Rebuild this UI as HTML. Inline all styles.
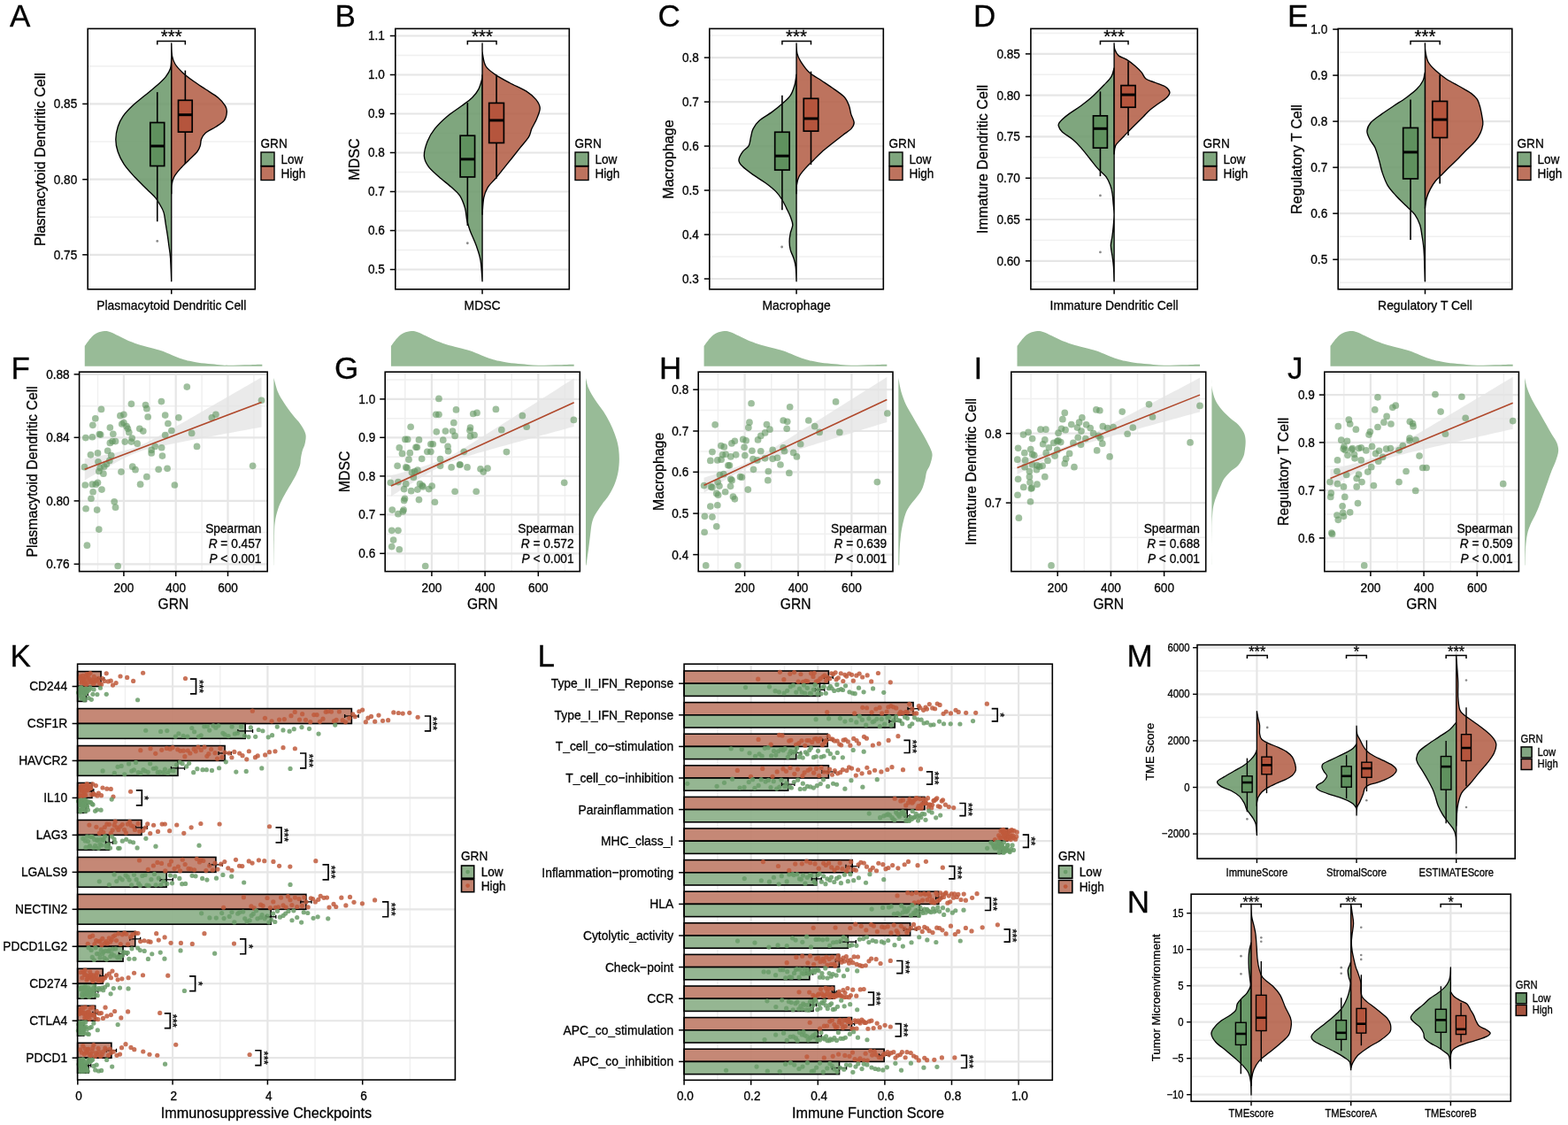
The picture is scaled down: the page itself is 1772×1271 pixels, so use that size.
<!DOCTYPE html><html><head><meta charset="utf-8"><style>html,body{margin:0;padding:0;background:#fff;}svg{display:block;}</style></head><body>
<svg width="1772" height="1271" viewBox="0 0 1772 1271" font-family="'Liberation Sans', Arial, Helvetica, sans-serif" fill="#000">
<style>text{stroke:#000;stroke-width:0.28px;paint-order:stroke;}</style>
<rect width="1772" height="1271" fill="#fff"/>
<line x1="99.2" y1="74.8" x2="288.3" y2="74.8" stroke="#f0f0f0" stroke-width="1.4"/>
<line x1="99.2" y1="160" x2="288.3" y2="160" stroke="#f0f0f0" stroke-width="1.4"/>
<line x1="99.2" y1="245.2" x2="288.3" y2="245.2" stroke="#f0f0f0" stroke-width="1.4"/>
<line x1="99.2" y1="287.8" x2="288.3" y2="287.8" stroke="#e6e6e6" stroke-width="2.2"/>
<line x1="99.2" y1="202.7" x2="288.3" y2="202.7" stroke="#e6e6e6" stroke-width="2.2"/>
<line x1="99.2" y1="117.4" x2="288.3" y2="117.4" stroke="#e6e6e6" stroke-width="2.2"/>
<path d="M193.75,60 C193.74,60.9 193.89,62.53 193.7,65.4 C193.51,68.27 193.65,73.67 192.6,77.2 C191.55,80.73 189.83,83.47 187.4,86.6 C184.97,89.73 181.93,92.47 178,96 C174.07,99.53 168.52,103.87 163.8,107.8 C159.08,111.73 153.83,115.67 149.7,119.6 C145.57,123.53 141.75,127.47 139,131.4 C136.25,135.33 134.57,138.87 133.2,143.2 C131.83,147.53 130.8,152.68 130.8,157.4 C130.8,162.12 131.63,166.78 133.2,171.5 C134.77,176.22 137.07,180.98 140.2,185.7 C143.33,190.42 147.67,195.08 152,199.8 C156.33,204.52 162.27,210.07 166.2,214 C170.13,217.93 173.25,220.65 175.6,223.4 C177.95,226.15 178.73,227.75 180.3,230.5 C181.87,233.25 183.82,235.97 185,239.9 C186.18,243.83 186.68,249.78 187.4,254.1 C188.12,258.42 188.72,261.88 189.3,265.8 C189.88,269.72 190.35,273.27 190.9,277.6 C191.45,281.93 192.12,285.12 192.6,291.8 C193.07,298.48 193.56,313.38 193.75,317.7 L193.75,317.7 L193.75,60 Z" fill="#689667" fill-opacity="0.85" stroke="#000" stroke-width="1.35" stroke-linejoin="round"/>
<path d="M193.75,48.9 C193.88,51.25 193.79,59.07 194.5,63 C195.21,66.93 196.03,69.35 198,72.5 C199.97,75.65 202.95,78.77 206.3,81.9 C209.65,85.03 213.78,88.15 218.1,91.3 C222.42,94.45 227.48,97.65 232.2,100.8 C236.92,103.95 242.67,107.07 246.4,110.2 C250.13,113.33 252.95,116.85 254.6,119.6 C256.25,122.35 256.5,123.95 256.3,126.7 C256.1,129.45 255.45,133.35 253.4,136.1 C251.35,138.85 247.53,140.83 244,143.2 C240.47,145.57 234.95,147.93 232.2,150.3 C229.45,152.67 228.48,155.05 227.5,157.4 C226.52,159.75 227.08,162.05 226.3,164.4 C225.52,166.75 224.97,168.75 222.8,171.5 C220.63,174.25 216.45,177.75 213.3,180.9 C210.15,184.05 206.65,187.25 203.9,190.4 C201.15,193.55 198.45,196.67 196.8,199.8 C195.15,202.93 194.51,206.05 194,209.2 C193.49,212.35 193.79,217.12 193.75,218.7 L193.75,218.7 L193.75,48.9 Z" fill="#b15a42" fill-opacity="0.85" stroke="#000" stroke-width="1.35" stroke-linejoin="round"/>
<line x1="177.75" y1="104.1" x2="177.75" y2="138.5" stroke="#000" stroke-width="1.6"/>
<line x1="177.75" y1="187.5" x2="177.75" y2="250.3" stroke="#000" stroke-width="1.6"/>
<rect x="169.8" y="138.5" width="15.9" height="49" fill="#5f915e" stroke="#000" stroke-width="1.7"/>
<line x1="169.8" y1="165" x2="185.7" y2="165" stroke="#000" stroke-width="3"/>
<line x1="209.35" y1="79.6" x2="209.35" y2="113.3" stroke="#000" stroke-width="1.6"/>
<line x1="209.35" y1="149.1" x2="209.35" y2="184.9" stroke="#000" stroke-width="1.6"/>
<rect x="201.5" y="113.3" width="15.7" height="35.8" fill="#b5553d" stroke="#000" stroke-width="1.7"/>
<line x1="201.5" y1="129.7" x2="217.2" y2="129.7" stroke="#000" stroke-width="3"/>
<circle cx="177.75" cy="272.4" r="1.4" fill="#8a8a8a"/>
<path d="M177.75,50.6 L177.75,46.6 L209.35,46.6 L209.35,50.6" fill="none" stroke="#000" stroke-width="1.5"/>
<text x="193.75" y="47.8" font-size="20.5" text-anchor="middle">***</text>
<rect x="99.2" y="32.4" width="189.1" height="294.4" fill="none" stroke="#000" stroke-width="1.6"/>
<line x1="93.2" y1="287.8" x2="99.2" y2="287.8" stroke="#000" stroke-width="1.5"/>
<text font-size="13.6" text-anchor="end" transform="translate(87.2 292.7) scale(1 1.1)">0.75</text>
<line x1="93.2" y1="202.7" x2="99.2" y2="202.7" stroke="#000" stroke-width="1.5"/>
<text font-size="13.6" text-anchor="end" transform="translate(87.2 207.6) scale(1 1.1)">0.80</text>
<line x1="93.2" y1="117.4" x2="99.2" y2="117.4" stroke="#000" stroke-width="1.5"/>
<text font-size="13.6" text-anchor="end" transform="translate(87.2 122.3) scale(1 1.1)">0.85</text>
<line x1="193.75" y1="326.8" x2="193.75" y2="332.3" stroke="#000" stroke-width="1.5"/>
<text x="193.75" y="349.8" font-size="13.9" text-anchor="middle">Plasmacytoid Dendritic Cell</text>
<text x="50.7" y="180" font-size="16.1" text-anchor="middle" transform="rotate(-90 50.7 180)">Plasmacytoid Dendritic Cell</text>
<text font-size="13.6" text-anchor="start" transform="translate(294.5 166.5) scale(1 1.1)">GRN</text>
<rect x="295" y="172" width="15" height="15.5" fill="#7fa67e" stroke="#000" stroke-width="1.4"/>
<rect x="295" y="188" width="15" height="15.5" fill="#bd735e" stroke="#000" stroke-width="1.4"/>
<text font-size="13.6" text-anchor="start" transform="translate(317.4 185) scale(1 1.1)">Low</text>
<text font-size="13.6" text-anchor="start" transform="translate(317.4 201) scale(1 1.1)">High</text>
<line x1="446.8" y1="282.5" x2="643.3" y2="282.5" stroke="#f0f0f0" stroke-width="1.4"/>
<line x1="446.8" y1="238.5" x2="643.3" y2="238.5" stroke="#f0f0f0" stroke-width="1.4"/>
<line x1="446.8" y1="194.5" x2="643.3" y2="194.5" stroke="#f0f0f0" stroke-width="1.4"/>
<line x1="446.8" y1="150.5" x2="643.3" y2="150.5" stroke="#f0f0f0" stroke-width="1.4"/>
<line x1="446.8" y1="106.5" x2="643.3" y2="106.5" stroke="#f0f0f0" stroke-width="1.4"/>
<line x1="446.8" y1="62.5" x2="643.3" y2="62.5" stroke="#f0f0f0" stroke-width="1.4"/>
<line x1="446.8" y1="304.5" x2="643.3" y2="304.5" stroke="#e6e6e6" stroke-width="2.2"/>
<line x1="446.8" y1="260.5" x2="643.3" y2="260.5" stroke="#e6e6e6" stroke-width="2.2"/>
<line x1="446.8" y1="216.5" x2="643.3" y2="216.5" stroke="#e6e6e6" stroke-width="2.2"/>
<line x1="446.8" y1="172.5" x2="643.3" y2="172.5" stroke="#e6e6e6" stroke-width="2.2"/>
<line x1="446.8" y1="128.5" x2="643.3" y2="128.5" stroke="#e6e6e6" stroke-width="2.2"/>
<line x1="446.8" y1="84.5" x2="643.3" y2="84.5" stroke="#e6e6e6" stroke-width="2.2"/>
<line x1="446.8" y1="40.5" x2="643.3" y2="40.5" stroke="#e6e6e6" stroke-width="2.2"/>
<path d="M545.05,84.97 C545.01,85.63 545.48,86.29 544.77,88.94 C544.06,91.58 542.65,97.29 540.8,100.83 C538.96,104.37 536.89,107.06 533.72,110.18 C530.56,113.3 526.55,115.99 521.83,119.53 C517.11,123.07 510.5,127.08 505.4,131.42 C500.3,135.77 494.97,140.86 491.24,145.58 C487.51,150.3 485.01,154.65 483.02,159.75 C481.04,164.84 479.15,171.45 479.34,176.17 C479.53,180.89 481.37,184.15 484.16,188.07 C486.94,191.99 491.71,195.76 496.05,199.68 C500.4,203.6 506.3,208.04 510.21,211.58 C514.13,215.12 517.01,217.01 519.56,220.93 C522.11,224.84 524.14,230.37 525.51,235.09 C526.88,239.81 526.78,244.91 527.78,249.25 C528.77,253.59 529.71,256.42 531.46,261.15 C533.2,265.87 536.32,272.05 538.25,277.57 C540.19,283.1 541.94,287.58 543.07,294.28 C544.2,300.99 544.72,313.87 545.05,317.79 L545.05,317.79 L545.05,84.97 Z" fill="#689667" fill-opacity="0.85" stroke="#000" stroke-width="1.35" stroke-linejoin="round"/>
<path d="M545.05,49 C545.1,50.94 544.68,56.32 545.34,60.61 C546,64.91 546.66,70.86 549.02,74.77 C551.38,78.69 554.97,80.96 559.5,84.12 C564.03,87.28 570.31,90.59 576.21,93.75 C582.11,96.91 589.99,99.98 594.9,103.1 C599.81,106.21 603.12,109.28 605.67,112.45 C608.21,115.61 610.01,118.54 610.2,122.08 C610.39,125.62 608.36,129.77 606.8,133.69 C605.24,137.61 602.41,142.04 600.85,145.58 C599.29,149.12 599.62,151.39 597.45,154.93 C595.28,158.47 590.98,162.86 587.82,166.83 C584.66,170.79 581.59,174.81 578.47,178.72 C575.36,182.64 572.29,186.42 569.13,190.34 C565.97,194.25 562.47,198.69 559.5,202.23 C556.52,205.77 553.41,208.04 551.28,211.58 C549.16,215.12 547.79,218.38 546.75,223.47 C545.71,228.57 545.34,239.05 545.05,242.17 L545.05,242.17 L545.05,49 Z" fill="#b15a42" fill-opacity="0.85" stroke="#000" stroke-width="1.35" stroke-linejoin="round"/>
<line x1="528.34" y1="116.13" x2="528.34" y2="153.23" stroke="#000" stroke-width="1.6"/>
<line x1="528.34" y1="199.97" x2="528.34" y2="254.91" stroke="#000" stroke-width="1.6"/>
<rect x="520.13" y="153.23" width="16.43" height="46.73" fill="#5f915e" stroke="#000" stroke-width="1.7"/>
<line x1="520.13" y1="179.86" x2="536.56" y2="179.86" stroke="#000" stroke-width="3"/>
<line x1="561.06" y1="84.4" x2="561.06" y2="116.41" stroke="#000" stroke-width="1.6"/>
<line x1="561.06" y1="161.45" x2="561.06" y2="201.67" stroke="#000" stroke-width="1.6"/>
<rect x="552.7" y="116.41" width="16.71" height="45.03" fill="#b5553d" stroke="#000" stroke-width="1.7"/>
<line x1="552.7" y1="135.95" x2="569.41" y2="135.95" stroke="#000" stroke-width="3"/>
<circle cx="528.34" cy="274.74" r="1.4" fill="#8a8a8a"/>
<path d="M528.34,50.6 L528.34,46.6 L561.06,46.6 L561.06,50.6" fill="none" stroke="#000" stroke-width="1.5"/>
<text x="545.05" y="47.8" font-size="20.5" text-anchor="middle">***</text>
<rect x="446.8" y="32.4" width="196.5" height="294.4" fill="none" stroke="#000" stroke-width="1.6"/>
<line x1="440.8" y1="304.5" x2="446.8" y2="304.5" stroke="#000" stroke-width="1.5"/>
<text font-size="13.6" text-anchor="end" transform="translate(434.8 309.4) scale(1 1.1)">0.5</text>
<line x1="440.8" y1="260.5" x2="446.8" y2="260.5" stroke="#000" stroke-width="1.5"/>
<text font-size="13.6" text-anchor="end" transform="translate(434.8 265.4) scale(1 1.1)">0.6</text>
<line x1="440.8" y1="216.5" x2="446.8" y2="216.5" stroke="#000" stroke-width="1.5"/>
<text font-size="13.6" text-anchor="end" transform="translate(434.8 221.4) scale(1 1.1)">0.7</text>
<line x1="440.8" y1="172.5" x2="446.8" y2="172.5" stroke="#000" stroke-width="1.5"/>
<text font-size="13.6" text-anchor="end" transform="translate(434.8 177.4) scale(1 1.1)">0.8</text>
<line x1="440.8" y1="128.5" x2="446.8" y2="128.5" stroke="#000" stroke-width="1.5"/>
<text font-size="13.6" text-anchor="end" transform="translate(434.8 133.4) scale(1 1.1)">0.9</text>
<line x1="440.8" y1="84.5" x2="446.8" y2="84.5" stroke="#000" stroke-width="1.5"/>
<text font-size="13.6" text-anchor="end" transform="translate(434.8 89.4) scale(1 1.1)">1.0</text>
<line x1="440.8" y1="40.5" x2="446.8" y2="40.5" stroke="#000" stroke-width="1.5"/>
<text font-size="13.6" text-anchor="end" transform="translate(434.8 45.4) scale(1 1.1)">1.1</text>
<line x1="545.05" y1="326.8" x2="545.05" y2="332.3" stroke="#000" stroke-width="1.5"/>
<text x="545.05" y="349.8" font-size="13.9" text-anchor="middle">MDSC</text>
<text x="405.7" y="180" font-size="16.1" text-anchor="middle" transform="rotate(-90 405.7 180)">MDSC</text>
<text font-size="13.6" text-anchor="start" transform="translate(649.5 166.5) scale(1 1.1)">GRN</text>
<rect x="650" y="172" width="15" height="15.5" fill="#7fa67e" stroke="#000" stroke-width="1.4"/>
<rect x="650" y="188" width="15" height="15.5" fill="#bd735e" stroke="#000" stroke-width="1.4"/>
<text font-size="13.6" text-anchor="start" transform="translate(672.4 185) scale(1 1.1)">Low</text>
<text font-size="13.6" text-anchor="start" transform="translate(672.4 201) scale(1 1.1)">High</text>
<line x1="801.8" y1="290.01" x2="998.3" y2="290.01" stroke="#f0f0f0" stroke-width="1.4"/>
<line x1="801.8" y1="240.03" x2="998.3" y2="240.03" stroke="#f0f0f0" stroke-width="1.4"/>
<line x1="801.8" y1="190.05" x2="998.3" y2="190.05" stroke="#f0f0f0" stroke-width="1.4"/>
<line x1="801.8" y1="140.07" x2="998.3" y2="140.07" stroke="#f0f0f0" stroke-width="1.4"/>
<line x1="801.8" y1="90.09" x2="998.3" y2="90.09" stroke="#f0f0f0" stroke-width="1.4"/>
<line x1="801.8" y1="40.11" x2="998.3" y2="40.11" stroke="#f0f0f0" stroke-width="1.4"/>
<line x1="801.8" y1="315" x2="998.3" y2="315" stroke="#e6e6e6" stroke-width="2.2"/>
<line x1="801.8" y1="265.02" x2="998.3" y2="265.02" stroke="#e6e6e6" stroke-width="2.2"/>
<line x1="801.8" y1="215.04" x2="998.3" y2="215.04" stroke="#e6e6e6" stroke-width="2.2"/>
<line x1="801.8" y1="165.06" x2="998.3" y2="165.06" stroke="#e6e6e6" stroke-width="2.2"/>
<line x1="801.8" y1="115.08" x2="998.3" y2="115.08" stroke="#e6e6e6" stroke-width="2.2"/>
<line x1="801.8" y1="65.1" x2="998.3" y2="65.1" stroke="#e6e6e6" stroke-width="2.2"/>
<path d="M900.05,84.12 C899.72,86.1 899.2,92.05 898.07,96.02 C896.94,99.98 895.62,104.37 893.25,107.91 C890.89,111.45 887.4,114.14 883.91,117.26 C880.41,120.38 876.59,123.44 872.3,126.61 C868,129.77 861.67,133.07 858.13,136.24 C854.59,139.4 852.66,142.47 851.05,145.58 C849.45,148.7 849.31,151.77 848.5,154.93 C847.7,158.09 847.8,161.78 846.24,164.56 C844.68,167.35 841.04,168.9 839.16,171.64 C837.27,174.38 834.91,178.25 834.91,180.99 C834.91,183.73 836.47,185.33 839.16,188.07 C841.85,190.81 846.71,194.3 851.05,197.42 C855.4,200.53 860.92,203.6 865.21,206.76 C869.51,209.93 873.71,213.23 876.83,216.39 C879.94,219.56 881.93,222.63 883.91,225.74 C885.89,228.86 887.17,231.92 888.72,235.09 C890.28,238.25 892.07,241.55 893.25,244.72 C894.44,247.88 895.8,250.95 895.8,254.06 C895.8,257.18 893.87,260.25 893.25,263.41 C892.64,266.57 892.12,269.88 892.12,273.04 C892.12,276.2 892.45,279.27 893.25,282.39 C894.06,285.5 895.95,288.57 896.94,291.74 C897.93,294.9 898.68,297.02 899.2,301.37 C899.72,305.71 899.91,315.06 900.05,317.79 L900.05,317.79 L900.05,84.12 Z" fill="#689667" fill-opacity="0.85" stroke="#000" stroke-width="1.35" stroke-linejoin="round"/>
<path d="M900.05,49 C900.19,50.94 900.05,57.12 900.9,60.61 C901.75,64.11 902.89,66.42 905.15,69.96 C907.42,73.5 910.58,78.32 914.5,81.86 C918.42,85.4 923.94,88.04 928.66,91.2 C933.38,94.37 938.48,97.67 942.82,100.83 C947.16,104 951.93,107.06 954.72,110.18 C957.5,113.3 958.35,116.36 959.53,119.53 C960.71,122.69 960.85,125.99 961.8,129.16 C962.74,132.32 965.2,135.77 965.2,138.5 C965.2,141.24 963.92,143.22 961.8,145.58 C959.67,147.94 955.99,149.93 952.45,152.67 C948.91,155.4 944.52,158.85 940.56,162.01 C936.59,165.17 932.2,168.48 928.66,171.64 C925.12,174.81 922.43,177.87 919.31,180.99 C916.2,184.1 912.7,187.22 909.97,190.34 C907.23,193.45 904.49,196.52 902.89,199.68 C901.28,202.85 900.81,206.15 900.34,209.31 C899.86,212.48 900.1,217.1 900.05,218.66 L900.05,218.66 L900.05,49 Z" fill="#b15a42" fill-opacity="0.85" stroke="#000" stroke-width="1.35" stroke-linejoin="round"/>
<line x1="883.91" y1="107.63" x2="883.91" y2="149.27" stroke="#000" stroke-width="1.6"/>
<line x1="883.91" y1="192.04" x2="883.91" y2="237.35" stroke="#000" stroke-width="1.6"/>
<rect x="875.69" y="149.27" width="16.43" height="42.77" fill="#5f915e" stroke="#000" stroke-width="1.7"/>
<line x1="875.69" y1="176.17" x2="892.12" y2="176.17" stroke="#000" stroke-width="3"/>
<line x1="916.48" y1="80.72" x2="916.48" y2="111.31" stroke="#000" stroke-width="1.6"/>
<line x1="916.48" y1="148.13" x2="916.48" y2="186.09" stroke="#000" stroke-width="1.6"/>
<rect x="908.27" y="111.31" width="16.43" height="36.82" fill="#b5553d" stroke="#000" stroke-width="1.7"/>
<line x1="908.27" y1="133.97" x2="924.69" y2="133.97" stroke="#000" stroke-width="3"/>
<circle cx="883.62" cy="278.99" r="1.4" fill="#8a8a8a"/>
<path d="M883.91,50.6 L883.91,46.6 L916.48,46.6 L916.48,50.6" fill="none" stroke="#000" stroke-width="1.5"/>
<text x="900.05" y="47.8" font-size="20.5" text-anchor="middle">***</text>
<rect x="801.8" y="32.4" width="196.5" height="294.4" fill="none" stroke="#000" stroke-width="1.6"/>
<line x1="795.8" y1="315" x2="801.8" y2="315" stroke="#000" stroke-width="1.5"/>
<text font-size="13.6" text-anchor="end" transform="translate(789.8 319.9) scale(1 1.1)">0.3</text>
<line x1="795.8" y1="265.02" x2="801.8" y2="265.02" stroke="#000" stroke-width="1.5"/>
<text font-size="13.6" text-anchor="end" transform="translate(789.8 269.92) scale(1 1.1)">0.4</text>
<line x1="795.8" y1="215.04" x2="801.8" y2="215.04" stroke="#000" stroke-width="1.5"/>
<text font-size="13.6" text-anchor="end" transform="translate(789.8 219.94) scale(1 1.1)">0.5</text>
<line x1="795.8" y1="165.06" x2="801.8" y2="165.06" stroke="#000" stroke-width="1.5"/>
<text font-size="13.6" text-anchor="end" transform="translate(789.8 169.96) scale(1 1.1)">0.6</text>
<line x1="795.8" y1="115.08" x2="801.8" y2="115.08" stroke="#000" stroke-width="1.5"/>
<text font-size="13.6" text-anchor="end" transform="translate(789.8 119.98) scale(1 1.1)">0.7</text>
<line x1="795.8" y1="65.1" x2="801.8" y2="65.1" stroke="#000" stroke-width="1.5"/>
<text font-size="13.6" text-anchor="end" transform="translate(789.8 70) scale(1 1.1)">0.8</text>
<line x1="900.05" y1="326.8" x2="900.05" y2="332.3" stroke="#000" stroke-width="1.5"/>
<text x="900.05" y="349.8" font-size="13.9" text-anchor="middle">Macrophage</text>
<text x="760.7" y="180" font-size="16.1" text-anchor="middle" transform="rotate(-90 760.7 180)">Macrophage</text>
<text font-size="13.6" text-anchor="start" transform="translate(1004.5 166.5) scale(1 1.1)">GRN</text>
<rect x="1005" y="172" width="15" height="15.5" fill="#7fa67e" stroke="#000" stroke-width="1.4"/>
<rect x="1005" y="188" width="15" height="15.5" fill="#bd735e" stroke="#000" stroke-width="1.4"/>
<text font-size="13.6" text-anchor="start" transform="translate(1027.4 185) scale(1 1.1)">Low</text>
<text font-size="13.6" text-anchor="start" transform="translate(1027.4 201) scale(1 1.1)">High</text>
<line x1="1164.9" y1="318.19" x2="1353.3" y2="318.19" stroke="#f0f0f0" stroke-width="1.4"/>
<line x1="1164.9" y1="271.41" x2="1353.3" y2="271.41" stroke="#f0f0f0" stroke-width="1.4"/>
<line x1="1164.9" y1="224.63" x2="1353.3" y2="224.63" stroke="#f0f0f0" stroke-width="1.4"/>
<line x1="1164.9" y1="177.85" x2="1353.3" y2="177.85" stroke="#f0f0f0" stroke-width="1.4"/>
<line x1="1164.9" y1="131.07" x2="1353.3" y2="131.07" stroke="#f0f0f0" stroke-width="1.4"/>
<line x1="1164.9" y1="84.29" x2="1353.3" y2="84.29" stroke="#f0f0f0" stroke-width="1.4"/>
<line x1="1164.9" y1="37.51" x2="1353.3" y2="37.51" stroke="#f0f0f0" stroke-width="1.4"/>
<line x1="1164.9" y1="294.8" x2="1353.3" y2="294.8" stroke="#e6e6e6" stroke-width="2.2"/>
<line x1="1164.9" y1="248.02" x2="1353.3" y2="248.02" stroke="#e6e6e6" stroke-width="2.2"/>
<line x1="1164.9" y1="201.24" x2="1353.3" y2="201.24" stroke="#e6e6e6" stroke-width="2.2"/>
<line x1="1164.9" y1="154.46" x2="1353.3" y2="154.46" stroke="#e6e6e6" stroke-width="2.2"/>
<line x1="1164.9" y1="107.68" x2="1353.3" y2="107.68" stroke="#e6e6e6" stroke-width="2.2"/>
<line x1="1164.9" y1="60.9" x2="1353.3" y2="60.9" stroke="#e6e6e6" stroke-width="2.2"/>
<path d="M1259.02,77.04 C1258.5,78.65 1257.79,83.51 1255.9,86.67 C1254.01,89.83 1251.04,92.48 1247.69,96.02 C1244.34,99.56 1240.14,104 1235.79,107.91 C1231.45,111.83 1226.35,115.99 1221.63,119.53 C1216.91,123.07 1211.39,126.18 1207.47,129.16 C1203.55,132.13 1200.01,135.25 1198.12,137.37 C1196.23,139.49 1195.76,139.97 1196.14,141.9 C1196.52,143.84 1197.7,146.39 1200.39,148.98 C1203.08,151.58 1208.74,154.51 1212.28,157.48 C1215.82,160.45 1218.47,163.29 1221.63,166.83 C1224.79,170.37 1228.1,174.81 1231.26,178.72 C1234.42,182.64 1237.49,186.84 1240.61,190.34 C1243.72,193.83 1247.59,196.52 1249.95,199.68 C1252.31,202.85 1253.59,206.15 1254.77,209.31 C1255.95,212.48 1256.47,215.12 1257.04,218.66 C1257.6,222.2 1257.84,226.64 1258.17,230.56 C1258.5,234.47 1259.02,237.87 1259.02,242.17 C1259.02,246.46 1258.55,251.99 1258.17,256.33 C1257.79,260.67 1257.22,264.69 1256.75,268.23 C1256.28,271.77 1255.29,274.03 1255.34,277.57 C1255.38,281.11 1256.52,285.5 1257.04,289.47 C1257.55,293.43 1258.12,296.64 1258.45,301.37 C1258.78,306.09 1258.92,315.06 1259.02,317.79 L1259.1,317.79 L1259.1,77.04 Z" fill="#689667" fill-opacity="0.85" stroke="#000" stroke-width="1.35" stroke-linejoin="round"/>
<path d="M1259.02,49 C1259.16,50.18 1259.02,53.77 1259.87,56.08 C1260.72,58.39 1261.8,60.94 1264.12,62.88 C1266.43,64.81 1270.58,65.71 1273.75,67.69 C1276.91,69.68 1280.36,72.41 1283.09,74.77 C1285.83,77.14 1288.19,79.5 1290.17,81.86 C1292.16,84.22 1292.25,86.95 1294.99,88.94 C1297.73,90.92 1302.87,92.19 1306.6,93.75 C1310.33,95.31 1314.82,96.54 1317.37,98.28 C1319.91,100.03 1321.71,102.25 1321.9,104.23 C1322.09,106.21 1320.67,108.01 1318.5,110.18 C1316.33,112.35 1312.03,114.9 1308.87,117.26 C1305.71,119.62 1302.26,121.98 1299.52,124.34 C1296.78,126.7 1294.8,129.06 1292.44,131.42 C1290.08,133.78 1288.1,135.77 1285.36,138.5 C1282.62,141.24 1279.13,144.69 1276.01,147.85 C1272.9,151.01 1269.21,154.7 1266.67,157.48 C1264.12,160.27 1261.99,161.82 1260.72,164.56 C1259.44,167.3 1259.3,172.35 1259.02,173.91 L1259.1,173.91 L1259.1,49 Z" fill="#b15a42" fill-opacity="0.85" stroke="#000" stroke-width="1.35" stroke-linejoin="round"/>
<line x1="1243.44" y1="103.38" x2="1243.44" y2="130.86" stroke="#000" stroke-width="1.6"/>
<line x1="1243.44" y1="167.11" x2="1243.44" y2="199.12" stroke="#000" stroke-width="1.6"/>
<rect x="1235.51" y="130.86" width="15.86" height="36.25" fill="#5f915e" stroke="#000" stroke-width="1.7"/>
<line x1="1235.51" y1="145.3" x2="1251.37" y2="145.3" stroke="#000" stroke-width="3"/>
<line x1="1275.02" y1="69.39" x2="1275.02" y2="96.58" stroke="#000" stroke-width="1.6"/>
<line x1="1275.02" y1="121.23" x2="1275.02" y2="152.95" stroke="#000" stroke-width="1.6"/>
<rect x="1266.95" y="96.58" width="16.14" height="24.64" fill="#b5553d" stroke="#000" stroke-width="1.7"/>
<line x1="1266.95" y1="107.06" x2="1283.09" y2="107.06" stroke="#000" stroke-width="3"/>
<circle cx="1243.44" cy="220.93" r="1.4" fill="#8a8a8a"/>
<circle cx="1243.44" cy="284.94" r="1.4" fill="#8a8a8a"/>
<path d="M1243.44,50.6 L1243.44,46.6 L1275.02,46.6 L1275.02,50.6" fill="none" stroke="#000" stroke-width="1.5"/>
<text x="1259.1" y="47.8" font-size="20.5" text-anchor="middle">***</text>
<rect x="1164.9" y="32.4" width="188.4" height="294.4" fill="none" stroke="#000" stroke-width="1.6"/>
<line x1="1158.9" y1="294.8" x2="1164.9" y2="294.8" stroke="#000" stroke-width="1.5"/>
<text font-size="13.6" text-anchor="end" transform="translate(1152.9 299.7) scale(1 1.1)">0.60</text>
<line x1="1158.9" y1="248.02" x2="1164.9" y2="248.02" stroke="#000" stroke-width="1.5"/>
<text font-size="13.6" text-anchor="end" transform="translate(1152.9 252.92) scale(1 1.1)">0.65</text>
<line x1="1158.9" y1="201.24" x2="1164.9" y2="201.24" stroke="#000" stroke-width="1.5"/>
<text font-size="13.6" text-anchor="end" transform="translate(1152.9 206.14) scale(1 1.1)">0.70</text>
<line x1="1158.9" y1="154.46" x2="1164.9" y2="154.46" stroke="#000" stroke-width="1.5"/>
<text font-size="13.6" text-anchor="end" transform="translate(1152.9 159.36) scale(1 1.1)">0.75</text>
<line x1="1158.9" y1="107.68" x2="1164.9" y2="107.68" stroke="#000" stroke-width="1.5"/>
<text font-size="13.6" text-anchor="end" transform="translate(1152.9 112.58) scale(1 1.1)">0.80</text>
<line x1="1158.9" y1="60.9" x2="1164.9" y2="60.9" stroke="#000" stroke-width="1.5"/>
<text font-size="13.6" text-anchor="end" transform="translate(1152.9 65.8) scale(1 1.1)">0.85</text>
<line x1="1259.1" y1="326.8" x2="1259.1" y2="332.3" stroke="#000" stroke-width="1.5"/>
<text x="1259.1" y="349.8" font-size="13.9" text-anchor="middle">Immature Dendritic Cell</text>
<text x="1115.7" y="180" font-size="16.1" text-anchor="middle" transform="rotate(-90 1115.7 180)">Immature Dendritic Cell</text>
<text font-size="13.6" text-anchor="start" transform="translate(1359.5 166.5) scale(1 1.1)">GRN</text>
<rect x="1360" y="172" width="15" height="15.5" fill="#7fa67e" stroke="#000" stroke-width="1.4"/>
<rect x="1360" y="188" width="15" height="15.5" fill="#bd735e" stroke="#000" stroke-width="1.4"/>
<text font-size="13.6" text-anchor="start" transform="translate(1382.4 185) scale(1 1.1)">Low</text>
<text font-size="13.6" text-anchor="start" transform="translate(1382.4 201) scale(1 1.1)">High</text>
<line x1="1512.2" y1="319.21" x2="1708.8" y2="319.21" stroke="#f0f0f0" stroke-width="1.4"/>
<line x1="1512.2" y1="267.19" x2="1708.8" y2="267.19" stroke="#f0f0f0" stroke-width="1.4"/>
<line x1="1512.2" y1="215.17" x2="1708.8" y2="215.17" stroke="#f0f0f0" stroke-width="1.4"/>
<line x1="1512.2" y1="163.15" x2="1708.8" y2="163.15" stroke="#f0f0f0" stroke-width="1.4"/>
<line x1="1512.2" y1="111.13" x2="1708.8" y2="111.13" stroke="#f0f0f0" stroke-width="1.4"/>
<line x1="1512.2" y1="59.11" x2="1708.8" y2="59.11" stroke="#f0f0f0" stroke-width="1.4"/>
<line x1="1512.2" y1="293.2" x2="1708.8" y2="293.2" stroke="#e6e6e6" stroke-width="2.2"/>
<line x1="1512.2" y1="241.18" x2="1708.8" y2="241.18" stroke="#e6e6e6" stroke-width="2.2"/>
<line x1="1512.2" y1="189.16" x2="1708.8" y2="189.16" stroke="#e6e6e6" stroke-width="2.2"/>
<line x1="1512.2" y1="137.14" x2="1708.8" y2="137.14" stroke="#e6e6e6" stroke-width="2.2"/>
<line x1="1512.2" y1="85.12" x2="1708.8" y2="85.12" stroke="#e6e6e6" stroke-width="2.2"/>
<line x1="1512.2" y1="33.1" x2="1708.8" y2="33.1" stroke="#e6e6e6" stroke-width="2.2"/>
<path d="M1610.34,81.86 C1609.96,83.41 1609.63,88.04 1608.07,91.2 C1606.51,94.37 1604.1,97.67 1600.99,100.83 C1597.87,104 1593.67,107.06 1589.38,110.18 C1585.08,113.3 1579.94,116.36 1575.21,119.53 C1570.49,122.69 1565.4,125.99 1561.05,129.16 C1556.71,132.32 1551.85,135.39 1549.16,138.5 C1546.47,141.62 1545.1,144.69 1544.91,147.85 C1544.72,151.01 1546.51,154.32 1548.02,157.48 C1549.53,160.64 1552.22,162.91 1553.97,166.83 C1555.72,170.75 1557.13,176.27 1558.5,180.99 C1559.87,185.71 1560.58,190.43 1562.19,195.15 C1563.79,199.87 1565.58,205.02 1568.13,209.31 C1570.68,213.61 1573.94,217.01 1577.48,220.93 C1581.02,224.84 1585.84,229.28 1589.38,232.82 C1592.92,236.36 1596.17,238.63 1598.72,242.17 C1601.27,245.71 1603.3,250.1 1604.67,254.06 C1606.04,258.03 1606.28,262.04 1606.94,265.96 C1607.6,269.88 1608.21,273.66 1608.64,277.57 C1609.06,281.49 1609.2,282.77 1609.49,289.47 C1609.77,296.17 1610.19,313.07 1610.34,317.79 L1610.5,317.79 L1610.5,81.86 Z" fill="#689667" fill-opacity="0.85" stroke="#000" stroke-width="1.35" stroke-linejoin="round"/>
<path d="M1610.34,49 C1610.43,50.56 1610.29,54.85 1610.9,58.35 C1611.52,61.84 1612.13,66.42 1614.02,69.96 C1615.91,73.5 1618.88,76.43 1622.23,79.59 C1625.58,82.75 1629.41,85.82 1634.13,88.94 C1638.85,92.05 1645.84,95.55 1650.56,98.28 C1655.28,101.02 1659.29,103 1662.45,105.36 C1665.61,107.72 1667.79,109.66 1669.53,112.45 C1671.28,115.23 1671.99,118.54 1672.93,122.08 C1673.88,125.62 1674.73,130.57 1675.2,133.69 C1675.67,136.8 1676.14,137.98 1675.76,140.77 C1675.39,143.55 1674.39,147.24 1672.93,150.4 C1671.47,153.56 1669.53,156.63 1666.98,159.75 C1664.43,162.86 1660.75,165.93 1657.64,169.09 C1654.52,172.26 1651.45,175.56 1648.29,178.72 C1645.13,181.89 1641.82,184.95 1638.66,188.07 C1635.5,191.19 1632.05,194.68 1629.31,197.42 C1626.57,200.15 1624.4,201.76 1622.23,204.5 C1620.06,207.24 1617.94,210.68 1616.28,213.84 C1614.63,217.01 1613.31,219.93 1612.32,223.47 C1611.33,227.02 1610.67,233.15 1610.34,235.09 L1610.5,235.09 L1610.5,49 Z" fill="#b15a42" fill-opacity="0.85" stroke="#000" stroke-width="1.35" stroke-linejoin="round"/>
<line x1="1594.05" y1="112.45" x2="1594.05" y2="144.45" stroke="#000" stroke-width="1.6"/>
<line x1="1594.05" y1="201.95" x2="1594.05" y2="271.06" stroke="#000" stroke-width="1.6"/>
<rect x="1585.69" y="144.45" width="16.71" height="57.5" fill="#5f915e" stroke="#000" stroke-width="1.7"/>
<line x1="1585.69" y1="171.93" x2="1602.41" y2="171.93" stroke="#000" stroke-width="3"/>
<line x1="1627.19" y1="84.4" x2="1627.19" y2="114.43" stroke="#000" stroke-width="1.6"/>
<line x1="1627.19" y1="155.5" x2="1627.19" y2="207.61" stroke="#000" stroke-width="1.6"/>
<rect x="1618.83" y="114.43" width="16.71" height="41.07" fill="#b5553d" stroke="#000" stroke-width="1.7"/>
<line x1="1618.83" y1="135.1" x2="1635.54" y2="135.1" stroke="#000" stroke-width="3"/>
<path d="M1594.05,50.6 L1594.05,46.6 L1627.19,46.6 L1627.19,50.6" fill="none" stroke="#000" stroke-width="1.5"/>
<text x="1610.5" y="47.8" font-size="20.5" text-anchor="middle">***</text>
<rect x="1512.2" y="32.4" width="196.6" height="294.4" fill="none" stroke="#000" stroke-width="1.6"/>
<line x1="1506.2" y1="293.2" x2="1512.2" y2="293.2" stroke="#000" stroke-width="1.5"/>
<text font-size="13.6" text-anchor="end" transform="translate(1500.2 298.1) scale(1 1.1)">0.5</text>
<line x1="1506.2" y1="241.18" x2="1512.2" y2="241.18" stroke="#000" stroke-width="1.5"/>
<text font-size="13.6" text-anchor="end" transform="translate(1500.2 246.08) scale(1 1.1)">0.6</text>
<line x1="1506.2" y1="189.16" x2="1512.2" y2="189.16" stroke="#000" stroke-width="1.5"/>
<text font-size="13.6" text-anchor="end" transform="translate(1500.2 194.06) scale(1 1.1)">0.7</text>
<line x1="1506.2" y1="137.14" x2="1512.2" y2="137.14" stroke="#000" stroke-width="1.5"/>
<text font-size="13.6" text-anchor="end" transform="translate(1500.2 142.04) scale(1 1.1)">0.8</text>
<line x1="1506.2" y1="85.12" x2="1512.2" y2="85.12" stroke="#000" stroke-width="1.5"/>
<text font-size="13.6" text-anchor="end" transform="translate(1500.2 90.02) scale(1 1.1)">0.9</text>
<line x1="1506.2" y1="33.1" x2="1512.2" y2="33.1" stroke="#000" stroke-width="1.5"/>
<text font-size="13.6" text-anchor="end" transform="translate(1500.2 38) scale(1 1.1)">1.0</text>
<line x1="1610.5" y1="326.8" x2="1610.5" y2="332.3" stroke="#000" stroke-width="1.5"/>
<text x="1610.5" y="349.8" font-size="13.9" text-anchor="middle">Regulatory T Cell</text>
<text x="1470.7" y="180" font-size="16.1" text-anchor="middle" transform="rotate(-90 1470.7 180)">Regulatory T Cell</text>
<text font-size="13.6" text-anchor="start" transform="translate(1714.5 166.5) scale(1 1.1)">GRN</text>
<rect x="1715" y="172" width="15" height="15.5" fill="#7fa67e" stroke="#000" stroke-width="1.4"/>
<rect x="1715" y="188" width="15" height="15.5" fill="#bd735e" stroke="#000" stroke-width="1.4"/>
<text font-size="13.6" text-anchor="start" transform="translate(1737.4 185) scale(1 1.1)">Low</text>
<text font-size="13.6" text-anchor="start" transform="translate(1737.4 201) scale(1 1.1)">High</text>
<text x="11" y="29.5" font-size="35" text-anchor="start">A</text>
<text x="378.5" y="29.5" font-size="35" text-anchor="start">B</text>
<text x="743.5" y="29.5" font-size="35" text-anchor="start">C</text>
<text x="1100" y="29.5" font-size="35" text-anchor="start">D</text>
<text x="1455" y="29.5" font-size="35" text-anchor="start">E</text>
<g>
<line x1="89.6" y1="601.57" x2="302.2" y2="601.57" stroke="#f0f0f0" stroke-width="1.5"/>
<line x1="89.6" y1="530.1" x2="302.2" y2="530.1" stroke="#f0f0f0" stroke-width="1.5"/>
<line x1="89.6" y1="458.63" x2="302.2" y2="458.63" stroke="#f0f0f0" stroke-width="1.5"/>
<line x1="110.5" y1="420.2" x2="110.5" y2="645.6" stroke="#f0f0f0" stroke-width="1.5"/>
<line x1="169.3" y1="420.2" x2="169.3" y2="645.6" stroke="#f0f0f0" stroke-width="1.5"/>
<line x1="228.1" y1="420.2" x2="228.1" y2="645.6" stroke="#f0f0f0" stroke-width="1.5"/>
<line x1="286.9" y1="420.2" x2="286.9" y2="645.6" stroke="#f0f0f0" stroke-width="1.5"/>
<line x1="89.6" y1="637.3" x2="302.2" y2="637.3" stroke="#e6e6e6" stroke-width="2.2"/>
<line x1="89.6" y1="565.9" x2="302.2" y2="565.9" stroke="#e6e6e6" stroke-width="2.2"/>
<line x1="89.6" y1="494.3" x2="302.2" y2="494.3" stroke="#e6e6e6" stroke-width="2.2"/>
<line x1="89.6" y1="422.9" x2="302.2" y2="422.9" stroke="#e6e6e6" stroke-width="2.2"/>
<line x1="139.9" y1="420.2" x2="139.9" y2="645.6" stroke="#e6e6e6" stroke-width="2.2"/>
<line x1="198.7" y1="420.2" x2="198.7" y2="645.6" stroke="#e6e6e6" stroke-width="2.2"/>
<line x1="257.5" y1="420.2" x2="257.5" y2="645.6" stroke="#e6e6e6" stroke-width="2.2"/>
<path d="M95.75,518.33 L100.74,517.38 L105.74,516.42 L110.73,515.46 L115.73,514.48 L120.72,513.48 L125.72,512.45 L130.71,511.39 L135.7,510.28 L140.7,509.07 L145.69,507.73 L150.69,506.19 L155.68,504.36 L160.68,502.24 L165.67,499.88 L170.67,497.34 L175.66,494.7 L180.66,491.99 L185.65,489.23 L190.65,486.44 L195.64,483.63 L200.64,480.81 L205.63,477.97 L210.62,475.13 L215.62,472.28 L220.61,469.42 L225.61,466.56 L230.6,463.7 L235.6,460.83 L240.59,457.96 L245.59,455.09 L250.58,452.22 L255.58,449.35 L260.57,446.47 L265.57,443.6 L270.56,440.72 L275.55,437.84 L280.55,434.97 L285.54,432.09 L290.54,429.21 L295.53,426.33 L295.53,482.49 L290.54,483.41 L285.54,484.33 L280.55,485.25 L275.55,486.17 L270.56,487.09 L265.57,488.01 L260.57,488.93 L255.58,489.86 L250.58,490.78 L245.59,491.71 L240.59,492.63 L235.6,493.56 L230.6,494.5 L225.61,495.43 L220.61,496.37 L215.62,497.31 L210.62,498.26 L205.63,499.21 L200.64,500.17 L195.64,501.15 L190.65,502.14 L185.65,503.14 L180.66,504.18 L175.66,505.27 L170.67,506.42 L165.67,507.69 L160.68,509.12 L155.68,510.8 L150.69,512.77 L145.69,515.02 L140.7,517.48 L135.7,520.07 L130.71,522.75 L125.72,525.49 L120.72,528.27 L115.73,531.07 L110.73,533.88 L105.74,536.71 L100.74,539.55 L95.75,542.4Z" fill="#e3e3e3" fill-opacity="0.75"/>
<circle cx="211.29" cy="437.03" r="3.85" fill="#5f955e" fill-opacity="0.6"/>
<circle cx="295.53" cy="452.27" r="3.85" fill="#5f955e" fill-opacity="0.6"/>
<circle cx="182.4" cy="453.61" r="3.85" fill="#5f955e" fill-opacity="0.6"/>
<circle cx="148.44" cy="456.28" r="3.85" fill="#5f955e" fill-opacity="0.6"/>
<circle cx="164.48" cy="457.62" r="3.85" fill="#5f955e" fill-opacity="0.6"/>
<circle cx="165.82" cy="461.63" r="3.85" fill="#5f955e" fill-opacity="0.6"/>
<circle cx="114.47" cy="462.43" r="3.85" fill="#5f955e" fill-opacity="0.6"/>
<circle cx="186.68" cy="469.12" r="3.85" fill="#5f955e" fill-opacity="0.6"/>
<circle cx="167.16" cy="470.99" r="3.85" fill="#5f955e" fill-opacity="0.6"/>
<circle cx="201.93" cy="471.79" r="3.85" fill="#5f955e" fill-opacity="0.6"/>
<circle cx="135.87" cy="469.65" r="3.85" fill="#5f955e" fill-opacity="0.6"/>
<circle cx="139.88" cy="468.32" r="3.85" fill="#5f955e" fill-opacity="0.6"/>
<circle cx="107.78" cy="472.86" r="3.85" fill="#5f955e" fill-opacity="0.6"/>
<circle cx="243.92" cy="468.32" r="3.85" fill="#5f955e" fill-opacity="0.6"/>
<circle cx="239.37" cy="471.79" r="3.85" fill="#5f955e" fill-opacity="0.6"/>
<circle cx="104.84" cy="480.35" r="3.85" fill="#5f955e" fill-opacity="0.6"/>
<circle cx="139.88" cy="477.68" r="3.85" fill="#5f955e" fill-opacity="0.6"/>
<circle cx="189.89" cy="478.48" r="3.85" fill="#5f955e" fill-opacity="0.6"/>
<circle cx="137.74" cy="479.02" r="3.85" fill="#5f955e" fill-opacity="0.6"/>
<circle cx="143.09" cy="481.69" r="3.85" fill="#5f955e" fill-opacity="0.6"/>
<circle cx="124.36" cy="483.03" r="3.85" fill="#5f955e" fill-opacity="0.6"/>
<circle cx="144.42" cy="484.36" r="3.85" fill="#5f955e" fill-opacity="0.6"/>
<circle cx="157.8" cy="484.36" r="3.85" fill="#5f955e" fill-opacity="0.6"/>
<circle cx="161.81" cy="487.04" r="3.85" fill="#5f955e" fill-opacity="0.6"/>
<circle cx="145.76" cy="488.38" r="3.85" fill="#5f955e" fill-opacity="0.6"/>
<circle cx="193.9" cy="486.5" r="3.85" fill="#5f955e" fill-opacity="0.6"/>
<circle cx="112.33" cy="490.52" r="3.85" fill="#5f955e" fill-opacity="0.6"/>
<circle cx="113.67" cy="491.05" r="3.85" fill="#5f955e" fill-opacity="0.6"/>
<circle cx="127.84" cy="490.25" r="3.85" fill="#5f955e" fill-opacity="0.6"/>
<circle cx="186.68" cy="491.59" r="3.85" fill="#5f955e" fill-opacity="0.6"/>
<circle cx="216.64" cy="489.45" r="3.85" fill="#5f955e" fill-opacity="0.6"/>
<circle cx="96.82" cy="494.53" r="3.85" fill="#5f955e" fill-opacity="0.6"/>
<circle cx="104.31" cy="493.73" r="3.85" fill="#5f955e" fill-opacity="0.6"/>
<circle cx="149.24" cy="495.06" r="3.85" fill="#5f955e" fill-opacity="0.6"/>
<circle cx="127.04" cy="498.54" r="3.85" fill="#5f955e" fill-opacity="0.6"/>
<circle cx="130.52" cy="498.54" r="3.85" fill="#5f955e" fill-opacity="0.6"/>
<circle cx="124.36" cy="500.41" r="3.85" fill="#5f955e" fill-opacity="0.6"/>
<circle cx="141.21" cy="499.07" r="3.85" fill="#5f955e" fill-opacity="0.6"/>
<circle cx="148.44" cy="499.07" r="3.85" fill="#5f955e" fill-opacity="0.6"/>
<circle cx="155.12" cy="501.21" r="3.85" fill="#5f955e" fill-opacity="0.6"/>
<circle cx="175.18" cy="504.42" r="3.85" fill="#5f955e" fill-opacity="0.6"/>
<circle cx="182.67" cy="505.76" r="3.85" fill="#5f955e" fill-opacity="0.6"/>
<circle cx="222.52" cy="504.42" r="3.85" fill="#5f955e" fill-opacity="0.6"/>
<circle cx="121.69" cy="509.24" r="3.85" fill="#5f955e" fill-opacity="0.6"/>
<circle cx="171.17" cy="508.44" r="3.85" fill="#5f955e" fill-opacity="0.6"/>
<circle cx="110.46" cy="511.91" r="3.85" fill="#5f955e" fill-opacity="0.6"/>
<circle cx="102.43" cy="513.78" r="3.85" fill="#5f955e" fill-opacity="0.6"/>
<circle cx="171.17" cy="511.91" r="3.85" fill="#5f955e" fill-opacity="0.6"/>
<circle cx="125.7" cy="514.59" r="3.85" fill="#5f955e" fill-opacity="0.6"/>
<circle cx="183.47" cy="515.12" r="3.85" fill="#5f955e" fill-opacity="0.6"/>
<circle cx="123.83" cy="520.47" r="3.85" fill="#5f955e" fill-opacity="0.6"/>
<circle cx="110.99" cy="521.81" r="3.85" fill="#5f955e" fill-opacity="0.6"/>
<circle cx="120.35" cy="524.48" r="3.85" fill="#5f955e" fill-opacity="0.6"/>
<circle cx="117.68" cy="527.16" r="3.85" fill="#5f955e" fill-opacity="0.6"/>
<circle cx="113.13" cy="528.49" r="3.85" fill="#5f955e" fill-opacity="0.6"/>
<circle cx="149.77" cy="527.16" r="3.85" fill="#5f955e" fill-opacity="0.6"/>
<circle cx="152.98" cy="530.63" r="3.85" fill="#5f955e" fill-opacity="0.6"/>
<circle cx="179.19" cy="530.37" r="3.85" fill="#5f955e" fill-opacity="0.6"/>
<circle cx="189.09" cy="529.3" r="3.85" fill="#5f955e" fill-opacity="0.6"/>
<circle cx="285.64" cy="526.35" r="3.85" fill="#5f955e" fill-opacity="0.6"/>
<circle cx="95.48" cy="527.69" r="3.85" fill="#5f955e" fill-opacity="0.6"/>
<circle cx="116.88" cy="535.18" r="3.85" fill="#5f955e" fill-opacity="0.6"/>
<circle cx="111.79" cy="532.51" r="3.85" fill="#5f955e" fill-opacity="0.6"/>
<circle cx="136.94" cy="533.04" r="3.85" fill="#5f955e" fill-opacity="0.6"/>
<circle cx="165.82" cy="538.66" r="3.85" fill="#5f955e" fill-opacity="0.6"/>
<circle cx="96.28" cy="548.02" r="3.85" fill="#5f955e" fill-opacity="0.6"/>
<circle cx="104.31" cy="547.22" r="3.85" fill="#5f955e" fill-opacity="0.6"/>
<circle cx="108.32" cy="547.22" r="3.85" fill="#5f955e" fill-opacity="0.6"/>
<circle cx="110.46" cy="545.34" r="3.85" fill="#5f955e" fill-opacity="0.6"/>
<circle cx="158.6" cy="547.22" r="3.85" fill="#5f955e" fill-opacity="0.6"/>
<circle cx="197.38" cy="548.02" r="3.85" fill="#5f955e" fill-opacity="0.6"/>
<circle cx="115" cy="553.1" r="3.85" fill="#5f955e" fill-opacity="0.6"/>
<circle cx="105.11" cy="555.77" r="3.85" fill="#5f955e" fill-opacity="0.6"/>
<circle cx="102.97" cy="563.26" r="3.85" fill="#5f955e" fill-opacity="0.6"/>
<circle cx="129.18" cy="566.74" r="3.85" fill="#5f955e" fill-opacity="0.6"/>
<circle cx="130.52" cy="573.16" r="3.85" fill="#5f955e" fill-opacity="0.6"/>
<circle cx="97.08" cy="574.76" r="3.85" fill="#5f955e" fill-opacity="0.6"/>
<circle cx="109.65" cy="576.1" r="3.85" fill="#5f955e" fill-opacity="0.6"/>
<circle cx="111.79" cy="598.03" r="3.85" fill="#5f955e" fill-opacity="0.6"/>
<circle cx="98.42" cy="616.22" r="3.85" fill="#5f955e" fill-opacity="0.6"/>
<circle cx="133.19" cy="639.49" r="3.85" fill="#5f955e" fill-opacity="0.6"/>
<line x1="95.75" y1="530.37" x2="295.53" y2="454.41" stroke="#b0482b" stroke-width="1.6"/>
<rect x="89.6" y="420.2" width="212.6" height="225.4" fill="none" stroke="#000" stroke-width="1.6"/>
<line x1="83.6" y1="637.3" x2="89.6" y2="637.3" stroke="#000" stroke-width="1.5"/>
<text font-size="13.6" text-anchor="end" transform="translate(78.6 642.2) scale(1 1.1)">0.76</text>
<line x1="83.6" y1="565.9" x2="89.6" y2="565.9" stroke="#000" stroke-width="1.5"/>
<text font-size="13.6" text-anchor="end" transform="translate(78.6 570.8) scale(1 1.1)">0.80</text>
<line x1="83.6" y1="494.3" x2="89.6" y2="494.3" stroke="#000" stroke-width="1.5"/>
<text font-size="13.6" text-anchor="end" transform="translate(78.6 499.2) scale(1 1.1)">0.84</text>
<line x1="83.6" y1="422.9" x2="89.6" y2="422.9" stroke="#000" stroke-width="1.5"/>
<text font-size="13.6" text-anchor="end" transform="translate(78.6 427.8) scale(1 1.1)">0.88</text>
<line x1="139.9" y1="645.6" x2="139.9" y2="651.1" stroke="#000" stroke-width="1.5"/>
<text font-size="13.6" text-anchor="middle" transform="translate(139.9 668.9) scale(1 1.1)">200</text>
<line x1="198.7" y1="645.6" x2="198.7" y2="651.1" stroke="#000" stroke-width="1.5"/>
<text font-size="13.6" text-anchor="middle" transform="translate(198.7 668.9) scale(1 1.1)">400</text>
<line x1="257.5" y1="645.6" x2="257.5" y2="651.1" stroke="#000" stroke-width="1.5"/>
<text font-size="13.6" text-anchor="middle" transform="translate(257.5 668.9) scale(1 1.1)">600</text>
<text x="195.9" y="687.8" font-size="15.6" text-anchor="middle">GRN</text>
<text x="41.7" y="532.9" font-size="15.9" text-anchor="middle" transform="rotate(-90 41.7 532.9)">Plasmacytoid Dendritic Cell</text>
<text font-size="13.7" text-anchor="end" transform="translate(295.4 602) scale(1 1.1)">Spearman</text>
<text font-size="13.7" text-anchor="end" transform="translate(295.4 619.4) scale(1 1.1)"><tspan font-style="italic">R</tspan> = 0.457</text>
<text font-size="13.7" text-anchor="end" transform="translate(295.4 636) scale(1 1.1)"><tspan font-style="italic">P</tspan> &lt; 0.001</text>
<path d="M95.75,413.7 L95.75,390.86 C96.47,389.86 98.54,386.82 100.09,384.9 C101.64,382.97 103.4,380.8 105.05,379.31 C106.71,377.82 107.84,376.85 110.01,375.96 C112.18,375.07 115.6,374.1 118.08,373.97 C120.56,373.85 122.31,374.32 124.9,375.21 C127.48,376.1 130.48,377.8 133.58,379.31 C136.68,380.82 140.41,382.89 143.51,384.28 C146.61,385.66 149.09,386.53 152.19,387.63 C155.29,388.73 157.98,389.66 162.11,390.86 C166.25,392.06 172.87,393.65 177,394.83 C181.14,396.01 183.82,396.8 186.92,397.93 C190.03,399.07 192.51,400.42 195.61,401.66 C198.71,402.9 202.43,404.35 205.53,405.38 C208.63,406.42 211.11,407.14 214.22,407.87 C217.32,408.59 220,409.17 224.14,409.73 C228.27,410.29 234.48,410.76 239.02,411.22 C243.57,411.67 247.29,412.19 251.43,412.46 C255.56,412.73 259.7,412.85 263.83,412.83 C267.97,412.81 272.1,412.48 276.24,412.33 C280.37,412.19 285.3,412.04 288.64,411.96 C291.99,411.88 295.05,411.86 296.34,411.84 L296.34,413.7 Z" fill="#98bb97"/>
<path d="M309.39,427.01 L309.39,427.01 C310.16,429.62 312.01,437.93 314.01,442.71 C316.01,447.48 318.63,451.33 321.4,455.64 C324.17,459.95 327.56,464.56 330.64,468.56 C333.71,472.57 337.41,475.95 339.87,479.65 C342.33,483.34 344.64,487.04 345.41,490.73 C346.18,494.42 345.1,498.73 344.49,501.81 C343.87,504.89 342.49,506.43 341.72,509.2 C340.95,511.97 340.33,515.66 339.87,518.44 C339.41,521.21 339.87,522.75 338.95,525.82 C338.02,528.9 336.33,532.9 334.33,536.91 C332.33,540.91 329.4,545.53 326.94,549.84 C324.48,554.15 321.71,558.46 319.55,562.77 C317.4,567.07 315.49,571.08 314.01,575.69 C312.53,580.31 311.36,584.93 310.69,590.47 C310.01,596.01 310.13,600.94 309.95,608.94 C309.76,616.95 309.64,633.57 309.58,638.49 L309.39,638.49 Z" fill="#98bb97"/>
</g>
<text x="12.5" y="428.3" font-size="35" text-anchor="start">F</text>
<g>
<line x1="435.2" y1="603.5" x2="655.3" y2="603.5" stroke="#f0f0f0" stroke-width="1.5"/>
<line x1="435.2" y1="559.9" x2="655.3" y2="559.9" stroke="#f0f0f0" stroke-width="1.5"/>
<line x1="435.2" y1="516.3" x2="655.3" y2="516.3" stroke="#f0f0f0" stroke-width="1.5"/>
<line x1="435.2" y1="472.7" x2="655.3" y2="472.7" stroke="#f0f0f0" stroke-width="1.5"/>
<line x1="435.2" y1="429.1" x2="655.3" y2="429.1" stroke="#f0f0f0" stroke-width="1.5"/>
<line x1="457.8" y1="420.2" x2="457.8" y2="645.6" stroke="#f0f0f0" stroke-width="1.5"/>
<line x1="518" y1="420.2" x2="518" y2="645.6" stroke="#f0f0f0" stroke-width="1.5"/>
<line x1="578.2" y1="420.2" x2="578.2" y2="645.6" stroke="#f0f0f0" stroke-width="1.5"/>
<line x1="638.4" y1="420.2" x2="638.4" y2="645.6" stroke="#f0f0f0" stroke-width="1.5"/>
<line x1="435.2" y1="625.3" x2="655.3" y2="625.3" stroke="#e6e6e6" stroke-width="2.2"/>
<line x1="435.2" y1="581.4" x2="655.3" y2="581.4" stroke="#e6e6e6" stroke-width="2.2"/>
<line x1="435.2" y1="537.9" x2="655.3" y2="537.9" stroke="#e6e6e6" stroke-width="2.2"/>
<line x1="435.2" y1="494.3" x2="655.3" y2="494.3" stroke="#e6e6e6" stroke-width="2.2"/>
<line x1="435.2" y1="450.9" x2="655.3" y2="450.9" stroke="#e6e6e6" stroke-width="2.2"/>
<line x1="487.9" y1="420.2" x2="487.9" y2="645.6" stroke="#e6e6e6" stroke-width="2.2"/>
<line x1="548.1" y1="420.2" x2="548.1" y2="645.6" stroke="#e6e6e6" stroke-width="2.2"/>
<line x1="608.3" y1="420.2" x2="608.3" y2="645.6" stroke="#e6e6e6" stroke-width="2.2"/>
<path d="M441.92,537.32 L447.09,535.88 L452.26,534.43 L457.43,532.98 L462.6,531.51 L467.76,530.02 L472.93,528.51 L478.1,526.96 L483.27,525.35 L488.44,523.67 L493.61,521.84 L498.78,519.83 L503.94,517.55 L509.11,514.99 L514.28,512.2 L519.45,509.23 L524.62,506.16 L529.79,503.02 L534.95,499.83 L540.12,496.61 L545.29,493.37 L550.46,490.11 L555.63,486.85 L560.8,483.57 L565.97,480.28 L571.13,477 L576.3,473.7 L581.47,470.41 L586.64,467.11 L591.81,463.8 L596.98,460.5 L602.14,457.2 L607.31,453.89 L612.48,450.58 L617.65,447.27 L622.82,443.96 L627.99,440.65 L633.16,437.34 L638.32,434.02 L643.49,430.71 L648.66,427.4 L648.66,481.96 L643.49,483.36 L638.32,484.77 L633.16,486.18 L627.99,487.59 L622.82,489 L617.65,490.41 L612.48,491.82 L607.31,493.23 L602.14,494.64 L596.98,496.06 L591.81,497.48 L586.64,498.9 L581.47,500.32 L576.3,501.74 L571.13,503.17 L565.97,504.6 L560.8,506.04 L555.63,507.48 L550.46,508.93 L545.29,510.4 L540.12,511.87 L534.95,513.38 L529.79,514.91 L524.62,516.49 L519.45,518.13 L514.28,519.89 L509.11,521.82 L503.94,523.98 L498.78,526.42 L493.61,529.13 L488.44,532.03 L483.27,535.06 L478.1,538.17 L472.93,541.35 L467.76,544.55 L462.6,547.79 L457.43,551.04 L452.26,554.3 L447.09,557.57 L441.92,560.86Z" fill="#e3e3e3" fill-opacity="0.75"/>
<circle cx="495.95" cy="450.4" r="3.85" fill="#5f955e" fill-opacity="0.6"/>
<circle cx="515.47" cy="462.97" r="3.85" fill="#5f955e" fill-opacity="0.6"/>
<circle cx="560.4" cy="462.43" r="3.85" fill="#5f955e" fill-opacity="0.6"/>
<circle cx="539.01" cy="466.45" r="3.85" fill="#5f955e" fill-opacity="0.6"/>
<circle cx="534.73" cy="467.52" r="3.85" fill="#5f955e" fill-opacity="0.6"/>
<circle cx="492.74" cy="468.32" r="3.85" fill="#5f955e" fill-opacity="0.6"/>
<circle cx="495.95" cy="468.32" r="3.85" fill="#5f955e" fill-opacity="0.6"/>
<circle cx="590.36" cy="469.65" r="3.85" fill="#5f955e" fill-opacity="0.6"/>
<circle cx="648.39" cy="474.47" r="3.85" fill="#5f955e" fill-opacity="0.6"/>
<circle cx="512.8" cy="477.68" r="3.85" fill="#5f955e" fill-opacity="0.6"/>
<circle cx="464.12" cy="482.23" r="3.85" fill="#5f955e" fill-opacity="0.6"/>
<circle cx="531.52" cy="483.03" r="3.85" fill="#5f955e" fill-opacity="0.6"/>
<circle cx="530.98" cy="486.24" r="3.85" fill="#5f955e" fill-opacity="0.6"/>
<circle cx="493.27" cy="487.84" r="3.85" fill="#5f955e" fill-opacity="0.6"/>
<circle cx="503.44" cy="487.04" r="3.85" fill="#5f955e" fill-opacity="0.6"/>
<circle cx="511.46" cy="487.04" r="3.85" fill="#5f955e" fill-opacity="0.6"/>
<circle cx="566.82" cy="485.7" r="3.85" fill="#5f955e" fill-opacity="0.6"/>
<circle cx="595.17" cy="482.23" r="3.85" fill="#5f955e" fill-opacity="0.6"/>
<circle cx="514.13" cy="492.39" r="3.85" fill="#5f955e" fill-opacity="0.6"/>
<circle cx="536.06" cy="491.59" r="3.85" fill="#5f955e" fill-opacity="0.6"/>
<circle cx="531.52" cy="492.92" r="3.85" fill="#5f955e" fill-opacity="0.6"/>
<circle cx="457.97" cy="496.4" r="3.85" fill="#5f955e" fill-opacity="0.6"/>
<circle cx="460.64" cy="496.4" r="3.85" fill="#5f955e" fill-opacity="0.6"/>
<circle cx="473.48" cy="496.94" r="3.85" fill="#5f955e" fill-opacity="0.6"/>
<circle cx="500.76" cy="497.2" r="3.85" fill="#5f955e" fill-opacity="0.6"/>
<circle cx="486.85" cy="501.75" r="3.85" fill="#5f955e" fill-opacity="0.6"/>
<circle cx="489.26" cy="501.75" r="3.85" fill="#5f955e" fill-opacity="0.6"/>
<circle cx="506.11" cy="504.42" r="3.85" fill="#5f955e" fill-opacity="0.6"/>
<circle cx="470" cy="505.23" r="3.85" fill="#5f955e" fill-opacity="0.6"/>
<circle cx="471.34" cy="505.23" r="3.85" fill="#5f955e" fill-opacity="0.6"/>
<circle cx="451.28" cy="505.76" r="3.85" fill="#5f955e" fill-opacity="0.6"/>
<circle cx="482.84" cy="510.31" r="3.85" fill="#5f955e" fill-opacity="0.6"/>
<circle cx="486.85" cy="510.31" r="3.85" fill="#5f955e" fill-opacity="0.6"/>
<circle cx="506.64" cy="509.77" r="3.85" fill="#5f955e" fill-opacity="0.6"/>
<circle cx="524.3" cy="510.31" r="3.85" fill="#5f955e" fill-opacity="0.6"/>
<circle cx="572.44" cy="510.58" r="3.85" fill="#5f955e" fill-opacity="0.6"/>
<circle cx="463.32" cy="511.64" r="3.85" fill="#5f955e" fill-opacity="0.6"/>
<circle cx="454.49" cy="512.45" r="3.85" fill="#5f955e" fill-opacity="0.6"/>
<circle cx="461.98" cy="519.13" r="3.85" fill="#5f955e" fill-opacity="0.6"/>
<circle cx="497.55" cy="518.6" r="3.85" fill="#5f955e" fill-opacity="0.6"/>
<circle cx="476.69" cy="518.33" r="3.85" fill="#5f955e" fill-opacity="0.6"/>
<circle cx="449.14" cy="526.35" r="3.85" fill="#5f955e" fill-opacity="0.6"/>
<circle cx="458.77" cy="527.96" r="3.85" fill="#5f955e" fill-opacity="0.6"/>
<circle cx="460.11" cy="528.49" r="3.85" fill="#5f955e" fill-opacity="0.6"/>
<circle cx="497.55" cy="526.35" r="3.85" fill="#5f955e" fill-opacity="0.6"/>
<circle cx="510.12" cy="527.96" r="3.85" fill="#5f955e" fill-opacity="0.6"/>
<circle cx="519.48" cy="525.02" r="3.85" fill="#5f955e" fill-opacity="0.6"/>
<circle cx="520.02" cy="525.02" r="3.85" fill="#5f955e" fill-opacity="0.6"/>
<circle cx="528.04" cy="527.96" r="3.85" fill="#5f955e" fill-opacity="0.6"/>
<circle cx="543.02" cy="529.83" r="3.85" fill="#5f955e" fill-opacity="0.6"/>
<circle cx="551.04" cy="529.03" r="3.85" fill="#5f955e" fill-opacity="0.6"/>
<circle cx="546.23" cy="533.04" r="3.85" fill="#5f955e" fill-opacity="0.6"/>
<circle cx="471.88" cy="531.17" r="3.85" fill="#5f955e" fill-opacity="0.6"/>
<circle cx="468.67" cy="532.51" r="3.85" fill="#5f955e" fill-opacity="0.6"/>
<circle cx="465.46" cy="533.84" r="3.85" fill="#5f955e" fill-opacity="0.6"/>
<circle cx="467.33" cy="539.19" r="3.85" fill="#5f955e" fill-opacity="0.6"/>
<circle cx="441.39" cy="545.34" r="3.85" fill="#5f955e" fill-opacity="0.6"/>
<circle cx="449.95" cy="544.54" r="3.85" fill="#5f955e" fill-opacity="0.6"/>
<circle cx="458.77" cy="546.68" r="3.85" fill="#5f955e" fill-opacity="0.6"/>
<circle cx="474.55" cy="546.68" r="3.85" fill="#5f955e" fill-opacity="0.6"/>
<circle cx="478.03" cy="549.89" r="3.85" fill="#5f955e" fill-opacity="0.6"/>
<circle cx="488.19" cy="549.09" r="3.85" fill="#5f955e" fill-opacity="0.6"/>
<circle cx="477.23" cy="548.55" r="3.85" fill="#5f955e" fill-opacity="0.6"/>
<circle cx="484.71" cy="552.56" r="3.85" fill="#5f955e" fill-opacity="0.6"/>
<circle cx="456.63" cy="552.56" r="3.85" fill="#5f955e" fill-opacity="0.6"/>
<circle cx="464.65" cy="554.7" r="3.85" fill="#5f955e" fill-opacity="0.6"/>
<circle cx="471.88" cy="553.1" r="3.85" fill="#5f955e" fill-opacity="0.6"/>
<circle cx="514.13" cy="555.24" r="3.85" fill="#5f955e" fill-opacity="0.6"/>
<circle cx="538.2" cy="555.24" r="3.85" fill="#5f955e" fill-opacity="0.6"/>
<circle cx="637.7" cy="545.34" r="3.85" fill="#5f955e" fill-opacity="0.6"/>
<circle cx="457.43" cy="563.26" r="3.85" fill="#5f955e" fill-opacity="0.6"/>
<circle cx="456.63" cy="565.4" r="3.85" fill="#5f955e" fill-opacity="0.6"/>
<circle cx="473.48" cy="564.6" r="3.85" fill="#5f955e" fill-opacity="0.6"/>
<circle cx="491.4" cy="567.27" r="3.85" fill="#5f955e" fill-opacity="0.6"/>
<circle cx="443.26" cy="576.1" r="3.85" fill="#5f955e" fill-opacity="0.6"/>
<circle cx="456.1" cy="576.1" r="3.85" fill="#5f955e" fill-opacity="0.6"/>
<circle cx="449.95" cy="580.65" r="3.85" fill="#5f955e" fill-opacity="0.6"/>
<circle cx="455.29" cy="577.97" r="3.85" fill="#5f955e" fill-opacity="0.6"/>
<circle cx="442.72" cy="599.37" r="3.85" fill="#5f955e" fill-opacity="0.6"/>
<circle cx="449.95" cy="599.37" r="3.85" fill="#5f955e" fill-opacity="0.6"/>
<circle cx="444.6" cy="610.07" r="3.85" fill="#5f955e" fill-opacity="0.6"/>
<circle cx="442.72" cy="617.56" r="3.85" fill="#5f955e" fill-opacity="0.6"/>
<circle cx="451.28" cy="620.76" r="3.85" fill="#5f955e" fill-opacity="0.6"/>
<circle cx="480.7" cy="639.49" r="3.85" fill="#5f955e" fill-opacity="0.6"/>
<line x1="441.92" y1="549.09" x2="648.66" y2="454.68" stroke="#b0482b" stroke-width="1.6"/>
<rect x="435.2" y="420.2" width="220.1" height="225.4" fill="none" stroke="#000" stroke-width="1.6"/>
<line x1="429.2" y1="625.3" x2="435.2" y2="625.3" stroke="#000" stroke-width="1.5"/>
<text font-size="13.6" text-anchor="end" transform="translate(424.2 630.2) scale(1 1.1)">0.6</text>
<line x1="429.2" y1="581.4" x2="435.2" y2="581.4" stroke="#000" stroke-width="1.5"/>
<text font-size="13.6" text-anchor="end" transform="translate(424.2 586.3) scale(1 1.1)">0.7</text>
<line x1="429.2" y1="537.9" x2="435.2" y2="537.9" stroke="#000" stroke-width="1.5"/>
<text font-size="13.6" text-anchor="end" transform="translate(424.2 542.8) scale(1 1.1)">0.8</text>
<line x1="429.2" y1="494.3" x2="435.2" y2="494.3" stroke="#000" stroke-width="1.5"/>
<text font-size="13.6" text-anchor="end" transform="translate(424.2 499.2) scale(1 1.1)">0.9</text>
<line x1="429.2" y1="450.9" x2="435.2" y2="450.9" stroke="#000" stroke-width="1.5"/>
<text font-size="13.6" text-anchor="end" transform="translate(424.2 455.8) scale(1 1.1)">1.0</text>
<line x1="487.9" y1="645.6" x2="487.9" y2="651.1" stroke="#000" stroke-width="1.5"/>
<text font-size="13.6" text-anchor="middle" transform="translate(487.9 668.9) scale(1 1.1)">200</text>
<line x1="548.1" y1="645.6" x2="548.1" y2="651.1" stroke="#000" stroke-width="1.5"/>
<text font-size="13.6" text-anchor="middle" transform="translate(548.1 668.9) scale(1 1.1)">400</text>
<line x1="608.3" y1="645.6" x2="608.3" y2="651.1" stroke="#000" stroke-width="1.5"/>
<text font-size="13.6" text-anchor="middle" transform="translate(608.3 668.9) scale(1 1.1)">600</text>
<text x="545.25" y="687.8" font-size="15.6" text-anchor="middle">GRN</text>
<text x="394.8" y="532.9" font-size="15.9" text-anchor="middle" transform="rotate(-90 394.8 532.9)">MDSC</text>
<text font-size="13.7" text-anchor="end" transform="translate(648.5 602) scale(1 1.1)">Spearman</text>
<text font-size="13.7" text-anchor="end" transform="translate(648.5 619.4) scale(1 1.1)"><tspan font-style="italic">R</tspan> = 0.572</text>
<text font-size="13.7" text-anchor="end" transform="translate(648.5 636) scale(1 1.1)"><tspan font-style="italic">P</tspan> &lt; 0.001</text>
<path d="M441.92,413.7 L441.92,390.86 C442.67,389.86 444.8,386.82 446.4,384.9 C447.99,382.97 449.81,380.8 451.51,379.31 C453.22,377.82 454.39,376.85 456.62,375.96 C458.86,375.07 462.38,374.1 464.94,373.97 C467.49,373.85 469.3,374.32 471.97,375.21 C474.63,376.1 477.72,377.8 480.92,379.31 C484.11,380.82 487.95,382.89 491.15,384.28 C494.34,385.66 496.9,386.53 500.1,387.63 C503.29,388.73 506.06,389.66 510.32,390.86 C514.59,392.06 521.4,393.65 525.67,394.83 C529.93,396.01 532.7,396.8 535.89,397.93 C539.09,399.07 541.65,400.42 544.84,401.66 C548.04,402.9 551.88,404.35 555.07,405.38 C558.27,406.42 560.83,407.14 564.02,407.87 C567.22,408.59 569.99,409.17 574.25,409.73 C578.51,410.29 584.9,410.76 589.59,411.22 C594.28,411.67 598.12,412.19 602.38,412.46 C606.64,412.73 610.9,412.85 615.16,412.83 C619.43,412.81 623.69,412.48 627.95,412.33 C632.21,412.19 637.28,412.04 640.73,411.96 C644.19,411.88 647.34,411.86 648.66,411.84 L648.66,413.7 Z" fill="#98bb97"/>
<path d="M661.99,427.01 L661.99,427.01 C662.55,429.01 663.53,434.86 665.32,439.01 C667.1,443.17 669.94,447.63 672.71,451.94 C675.48,456.25 679.17,460.56 681.94,464.87 C684.71,469.18 687.17,473.49 689.33,477.8 C691.48,482.11 693.33,486.42 694.87,490.73 C696.41,495.04 697.73,499.04 698.56,503.66 C699.4,508.28 699.86,513.51 699.86,518.44 C699.86,523.36 699.4,528.59 698.56,533.21 C697.73,537.83 696.56,541.83 694.87,546.14 C693.18,550.45 690.87,555.07 688.41,559.07 C685.94,563.07 682.71,566.46 680.09,570.15 C677.48,573.85 674.55,577.85 672.71,581.24 C670.86,584.62 669.94,586.78 669.01,590.47 C668.09,594.17 667.78,598.78 667.16,603.4 C666.55,608.02 666.09,612.33 665.32,618.18 C664.55,624.03 663.01,635.11 662.55,638.49 L661.99,638.49 Z" fill="#98bb97"/>
</g>
<text x="378" y="428.3" font-size="35" text-anchor="start">G</text>
<g>
<line x1="789.2" y1="603.3" x2="1009" y2="603.3" stroke="#f0f0f0" stroke-width="1.5"/>
<line x1="789.2" y1="556.7" x2="1009" y2="556.7" stroke="#f0f0f0" stroke-width="1.5"/>
<line x1="789.2" y1="510.1" x2="1009" y2="510.1" stroke="#f0f0f0" stroke-width="1.5"/>
<line x1="789.2" y1="463.5" x2="1009" y2="463.5" stroke="#f0f0f0" stroke-width="1.5"/>
<line x1="811.4" y1="420.2" x2="811.4" y2="645.6" stroke="#f0f0f0" stroke-width="1.5"/>
<line x1="871.8" y1="420.2" x2="871.8" y2="645.6" stroke="#f0f0f0" stroke-width="1.5"/>
<line x1="932.2" y1="420.2" x2="932.2" y2="645.6" stroke="#f0f0f0" stroke-width="1.5"/>
<line x1="992.6" y1="420.2" x2="992.6" y2="645.6" stroke="#f0f0f0" stroke-width="1.5"/>
<line x1="789.2" y1="626.6" x2="1009" y2="626.6" stroke="#e6e6e6" stroke-width="2.2"/>
<line x1="789.2" y1="580.1" x2="1009" y2="580.1" stroke="#e6e6e6" stroke-width="2.2"/>
<line x1="789.2" y1="533.3" x2="1009" y2="533.3" stroke="#e6e6e6" stroke-width="2.2"/>
<line x1="789.2" y1="487" x2="1009" y2="487" stroke="#e6e6e6" stroke-width="2.2"/>
<line x1="789.2" y1="440.2" x2="1009" y2="440.2" stroke="#e6e6e6" stroke-width="2.2"/>
<line x1="841.6" y1="420.2" x2="841.6" y2="645.6" stroke="#e6e6e6" stroke-width="2.2"/>
<line x1="902" y1="420.2" x2="902" y2="645.6" stroke="#e6e6e6" stroke-width="2.2"/>
<line x1="962.4" y1="420.2" x2="962.4" y2="645.6" stroke="#e6e6e6" stroke-width="2.2"/>
<path d="M795.58,539.73 L800.75,538.08 L805.92,536.43 L811.09,534.75 L816.26,533.05 L821.43,531.32 L826.6,529.53 L831.76,527.66 L836.93,525.67 L842.1,523.51 L847.27,521.13 L852.44,518.52 L857.61,515.71 L862.77,512.77 L867.94,509.74 L873.11,506.65 L878.28,503.52 L883.45,500.36 L888.62,497.18 L893.79,493.99 L898.95,490.79 L904.12,487.58 L909.29,484.36 L914.46,481.14 L919.63,477.91 L924.8,474.68 L929.97,471.45 L935.13,468.21 L940.3,464.98 L945.47,461.74 L950.64,458.5 L955.81,455.26 L960.98,452.02 L966.14,448.78 L971.31,445.53 L976.48,442.29 L981.65,439.04 L986.82,435.8 L991.99,432.55 L997.16,429.31 L1002.32,426.06 L1002.32,476.88 L997.16,478.47 L991.99,480.07 L986.82,481.66 L981.65,483.26 L976.48,484.85 L971.31,486.45 L966.14,488.05 L960.98,489.65 L955.81,491.24 L950.64,492.85 L945.47,494.45 L940.3,496.05 L935.13,497.65 L929.97,499.26 L924.8,500.87 L919.63,502.48 L914.46,504.09 L909.29,505.71 L904.12,507.34 L898.95,508.97 L893.79,510.6 L888.62,512.25 L883.45,513.91 L878.28,515.6 L873.11,517.31 L867.94,519.06 L862.77,520.87 L857.61,522.77 L852.44,524.81 L847.27,527.04 L842.1,529.49 L836.93,532.17 L831.76,535.02 L826.6,538 L821.43,541.05 L816.26,544.16 L811.09,547.3 L805.92,550.46 L800.75,553.65 L795.58,556.84Z" fill="#e3e3e3" fill-opacity="0.75"/>
<circle cx="849.07" cy="455.75" r="3.85" fill="#5f955e" fill-opacity="0.6"/>
<circle cx="944.55" cy="453.88" r="3.85" fill="#5f955e" fill-opacity="0.6"/>
<circle cx="892.67" cy="459.76" r="3.85" fill="#5f955e" fill-opacity="0.6"/>
<circle cx="1002.86" cy="466.98" r="3.85" fill="#5f955e" fill-opacity="0.6"/>
<circle cx="808.15" cy="479.82" r="3.85" fill="#5f955e" fill-opacity="0.6"/>
<circle cx="846.94" cy="477.14" r="3.85" fill="#5f955e" fill-opacity="0.6"/>
<circle cx="866.46" cy="479.55" r="3.85" fill="#5f955e" fill-opacity="0.6"/>
<circle cx="885.18" cy="475" r="3.85" fill="#5f955e" fill-opacity="0.6"/>
<circle cx="889.73" cy="476.34" r="3.85" fill="#5f955e" fill-opacity="0.6"/>
<circle cx="913.8" cy="475" r="3.85" fill="#5f955e" fill-opacity="0.6"/>
<circle cx="845.87" cy="483.03" r="3.85" fill="#5f955e" fill-opacity="0.6"/>
<circle cx="869.94" cy="485.17" r="3.85" fill="#5f955e" fill-opacity="0.6"/>
<circle cx="864.59" cy="488.91" r="3.85" fill="#5f955e" fill-opacity="0.6"/>
<circle cx="889.19" cy="484.36" r="3.85" fill="#5f955e" fill-opacity="0.6"/>
<circle cx="920.75" cy="481.69" r="3.85" fill="#5f955e" fill-opacity="0.6"/>
<circle cx="926.1" cy="488.38" r="3.85" fill="#5f955e" fill-opacity="0.6"/>
<circle cx="948.83" cy="488.38" r="3.85" fill="#5f955e" fill-opacity="0.6"/>
<circle cx="859.77" cy="492.39" r="3.85" fill="#5f955e" fill-opacity="0.6"/>
<circle cx="856.56" cy="496.94" r="3.85" fill="#5f955e" fill-opacity="0.6"/>
<circle cx="839.71" cy="496.4" r="3.85" fill="#5f955e" fill-opacity="0.6"/>
<circle cx="843.19" cy="497.74" r="3.85" fill="#5f955e" fill-opacity="0.6"/>
<circle cx="826.88" cy="500.95" r="3.85" fill="#5f955e" fill-opacity="0.6"/>
<circle cx="830.35" cy="498.27" r="3.85" fill="#5f955e" fill-opacity="0.6"/>
<circle cx="814.84" cy="503.62" r="3.85" fill="#5f955e" fill-opacity="0.6"/>
<circle cx="818.32" cy="504.96" r="3.85" fill="#5f955e" fill-opacity="0.6"/>
<circle cx="904.7" cy="501.75" r="3.85" fill="#5f955e" fill-opacity="0.6"/>
<circle cx="841.05" cy="505.23" r="3.85" fill="#5f955e" fill-opacity="0.6"/>
<circle cx="804.95" cy="510.58" r="3.85" fill="#5f955e" fill-opacity="0.6"/>
<circle cx="849.88" cy="509.24" r="3.85" fill="#5f955e" fill-opacity="0.6"/>
<circle cx="859.77" cy="509.77" r="3.85" fill="#5f955e" fill-opacity="0.6"/>
<circle cx="873.15" cy="508.44" r="3.85" fill="#5f955e" fill-opacity="0.6"/>
<circle cx="885.18" cy="505.76" r="3.85" fill="#5f955e" fill-opacity="0.6"/>
<circle cx="886.52" cy="509.77" r="3.85" fill="#5f955e" fill-opacity="0.6"/>
<circle cx="816.45" cy="513.78" r="3.85" fill="#5f955e" fill-opacity="0.6"/>
<circle cx="820.19" cy="513.25" r="3.85" fill="#5f955e" fill-opacity="0.6"/>
<circle cx="831.69" cy="513.78" r="3.85" fill="#5f955e" fill-opacity="0.6"/>
<circle cx="825.81" cy="515.92" r="3.85" fill="#5f955e" fill-opacity="0.6"/>
<circle cx="841.85" cy="514.59" r="3.85" fill="#5f955e" fill-opacity="0.6"/>
<circle cx="896.68" cy="511.38" r="3.85" fill="#5f955e" fill-opacity="0.6"/>
<circle cx="900.43" cy="515.92" r="3.85" fill="#5f955e" fill-opacity="0.6"/>
<circle cx="802.81" cy="520.47" r="3.85" fill="#5f955e" fill-opacity="0.6"/>
<circle cx="810.83" cy="519.94" r="3.85" fill="#5f955e" fill-opacity="0.6"/>
<circle cx="815.11" cy="519.13" r="3.85" fill="#5f955e" fill-opacity="0.6"/>
<circle cx="850.95" cy="518.6" r="3.85" fill="#5f955e" fill-opacity="0.6"/>
<circle cx="855.76" cy="519.94" r="3.85" fill="#5f955e" fill-opacity="0.6"/>
<circle cx="864.59" cy="517.8" r="3.85" fill="#5f955e" fill-opacity="0.6"/>
<circle cx="873.15" cy="518.33" r="3.85" fill="#5f955e" fill-opacity="0.6"/>
<circle cx="878.49" cy="517.26" r="3.85" fill="#5f955e" fill-opacity="0.6"/>
<circle cx="822.86" cy="525.82" r="3.85" fill="#5f955e" fill-opacity="0.6"/>
<circle cx="824.47" cy="525.82" r="3.85" fill="#5f955e" fill-opacity="0.6"/>
<circle cx="881.97" cy="525.02" r="3.85" fill="#5f955e" fill-opacity="0.6"/>
<circle cx="851.48" cy="530.37" r="3.85" fill="#5f955e" fill-opacity="0.6"/>
<circle cx="868.33" cy="532.51" r="3.85" fill="#5f955e" fill-opacity="0.6"/>
<circle cx="891.87" cy="534.38" r="3.85" fill="#5f955e" fill-opacity="0.6"/>
<circle cx="813.5" cy="536.52" r="3.85" fill="#5f955e" fill-opacity="0.6"/>
<circle cx="817.78" cy="535.72" r="3.85" fill="#5f955e" fill-opacity="0.6"/>
<circle cx="836.5" cy="538.66" r="3.85" fill="#5f955e" fill-opacity="0.6"/>
<circle cx="838.38" cy="539.19" r="3.85" fill="#5f955e" fill-opacity="0.6"/>
<circle cx="825.81" cy="541.33" r="3.85" fill="#5f955e" fill-opacity="0.6"/>
<circle cx="827.14" cy="542.67" r="3.85" fill="#5f955e" fill-opacity="0.6"/>
<circle cx="867.8" cy="542.67" r="3.85" fill="#5f955e" fill-opacity="0.6"/>
<circle cx="991.36" cy="544.54" r="3.85" fill="#5f955e" fill-opacity="0.6"/>
<circle cx="795.58" cy="548.55" r="3.85" fill="#5f955e" fill-opacity="0.6"/>
<circle cx="804.95" cy="550.69" r="3.85" fill="#5f955e" fill-opacity="0.6"/>
<circle cx="803.61" cy="549.89" r="3.85" fill="#5f955e" fill-opacity="0.6"/>
<circle cx="811.1" cy="544.54" r="3.85" fill="#5f955e" fill-opacity="0.6"/>
<circle cx="812.97" cy="549.09" r="3.85" fill="#5f955e" fill-opacity="0.6"/>
<circle cx="825.54" cy="549.36" r="3.85" fill="#5f955e" fill-opacity="0.6"/>
<circle cx="819.65" cy="555.77" r="3.85" fill="#5f955e" fill-opacity="0.6"/>
<circle cx="845.33" cy="553.1" r="3.85" fill="#5f955e" fill-opacity="0.6"/>
<circle cx="809.76" cy="557.38" r="3.85" fill="#5f955e" fill-opacity="0.6"/>
<circle cx="811.63" cy="559.25" r="3.85" fill="#5f955e" fill-opacity="0.6"/>
<circle cx="828.48" cy="561.12" r="3.85" fill="#5f955e" fill-opacity="0.6"/>
<circle cx="830.35" cy="563.8" r="3.85" fill="#5f955e" fill-opacity="0.6"/>
<circle cx="802.81" cy="572.09" r="3.85" fill="#5f955e" fill-opacity="0.6"/>
<circle cx="810.83" cy="570.75" r="3.85" fill="#5f955e" fill-opacity="0.6"/>
<circle cx="796.39" cy="583.32" r="3.85" fill="#5f955e" fill-opacity="0.6"/>
<circle cx="804.95" cy="584.12" r="3.85" fill="#5f955e" fill-opacity="0.6"/>
<circle cx="809.76" cy="594.82" r="3.85" fill="#5f955e" fill-opacity="0.6"/>
<circle cx="796.12" cy="601.24" r="3.85" fill="#5f955e" fill-opacity="0.6"/>
<circle cx="797.72" cy="638.95" r="3.85" fill="#5f955e" fill-opacity="0.6"/>
<circle cx="833.83" cy="638.95" r="3.85" fill="#5f955e" fill-opacity="0.6"/>
<line x1="795.58" y1="548.29" x2="1002.32" y2="451.47" stroke="#b0482b" stroke-width="1.6"/>
<rect x="789.2" y="420.2" width="219.8" height="225.4" fill="none" stroke="#000" stroke-width="1.6"/>
<line x1="783.2" y1="626.6" x2="789.2" y2="626.6" stroke="#000" stroke-width="1.5"/>
<text font-size="13.6" text-anchor="end" transform="translate(778.2 631.5) scale(1 1.1)">0.4</text>
<line x1="783.2" y1="580.1" x2="789.2" y2="580.1" stroke="#000" stroke-width="1.5"/>
<text font-size="13.6" text-anchor="end" transform="translate(778.2 585) scale(1 1.1)">0.5</text>
<line x1="783.2" y1="533.3" x2="789.2" y2="533.3" stroke="#000" stroke-width="1.5"/>
<text font-size="13.6" text-anchor="end" transform="translate(778.2 538.2) scale(1 1.1)">0.6</text>
<line x1="783.2" y1="487" x2="789.2" y2="487" stroke="#000" stroke-width="1.5"/>
<text font-size="13.6" text-anchor="end" transform="translate(778.2 491.9) scale(1 1.1)">0.7</text>
<line x1="783.2" y1="440.2" x2="789.2" y2="440.2" stroke="#000" stroke-width="1.5"/>
<text font-size="13.6" text-anchor="end" transform="translate(778.2 445.1) scale(1 1.1)">0.8</text>
<line x1="841.6" y1="645.6" x2="841.6" y2="651.1" stroke="#000" stroke-width="1.5"/>
<text font-size="13.6" text-anchor="middle" transform="translate(841.6 668.9) scale(1 1.1)">200</text>
<line x1="902" y1="645.6" x2="902" y2="651.1" stroke="#000" stroke-width="1.5"/>
<text font-size="13.6" text-anchor="middle" transform="translate(902 668.9) scale(1 1.1)">400</text>
<line x1="962.4" y1="645.6" x2="962.4" y2="651.1" stroke="#000" stroke-width="1.5"/>
<text font-size="13.6" text-anchor="middle" transform="translate(962.4 668.9) scale(1 1.1)">600</text>
<text x="899.1" y="687.8" font-size="15.6" text-anchor="middle">GRN</text>
<text x="749.8" y="532.9" font-size="15.9" text-anchor="middle" transform="rotate(-90 749.8 532.9)">Macrophage</text>
<text font-size="13.7" text-anchor="end" transform="translate(1002.2 602) scale(1 1.1)">Spearman</text>
<text font-size="13.7" text-anchor="end" transform="translate(1002.2 619.4) scale(1 1.1)"><tspan font-style="italic">R</tspan> = 0.639</text>
<text font-size="13.7" text-anchor="end" transform="translate(1002.2 636) scale(1 1.1)"><tspan font-style="italic">P</tspan> &lt; 0.001</text>
<path d="M795.58,413.7 L795.58,390.86 C796.33,389.86 798.46,386.82 800.06,384.9 C801.66,382.97 803.47,380.8 805.17,379.31 C806.88,377.82 808.05,376.85 810.29,375.96 C812.53,375.07 816.04,374.1 818.6,373.97 C821.16,373.85 822.97,374.32 825.63,375.21 C828.29,376.1 831.38,377.8 834.58,379.31 C837.78,380.82 841.61,382.89 844.81,384.28 C848,385.66 850.56,386.53 853.76,387.63 C856.95,388.73 859.72,389.66 863.99,390.86 C868.25,392.06 875.07,393.65 879.33,394.83 C883.59,396.01 886.36,396.8 889.56,397.93 C892.75,399.07 895.31,400.42 898.51,401.66 C901.7,402.9 905.54,404.35 908.74,405.38 C911.93,406.42 914.49,407.14 917.68,407.87 C920.88,408.59 923.65,409.17 927.91,409.73 C932.17,410.29 938.57,410.76 943.26,411.22 C947.94,411.67 951.78,412.19 956.04,412.46 C960.3,412.73 964.56,412.85 968.83,412.83 C973.09,412.81 977.35,412.48 981.61,412.33 C985.87,412.19 990.95,412.04 994.4,411.96 C997.85,411.88 1001,411.86 1002.32,411.84 L1002.32,413.7 Z" fill="#98bb97"/>
<path d="M1015.33,427.01 L1015.33,427.01 C1015.85,429.62 1017.02,437.63 1018.47,442.71 C1019.92,447.79 1021.86,452.86 1024.01,457.48 C1026.17,462.1 1028.94,466.1 1031.4,470.41 C1033.86,474.72 1036.33,479.03 1038.79,483.34 C1041.25,487.65 1044.02,492.27 1046.18,496.27 C1048.33,500.27 1050.49,504.27 1051.72,507.35 C1052.95,510.43 1053.72,511.66 1053.56,514.74 C1053.41,517.82 1051.87,522.75 1050.79,525.82 C1049.72,528.9 1048.02,530.44 1047.1,533.21 C1046.18,535.98 1046.18,539.06 1045.25,542.45 C1044.33,545.83 1043.25,550.14 1041.56,553.53 C1039.87,556.92 1037.4,559.69 1035.09,562.77 C1032.79,565.84 1029.71,568.92 1027.71,572 C1025.7,575.08 1024.47,577.23 1023.09,581.24 C1021.7,585.24 1020.32,591.39 1019.39,596.01 C1018.47,600.63 1018.01,604.63 1017.55,608.94 C1017.09,613.25 1016.84,616.95 1016.62,621.87 C1016.41,626.8 1016.32,635.72 1016.25,638.49 L1015.33,638.49 Z" fill="#98bb97"/>
</g>
<text x="745" y="428.3" font-size="35" text-anchor="start">H</text>
<g>
<line x1="1142.8" y1="607.3" x2="1362.7" y2="607.3" stroke="#f0f0f0" stroke-width="1.5"/>
<line x1="1142.8" y1="528.9" x2="1362.7" y2="528.9" stroke="#f0f0f0" stroke-width="1.5"/>
<line x1="1142.8" y1="450.5" x2="1362.7" y2="450.5" stroke="#f0f0f0" stroke-width="1.5"/>
<line x1="1165.1" y1="420.2" x2="1165.1" y2="645.6" stroke="#f0f0f0" stroke-width="1.5"/>
<line x1="1225.3" y1="420.2" x2="1225.3" y2="645.6" stroke="#f0f0f0" stroke-width="1.5"/>
<line x1="1285.5" y1="420.2" x2="1285.5" y2="645.6" stroke="#f0f0f0" stroke-width="1.5"/>
<line x1="1345.7" y1="420.2" x2="1345.7" y2="645.6" stroke="#f0f0f0" stroke-width="1.5"/>
<line x1="1142.8" y1="568.1" x2="1362.7" y2="568.1" stroke="#e6e6e6" stroke-width="2.2"/>
<line x1="1142.8" y1="489.7" x2="1362.7" y2="489.7" stroke="#e6e6e6" stroke-width="2.2"/>
<line x1="1195.2" y1="420.2" x2="1195.2" y2="645.6" stroke="#e6e6e6" stroke-width="2.2"/>
<line x1="1255.4" y1="420.2" x2="1255.4" y2="645.6" stroke="#e6e6e6" stroke-width="2.2"/>
<line x1="1315.6" y1="420.2" x2="1315.6" y2="645.6" stroke="#e6e6e6" stroke-width="2.2"/>
<path d="M1149.51,521.01 L1154.68,519.56 L1159.84,518.11 L1165,516.65 L1170.16,515.18 L1175.32,513.69 L1180.49,512.16 L1185.65,510.6 L1190.81,508.98 L1195.97,507.27 L1201.13,505.43 L1206.29,503.43 L1211.46,501.26 L1216.62,498.93 L1221.78,496.48 L1226.94,493.96 L1232.1,491.39 L1237.27,488.78 L1242.43,486.15 L1247.59,483.5 L1252.75,480.84 L1257.91,478.16 L1263.07,475.49 L1268.24,472.8 L1273.4,470.11 L1278.56,467.42 L1283.72,464.73 L1288.88,462.03 L1294.05,459.33 L1299.21,456.63 L1304.37,453.93 L1309.53,451.22 L1314.69,448.52 L1319.85,445.82 L1325.02,443.11 L1330.18,440.4 L1335.34,437.7 L1340.5,434.99 L1345.66,432.28 L1350.83,429.57 L1355.99,426.86 L1355.99,465.38 L1350.83,466.79 L1345.66,468.2 L1340.5,469.61 L1335.34,471.02 L1330.18,472.43 L1325.02,473.84 L1319.85,475.25 L1314.69,476.67 L1309.53,478.08 L1304.37,479.5 L1299.21,480.91 L1294.05,482.33 L1288.88,483.75 L1283.72,485.17 L1278.56,486.6 L1273.4,488.03 L1268.24,489.46 L1263.07,490.89 L1257.91,492.33 L1252.75,493.78 L1247.59,495.23 L1242.43,496.7 L1237.27,498.19 L1232.1,499.7 L1226.94,501.25 L1221.78,502.84 L1216.62,504.52 L1211.46,506.31 L1206.29,508.25 L1201.13,510.37 L1195.97,512.65 L1190.81,515.06 L1185.65,517.55 L1180.49,520.11 L1175.32,522.71 L1170.16,525.34 L1165,527.98 L1159.84,530.64 L1154.68,533.31 L1149.51,535.98Z" fill="#e3e3e3" fill-opacity="0.75"/>
<circle cx="1298.48" cy="456.82" r="3.85" fill="#5f955e" fill-opacity="0.6"/>
<circle cx="1355.99" cy="458.42" r="3.85" fill="#5f955e" fill-opacity="0.6"/>
<circle cx="1238.84" cy="462.97" r="3.85" fill="#5f955e" fill-opacity="0.6"/>
<circle cx="1242.86" cy="463.77" r="3.85" fill="#5f955e" fill-opacity="0.6"/>
<circle cx="1268.26" cy="465.11" r="3.85" fill="#5f955e" fill-opacity="0.6"/>
<circle cx="1203.27" cy="466.45" r="3.85" fill="#5f955e" fill-opacity="0.6"/>
<circle cx="1222.8" cy="471.79" r="3.85" fill="#5f955e" fill-opacity="0.6"/>
<circle cx="1302.5" cy="470.99" r="3.85" fill="#5f955e" fill-opacity="0.6"/>
<circle cx="1200.87" cy="473.67" r="3.85" fill="#5f955e" fill-opacity="0.6"/>
<circle cx="1210.76" cy="479.55" r="3.85" fill="#5f955e" fill-opacity="0.6"/>
<circle cx="1219.59" cy="477.14" r="3.85" fill="#5f955e" fill-opacity="0.6"/>
<circle cx="1227.61" cy="479.82" r="3.85" fill="#5f955e" fill-opacity="0.6"/>
<circle cx="1217.45" cy="483.03" r="3.85" fill="#5f955e" fill-opacity="0.6"/>
<circle cx="1232.16" cy="483.56" r="3.85" fill="#5f955e" fill-opacity="0.6"/>
<circle cx="1246.33" cy="481.69" r="3.85" fill="#5f955e" fill-opacity="0.6"/>
<circle cx="1251.68" cy="483.56" r="3.85" fill="#5f955e" fill-opacity="0.6"/>
<circle cx="1258.1" cy="482.49" r="3.85" fill="#5f955e" fill-opacity="0.6"/>
<circle cx="1175.99" cy="485.17" r="3.85" fill="#5f955e" fill-opacity="0.6"/>
<circle cx="1181.88" cy="485.17" r="3.85" fill="#5f955e" fill-opacity="0.6"/>
<circle cx="1199.53" cy="484.36" r="3.85" fill="#5f955e" fill-opacity="0.6"/>
<circle cx="1204.07" cy="485.7" r="3.85" fill="#5f955e" fill-opacity="0.6"/>
<circle cx="1221.99" cy="487.04" r="3.85" fill="#5f955e" fill-opacity="0.6"/>
<circle cx="1280.3" cy="483.03" r="3.85" fill="#5f955e" fill-opacity="0.6"/>
<circle cx="1162.08" cy="488.38" r="3.85" fill="#5f955e" fill-opacity="0.6"/>
<circle cx="1156.47" cy="491.05" r="3.85" fill="#5f955e" fill-opacity="0.6"/>
<circle cx="1196.05" cy="489.18" r="3.85" fill="#5f955e" fill-opacity="0.6"/>
<circle cx="1235.63" cy="489.71" r="3.85" fill="#5f955e" fill-opacity="0.6"/>
<circle cx="1274.15" cy="490.25" r="3.85" fill="#5f955e" fill-opacity="0.6"/>
<circle cx="1166.63" cy="495.6" r="3.85" fill="#5f955e" fill-opacity="0.6"/>
<circle cx="1180.81" cy="496.94" r="3.85" fill="#5f955e" fill-opacity="0.6"/>
<circle cx="1218.25" cy="494.26" r="3.85" fill="#5f955e" fill-opacity="0.6"/>
<circle cx="1226.81" cy="495.6" r="3.85" fill="#5f955e" fill-opacity="0.6"/>
<circle cx="1241.52" cy="492.39" r="3.85" fill="#5f955e" fill-opacity="0.6"/>
<circle cx="1243.66" cy="495.06" r="3.85" fill="#5f955e" fill-opacity="0.6"/>
<circle cx="1190.7" cy="500.41" r="3.85" fill="#5f955e" fill-opacity="0.6"/>
<circle cx="1196.05" cy="497.74" r="3.85" fill="#5f955e" fill-opacity="0.6"/>
<circle cx="1194.71" cy="498.54" r="3.85" fill="#5f955e" fill-opacity="0.6"/>
<circle cx="1198.73" cy="499.61" r="3.85" fill="#5f955e" fill-opacity="0.6"/>
<circle cx="1212.9" cy="500.41" r="3.85" fill="#5f955e" fill-opacity="0.6"/>
<circle cx="1221.46" cy="502.28" r="3.85" fill="#5f955e" fill-opacity="0.6"/>
<circle cx="1245.8" cy="501.21" r="3.85" fill="#5f955e" fill-opacity="0.6"/>
<circle cx="1150.58" cy="506.3" r="3.85" fill="#5f955e" fill-opacity="0.6"/>
<circle cx="1164.76" cy="507.63" r="3.85" fill="#5f955e" fill-opacity="0.6"/>
<circle cx="1178.67" cy="501.75" r="3.85" fill="#5f955e" fill-opacity="0.6"/>
<circle cx="1185.35" cy="505.76" r="3.85" fill="#5f955e" fill-opacity="0.6"/>
<circle cx="1194.71" cy="508.44" r="3.85" fill="#5f955e" fill-opacity="0.6"/>
<circle cx="1239.65" cy="508.97" r="3.85" fill="#5f955e" fill-opacity="0.6"/>
<circle cx="1157.81" cy="511.64" r="3.85" fill="#5f955e" fill-opacity="0.6"/>
<circle cx="1166.63" cy="513.25" r="3.85" fill="#5f955e" fill-opacity="0.6"/>
<circle cx="1168.77" cy="514.32" r="3.85" fill="#5f955e" fill-opacity="0.6"/>
<circle cx="1182.14" cy="511.64" r="3.85" fill="#5f955e" fill-opacity="0.6"/>
<circle cx="1208.62" cy="512.45" r="3.85" fill="#5f955e" fill-opacity="0.6"/>
<circle cx="1149.78" cy="519.13" r="3.85" fill="#5f955e" fill-opacity="0.6"/>
<circle cx="1158.61" cy="519.94" r="3.85" fill="#5f955e" fill-opacity="0.6"/>
<circle cx="1192.04" cy="515.12" r="3.85" fill="#5f955e" fill-opacity="0.6"/>
<circle cx="1204.61" cy="518.33" r="3.85" fill="#5f955e" fill-opacity="0.6"/>
<circle cx="1184.02" cy="520.47" r="3.85" fill="#5f955e" fill-opacity="0.6"/>
<circle cx="1254.09" cy="515.92" r="3.85" fill="#5f955e" fill-opacity="0.6"/>
<circle cx="1158.07" cy="527.69" r="3.85" fill="#5f955e" fill-opacity="0.6"/>
<circle cx="1166.63" cy="525.02" r="3.85" fill="#5f955e" fill-opacity="0.6"/>
<circle cx="1171.98" cy="525.82" r="3.85" fill="#5f955e" fill-opacity="0.6"/>
<circle cx="1174.65" cy="527.16" r="3.85" fill="#5f955e" fill-opacity="0.6"/>
<circle cx="1178.13" cy="526.35" r="3.85" fill="#5f955e" fill-opacity="0.6"/>
<circle cx="1203.27" cy="523.68" r="3.85" fill="#5f955e" fill-opacity="0.6"/>
<circle cx="1213.97" cy="527.69" r="3.85" fill="#5f955e" fill-opacity="0.6"/>
<circle cx="1163.42" cy="532.51" r="3.85" fill="#5f955e" fill-opacity="0.6"/>
<circle cx="1171.45" cy="530.63" r="3.85" fill="#5f955e" fill-opacity="0.6"/>
<circle cx="1180.81" cy="538.66" r="3.85" fill="#5f955e" fill-opacity="0.6"/>
<circle cx="1150.58" cy="541.33" r="3.85" fill="#5f955e" fill-opacity="0.6"/>
<circle cx="1163.42" cy="538.66" r="3.85" fill="#5f955e" fill-opacity="0.6"/>
<circle cx="1163.96" cy="545.08" r="3.85" fill="#5f955e" fill-opacity="0.6"/>
<circle cx="1171.98" cy="547.22" r="3.85" fill="#5f955e" fill-opacity="0.6"/>
<circle cx="1156.74" cy="550.43" r="3.85" fill="#5f955e" fill-opacity="0.6"/>
<circle cx="1165.29" cy="552.03" r="3.85" fill="#5f955e" fill-opacity="0.6"/>
<circle cx="1166.1" cy="551.23" r="3.85" fill="#5f955e" fill-opacity="0.6"/>
<circle cx="1150.05" cy="559.25" r="3.85" fill="#5f955e" fill-opacity="0.6"/>
<circle cx="1164.49" cy="566.74" r="3.85" fill="#5f955e" fill-opacity="0.6"/>
<circle cx="1151.39" cy="585.19" r="3.85" fill="#5f955e" fill-opacity="0.6"/>
<circle cx="1188.03" cy="638.95" r="3.85" fill="#5f955e" fill-opacity="0.6"/>
<circle cx="1345.02" cy="499.88" r="3.85" fill="#5f955e" fill-opacity="0.6"/>
<line x1="1149.51" y1="528.49" x2="1355.99" y2="446.12" stroke="#b0482b" stroke-width="1.6"/>
<rect x="1142.8" y="420.2" width="219.9" height="225.4" fill="none" stroke="#000" stroke-width="1.6"/>
<line x1="1136.8" y1="568.1" x2="1142.8" y2="568.1" stroke="#000" stroke-width="1.5"/>
<text font-size="13.6" text-anchor="end" transform="translate(1131.8 573) scale(1 1.1)">0.7</text>
<line x1="1136.8" y1="489.7" x2="1142.8" y2="489.7" stroke="#000" stroke-width="1.5"/>
<text font-size="13.6" text-anchor="end" transform="translate(1131.8 494.6) scale(1 1.1)">0.8</text>
<line x1="1195.2" y1="645.6" x2="1195.2" y2="651.1" stroke="#000" stroke-width="1.5"/>
<text font-size="13.6" text-anchor="middle" transform="translate(1195.2 668.9) scale(1 1.1)">200</text>
<line x1="1255.4" y1="645.6" x2="1255.4" y2="651.1" stroke="#000" stroke-width="1.5"/>
<text font-size="13.6" text-anchor="middle" transform="translate(1255.4 668.9) scale(1 1.1)">400</text>
<line x1="1315.6" y1="645.6" x2="1315.6" y2="651.1" stroke="#000" stroke-width="1.5"/>
<text font-size="13.6" text-anchor="middle" transform="translate(1315.6 668.9) scale(1 1.1)">600</text>
<text x="1252.75" y="687.8" font-size="15.6" text-anchor="middle">GRN</text>
<text x="1102.7" y="532.9" font-size="15.9" text-anchor="middle" transform="rotate(-90 1102.7 532.9)">Immature Dendritic Cell</text>
<text font-size="13.7" text-anchor="end" transform="translate(1355.9 602) scale(1 1.1)">Spearman</text>
<text font-size="13.7" text-anchor="end" transform="translate(1355.9 619.4) scale(1 1.1)"><tspan font-style="italic">R</tspan> = 0.688</text>
<text font-size="13.7" text-anchor="end" transform="translate(1355.9 636) scale(1 1.1)"><tspan font-style="italic">P</tspan> &lt; 0.001</text>
<path d="M1149.51,413.7 L1149.51,390.86 C1150.26,389.86 1152.39,386.82 1153.98,384.9 C1155.58,382.97 1157.39,380.8 1159.09,379.31 C1160.79,377.82 1161.96,376.85 1164.2,375.96 C1166.43,375.07 1169.94,374.1 1172.5,373.97 C1175.05,373.85 1176.86,374.32 1179.52,375.21 C1182.18,376.1 1185.27,377.8 1188.46,379.31 C1191.65,380.82 1195.48,382.89 1198.67,384.28 C1201.87,385.66 1204.42,386.53 1207.61,387.63 C1210.81,388.73 1213.57,389.66 1217.83,390.86 C1222.08,392.06 1228.89,393.65 1233.15,394.83 C1237.41,396.01 1240.17,396.8 1243.37,397.93 C1246.56,399.07 1249.11,400.42 1252.3,401.66 C1255.5,402.9 1259.33,404.35 1262.52,405.38 C1265.71,406.42 1268.26,407.14 1271.46,407.87 C1274.65,408.59 1277.42,409.17 1281.67,409.73 C1285.93,410.29 1292.31,410.76 1296.99,411.22 C1301.68,411.67 1305.51,412.19 1309.76,412.46 C1314.02,412.73 1318.28,412.85 1322.53,412.83 C1326.79,412.81 1331.05,412.48 1335.3,412.33 C1339.56,412.19 1344.62,412.04 1348.07,411.96 C1351.52,411.88 1354.67,411.86 1355.99,411.84 L1355.99,413.7 Z" fill="#98bb97"/>
<path d="M1369.41,427.01 L1369.41,427.01 C1369.47,429.01 1369.1,434.86 1369.78,439.01 C1370.45,443.17 1371.62,447.94 1373.47,451.94 C1375.32,455.94 1378.09,459.64 1380.86,463.02 C1383.63,466.41 1387.02,469.49 1390.09,472.26 C1393.17,475.03 1396.71,476.88 1399.33,479.65 C1401.95,482.42 1404.41,485.8 1405.79,488.88 C1407.18,491.96 1407.49,494.73 1407.64,498.12 C1407.8,501.5 1407.18,506.12 1406.72,509.2 C1406.26,512.28 1406.1,513.82 1404.87,516.59 C1403.64,519.36 1401.79,523.05 1399.33,525.82 C1396.87,528.59 1392.71,530.75 1390.09,533.21 C1387.48,535.67 1385.32,538.14 1383.63,540.6 C1381.94,543.06 1381.32,544.91 1379.94,547.99 C1378.55,551.07 1376.7,555.38 1375.32,559.07 C1373.93,562.77 1372.49,566.46 1371.62,570.15 C1370.76,573.85 1370.48,576.31 1370.15,581.24 C1369.81,586.16 1369.71,590.16 1369.59,599.71 C1369.47,609.25 1369.44,632.03 1369.41,638.49 L1369.41,638.49 Z" fill="#98bb97"/>
</g>
<text x="1100.5" y="428.3" font-size="35" text-anchor="start">I</text>
<g>
<line x1="1496.8" y1="634.87" x2="1716.4" y2="634.87" stroke="#f0f0f0" stroke-width="1.5"/>
<line x1="1496.8" y1="580.93" x2="1716.4" y2="580.93" stroke="#f0f0f0" stroke-width="1.5"/>
<line x1="1496.8" y1="527" x2="1716.4" y2="527" stroke="#f0f0f0" stroke-width="1.5"/>
<line x1="1496.8" y1="473.07" x2="1716.4" y2="473.07" stroke="#f0f0f0" stroke-width="1.5"/>
<line x1="1518.8" y1="420.2" x2="1518.8" y2="645.6" stroke="#f0f0f0" stroke-width="1.5"/>
<line x1="1579" y1="420.2" x2="1579" y2="645.6" stroke="#f0f0f0" stroke-width="1.5"/>
<line x1="1639.2" y1="420.2" x2="1639.2" y2="645.6" stroke="#f0f0f0" stroke-width="1.5"/>
<line x1="1699.4" y1="420.2" x2="1699.4" y2="645.6" stroke="#f0f0f0" stroke-width="1.5"/>
<line x1="1496.8" y1="607.9" x2="1716.4" y2="607.9" stroke="#e6e6e6" stroke-width="2.2"/>
<line x1="1496.8" y1="553.9" x2="1716.4" y2="553.9" stroke="#e6e6e6" stroke-width="2.2"/>
<line x1="1496.8" y1="499.9" x2="1716.4" y2="499.9" stroke="#e6e6e6" stroke-width="2.2"/>
<line x1="1496.8" y1="446.1" x2="1716.4" y2="446.1" stroke="#e6e6e6" stroke-width="2.2"/>
<line x1="1548.9" y1="420.2" x2="1548.9" y2="645.6" stroke="#e6e6e6" stroke-width="2.2"/>
<line x1="1609.1" y1="420.2" x2="1609.1" y2="645.6" stroke="#e6e6e6" stroke-width="2.2"/>
<line x1="1669.3" y1="420.2" x2="1669.3" y2="645.6" stroke="#e6e6e6" stroke-width="2.2"/>
<path d="M1503.47,530.37 L1508.62,529.15 L1513.78,527.92 L1518.93,526.68 L1524.09,525.41 L1529.24,524.11 L1534.4,522.75 L1539.55,521.31 L1544.71,519.75 L1549.86,518 L1555.02,515.99 L1560.17,513.69 L1565.33,511.14 L1570.48,508.41 L1575.64,505.57 L1580.8,502.65 L1585.95,499.68 L1591.11,496.67 L1596.26,493.65 L1601.42,490.61 L1606.57,487.56 L1611.73,484.5 L1616.88,481.43 L1622.04,478.36 L1627.19,475.28 L1632.35,472.2 L1637.5,469.11 L1642.66,466.03 L1647.81,462.94 L1652.97,459.85 L1658.12,456.76 L1663.28,453.66 L1668.43,450.57 L1673.59,447.48 L1678.74,444.38 L1683.9,441.28 L1689.05,438.19 L1694.21,435.09 L1699.36,431.99 L1704.52,428.89 L1709.67,425.79 L1709.67,484.63 L1704.52,485.8 L1699.36,486.97 L1694.21,488.13 L1689.05,489.3 L1683.9,490.47 L1678.74,491.64 L1673.59,492.81 L1668.43,493.98 L1663.28,495.15 L1658.12,496.33 L1652.97,497.5 L1647.81,498.68 L1642.66,499.85 L1637.5,501.03 L1632.35,502.22 L1627.19,503.4 L1622.04,504.59 L1616.88,505.78 L1611.73,506.98 L1606.57,508.18 L1601.42,509.4 L1596.26,510.62 L1591.11,511.87 L1585.95,513.13 L1580.8,514.43 L1575.64,515.77 L1570.48,517.19 L1565.33,518.73 L1560.17,520.44 L1555.02,522.41 L1549.86,524.66 L1544.71,527.18 L1539.55,529.88 L1534.4,532.71 L1529.24,535.62 L1524.09,538.59 L1518.93,541.58 L1513.78,544.6 L1508.62,547.64 L1503.47,550.69Z" fill="#e3e3e3" fill-opacity="0.75"/>
<circle cx="1621.95" cy="445.58" r="3.85" fill="#5f955e" fill-opacity="0.6"/>
<circle cx="1651.9" cy="448.26" r="3.85" fill="#5f955e" fill-opacity="0.6"/>
<circle cx="1556.96" cy="448.79" r="3.85" fill="#5f955e" fill-opacity="0.6"/>
<circle cx="1573.81" cy="460.29" r="3.85" fill="#5f955e" fill-opacity="0.6"/>
<circle cx="1577.28" cy="458.15" r="3.85" fill="#5f955e" fill-opacity="0.6"/>
<circle cx="1553.75" cy="462.97" r="3.85" fill="#5f955e" fill-opacity="0.6"/>
<circle cx="1628.1" cy="465.11" r="3.85" fill="#5f955e" fill-opacity="0.6"/>
<circle cx="1567.12" cy="470.46" r="3.85" fill="#5f955e" fill-opacity="0.6"/>
<circle cx="1656.18" cy="472.33" r="3.85" fill="#5f955e" fill-opacity="0.6"/>
<circle cx="1709.67" cy="475.54" r="3.85" fill="#5f955e" fill-opacity="0.6"/>
<circle cx="1524.33" cy="474.2" r="3.85" fill="#5f955e" fill-opacity="0.6"/>
<circle cx="1525.67" cy="479.02" r="3.85" fill="#5f955e" fill-opacity="0.6"/>
<circle cx="1512.29" cy="481.69" r="3.85" fill="#5f955e" fill-opacity="0.6"/>
<circle cx="1563.91" cy="477.14" r="3.85" fill="#5f955e" fill-opacity="0.6"/>
<circle cx="1571.94" cy="479.02" r="3.85" fill="#5f955e" fill-opacity="0.6"/>
<circle cx="1593.33" cy="476.34" r="3.85" fill="#5f955e" fill-opacity="0.6"/>
<circle cx="1596.54" cy="478.48" r="3.85" fill="#5f955e" fill-opacity="0.6"/>
<circle cx="1597.08" cy="481.69" r="3.85" fill="#5f955e" fill-opacity="0.6"/>
<circle cx="1532.35" cy="485.17" r="3.85" fill="#5f955e" fill-opacity="0.6"/>
<circle cx="1556.96" cy="482.49" r="3.85" fill="#5f955e" fill-opacity="0.6"/>
<circle cx="1548.4" cy="487.84" r="3.85" fill="#5f955e" fill-opacity="0.6"/>
<circle cx="1547.06" cy="491.05" r="3.85" fill="#5f955e" fill-opacity="0.6"/>
<circle cx="1633.45" cy="490.25" r="3.85" fill="#5f955e" fill-opacity="0.6"/>
<circle cx="1515.77" cy="497.2" r="3.85" fill="#5f955e" fill-opacity="0.6"/>
<circle cx="1522.46" cy="498.27" r="3.85" fill="#5f955e" fill-opacity="0.6"/>
<circle cx="1593.06" cy="495.06" r="3.85" fill="#5f955e" fill-opacity="0.6"/>
<circle cx="1593.06" cy="497.74" r="3.85" fill="#5f955e" fill-opacity="0.6"/>
<circle cx="1600.02" cy="497.2" r="3.85" fill="#5f955e" fill-opacity="0.6"/>
<circle cx="1518.98" cy="504.42" r="3.85" fill="#5f955e" fill-opacity="0.6"/>
<circle cx="1518.18" cy="507.1" r="3.85" fill="#5f955e" fill-opacity="0.6"/>
<circle cx="1520.32" cy="508.44" r="3.85" fill="#5f955e" fill-opacity="0.6"/>
<circle cx="1527.54" cy="507.9" r="3.85" fill="#5f955e" fill-opacity="0.6"/>
<circle cx="1528.34" cy="506.56" r="3.85" fill="#5f955e" fill-opacity="0.6"/>
<circle cx="1535.56" cy="506.56" r="3.85" fill="#5f955e" fill-opacity="0.6"/>
<circle cx="1538.24" cy="505.76" r="3.85" fill="#5f955e" fill-opacity="0.6"/>
<circle cx="1543.85" cy="508.97" r="3.85" fill="#5f955e" fill-opacity="0.6"/>
<circle cx="1550.54" cy="504.42" r="3.85" fill="#5f955e" fill-opacity="0.6"/>
<circle cx="1558.56" cy="509.24" r="3.85" fill="#5f955e" fill-opacity="0.6"/>
<circle cx="1566.59" cy="507.1" r="3.85" fill="#5f955e" fill-opacity="0.6"/>
<circle cx="1571.4" cy="506.56" r="3.85" fill="#5f955e" fill-opacity="0.6"/>
<circle cx="1581.03" cy="508.7" r="3.85" fill="#5f955e" fill-opacity="0.6"/>
<circle cx="1585.31" cy="503.62" r="3.85" fill="#5f955e" fill-opacity="0.6"/>
<circle cx="1522.99" cy="514.32" r="3.85" fill="#5f955e" fill-opacity="0.6"/>
<circle cx="1530.48" cy="513.25" r="3.85" fill="#5f955e" fill-opacity="0.6"/>
<circle cx="1554.55" cy="512.45" r="3.85" fill="#5f955e" fill-opacity="0.6"/>
<circle cx="1562.58" cy="516.46" r="3.85" fill="#5f955e" fill-opacity="0.6"/>
<circle cx="1511.49" cy="519.94" r="3.85" fill="#5f955e" fill-opacity="0.6"/>
<circle cx="1531.02" cy="517.8" r="3.85" fill="#5f955e" fill-opacity="0.6"/>
<circle cx="1538.24" cy="519.94" r="3.85" fill="#5f955e" fill-opacity="0.6"/>
<circle cx="1557.76" cy="521.27" r="3.85" fill="#5f955e" fill-opacity="0.6"/>
<circle cx="1604.03" cy="515.12" r="3.85" fill="#5f955e" fill-opacity="0.6"/>
<circle cx="1607.77" cy="528.49" r="3.85" fill="#5f955e" fill-opacity="0.6"/>
<circle cx="1612.05" cy="528.49" r="3.85" fill="#5f955e" fill-opacity="0.6"/>
<circle cx="1549.74" cy="527.69" r="3.85" fill="#5f955e" fill-opacity="0.6"/>
<circle cx="1545.73" cy="533.04" r="3.85" fill="#5f955e" fill-opacity="0.6"/>
<circle cx="1589.05" cy="532.51" r="3.85" fill="#5f955e" fill-opacity="0.6"/>
<circle cx="1510.96" cy="532.51" r="3.85" fill="#5f955e" fill-opacity="0.6"/>
<circle cx="1521.65" cy="536.52" r="3.85" fill="#5f955e" fill-opacity="0.6"/>
<circle cx="1535.56" cy="535.98" r="3.85" fill="#5f955e" fill-opacity="0.6"/>
<circle cx="1533.16" cy="540.53" r="3.85" fill="#5f955e" fill-opacity="0.6"/>
<circle cx="1539.04" cy="544.54" r="3.85" fill="#5f955e" fill-opacity="0.6"/>
<circle cx="1502.93" cy="544.54" r="3.85" fill="#5f955e" fill-opacity="0.6"/>
<circle cx="1511.49" cy="546.68" r="3.85" fill="#5f955e" fill-opacity="0.6"/>
<circle cx="1518.45" cy="549.89" r="3.85" fill="#5f955e" fill-opacity="0.6"/>
<circle cx="1533.16" cy="549.89" r="3.85" fill="#5f955e" fill-opacity="0.6"/>
<circle cx="1552.41" cy="548.55" r="3.85" fill="#5f955e" fill-opacity="0.6"/>
<circle cx="1581.03" cy="544.54" r="3.85" fill="#5f955e" fill-opacity="0.6"/>
<circle cx="1599.75" cy="554.44" r="3.85" fill="#5f955e" fill-opacity="0.6"/>
<circle cx="1698.71" cy="546.68" r="3.85" fill="#5f955e" fill-opacity="0.6"/>
<circle cx="1504.27" cy="557.11" r="3.85" fill="#5f955e" fill-opacity="0.6"/>
<circle cx="1503.74" cy="561.39" r="3.85" fill="#5f955e" fill-opacity="0.6"/>
<circle cx="1519.78" cy="561.39" r="3.85" fill="#5f955e" fill-opacity="0.6"/>
<circle cx="1534.49" cy="568.61" r="3.85" fill="#5f955e" fill-opacity="0.6"/>
<circle cx="1517.11" cy="571.82" r="3.85" fill="#5f955e" fill-opacity="0.6"/>
<circle cx="1517.64" cy="579.31" r="3.85" fill="#5f955e" fill-opacity="0.6"/>
<circle cx="1525.67" cy="578.78" r="3.85" fill="#5f955e" fill-opacity="0.6"/>
<circle cx="1510.96" cy="581.98" r="3.85" fill="#5f955e" fill-opacity="0.6"/>
<circle cx="1512.29" cy="587.33" r="3.85" fill="#5f955e" fill-opacity="0.6"/>
<circle cx="1518.45" cy="583.32" r="3.85" fill="#5f955e" fill-opacity="0.6"/>
<circle cx="1504.81" cy="602.04" r="3.85" fill="#5f955e" fill-opacity="0.6"/>
<circle cx="1505.61" cy="603.38" r="3.85" fill="#5f955e" fill-opacity="0.6"/>
<circle cx="1541.71" cy="638.95" r="3.85" fill="#5f955e" fill-opacity="0.6"/>
<line x1="1503.47" y1="540.53" x2="1709.67" y2="455.21" stroke="#b0482b" stroke-width="1.6"/>
<rect x="1496.8" y="420.2" width="219.6" height="225.4" fill="none" stroke="#000" stroke-width="1.6"/>
<line x1="1490.8" y1="607.9" x2="1496.8" y2="607.9" stroke="#000" stroke-width="1.5"/>
<text font-size="13.6" text-anchor="end" transform="translate(1485.8 612.8) scale(1 1.1)">0.6</text>
<line x1="1490.8" y1="553.9" x2="1496.8" y2="553.9" stroke="#000" stroke-width="1.5"/>
<text font-size="13.6" text-anchor="end" transform="translate(1485.8 558.8) scale(1 1.1)">0.7</text>
<line x1="1490.8" y1="499.9" x2="1496.8" y2="499.9" stroke="#000" stroke-width="1.5"/>
<text font-size="13.6" text-anchor="end" transform="translate(1485.8 504.8) scale(1 1.1)">0.8</text>
<line x1="1490.8" y1="446.1" x2="1496.8" y2="446.1" stroke="#000" stroke-width="1.5"/>
<text font-size="13.6" text-anchor="end" transform="translate(1485.8 451) scale(1 1.1)">0.9</text>
<line x1="1548.9" y1="645.6" x2="1548.9" y2="651.1" stroke="#000" stroke-width="1.5"/>
<text font-size="13.6" text-anchor="middle" transform="translate(1548.9 668.9) scale(1 1.1)">200</text>
<line x1="1609.1" y1="645.6" x2="1609.1" y2="651.1" stroke="#000" stroke-width="1.5"/>
<text font-size="13.6" text-anchor="middle" transform="translate(1609.1 668.9) scale(1 1.1)">400</text>
<line x1="1669.3" y1="645.6" x2="1669.3" y2="651.1" stroke="#000" stroke-width="1.5"/>
<text font-size="13.6" text-anchor="middle" transform="translate(1669.3 668.9) scale(1 1.1)">600</text>
<text x="1606.6" y="687.8" font-size="15.6" text-anchor="middle">GRN</text>
<text x="1456.4" y="532.9" font-size="15.9" text-anchor="middle" transform="rotate(-90 1456.4 532.9)">Regulatory T Cell</text>
<text font-size="13.7" text-anchor="end" transform="translate(1709.6 602) scale(1 1.1)">Spearman</text>
<text font-size="13.7" text-anchor="end" transform="translate(1709.6 619.4) scale(1 1.1)"><tspan font-style="italic">R</tspan> = 0.509</text>
<text font-size="13.7" text-anchor="end" transform="translate(1709.6 636) scale(1 1.1)"><tspan font-style="italic">P</tspan> &lt; 0.001</text>
<path d="M1503.47,413.7 L1503.47,390.86 C1504.21,389.86 1506.34,386.82 1507.93,384.9 C1509.53,382.97 1511.33,380.8 1513.03,379.31 C1514.73,377.82 1515.9,376.85 1518.13,375.96 C1520.37,375.07 1523.87,374.1 1526.42,373.97 C1528.97,373.85 1530.78,374.32 1533.44,375.21 C1536.09,376.1 1539.17,377.8 1542.36,379.31 C1545.55,380.82 1549.38,382.89 1552.56,384.28 C1555.75,385.66 1558.3,386.53 1561.49,387.63 C1564.68,388.73 1567.44,389.66 1571.69,390.86 C1575.94,392.06 1582.75,393.65 1587,394.83 C1591.25,396.01 1594.01,396.8 1597.2,397.93 C1600.39,399.07 1602.94,400.42 1606.12,401.66 C1609.31,402.9 1613.14,404.35 1616.33,405.38 C1619.51,406.42 1622.06,407.14 1625.25,407.87 C1628.44,408.59 1631.2,409.17 1635.45,409.73 C1639.71,410.29 1646.08,410.76 1650.76,411.22 C1655.43,411.67 1659.26,412.19 1663.51,412.46 C1667.76,412.73 1672.01,412.85 1676.26,412.83 C1680.51,412.81 1684.76,412.48 1689.01,412.33 C1693.27,412.19 1698.32,412.04 1701.77,411.96 C1705.21,411.88 1708.36,411.86 1709.67,411.84 L1709.67,413.7 Z" fill="#98bb97"/>
<path d="M1723.24,427.01 L1723.24,427.01 C1723.7,429.01 1724.63,434.86 1726.01,439.01 C1727.4,443.17 1729.4,447.63 1731.55,451.94 C1733.71,456.25 1736.48,460.56 1738.94,464.87 C1741.4,469.18 1743.87,473.49 1746.33,477.8 C1748.79,482.11 1751.56,487.04 1753.72,490.73 C1755.87,494.42 1758.03,496.89 1759.26,499.96 C1760.49,503.04 1761.26,505.81 1761.11,509.2 C1760.95,512.59 1759.57,516.59 1758.34,520.28 C1757.1,523.98 1755.26,527.36 1753.72,531.36 C1752.18,535.37 1750.64,539.98 1749.1,544.29 C1747.56,548.6 1746.02,552.91 1744.48,557.22 C1742.94,561.53 1741.4,566.15 1739.86,570.15 C1738.33,574.16 1736.94,577.54 1735.25,581.24 C1733.55,584.93 1731.25,588.62 1729.71,592.32 C1728.17,596.01 1726.94,599.09 1726.01,603.4 C1725.09,607.71 1724.56,612.33 1724.16,618.18 C1723.76,624.03 1723.7,635.11 1723.61,638.49 L1723.24,638.49 Z" fill="#98bb97"/>
</g>
<text x="1455" y="428.3" font-size="35" text-anchor="start">J</text>
<line x1="141.45" y1="750.2" x2="141.45" y2="1220" stroke="#f0f0f0" stroke-width="1.5"/>
<line x1="195.1" y1="750.2" x2="195.1" y2="1220" stroke="#e6e6e6" stroke-width="2.2"/>
<line x1="248.75" y1="750.2" x2="248.75" y2="1220" stroke="#f0f0f0" stroke-width="1.5"/>
<line x1="302.4" y1="750.2" x2="302.4" y2="1220" stroke="#e6e6e6" stroke-width="2.2"/>
<line x1="356.05" y1="750.2" x2="356.05" y2="1220" stroke="#f0f0f0" stroke-width="1.5"/>
<line x1="409.7" y1="750.2" x2="409.7" y2="1220" stroke="#e6e6e6" stroke-width="2.2"/>
<line x1="463.35" y1="750.2" x2="463.35" y2="1220" stroke="#f0f0f0" stroke-width="1.5"/>
<line x1="87.6" y1="775.5" x2="514.4" y2="775.5" stroke="#e6e6e6" stroke-width="2.2"/>
<line x1="87.6" y1="817.47" x2="514.4" y2="817.47" stroke="#e6e6e6" stroke-width="2.2"/>
<line x1="87.6" y1="859.44" x2="514.4" y2="859.44" stroke="#e6e6e6" stroke-width="2.2"/>
<line x1="87.6" y1="901.41" x2="514.4" y2="901.41" stroke="#e6e6e6" stroke-width="2.2"/>
<line x1="87.6" y1="943.38" x2="514.4" y2="943.38" stroke="#e6e6e6" stroke-width="2.2"/>
<line x1="87.6" y1="985.35" x2="514.4" y2="985.35" stroke="#e6e6e6" stroke-width="2.2"/>
<line x1="87.6" y1="1027.32" x2="514.4" y2="1027.32" stroke="#e6e6e6" stroke-width="2.2"/>
<line x1="87.6" y1="1069.29" x2="514.4" y2="1069.29" stroke="#e6e6e6" stroke-width="2.2"/>
<line x1="87.6" y1="1111.26" x2="514.4" y2="1111.26" stroke="#e6e6e6" stroke-width="2.2"/>
<line x1="87.6" y1="1153.23" x2="514.4" y2="1153.23" stroke="#e6e6e6" stroke-width="2.2"/>
<line x1="87.6" y1="1195.2" x2="514.4" y2="1195.2" stroke="#e6e6e6" stroke-width="2.2"/>
<rect x="87.6" y="758.6" width="26.49" height="16.9" fill="#c2826f" stroke="#000" stroke-width="1.6" fill-opacity="0.95"/>
<rect x="87.6" y="775.5" width="9.86" height="16.9" fill="#8fb28c" stroke="#000" stroke-width="1.6" fill-opacity="0.95"/>
<rect x="87.6" y="800.57" width="309.76" height="16.9" fill="#c2826f" stroke="#000" stroke-width="1.6" fill-opacity="0.95"/>
<rect x="87.6" y="817.47" width="189.58" height="16.9" fill="#8fb28c" stroke="#000" stroke-width="1.6" fill-opacity="0.95"/>
<rect x="87.6" y="842.54" width="166.52" height="16.9" fill="#c2826f" stroke="#000" stroke-width="1.6" fill-opacity="0.95"/>
<rect x="87.6" y="859.44" width="113.4" height="16.9" fill="#8fb28c" stroke="#000" stroke-width="1.6" fill-opacity="0.95"/>
<rect x="87.6" y="884.51" width="16.3" height="16.9" fill="#c2826f" stroke="#000" stroke-width="1.6" fill-opacity="0.95"/>
<rect x="87.6" y="901.41" width="9.86" height="16.9" fill="#8fb28c" stroke="#000" stroke-width="1.6" fill-opacity="0.95"/>
<rect x="87.6" y="926.48" width="72.36" height="16.9" fill="#c2826f" stroke="#000" stroke-width="1.6" fill-opacity="0.95"/>
<rect x="87.6" y="943.38" width="35.88" height="16.9" fill="#8fb28c" stroke="#000" stroke-width="1.6" fill-opacity="0.95"/>
<rect x="87.6" y="968.45" width="156.32" height="16.9" fill="#c2826f" stroke="#000" stroke-width="1.6" fill-opacity="0.95"/>
<rect x="87.6" y="985.35" width="100.53" height="16.9" fill="#8fb28c" stroke="#000" stroke-width="1.6" fill-opacity="0.95"/>
<rect x="87.6" y="1010.42" width="258.26" height="16.9" fill="#c2826f" stroke="#000" stroke-width="1.6" fill-opacity="0.95"/>
<rect x="87.6" y="1027.32" width="218.56" height="16.9" fill="#8fb28c" stroke="#000" stroke-width="1.6" fill-opacity="0.95"/>
<rect x="87.6" y="1052.39" width="65.12" height="16.9" fill="#c2826f" stroke="#000" stroke-width="1.6" fill-opacity="0.95"/>
<rect x="87.6" y="1069.29" width="51.44" height="16.9" fill="#8fb28c" stroke="#000" stroke-width="1.6" fill-opacity="0.95"/>
<rect x="87.6" y="1094.36" width="28.63" height="16.9" fill="#c2826f" stroke="#000" stroke-width="1.6" fill-opacity="0.95"/>
<rect x="87.6" y="1111.26" width="20.05" height="16.9" fill="#8fb28c" stroke="#000" stroke-width="1.6" fill-opacity="0.95"/>
<rect x="87.6" y="1136.33" width="20.05" height="16.9" fill="#c2826f" stroke="#000" stroke-width="1.6" fill-opacity="0.95"/>
<rect x="87.6" y="1153.23" width="7.17" height="16.9" fill="#8fb28c" stroke="#000" stroke-width="1.6" fill-opacity="0.95"/>
<rect x="87.6" y="1178.3" width="38.29" height="16.9" fill="#c2826f" stroke="#000" stroke-width="1.6" fill-opacity="0.95"/>
<rect x="87.6" y="1195.2" width="12.54" height="16.9" fill="#8fb28c" stroke="#000" stroke-width="1.6" fill-opacity="0.95"/>
<line x1="110.47" y1="767.05" x2="117.71" y2="767.05" stroke="#000" stroke-width="1.3"/>
<line x1="110.47" y1="765.05" x2="110.47" y2="769.05" stroke="#000" stroke-width="1.3"/>
<line x1="117.71" y1="765.05" x2="117.71" y2="769.05" stroke="#000" stroke-width="1.3"/>
<circle cx="89.94" cy="766.39" r="2.6" fill="#bf5a3c" fill-opacity="0.85"/>
<circle cx="91.1" cy="764.21" r="2.6" fill="#bf5a3c" fill-opacity="0.85"/>
<circle cx="92.25" cy="771.23" r="2.6" fill="#bf5a3c" fill-opacity="0.85"/>
<circle cx="92.75" cy="769.87" r="2.6" fill="#bf5a3c" fill-opacity="0.85"/>
<circle cx="93.65" cy="763.42" r="2.6" fill="#bf5a3c" fill-opacity="0.85"/>
<circle cx="94.25" cy="768.11" r="2.6" fill="#bf5a3c" fill-opacity="0.85"/>
<circle cx="94.79" cy="767.41" r="2.6" fill="#bf5a3c" fill-opacity="0.85"/>
<circle cx="95.62" cy="772.38" r="2.6" fill="#bf5a3c" fill-opacity="0.85"/>
<circle cx="96.08" cy="770.31" r="2.6" fill="#bf5a3c" fill-opacity="0.85"/>
<circle cx="96.89" cy="764.04" r="2.6" fill="#bf5a3c" fill-opacity="0.85"/>
<circle cx="97.41" cy="773.87" r="2.6" fill="#bf5a3c" fill-opacity="0.85"/>
<circle cx="98.09" cy="761.63" r="2.6" fill="#bf5a3c" fill-opacity="0.85"/>
<circle cx="98.92" cy="765.89" r="2.6" fill="#bf5a3c" fill-opacity="0.85"/>
<circle cx="99.81" cy="770.7" r="2.6" fill="#bf5a3c" fill-opacity="0.85"/>
<circle cx="100.24" cy="762.11" r="2.6" fill="#bf5a3c" fill-opacity="0.85"/>
<circle cx="101.04" cy="766.89" r="2.6" fill="#bf5a3c" fill-opacity="0.85"/>
<circle cx="102.02" cy="760.51" r="2.6" fill="#bf5a3c" fill-opacity="0.85"/>
<circle cx="103.01" cy="769.44" r="2.6" fill="#bf5a3c" fill-opacity="0.85"/>
<circle cx="103.69" cy="770.81" r="2.6" fill="#bf5a3c" fill-opacity="0.85"/>
<circle cx="104.5" cy="768.09" r="2.6" fill="#bf5a3c" fill-opacity="0.85"/>
<circle cx="105.8" cy="772.38" r="2.6" fill="#bf5a3c" fill-opacity="0.85"/>
<circle cx="106.25" cy="764.41" r="2.6" fill="#bf5a3c" fill-opacity="0.85"/>
<circle cx="107.84" cy="769.82" r="2.6" fill="#bf5a3c" fill-opacity="0.85"/>
<circle cx="108.6" cy="768.39" r="2.6" fill="#bf5a3c" fill-opacity="0.85"/>
<circle cx="109.71" cy="768.18" r="2.6" fill="#bf5a3c" fill-opacity="0.85"/>
<circle cx="110.99" cy="766.43" r="2.6" fill="#bf5a3c" fill-opacity="0.85"/>
<circle cx="112.57" cy="771.88" r="2.6" fill="#bf5a3c" fill-opacity="0.85"/>
<circle cx="114.61" cy="773.36" r="2.6" fill="#bf5a3c" fill-opacity="0.85"/>
<circle cx="115.68" cy="766.68" r="2.6" fill="#bf5a3c" fill-opacity="0.85"/>
<circle cx="118.02" cy="769.38" r="2.6" fill="#bf5a3c" fill-opacity="0.85"/>
<circle cx="120.23" cy="760.81" r="2.6" fill="#bf5a3c" fill-opacity="0.85"/>
<circle cx="122.24" cy="769.91" r="2.6" fill="#bf5a3c" fill-opacity="0.85"/>
<circle cx="125.28" cy="769.14" r="2.6" fill="#bf5a3c" fill-opacity="0.85"/>
<circle cx="127.51" cy="774.05" r="2.6" fill="#bf5a3c" fill-opacity="0.85"/>
<circle cx="131.14" cy="771.62" r="2.6" fill="#bf5a3c" fill-opacity="0.85"/>
<circle cx="136.01" cy="763.99" r="2.6" fill="#bf5a3c" fill-opacity="0.85"/>
<circle cx="143.67" cy="765.43" r="2.6" fill="#bf5a3c" fill-opacity="0.85"/>
<circle cx="150.64" cy="769.44" r="2.6" fill="#bf5a3c" fill-opacity="0.85"/>
<circle cx="161.62" cy="760.27" r="2.6" fill="#bf5a3c" fill-opacity="0.85"/>
<circle cx="209.51" cy="766.51" r="2.6" fill="#bf5a3c" fill-opacity="0.85"/>
<line x1="95.63" y1="783.95" x2="99.29" y2="783.95" stroke="#000" stroke-width="1.3"/>
<line x1="95.63" y1="781.95" x2="95.63" y2="785.95" stroke="#000" stroke-width="1.3"/>
<line x1="99.29" y1="781.95" x2="99.29" y2="785.95" stroke="#000" stroke-width="1.3"/>
<circle cx="88.52" cy="782.42" r="2.6" fill="#6a9c69" fill-opacity="0.85"/>
<circle cx="89.01" cy="782.52" r="2.6" fill="#6a9c69" fill-opacity="0.85"/>
<circle cx="89.34" cy="778.32" r="2.6" fill="#6a9c69" fill-opacity="0.85"/>
<circle cx="89.74" cy="785.86" r="2.6" fill="#6a9c69" fill-opacity="0.85"/>
<circle cx="89.9" cy="777.74" r="2.6" fill="#6a9c69" fill-opacity="0.85"/>
<circle cx="90.17" cy="777.81" r="2.6" fill="#6a9c69" fill-opacity="0.85"/>
<circle cx="90.43" cy="779.82" r="2.6" fill="#6a9c69" fill-opacity="0.85"/>
<circle cx="90.74" cy="779.16" r="2.6" fill="#6a9c69" fill-opacity="0.85"/>
<circle cx="90.87" cy="781.68" r="2.6" fill="#6a9c69" fill-opacity="0.85"/>
<circle cx="91.17" cy="777.6" r="2.6" fill="#6a9c69" fill-opacity="0.85"/>
<circle cx="91.43" cy="776.86" r="2.6" fill="#6a9c69" fill-opacity="0.85"/>
<circle cx="91.73" cy="779" r="2.6" fill="#6a9c69" fill-opacity="0.85"/>
<circle cx="91.98" cy="778.29" r="2.6" fill="#6a9c69" fill-opacity="0.85"/>
<circle cx="92.26" cy="782.01" r="2.6" fill="#6a9c69" fill-opacity="0.85"/>
<circle cx="92.44" cy="777.21" r="2.6" fill="#6a9c69" fill-opacity="0.85"/>
<circle cx="92.75" cy="789.26" r="2.6" fill="#6a9c69" fill-opacity="0.85"/>
<circle cx="93.03" cy="785.57" r="2.6" fill="#6a9c69" fill-opacity="0.85"/>
<circle cx="93.44" cy="778.96" r="2.6" fill="#6a9c69" fill-opacity="0.85"/>
<circle cx="93.78" cy="780.43" r="2.6" fill="#6a9c69" fill-opacity="0.85"/>
<circle cx="93.96" cy="781.78" r="2.6" fill="#6a9c69" fill-opacity="0.85"/>
<circle cx="94.32" cy="782.02" r="2.6" fill="#6a9c69" fill-opacity="0.85"/>
<circle cx="94.71" cy="778.6" r="2.6" fill="#6a9c69" fill-opacity="0.85"/>
<circle cx="95.11" cy="788.9" r="2.6" fill="#6a9c69" fill-opacity="0.85"/>
<circle cx="95.61" cy="790.95" r="2.6" fill="#6a9c69" fill-opacity="0.85"/>
<circle cx="96.1" cy="783.47" r="2.6" fill="#6a9c69" fill-opacity="0.85"/>
<circle cx="96.51" cy="783.72" r="2.6" fill="#6a9c69" fill-opacity="0.85"/>
<circle cx="96.96" cy="778.07" r="2.6" fill="#6a9c69" fill-opacity="0.85"/>
<circle cx="97.69" cy="778.3" r="2.6" fill="#6a9c69" fill-opacity="0.85"/>
<circle cx="98.33" cy="781.72" r="2.6" fill="#6a9c69" fill-opacity="0.85"/>
<circle cx="99.14" cy="780.61" r="2.6" fill="#6a9c69" fill-opacity="0.85"/>
<circle cx="100.17" cy="788.62" r="2.6" fill="#6a9c69" fill-opacity="0.85"/>
<circle cx="100.98" cy="779.14" r="2.6" fill="#6a9c69" fill-opacity="0.85"/>
<circle cx="101.95" cy="777.18" r="2.6" fill="#6a9c69" fill-opacity="0.85"/>
<circle cx="103.31" cy="790.35" r="2.6" fill="#6a9c69" fill-opacity="0.85"/>
<circle cx="104.92" cy="784.35" r="2.6" fill="#6a9c69" fill-opacity="0.85"/>
<circle cx="106.09" cy="778.93" r="2.6" fill="#6a9c69" fill-opacity="0.85"/>
<circle cx="109.88" cy="784.56" r="2.6" fill="#6a9c69" fill-opacity="0.85"/>
<circle cx="113.43" cy="777.24" r="2.6" fill="#6a9c69" fill-opacity="0.85"/>
<circle cx="120.27" cy="784.35" r="2.6" fill="#6a9c69" fill-opacity="0.85"/>
<circle cx="155.59" cy="790.74" r="2.6" fill="#6a9c69" fill-opacity="0.85"/>
<line x1="389.61" y1="809.02" x2="405.11" y2="809.02" stroke="#000" stroke-width="1.3"/>
<line x1="389.61" y1="807.02" x2="389.61" y2="811.02" stroke="#000" stroke-width="1.3"/>
<line x1="405.11" y1="807.02" x2="405.11" y2="811.02" stroke="#000" stroke-width="1.3"/>
<circle cx="285.32" cy="803.13" r="2.6" fill="#bf5a3c" fill-opacity="0.85"/>
<circle cx="299.45" cy="811.3" r="2.6" fill="#bf5a3c" fill-opacity="0.85"/>
<circle cx="307.09" cy="814.84" r="2.6" fill="#bf5a3c" fill-opacity="0.85"/>
<circle cx="315.57" cy="813.03" r="2.6" fill="#bf5a3c" fill-opacity="0.85"/>
<circle cx="321.34" cy="812.57" r="2.6" fill="#bf5a3c" fill-opacity="0.85"/>
<circle cx="328.98" cy="808.71" r="2.6" fill="#bf5a3c" fill-opacity="0.85"/>
<circle cx="333.24" cy="804.46" r="2.6" fill="#bf5a3c" fill-opacity="0.85"/>
<circle cx="338.49" cy="813.12" r="2.6" fill="#bf5a3c" fill-opacity="0.85"/>
<circle cx="341.63" cy="806.64" r="2.6" fill="#bf5a3c" fill-opacity="0.85"/>
<circle cx="345.46" cy="813.29" r="2.6" fill="#bf5a3c" fill-opacity="0.85"/>
<circle cx="350.71" cy="815.72" r="2.6" fill="#bf5a3c" fill-opacity="0.85"/>
<circle cx="354.8" cy="807.54" r="2.6" fill="#bf5a3c" fill-opacity="0.85"/>
<circle cx="358.11" cy="807.62" r="2.6" fill="#bf5a3c" fill-opacity="0.85"/>
<circle cx="361.52" cy="815.36" r="2.6" fill="#bf5a3c" fill-opacity="0.85"/>
<circle cx="364.99" cy="812.21" r="2.6" fill="#bf5a3c" fill-opacity="0.85"/>
<circle cx="368.21" cy="804.34" r="2.6" fill="#bf5a3c" fill-opacity="0.85"/>
<circle cx="370.54" cy="803.73" r="2.6" fill="#bf5a3c" fill-opacity="0.85"/>
<circle cx="374.44" cy="804.07" r="2.6" fill="#bf5a3c" fill-opacity="0.85"/>
<circle cx="377.43" cy="814.77" r="2.6" fill="#bf5a3c" fill-opacity="0.85"/>
<circle cx="380.09" cy="813.37" r="2.6" fill="#bf5a3c" fill-opacity="0.85"/>
<circle cx="383.39" cy="804" r="2.6" fill="#bf5a3c" fill-opacity="0.85"/>
<circle cx="387.22" cy="813.66" r="2.6" fill="#bf5a3c" fill-opacity="0.85"/>
<circle cx="390.52" cy="815.84" r="2.6" fill="#bf5a3c" fill-opacity="0.85"/>
<circle cx="394.79" cy="811.25" r="2.6" fill="#bf5a3c" fill-opacity="0.85"/>
<circle cx="398.78" cy="806.9" r="2.6" fill="#bf5a3c" fill-opacity="0.85"/>
<circle cx="401.22" cy="809.71" r="2.6" fill="#bf5a3c" fill-opacity="0.85"/>
<circle cx="405.85" cy="803.78" r="2.6" fill="#bf5a3c" fill-opacity="0.85"/>
<circle cx="409.64" cy="802.12" r="2.6" fill="#bf5a3c" fill-opacity="0.85"/>
<circle cx="413.35" cy="815.7" r="2.6" fill="#bf5a3c" fill-opacity="0.85"/>
<circle cx="415.87" cy="811.14" r="2.6" fill="#bf5a3c" fill-opacity="0.85"/>
<circle cx="419.52" cy="809.4" r="2.6" fill="#bf5a3c" fill-opacity="0.85"/>
<circle cx="423.69" cy="815.18" r="2.6" fill="#bf5a3c" fill-opacity="0.85"/>
<circle cx="427.95" cy="808.08" r="2.6" fill="#bf5a3c" fill-opacity="0.85"/>
<circle cx="432.54" cy="814.3" r="2.6" fill="#bf5a3c" fill-opacity="0.85"/>
<circle cx="438.65" cy="813.65" r="2.6" fill="#bf5a3c" fill-opacity="0.85"/>
<circle cx="444.81" cy="804.92" r="2.6" fill="#bf5a3c" fill-opacity="0.85"/>
<circle cx="450.35" cy="805.5" r="2.6" fill="#bf5a3c" fill-opacity="0.85"/>
<circle cx="455.21" cy="806.08" r="2.6" fill="#bf5a3c" fill-opacity="0.85"/>
<circle cx="462.77" cy="805.34" r="2.6" fill="#bf5a3c" fill-opacity="0.85"/>
<circle cx="472.15" cy="810.25" r="2.6" fill="#bf5a3c" fill-opacity="0.85"/>
<line x1="268.84" y1="825.92" x2="285.53" y2="825.92" stroke="#000" stroke-width="1.3"/>
<line x1="268.84" y1="823.92" x2="268.84" y2="827.92" stroke="#000" stroke-width="1.3"/>
<line x1="285.53" y1="823.92" x2="285.53" y2="827.92" stroke="#000" stroke-width="1.3"/>
<circle cx="164.7" cy="825.24" r="2.6" fill="#6a9c69" fill-opacity="0.85"/>
<circle cx="181.6" cy="826.39" r="2.6" fill="#6a9c69" fill-opacity="0.85"/>
<circle cx="188.8" cy="825.61" r="2.6" fill="#6a9c69" fill-opacity="0.85"/>
<circle cx="198.32" cy="832.19" r="2.6" fill="#6a9c69" fill-opacity="0.85"/>
<circle cx="201.92" cy="828.75" r="2.6" fill="#6a9c69" fill-opacity="0.85"/>
<circle cx="207.12" cy="831.27" r="2.6" fill="#6a9c69" fill-opacity="0.85"/>
<circle cx="211.91" cy="832.2" r="2.6" fill="#6a9c69" fill-opacity="0.85"/>
<circle cx="216.82" cy="822.51" r="2.6" fill="#6a9c69" fill-opacity="0.85"/>
<circle cx="219.61" cy="826.76" r="2.6" fill="#6a9c69" fill-opacity="0.85"/>
<circle cx="224.49" cy="832.21" r="2.6" fill="#6a9c69" fill-opacity="0.85"/>
<circle cx="227.22" cy="830.75" r="2.6" fill="#6a9c69" fill-opacity="0.85"/>
<circle cx="230.84" cy="820.77" r="2.6" fill="#6a9c69" fill-opacity="0.85"/>
<circle cx="234.32" cy="820.55" r="2.6" fill="#6a9c69" fill-opacity="0.85"/>
<circle cx="236.72" cy="825.1" r="2.6" fill="#6a9c69" fill-opacity="0.85"/>
<circle cx="240.99" cy="819.85" r="2.6" fill="#6a9c69" fill-opacity="0.85"/>
<circle cx="243.86" cy="822.24" r="2.6" fill="#6a9c69" fill-opacity="0.85"/>
<circle cx="246.88" cy="819.86" r="2.6" fill="#6a9c69" fill-opacity="0.85"/>
<circle cx="251.9" cy="828.33" r="2.6" fill="#6a9c69" fill-opacity="0.85"/>
<circle cx="254.03" cy="829.95" r="2.6" fill="#6a9c69" fill-opacity="0.85"/>
<circle cx="258.1" cy="831.56" r="2.6" fill="#6a9c69" fill-opacity="0.85"/>
<circle cx="262.13" cy="821.01" r="2.6" fill="#6a9c69" fill-opacity="0.85"/>
<circle cx="265.33" cy="828.99" r="2.6" fill="#6a9c69" fill-opacity="0.85"/>
<circle cx="268.45" cy="828.2" r="2.6" fill="#6a9c69" fill-opacity="0.85"/>
<circle cx="272.58" cy="820.85" r="2.6" fill="#6a9c69" fill-opacity="0.85"/>
<circle cx="276.48" cy="831.35" r="2.6" fill="#6a9c69" fill-opacity="0.85"/>
<circle cx="280.95" cy="832.56" r="2.6" fill="#6a9c69" fill-opacity="0.85"/>
<circle cx="283.36" cy="821.94" r="2.6" fill="#6a9c69" fill-opacity="0.85"/>
<circle cx="288.7" cy="832.34" r="2.6" fill="#6a9c69" fill-opacity="0.85"/>
<circle cx="292.26" cy="824.48" r="2.6" fill="#6a9c69" fill-opacity="0.85"/>
<circle cx="296.92" cy="825.74" r="2.6" fill="#6a9c69" fill-opacity="0.85"/>
<circle cx="303.23" cy="832.87" r="2.6" fill="#6a9c69" fill-opacity="0.85"/>
<circle cx="307.59" cy="830.64" r="2.6" fill="#6a9c69" fill-opacity="0.85"/>
<circle cx="313.28" cy="821.11" r="2.6" fill="#6a9c69" fill-opacity="0.85"/>
<circle cx="319.96" cy="824.95" r="2.6" fill="#6a9c69" fill-opacity="0.85"/>
<circle cx="327.13" cy="826.14" r="2.6" fill="#6a9c69" fill-opacity="0.85"/>
<circle cx="332.27" cy="823.64" r="2.6" fill="#6a9c69" fill-opacity="0.85"/>
<circle cx="341.01" cy="821.6" r="2.6" fill="#6a9c69" fill-opacity="0.85"/>
<circle cx="349.48" cy="823.34" r="2.6" fill="#6a9c69" fill-opacity="0.85"/>
<circle cx="360.03" cy="829.07" r="2.6" fill="#6a9c69" fill-opacity="0.85"/>
<circle cx="378.73" cy="819.1" r="2.6" fill="#6a9c69" fill-opacity="0.85"/>
<line x1="247.01" y1="850.99" x2="261.22" y2="850.99" stroke="#000" stroke-width="1.3"/>
<line x1="247.01" y1="848.99" x2="247.01" y2="852.99" stroke="#000" stroke-width="1.3"/>
<line x1="261.22" y1="848.99" x2="261.22" y2="852.99" stroke="#000" stroke-width="1.3"/>
<circle cx="158.82" cy="847.69" r="2.6" fill="#bf5a3c" fill-opacity="0.85"/>
<circle cx="170.03" cy="845.73" r="2.6" fill="#bf5a3c" fill-opacity="0.85"/>
<circle cx="175.75" cy="851.37" r="2.6" fill="#bf5a3c" fill-opacity="0.85"/>
<circle cx="182.73" cy="847.28" r="2.6" fill="#bf5a3c" fill-opacity="0.85"/>
<circle cx="188.35" cy="845.45" r="2.6" fill="#bf5a3c" fill-opacity="0.85"/>
<circle cx="192.28" cy="846.18" r="2.6" fill="#bf5a3c" fill-opacity="0.85"/>
<circle cx="195.14" cy="844.61" r="2.6" fill="#bf5a3c" fill-opacity="0.85"/>
<circle cx="200.74" cy="846.76" r="2.6" fill="#bf5a3c" fill-opacity="0.85"/>
<circle cx="203.73" cy="848.32" r="2.6" fill="#bf5a3c" fill-opacity="0.85"/>
<circle cx="207.33" cy="848.22" r="2.6" fill="#bf5a3c" fill-opacity="0.85"/>
<circle cx="208.85" cy="854.67" r="2.6" fill="#bf5a3c" fill-opacity="0.85"/>
<circle cx="212.24" cy="848.01" r="2.6" fill="#bf5a3c" fill-opacity="0.85"/>
<circle cx="214.85" cy="850.99" r="2.6" fill="#bf5a3c" fill-opacity="0.85"/>
<circle cx="219.15" cy="846.42" r="2.6" fill="#bf5a3c" fill-opacity="0.85"/>
<circle cx="221.19" cy="848.82" r="2.6" fill="#bf5a3c" fill-opacity="0.85"/>
<circle cx="223.87" cy="844.15" r="2.6" fill="#bf5a3c" fill-opacity="0.85"/>
<circle cx="227.3" cy="847.45" r="2.6" fill="#bf5a3c" fill-opacity="0.85"/>
<circle cx="231.08" cy="844.11" r="2.6" fill="#bf5a3c" fill-opacity="0.85"/>
<circle cx="233.86" cy="854.3" r="2.6" fill="#bf5a3c" fill-opacity="0.85"/>
<circle cx="235.82" cy="851.71" r="2.6" fill="#bf5a3c" fill-opacity="0.85"/>
<circle cx="238.61" cy="846.58" r="2.6" fill="#bf5a3c" fill-opacity="0.85"/>
<circle cx="243.06" cy="850.63" r="2.6" fill="#bf5a3c" fill-opacity="0.85"/>
<circle cx="245.51" cy="857.16" r="2.6" fill="#bf5a3c" fill-opacity="0.85"/>
<circle cx="248.92" cy="845.4" r="2.6" fill="#bf5a3c" fill-opacity="0.85"/>
<circle cx="250.97" cy="855.52" r="2.6" fill="#bf5a3c" fill-opacity="0.85"/>
<circle cx="254.21" cy="850.03" r="2.6" fill="#bf5a3c" fill-opacity="0.85"/>
<circle cx="258.93" cy="850.92" r="2.6" fill="#bf5a3c" fill-opacity="0.85"/>
<circle cx="261.93" cy="855.74" r="2.6" fill="#bf5a3c" fill-opacity="0.85"/>
<circle cx="264.82" cy="849.47" r="2.6" fill="#bf5a3c" fill-opacity="0.85"/>
<circle cx="270.69" cy="851.08" r="2.6" fill="#bf5a3c" fill-opacity="0.85"/>
<circle cx="274.04" cy="853.66" r="2.6" fill="#bf5a3c" fill-opacity="0.85"/>
<circle cx="278.78" cy="857.84" r="2.6" fill="#bf5a3c" fill-opacity="0.85"/>
<circle cx="281.36" cy="848.76" r="2.6" fill="#bf5a3c" fill-opacity="0.85"/>
<circle cx="288.47" cy="855.71" r="2.6" fill="#bf5a3c" fill-opacity="0.85"/>
<circle cx="291.23" cy="853.92" r="2.6" fill="#bf5a3c" fill-opacity="0.85"/>
<circle cx="299.66" cy="852.92" r="2.6" fill="#bf5a3c" fill-opacity="0.85"/>
<circle cx="304.46" cy="849.64" r="2.6" fill="#bf5a3c" fill-opacity="0.85"/>
<circle cx="310.97" cy="848.83" r="2.6" fill="#bf5a3c" fill-opacity="0.85"/>
<circle cx="320.01" cy="844.66" r="2.6" fill="#bf5a3c" fill-opacity="0.85"/>
<circle cx="333.36" cy="845.73" r="2.6" fill="#bf5a3c" fill-opacity="0.85"/>
<line x1="193.42" y1="867.89" x2="208.58" y2="867.89" stroke="#000" stroke-width="1.3"/>
<line x1="193.42" y1="865.89" x2="193.42" y2="869.89" stroke="#000" stroke-width="1.3"/>
<line x1="208.58" y1="865.89" x2="208.58" y2="869.89" stroke="#000" stroke-width="1.3"/>
<circle cx="116.1" cy="870.96" r="2.6" fill="#6a9c69" fill-opacity="0.85"/>
<circle cx="129.31" cy="873.27" r="2.6" fill="#6a9c69" fill-opacity="0.85"/>
<circle cx="133.04" cy="866.32" r="2.6" fill="#6a9c69" fill-opacity="0.85"/>
<circle cx="137.16" cy="865.42" r="2.6" fill="#6a9c69" fill-opacity="0.85"/>
<circle cx="140.76" cy="874.77" r="2.6" fill="#6a9c69" fill-opacity="0.85"/>
<circle cx="145.62" cy="862.91" r="2.6" fill="#6a9c69" fill-opacity="0.85"/>
<circle cx="148.75" cy="871.07" r="2.6" fill="#6a9c69" fill-opacity="0.85"/>
<circle cx="151.33" cy="869.92" r="2.6" fill="#6a9c69" fill-opacity="0.85"/>
<circle cx="153.52" cy="861.41" r="2.6" fill="#6a9c69" fill-opacity="0.85"/>
<circle cx="156.23" cy="872.65" r="2.6" fill="#6a9c69" fill-opacity="0.85"/>
<circle cx="159.03" cy="873.45" r="2.6" fill="#6a9c69" fill-opacity="0.85"/>
<circle cx="161.98" cy="869.7" r="2.6" fill="#6a9c69" fill-opacity="0.85"/>
<circle cx="164.15" cy="871.21" r="2.6" fill="#6a9c69" fill-opacity="0.85"/>
<circle cx="167.27" cy="872.32" r="2.6" fill="#6a9c69" fill-opacity="0.85"/>
<circle cx="169.64" cy="862.77" r="2.6" fill="#6a9c69" fill-opacity="0.85"/>
<circle cx="173.45" cy="868.23" r="2.6" fill="#6a9c69" fill-opacity="0.85"/>
<circle cx="176.19" cy="867.95" r="2.6" fill="#6a9c69" fill-opacity="0.85"/>
<circle cx="178.25" cy="872.64" r="2.6" fill="#6a9c69" fill-opacity="0.85"/>
<circle cx="180.54" cy="872.22" r="2.6" fill="#6a9c69" fill-opacity="0.85"/>
<circle cx="184.65" cy="872.52" r="2.6" fill="#6a9c69" fill-opacity="0.85"/>
<circle cx="186.44" cy="869.08" r="2.6" fill="#6a9c69" fill-opacity="0.85"/>
<circle cx="189.54" cy="873.47" r="2.6" fill="#6a9c69" fill-opacity="0.85"/>
<circle cx="191.99" cy="870.49" r="2.6" fill="#6a9c69" fill-opacity="0.85"/>
<circle cx="195.94" cy="870.63" r="2.6" fill="#6a9c69" fill-opacity="0.85"/>
<circle cx="199.5" cy="864.06" r="2.6" fill="#6a9c69" fill-opacity="0.85"/>
<circle cx="203.09" cy="861.23" r="2.6" fill="#6a9c69" fill-opacity="0.85"/>
<circle cx="206.12" cy="862.68" r="2.6" fill="#6a9c69" fill-opacity="0.85"/>
<circle cx="210.73" cy="865.91" r="2.6" fill="#6a9c69" fill-opacity="0.85"/>
<circle cx="213.62" cy="862.28" r="2.6" fill="#6a9c69" fill-opacity="0.85"/>
<circle cx="218.68" cy="872.66" r="2.6" fill="#6a9c69" fill-opacity="0.85"/>
<circle cx="222.9" cy="868.72" r="2.6" fill="#6a9c69" fill-opacity="0.85"/>
<circle cx="228.99" cy="869.7" r="2.6" fill="#6a9c69" fill-opacity="0.85"/>
<circle cx="233.39" cy="869.68" r="2.6" fill="#6a9c69" fill-opacity="0.85"/>
<circle cx="239.46" cy="870.45" r="2.6" fill="#6a9c69" fill-opacity="0.85"/>
<circle cx="247.58" cy="867.74" r="2.6" fill="#6a9c69" fill-opacity="0.85"/>
<circle cx="255.25" cy="860.84" r="2.6" fill="#6a9c69" fill-opacity="0.85"/>
<circle cx="266.82" cy="872.12" r="2.6" fill="#6a9c69" fill-opacity="0.85"/>
<circle cx="278.25" cy="871.41" r="2.6" fill="#6a9c69" fill-opacity="0.85"/>
<circle cx="295.79" cy="867.93" r="2.6" fill="#6a9c69" fill-opacity="0.85"/>
<circle cx="328.02" cy="868.39" r="2.6" fill="#6a9c69" fill-opacity="0.85"/>
<line x1="101.96" y1="892.96" x2="105.83" y2="892.96" stroke="#000" stroke-width="1.3"/>
<line x1="101.96" y1="890.96" x2="101.96" y2="894.96" stroke="#000" stroke-width="1.3"/>
<line x1="105.83" y1="890.96" x2="105.83" y2="894.96" stroke="#000" stroke-width="1.3"/>
<circle cx="89.3" cy="897.5" r="2.6" fill="#bf5a3c" fill-opacity="0.85"/>
<circle cx="89.78" cy="899.61" r="2.6" fill="#bf5a3c" fill-opacity="0.85"/>
<circle cx="90.53" cy="892.24" r="2.6" fill="#bf5a3c" fill-opacity="0.85"/>
<circle cx="90.86" cy="889.68" r="2.6" fill="#bf5a3c" fill-opacity="0.85"/>
<circle cx="91.24" cy="888.84" r="2.6" fill="#bf5a3c" fill-opacity="0.85"/>
<circle cx="91.7" cy="899.29" r="2.6" fill="#bf5a3c" fill-opacity="0.85"/>
<circle cx="92.21" cy="888.85" r="2.6" fill="#bf5a3c" fill-opacity="0.85"/>
<circle cx="92.48" cy="894.12" r="2.6" fill="#bf5a3c" fill-opacity="0.85"/>
<circle cx="93" cy="887.87" r="2.6" fill="#bf5a3c" fill-opacity="0.85"/>
<circle cx="93.45" cy="893.3" r="2.6" fill="#bf5a3c" fill-opacity="0.85"/>
<circle cx="93.73" cy="899.39" r="2.6" fill="#bf5a3c" fill-opacity="0.85"/>
<circle cx="94.12" cy="887.74" r="2.6" fill="#bf5a3c" fill-opacity="0.85"/>
<circle cx="94.56" cy="897.51" r="2.6" fill="#bf5a3c" fill-opacity="0.85"/>
<circle cx="95.04" cy="893.08" r="2.6" fill="#bf5a3c" fill-opacity="0.85"/>
<circle cx="95.51" cy="898.45" r="2.6" fill="#bf5a3c" fill-opacity="0.85"/>
<circle cx="95.92" cy="895.85" r="2.6" fill="#bf5a3c" fill-opacity="0.85"/>
<circle cx="96.41" cy="889.15" r="2.6" fill="#bf5a3c" fill-opacity="0.85"/>
<circle cx="96.73" cy="898.61" r="2.6" fill="#bf5a3c" fill-opacity="0.85"/>
<circle cx="97.27" cy="892.76" r="2.6" fill="#bf5a3c" fill-opacity="0.85"/>
<circle cx="97.84" cy="886.21" r="2.6" fill="#bf5a3c" fill-opacity="0.85"/>
<circle cx="98.58" cy="885.91" r="2.6" fill="#bf5a3c" fill-opacity="0.85"/>
<circle cx="99.02" cy="892.84" r="2.6" fill="#bf5a3c" fill-opacity="0.85"/>
<circle cx="99.76" cy="892.26" r="2.6" fill="#bf5a3c" fill-opacity="0.85"/>
<circle cx="100.21" cy="890.15" r="2.6" fill="#bf5a3c" fill-opacity="0.85"/>
<circle cx="100.95" cy="887.86" r="2.6" fill="#bf5a3c" fill-opacity="0.85"/>
<circle cx="101.81" cy="890.74" r="2.6" fill="#bf5a3c" fill-opacity="0.85"/>
<circle cx="102.86" cy="890.35" r="2.6" fill="#bf5a3c" fill-opacity="0.85"/>
<circle cx="103.8" cy="897.79" r="2.6" fill="#bf5a3c" fill-opacity="0.85"/>
<circle cx="104.8" cy="885.89" r="2.6" fill="#bf5a3c" fill-opacity="0.85"/>
<circle cx="105.65" cy="896.52" r="2.6" fill="#bf5a3c" fill-opacity="0.85"/>
<circle cx="107.04" cy="897.77" r="2.6" fill="#bf5a3c" fill-opacity="0.85"/>
<circle cx="108.37" cy="887.57" r="2.6" fill="#bf5a3c" fill-opacity="0.85"/>
<circle cx="109.94" cy="899.01" r="2.6" fill="#bf5a3c" fill-opacity="0.85"/>
<circle cx="111.35" cy="895.98" r="2.6" fill="#bf5a3c" fill-opacity="0.85"/>
<circle cx="114.49" cy="898.66" r="2.6" fill="#bf5a3c" fill-opacity="0.85"/>
<circle cx="116" cy="889.98" r="2.6" fill="#bf5a3c" fill-opacity="0.85"/>
<circle cx="120.82" cy="891.15" r="2.6" fill="#bf5a3c" fill-opacity="0.85"/>
<circle cx="125.31" cy="891.44" r="2.6" fill="#bf5a3c" fill-opacity="0.85"/>
<circle cx="127.96" cy="900.04" r="2.6" fill="#bf5a3c" fill-opacity="0.85"/>
<circle cx="147.59" cy="894.23" r="2.6" fill="#bf5a3c" fill-opacity="0.85"/>
<line x1="96.24" y1="909.86" x2="98.67" y2="909.86" stroke="#000" stroke-width="1.3"/>
<line x1="96.24" y1="907.86" x2="96.24" y2="911.86" stroke="#000" stroke-width="1.3"/>
<line x1="98.67" y1="907.86" x2="98.67" y2="911.86" stroke="#000" stroke-width="1.3"/>
<circle cx="88.6" cy="905.14" r="2.6" fill="#6a9c69" fill-opacity="0.85"/>
<circle cx="89.07" cy="905.06" r="2.6" fill="#6a9c69" fill-opacity="0.85"/>
<circle cx="89.36" cy="905.71" r="2.6" fill="#6a9c69" fill-opacity="0.85"/>
<circle cx="89.61" cy="915.62" r="2.6" fill="#6a9c69" fill-opacity="0.85"/>
<circle cx="89.87" cy="909.82" r="2.6" fill="#6a9c69" fill-opacity="0.85"/>
<circle cx="90.23" cy="905.89" r="2.6" fill="#6a9c69" fill-opacity="0.85"/>
<circle cx="90.39" cy="915.63" r="2.6" fill="#6a9c69" fill-opacity="0.85"/>
<circle cx="90.72" cy="916.91" r="2.6" fill="#6a9c69" fill-opacity="0.85"/>
<circle cx="90.86" cy="909.15" r="2.6" fill="#6a9c69" fill-opacity="0.85"/>
<circle cx="91.1" cy="904.74" r="2.6" fill="#6a9c69" fill-opacity="0.85"/>
<circle cx="91.38" cy="905.49" r="2.6" fill="#6a9c69" fill-opacity="0.85"/>
<circle cx="91.57" cy="904.05" r="2.6" fill="#6a9c69" fill-opacity="0.85"/>
<circle cx="91.85" cy="907.62" r="2.6" fill="#6a9c69" fill-opacity="0.85"/>
<circle cx="92.2" cy="904.06" r="2.6" fill="#6a9c69" fill-opacity="0.85"/>
<circle cx="92.46" cy="906.16" r="2.6" fill="#6a9c69" fill-opacity="0.85"/>
<circle cx="92.73" cy="906.43" r="2.6" fill="#6a9c69" fill-opacity="0.85"/>
<circle cx="92.99" cy="910.85" r="2.6" fill="#6a9c69" fill-opacity="0.85"/>
<circle cx="93.34" cy="915.36" r="2.6" fill="#6a9c69" fill-opacity="0.85"/>
<circle cx="93.66" cy="913.4" r="2.6" fill="#6a9c69" fill-opacity="0.85"/>
<circle cx="93.91" cy="908.62" r="2.6" fill="#6a9c69" fill-opacity="0.85"/>
<circle cx="94.3" cy="908.64" r="2.6" fill="#6a9c69" fill-opacity="0.85"/>
<circle cx="94.51" cy="910.2" r="2.6" fill="#6a9c69" fill-opacity="0.85"/>
<circle cx="95.06" cy="908.11" r="2.6" fill="#6a9c69" fill-opacity="0.85"/>
<circle cx="95.4" cy="907.56" r="2.6" fill="#6a9c69" fill-opacity="0.85"/>
<circle cx="95.93" cy="903.64" r="2.6" fill="#6a9c69" fill-opacity="0.85"/>
<circle cx="96.38" cy="906.7" r="2.6" fill="#6a9c69" fill-opacity="0.85"/>
<circle cx="96.78" cy="916.5" r="2.6" fill="#6a9c69" fill-opacity="0.85"/>
<circle cx="97.25" cy="904.55" r="2.6" fill="#6a9c69" fill-opacity="0.85"/>
<circle cx="98.18" cy="909.91" r="2.6" fill="#6a9c69" fill-opacity="0.85"/>
<circle cx="98.54" cy="911.7" r="2.6" fill="#6a9c69" fill-opacity="0.85"/>
<circle cx="99.43" cy="915.01" r="2.6" fill="#6a9c69" fill-opacity="0.85"/>
<circle cx="100.21" cy="905.83" r="2.6" fill="#6a9c69" fill-opacity="0.85"/>
<circle cx="101.14" cy="906.61" r="2.6" fill="#6a9c69" fill-opacity="0.85"/>
<circle cx="102.56" cy="906.29" r="2.6" fill="#6a9c69" fill-opacity="0.85"/>
<circle cx="104.13" cy="908.44" r="2.6" fill="#6a9c69" fill-opacity="0.85"/>
<circle cx="105.06" cy="909.09" r="2.6" fill="#6a9c69" fill-opacity="0.85"/>
<circle cx="107.56" cy="916.3" r="2.6" fill="#6a9c69" fill-opacity="0.85"/>
<circle cx="109.66" cy="914.81" r="2.6" fill="#6a9c69" fill-opacity="0.85"/>
<circle cx="114.09" cy="915.15" r="2.6" fill="#6a9c69" fill-opacity="0.85"/>
<circle cx="126.23" cy="903.07" r="2.6" fill="#6a9c69" fill-opacity="0.85"/>
<line x1="153.44" y1="934.93" x2="166.48" y2="934.93" stroke="#000" stroke-width="1.3"/>
<line x1="153.44" y1="932.93" x2="153.44" y2="936.93" stroke="#000" stroke-width="1.3"/>
<line x1="166.48" y1="932.93" x2="166.48" y2="936.93" stroke="#000" stroke-width="1.3"/>
<circle cx="100.86" cy="932.11" r="2.6" fill="#bf5a3c" fill-opacity="0.85"/>
<circle cx="108.88" cy="934.37" r="2.6" fill="#bf5a3c" fill-opacity="0.85"/>
<circle cx="112.36" cy="941.45" r="2.6" fill="#bf5a3c" fill-opacity="0.85"/>
<circle cx="114.33" cy="936.98" r="2.6" fill="#bf5a3c" fill-opacity="0.85"/>
<circle cx="116.86" cy="940.38" r="2.6" fill="#bf5a3c" fill-opacity="0.85"/>
<circle cx="118.28" cy="934.58" r="2.6" fill="#bf5a3c" fill-opacity="0.85"/>
<circle cx="120.85" cy="931.16" r="2.6" fill="#bf5a3c" fill-opacity="0.85"/>
<circle cx="123.45" cy="931.34" r="2.6" fill="#bf5a3c" fill-opacity="0.85"/>
<circle cx="125.25" cy="941.47" r="2.6" fill="#bf5a3c" fill-opacity="0.85"/>
<circle cx="127.17" cy="937.84" r="2.6" fill="#bf5a3c" fill-opacity="0.85"/>
<circle cx="129.17" cy="932.2" r="2.6" fill="#bf5a3c" fill-opacity="0.85"/>
<circle cx="130.22" cy="928.14" r="2.6" fill="#bf5a3c" fill-opacity="0.85"/>
<circle cx="131.93" cy="934.91" r="2.6" fill="#bf5a3c" fill-opacity="0.85"/>
<circle cx="133.86" cy="937.41" r="2.6" fill="#bf5a3c" fill-opacity="0.85"/>
<circle cx="136.17" cy="933.79" r="2.6" fill="#bf5a3c" fill-opacity="0.85"/>
<circle cx="138.29" cy="931.48" r="2.6" fill="#bf5a3c" fill-opacity="0.85"/>
<circle cx="140.57" cy="937.31" r="2.6" fill="#bf5a3c" fill-opacity="0.85"/>
<circle cx="142.33" cy="940.97" r="2.6" fill="#bf5a3c" fill-opacity="0.85"/>
<circle cx="144.31" cy="931.05" r="2.6" fill="#bf5a3c" fill-opacity="0.85"/>
<circle cx="146.6" cy="928.32" r="2.6" fill="#bf5a3c" fill-opacity="0.85"/>
<circle cx="148.4" cy="932.63" r="2.6" fill="#bf5a3c" fill-opacity="0.85"/>
<circle cx="150.82" cy="933.8" r="2.6" fill="#bf5a3c" fill-opacity="0.85"/>
<circle cx="152.46" cy="937.52" r="2.6" fill="#bf5a3c" fill-opacity="0.85"/>
<circle cx="156.06" cy="930.64" r="2.6" fill="#bf5a3c" fill-opacity="0.85"/>
<circle cx="157.82" cy="939.15" r="2.6" fill="#bf5a3c" fill-opacity="0.85"/>
<circle cx="161.75" cy="938.32" r="2.6" fill="#bf5a3c" fill-opacity="0.85"/>
<circle cx="164.24" cy="935" r="2.6" fill="#bf5a3c" fill-opacity="0.85"/>
<circle cx="166.74" cy="930.75" r="2.6" fill="#bf5a3c" fill-opacity="0.85"/>
<circle cx="169.73" cy="941.6" r="2.6" fill="#bf5a3c" fill-opacity="0.85"/>
<circle cx="173.6" cy="932.26" r="2.6" fill="#bf5a3c" fill-opacity="0.85"/>
<circle cx="178.52" cy="939.47" r="2.6" fill="#bf5a3c" fill-opacity="0.85"/>
<circle cx="183.16" cy="931.11" r="2.6" fill="#bf5a3c" fill-opacity="0.85"/>
<circle cx="186.34" cy="930.98" r="2.6" fill="#bf5a3c" fill-opacity="0.85"/>
<circle cx="191.63" cy="938.63" r="2.6" fill="#bf5a3c" fill-opacity="0.85"/>
<circle cx="199.75" cy="932.02" r="2.6" fill="#bf5a3c" fill-opacity="0.85"/>
<circle cx="207.79" cy="941.35" r="2.6" fill="#bf5a3c" fill-opacity="0.85"/>
<circle cx="216.15" cy="934.87" r="2.6" fill="#bf5a3c" fill-opacity="0.85"/>
<circle cx="226.89" cy="930.49" r="2.6" fill="#bf5a3c" fill-opacity="0.85"/>
<circle cx="248.09" cy="931" r="2.6" fill="#bf5a3c" fill-opacity="0.85"/>
<circle cx="304.53" cy="933.75" r="2.6" fill="#bf5a3c" fill-opacity="0.85"/>
<line x1="119.47" y1="951.83" x2="127.48" y2="951.83" stroke="#000" stroke-width="1.3"/>
<line x1="119.47" y1="949.83" x2="119.47" y2="953.83" stroke="#000" stroke-width="1.3"/>
<line x1="127.48" y1="949.83" x2="127.48" y2="953.83" stroke="#000" stroke-width="1.3"/>
<circle cx="93.89" cy="947.47" r="2.6" fill="#6a9c69" fill-opacity="0.85"/>
<circle cx="96.24" cy="949.9" r="2.6" fill="#6a9c69" fill-opacity="0.85"/>
<circle cx="97.01" cy="957.47" r="2.6" fill="#6a9c69" fill-opacity="0.85"/>
<circle cx="98.48" cy="945.16" r="2.6" fill="#6a9c69" fill-opacity="0.85"/>
<circle cx="99.5" cy="950.56" r="2.6" fill="#6a9c69" fill-opacity="0.85"/>
<circle cx="101.03" cy="956.26" r="2.6" fill="#6a9c69" fill-opacity="0.85"/>
<circle cx="101.53" cy="955.62" r="2.6" fill="#6a9c69" fill-opacity="0.85"/>
<circle cx="102.46" cy="945.31" r="2.6" fill="#6a9c69" fill-opacity="0.85"/>
<circle cx="103.43" cy="945.23" r="2.6" fill="#6a9c69" fill-opacity="0.85"/>
<circle cx="104.57" cy="945.62" r="2.6" fill="#6a9c69" fill-opacity="0.85"/>
<circle cx="105.81" cy="957.79" r="2.6" fill="#6a9c69" fill-opacity="0.85"/>
<circle cx="106.75" cy="948.38" r="2.6" fill="#6a9c69" fill-opacity="0.85"/>
<circle cx="107.63" cy="955.34" r="2.6" fill="#6a9c69" fill-opacity="0.85"/>
<circle cx="108.76" cy="957.49" r="2.6" fill="#6a9c69" fill-opacity="0.85"/>
<circle cx="109.72" cy="949.55" r="2.6" fill="#6a9c69" fill-opacity="0.85"/>
<circle cx="110.37" cy="948.6" r="2.6" fill="#6a9c69" fill-opacity="0.85"/>
<circle cx="111.32" cy="958.33" r="2.6" fill="#6a9c69" fill-opacity="0.85"/>
<circle cx="112.88" cy="953.49" r="2.6" fill="#6a9c69" fill-opacity="0.85"/>
<circle cx="113.87" cy="948.45" r="2.6" fill="#6a9c69" fill-opacity="0.85"/>
<circle cx="114.53" cy="954.91" r="2.6" fill="#6a9c69" fill-opacity="0.85"/>
<circle cx="116.18" cy="949.22" r="2.6" fill="#6a9c69" fill-opacity="0.85"/>
<circle cx="117.22" cy="948.64" r="2.6" fill="#6a9c69" fill-opacity="0.85"/>
<circle cx="118.52" cy="944.79" r="2.6" fill="#6a9c69" fill-opacity="0.85"/>
<circle cx="119.87" cy="955.46" r="2.6" fill="#6a9c69" fill-opacity="0.85"/>
<circle cx="121.19" cy="957.74" r="2.6" fill="#6a9c69" fill-opacity="0.85"/>
<circle cx="122.57" cy="953.73" r="2.6" fill="#6a9c69" fill-opacity="0.85"/>
<circle cx="124.49" cy="958.12" r="2.6" fill="#6a9c69" fill-opacity="0.85"/>
<circle cx="126.36" cy="945.08" r="2.6" fill="#6a9c69" fill-opacity="0.85"/>
<circle cx="129.04" cy="948.05" r="2.6" fill="#6a9c69" fill-opacity="0.85"/>
<circle cx="130.11" cy="951.48" r="2.6" fill="#6a9c69" fill-opacity="0.85"/>
<circle cx="133.67" cy="958.31" r="2.6" fill="#6a9c69" fill-opacity="0.85"/>
<circle cx="135.11" cy="958.27" r="2.6" fill="#6a9c69" fill-opacity="0.85"/>
<circle cx="138.29" cy="950.22" r="2.6" fill="#6a9c69" fill-opacity="0.85"/>
<circle cx="142.69" cy="948.3" r="2.6" fill="#6a9c69" fill-opacity="0.85"/>
<circle cx="146.83" cy="950.84" r="2.6" fill="#6a9c69" fill-opacity="0.85"/>
<circle cx="150.6" cy="951.74" r="2.6" fill="#6a9c69" fill-opacity="0.85"/>
<circle cx="155.09" cy="957.91" r="2.6" fill="#6a9c69" fill-opacity="0.85"/>
<circle cx="164.88" cy="947.33" r="2.6" fill="#6a9c69" fill-opacity="0.85"/>
<circle cx="175.98" cy="956.13" r="2.6" fill="#6a9c69" fill-opacity="0.85"/>
<circle cx="224.99" cy="955.22" r="2.6" fill="#6a9c69" fill-opacity="0.85"/>
<line x1="236.53" y1="976.9" x2="251.31" y2="976.9" stroke="#000" stroke-width="1.3"/>
<line x1="236.53" y1="974.9" x2="236.53" y2="978.9" stroke="#000" stroke-width="1.3"/>
<line x1="251.31" y1="974.9" x2="251.31" y2="978.9" stroke="#000" stroke-width="1.3"/>
<circle cx="157.51" cy="971.98" r="2.6" fill="#bf5a3c" fill-opacity="0.85"/>
<circle cx="167.34" cy="982.35" r="2.6" fill="#bf5a3c" fill-opacity="0.85"/>
<circle cx="173.39" cy="978.01" r="2.6" fill="#bf5a3c" fill-opacity="0.85"/>
<circle cx="177.91" cy="974.43" r="2.6" fill="#bf5a3c" fill-opacity="0.85"/>
<circle cx="182.55" cy="975.42" r="2.6" fill="#bf5a3c" fill-opacity="0.85"/>
<circle cx="186.79" cy="983.89" r="2.6" fill="#bf5a3c" fill-opacity="0.85"/>
<circle cx="191.48" cy="977" r="2.6" fill="#bf5a3c" fill-opacity="0.85"/>
<circle cx="193.51" cy="973.09" r="2.6" fill="#bf5a3c" fill-opacity="0.85"/>
<circle cx="197.11" cy="981.28" r="2.6" fill="#bf5a3c" fill-opacity="0.85"/>
<circle cx="201.38" cy="979.08" r="2.6" fill="#bf5a3c" fill-opacity="0.85"/>
<circle cx="203.54" cy="983.87" r="2.6" fill="#bf5a3c" fill-opacity="0.85"/>
<circle cx="206.25" cy="971.25" r="2.6" fill="#bf5a3c" fill-opacity="0.85"/>
<circle cx="209.17" cy="976.54" r="2.6" fill="#bf5a3c" fill-opacity="0.85"/>
<circle cx="213.03" cy="981.43" r="2.6" fill="#bf5a3c" fill-opacity="0.85"/>
<circle cx="215.55" cy="981.73" r="2.6" fill="#bf5a3c" fill-opacity="0.85"/>
<circle cx="219.6" cy="982.78" r="2.6" fill="#bf5a3c" fill-opacity="0.85"/>
<circle cx="222.34" cy="970.37" r="2.6" fill="#bf5a3c" fill-opacity="0.85"/>
<circle cx="225.46" cy="973.97" r="2.6" fill="#bf5a3c" fill-opacity="0.85"/>
<circle cx="227.13" cy="971.49" r="2.6" fill="#bf5a3c" fill-opacity="0.85"/>
<circle cx="229.79" cy="972.49" r="2.6" fill="#bf5a3c" fill-opacity="0.85"/>
<circle cx="232.84" cy="983.61" r="2.6" fill="#bf5a3c" fill-opacity="0.85"/>
<circle cx="236.68" cy="978.08" r="2.6" fill="#bf5a3c" fill-opacity="0.85"/>
<circle cx="240.26" cy="983.01" r="2.6" fill="#bf5a3c" fill-opacity="0.85"/>
<circle cx="243.01" cy="975.09" r="2.6" fill="#bf5a3c" fill-opacity="0.85"/>
<circle cx="245.94" cy="982.1" r="2.6" fill="#bf5a3c" fill-opacity="0.85"/>
<circle cx="249.79" cy="976.18" r="2.6" fill="#bf5a3c" fill-opacity="0.85"/>
<circle cx="253.87" cy="973.49" r="2.6" fill="#bf5a3c" fill-opacity="0.85"/>
<circle cx="257.8" cy="980.84" r="2.6" fill="#bf5a3c" fill-opacity="0.85"/>
<circle cx="261.99" cy="983.23" r="2.6" fill="#bf5a3c" fill-opacity="0.85"/>
<circle cx="266.5" cy="971.3" r="2.6" fill="#bf5a3c" fill-opacity="0.85"/>
<circle cx="270.54" cy="978.26" r="2.6" fill="#bf5a3c" fill-opacity="0.85"/>
<circle cx="273.77" cy="978.6" r="2.6" fill="#bf5a3c" fill-opacity="0.85"/>
<circle cx="281.24" cy="972.89" r="2.6" fill="#bf5a3c" fill-opacity="0.85"/>
<circle cx="285.09" cy="975.04" r="2.6" fill="#bf5a3c" fill-opacity="0.85"/>
<circle cx="292.44" cy="971.81" r="2.6" fill="#bf5a3c" fill-opacity="0.85"/>
<circle cx="298.76" cy="972.7" r="2.6" fill="#bf5a3c" fill-opacity="0.85"/>
<circle cx="308.93" cy="973.42" r="2.6" fill="#bf5a3c" fill-opacity="0.85"/>
<circle cx="315.59" cy="978.31" r="2.6" fill="#bf5a3c" fill-opacity="0.85"/>
<circle cx="327.83" cy="979.05" r="2.6" fill="#bf5a3c" fill-opacity="0.85"/>
<circle cx="356.84" cy="972.69" r="2.6" fill="#bf5a3c" fill-opacity="0.85"/>
<line x1="180.91" y1="993.8" x2="195.34" y2="993.8" stroke="#000" stroke-width="1.3"/>
<line x1="180.91" y1="991.8" x2="180.91" y2="995.8" stroke="#000" stroke-width="1.3"/>
<line x1="195.34" y1="991.8" x2="195.34" y2="995.8" stroke="#000" stroke-width="1.3"/>
<circle cx="112.27" cy="995.8" r="2.6" fill="#6a9c69" fill-opacity="0.85"/>
<circle cx="123.38" cy="999.62" r="2.6" fill="#6a9c69" fill-opacity="0.85"/>
<circle cx="129.12" cy="987.97" r="2.6" fill="#6a9c69" fill-opacity="0.85"/>
<circle cx="131.79" cy="995.53" r="2.6" fill="#6a9c69" fill-opacity="0.85"/>
<circle cx="135.39" cy="991.97" r="2.6" fill="#6a9c69" fill-opacity="0.85"/>
<circle cx="138.22" cy="993.86" r="2.6" fill="#6a9c69" fill-opacity="0.85"/>
<circle cx="142" cy="988.77" r="2.6" fill="#6a9c69" fill-opacity="0.85"/>
<circle cx="144.25" cy="990.72" r="2.6" fill="#6a9c69" fill-opacity="0.85"/>
<circle cx="146.06" cy="994.1" r="2.6" fill="#6a9c69" fill-opacity="0.85"/>
<circle cx="148.62" cy="999.84" r="2.6" fill="#6a9c69" fill-opacity="0.85"/>
<circle cx="151.5" cy="988.25" r="2.6" fill="#6a9c69" fill-opacity="0.85"/>
<circle cx="154.13" cy="993.67" r="2.6" fill="#6a9c69" fill-opacity="0.85"/>
<circle cx="156.65" cy="998.13" r="2.6" fill="#6a9c69" fill-opacity="0.85"/>
<circle cx="158.26" cy="1000.43" r="2.6" fill="#6a9c69" fill-opacity="0.85"/>
<circle cx="160.77" cy="989.5" r="2.6" fill="#6a9c69" fill-opacity="0.85"/>
<circle cx="163.96" cy="988.5" r="2.6" fill="#6a9c69" fill-opacity="0.85"/>
<circle cx="166" cy="1000.09" r="2.6" fill="#6a9c69" fill-opacity="0.85"/>
<circle cx="168.3" cy="1000.55" r="2.6" fill="#6a9c69" fill-opacity="0.85"/>
<circle cx="170.87" cy="993.55" r="2.6" fill="#6a9c69" fill-opacity="0.85"/>
<circle cx="174.49" cy="987.46" r="2.6" fill="#6a9c69" fill-opacity="0.85"/>
<circle cx="176.14" cy="999.85" r="2.6" fill="#6a9c69" fill-opacity="0.85"/>
<circle cx="179.32" cy="992.21" r="2.6" fill="#6a9c69" fill-opacity="0.85"/>
<circle cx="181.82" cy="999.54" r="2.6" fill="#6a9c69" fill-opacity="0.85"/>
<circle cx="184.88" cy="995.51" r="2.6" fill="#6a9c69" fill-opacity="0.85"/>
<circle cx="188.83" cy="998.41" r="2.6" fill="#6a9c69" fill-opacity="0.85"/>
<circle cx="192.39" cy="988.98" r="2.6" fill="#6a9c69" fill-opacity="0.85"/>
<circle cx="194.52" cy="997.86" r="2.6" fill="#6a9c69" fill-opacity="0.85"/>
<circle cx="197.76" cy="989.85" r="2.6" fill="#6a9c69" fill-opacity="0.85"/>
<circle cx="202.86" cy="992.44" r="2.6" fill="#6a9c69" fill-opacity="0.85"/>
<circle cx="205.7" cy="998.72" r="2.6" fill="#6a9c69" fill-opacity="0.85"/>
<circle cx="209.59" cy="998.47" r="2.6" fill="#6a9c69" fill-opacity="0.85"/>
<circle cx="217.13" cy="989.3" r="2.6" fill="#6a9c69" fill-opacity="0.85"/>
<circle cx="221.04" cy="989.8" r="2.6" fill="#6a9c69" fill-opacity="0.85"/>
<circle cx="228.65" cy="992.38" r="2.6" fill="#6a9c69" fill-opacity="0.85"/>
<circle cx="233.91" cy="994.05" r="2.6" fill="#6a9c69" fill-opacity="0.85"/>
<circle cx="244.49" cy="992.15" r="2.6" fill="#6a9c69" fill-opacity="0.85"/>
<circle cx="251.92" cy="988.45" r="2.6" fill="#6a9c69" fill-opacity="0.85"/>
<circle cx="261.72" cy="990.21" r="2.6" fill="#6a9c69" fill-opacity="0.85"/>
<circle cx="275.68" cy="996.99" r="2.6" fill="#6a9c69" fill-opacity="0.85"/>
<circle cx="328.02" cy="999.44" r="2.6" fill="#6a9c69" fill-opacity="0.85"/>
<line x1="339.74" y1="1018.87" x2="351.98" y2="1018.87" stroke="#000" stroke-width="1.3"/>
<line x1="339.74" y1="1016.87" x2="339.74" y2="1020.87" stroke="#000" stroke-width="1.3"/>
<line x1="351.98" y1="1016.87" x2="351.98" y2="1020.87" stroke="#000" stroke-width="1.3"/>
<circle cx="252.61" cy="1025.27" r="2.6" fill="#bf5a3c" fill-opacity="0.85"/>
<circle cx="275.37" cy="1013.71" r="2.6" fill="#bf5a3c" fill-opacity="0.85"/>
<circle cx="283.94" cy="1023.94" r="2.6" fill="#bf5a3c" fill-opacity="0.85"/>
<circle cx="287.34" cy="1025.91" r="2.6" fill="#bf5a3c" fill-opacity="0.85"/>
<circle cx="294.64" cy="1022.16" r="2.6" fill="#bf5a3c" fill-opacity="0.85"/>
<circle cx="297.05" cy="1023.34" r="2.6" fill="#bf5a3c" fill-opacity="0.85"/>
<circle cx="302" cy="1014.52" r="2.6" fill="#bf5a3c" fill-opacity="0.85"/>
<circle cx="305.38" cy="1025.71" r="2.6" fill="#bf5a3c" fill-opacity="0.85"/>
<circle cx="308.79" cy="1018.75" r="2.6" fill="#bf5a3c" fill-opacity="0.85"/>
<circle cx="311.28" cy="1025.35" r="2.6" fill="#bf5a3c" fill-opacity="0.85"/>
<circle cx="314.44" cy="1024.78" r="2.6" fill="#bf5a3c" fill-opacity="0.85"/>
<circle cx="317.56" cy="1014.12" r="2.6" fill="#bf5a3c" fill-opacity="0.85"/>
<circle cx="320.05" cy="1022.96" r="2.6" fill="#bf5a3c" fill-opacity="0.85"/>
<circle cx="323.11" cy="1024.98" r="2.6" fill="#bf5a3c" fill-opacity="0.85"/>
<circle cx="325.4" cy="1012.7" r="2.6" fill="#bf5a3c" fill-opacity="0.85"/>
<circle cx="327.98" cy="1016.75" r="2.6" fill="#bf5a3c" fill-opacity="0.85"/>
<circle cx="329.91" cy="1022.51" r="2.6" fill="#bf5a3c" fill-opacity="0.85"/>
<circle cx="333.37" cy="1014.03" r="2.6" fill="#bf5a3c" fill-opacity="0.85"/>
<circle cx="335.72" cy="1024.5" r="2.6" fill="#bf5a3c" fill-opacity="0.85"/>
<circle cx="337.87" cy="1015.68" r="2.6" fill="#bf5a3c" fill-opacity="0.85"/>
<circle cx="341.24" cy="1023.35" r="2.6" fill="#bf5a3c" fill-opacity="0.85"/>
<circle cx="343.85" cy="1013.81" r="2.6" fill="#bf5a3c" fill-opacity="0.85"/>
<circle cx="345.96" cy="1018.9" r="2.6" fill="#bf5a3c" fill-opacity="0.85"/>
<circle cx="348.16" cy="1024.83" r="2.6" fill="#bf5a3c" fill-opacity="0.85"/>
<circle cx="351.34" cy="1014.73" r="2.6" fill="#bf5a3c" fill-opacity="0.85"/>
<circle cx="353.49" cy="1015.5" r="2.6" fill="#bf5a3c" fill-opacity="0.85"/>
<circle cx="356.35" cy="1018.96" r="2.6" fill="#bf5a3c" fill-opacity="0.85"/>
<circle cx="359.8" cy="1016.3" r="2.6" fill="#bf5a3c" fill-opacity="0.85"/>
<circle cx="362.21" cy="1012.29" r="2.6" fill="#bf5a3c" fill-opacity="0.85"/>
<circle cx="366.03" cy="1014.36" r="2.6" fill="#bf5a3c" fill-opacity="0.85"/>
<circle cx="369.49" cy="1014.06" r="2.6" fill="#bf5a3c" fill-opacity="0.85"/>
<circle cx="372" cy="1025.07" r="2.6" fill="#bf5a3c" fill-opacity="0.85"/>
<circle cx="377.06" cy="1021.42" r="2.6" fill="#bf5a3c" fill-opacity="0.85"/>
<circle cx="379.74" cy="1024.48" r="2.6" fill="#bf5a3c" fill-opacity="0.85"/>
<circle cx="385.82" cy="1014.17" r="2.6" fill="#bf5a3c" fill-opacity="0.85"/>
<circle cx="390.88" cy="1022.91" r="2.6" fill="#bf5a3c" fill-opacity="0.85"/>
<circle cx="395.52" cy="1013.41" r="2.6" fill="#bf5a3c" fill-opacity="0.85"/>
<circle cx="400.01" cy="1019.31" r="2.6" fill="#bf5a3c" fill-opacity="0.85"/>
<circle cx="409.41" cy="1020.81" r="2.6" fill="#bf5a3c" fill-opacity="0.85"/>
<circle cx="423.57" cy="1016.88" r="2.6" fill="#bf5a3c" fill-opacity="0.85"/>
<line x1="300.52" y1="1035.77" x2="311.79" y2="1035.77" stroke="#000" stroke-width="1.3"/>
<line x1="300.52" y1="1033.77" x2="300.52" y2="1037.77" stroke="#000" stroke-width="1.3"/>
<line x1="311.79" y1="1033.77" x2="311.79" y2="1037.77" stroke="#000" stroke-width="1.3"/>
<circle cx="227.66" cy="1031.86" r="2.6" fill="#6a9c69" fill-opacity="0.85"/>
<circle cx="236.9" cy="1036.96" r="2.6" fill="#6a9c69" fill-opacity="0.85"/>
<circle cx="244.3" cy="1037.03" r="2.6" fill="#6a9c69" fill-opacity="0.85"/>
<circle cx="250.67" cy="1031.57" r="2.6" fill="#6a9c69" fill-opacity="0.85"/>
<circle cx="253.11" cy="1037.53" r="2.6" fill="#6a9c69" fill-opacity="0.85"/>
<circle cx="259.24" cy="1035.41" r="2.6" fill="#6a9c69" fill-opacity="0.85"/>
<circle cx="262.01" cy="1030.58" r="2.6" fill="#6a9c69" fill-opacity="0.85"/>
<circle cx="264.85" cy="1041.97" r="2.6" fill="#6a9c69" fill-opacity="0.85"/>
<circle cx="268.69" cy="1032.13" r="2.6" fill="#6a9c69" fill-opacity="0.85"/>
<circle cx="270.68" cy="1030.79" r="2.6" fill="#6a9c69" fill-opacity="0.85"/>
<circle cx="274.69" cy="1030.03" r="2.6" fill="#6a9c69" fill-opacity="0.85"/>
<circle cx="276.71" cy="1037.73" r="2.6" fill="#6a9c69" fill-opacity="0.85"/>
<circle cx="278.99" cy="1041.04" r="2.6" fill="#6a9c69" fill-opacity="0.85"/>
<circle cx="282.16" cy="1039.78" r="2.6" fill="#6a9c69" fill-opacity="0.85"/>
<circle cx="284.19" cy="1034.38" r="2.6" fill="#6a9c69" fill-opacity="0.85"/>
<circle cx="286.27" cy="1032.42" r="2.6" fill="#6a9c69" fill-opacity="0.85"/>
<circle cx="289.55" cy="1028.84" r="2.6" fill="#6a9c69" fill-opacity="0.85"/>
<circle cx="290.97" cy="1037.83" r="2.6" fill="#6a9c69" fill-opacity="0.85"/>
<circle cx="294.51" cy="1036.65" r="2.6" fill="#6a9c69" fill-opacity="0.85"/>
<circle cx="296.12" cy="1033.65" r="2.6" fill="#6a9c69" fill-opacity="0.85"/>
<circle cx="299.12" cy="1037.84" r="2.6" fill="#6a9c69" fill-opacity="0.85"/>
<circle cx="302.09" cy="1034.97" r="2.6" fill="#6a9c69" fill-opacity="0.85"/>
<circle cx="303.98" cy="1041.98" r="2.6" fill="#6a9c69" fill-opacity="0.85"/>
<circle cx="306.62" cy="1039.09" r="2.6" fill="#6a9c69" fill-opacity="0.85"/>
<circle cx="308.65" cy="1032.2" r="2.6" fill="#6a9c69" fill-opacity="0.85"/>
<circle cx="310.77" cy="1041.5" r="2.6" fill="#6a9c69" fill-opacity="0.85"/>
<circle cx="313.49" cy="1029.3" r="2.6" fill="#6a9c69" fill-opacity="0.85"/>
<circle cx="316.42" cy="1036.22" r="2.6" fill="#6a9c69" fill-opacity="0.85"/>
<circle cx="320.07" cy="1034.44" r="2.6" fill="#6a9c69" fill-opacity="0.85"/>
<circle cx="322.72" cy="1032.05" r="2.6" fill="#6a9c69" fill-opacity="0.85"/>
<circle cx="325.96" cy="1029.5" r="2.6" fill="#6a9c69" fill-opacity="0.85"/>
<circle cx="329.99" cy="1039.73" r="2.6" fill="#6a9c69" fill-opacity="0.85"/>
<circle cx="331.86" cy="1028.85" r="2.6" fill="#6a9c69" fill-opacity="0.85"/>
<circle cx="335.69" cy="1036.49" r="2.6" fill="#6a9c69" fill-opacity="0.85"/>
<circle cx="340.63" cy="1042.03" r="2.6" fill="#6a9c69" fill-opacity="0.85"/>
<circle cx="343.27" cy="1030.69" r="2.6" fill="#6a9c69" fill-opacity="0.85"/>
<circle cx="347.8" cy="1031.5" r="2.6" fill="#6a9c69" fill-opacity="0.85"/>
<circle cx="354.08" cy="1037.3" r="2.6" fill="#6a9c69" fill-opacity="0.85"/>
<circle cx="359.13" cy="1035.87" r="2.6" fill="#6a9c69" fill-opacity="0.85"/>
<circle cx="370.72" cy="1037.78" r="2.6" fill="#6a9c69" fill-opacity="0.85"/>
<line x1="146.78" y1="1060.84" x2="158.65" y2="1060.84" stroke="#000" stroke-width="1.3"/>
<line x1="146.78" y1="1058.84" x2="146.78" y2="1062.84" stroke="#000" stroke-width="1.3"/>
<line x1="158.65" y1="1058.84" x2="158.65" y2="1062.84" stroke="#000" stroke-width="1.3"/>
<circle cx="99.24" cy="1066.24" r="2.6" fill="#bf5a3c" fill-opacity="0.85"/>
<circle cx="101.62" cy="1058.41" r="2.6" fill="#bf5a3c" fill-opacity="0.85"/>
<circle cx="104.65" cy="1057.14" r="2.6" fill="#bf5a3c" fill-opacity="0.85"/>
<circle cx="106.93" cy="1066.63" r="2.6" fill="#bf5a3c" fill-opacity="0.85"/>
<circle cx="108.67" cy="1062.7" r="2.6" fill="#bf5a3c" fill-opacity="0.85"/>
<circle cx="111.51" cy="1063.58" r="2.6" fill="#bf5a3c" fill-opacity="0.85"/>
<circle cx="113.17" cy="1063.19" r="2.6" fill="#bf5a3c" fill-opacity="0.85"/>
<circle cx="114.83" cy="1067.64" r="2.6" fill="#bf5a3c" fill-opacity="0.85"/>
<circle cx="115.82" cy="1060.41" r="2.6" fill="#bf5a3c" fill-opacity="0.85"/>
<circle cx="118.35" cy="1065.66" r="2.6" fill="#bf5a3c" fill-opacity="0.85"/>
<circle cx="119.93" cy="1063.65" r="2.6" fill="#bf5a3c" fill-opacity="0.85"/>
<circle cx="121.33" cy="1065.92" r="2.6" fill="#bf5a3c" fill-opacity="0.85"/>
<circle cx="123.32" cy="1059.95" r="2.6" fill="#bf5a3c" fill-opacity="0.85"/>
<circle cx="124.74" cy="1064.03" r="2.6" fill="#bf5a3c" fill-opacity="0.85"/>
<circle cx="126.24" cy="1061.84" r="2.6" fill="#bf5a3c" fill-opacity="0.85"/>
<circle cx="127.89" cy="1058.11" r="2.6" fill="#bf5a3c" fill-opacity="0.85"/>
<circle cx="129.85" cy="1056.75" r="2.6" fill="#bf5a3c" fill-opacity="0.85"/>
<circle cx="131.5" cy="1062.58" r="2.6" fill="#bf5a3c" fill-opacity="0.85"/>
<circle cx="133.76" cy="1054.85" r="2.6" fill="#bf5a3c" fill-opacity="0.85"/>
<circle cx="136.27" cy="1066.67" r="2.6" fill="#bf5a3c" fill-opacity="0.85"/>
<circle cx="138.29" cy="1055.79" r="2.6" fill="#bf5a3c" fill-opacity="0.85"/>
<circle cx="140.67" cy="1054.12" r="2.6" fill="#bf5a3c" fill-opacity="0.85"/>
<circle cx="142.77" cy="1055.26" r="2.6" fill="#bf5a3c" fill-opacity="0.85"/>
<circle cx="144.52" cy="1066.93" r="2.6" fill="#bf5a3c" fill-opacity="0.85"/>
<circle cx="147.46" cy="1058.64" r="2.6" fill="#bf5a3c" fill-opacity="0.85"/>
<circle cx="149.93" cy="1055.76" r="2.6" fill="#bf5a3c" fill-opacity="0.85"/>
<circle cx="153.37" cy="1054.15" r="2.6" fill="#bf5a3c" fill-opacity="0.85"/>
<circle cx="155.94" cy="1054.33" r="2.6" fill="#bf5a3c" fill-opacity="0.85"/>
<circle cx="158.68" cy="1063.57" r="2.6" fill="#bf5a3c" fill-opacity="0.85"/>
<circle cx="163.01" cy="1062.74" r="2.6" fill="#bf5a3c" fill-opacity="0.85"/>
<circle cx="167.7" cy="1063.64" r="2.6" fill="#bf5a3c" fill-opacity="0.85"/>
<circle cx="170.06" cy="1064.2" r="2.6" fill="#bf5a3c" fill-opacity="0.85"/>
<circle cx="176.72" cy="1054.68" r="2.6" fill="#bf5a3c" fill-opacity="0.85"/>
<circle cx="179.29" cy="1062.12" r="2.6" fill="#bf5a3c" fill-opacity="0.85"/>
<circle cx="186.13" cy="1058.9" r="2.6" fill="#bf5a3c" fill-opacity="0.85"/>
<circle cx="193.05" cy="1065.35" r="2.6" fill="#bf5a3c" fill-opacity="0.85"/>
<circle cx="204.41" cy="1065.38" r="2.6" fill="#bf5a3c" fill-opacity="0.85"/>
<circle cx="217.3" cy="1066.39" r="2.6" fill="#bf5a3c" fill-opacity="0.85"/>
<circle cx="230.95" cy="1054.68" r="2.6" fill="#bf5a3c" fill-opacity="0.85"/>
<circle cx="264.49" cy="1066.06" r="2.6" fill="#bf5a3c" fill-opacity="0.85"/>
<line x1="134.37" y1="1077.74" x2="143.7" y2="1077.74" stroke="#000" stroke-width="1.3"/>
<line x1="134.37" y1="1075.74" x2="134.37" y2="1079.74" stroke="#000" stroke-width="1.3"/>
<line x1="143.7" y1="1075.74" x2="143.7" y2="1079.74" stroke="#000" stroke-width="1.3"/>
<circle cx="100.03" cy="1070.66" r="2.6" fill="#6a9c69" fill-opacity="0.85"/>
<circle cx="103.12" cy="1073.51" r="2.6" fill="#6a9c69" fill-opacity="0.85"/>
<circle cx="104.27" cy="1081.46" r="2.6" fill="#6a9c69" fill-opacity="0.85"/>
<circle cx="106.35" cy="1084.52" r="2.6" fill="#6a9c69" fill-opacity="0.85"/>
<circle cx="107.97" cy="1070.7" r="2.6" fill="#6a9c69" fill-opacity="0.85"/>
<circle cx="109.48" cy="1077.61" r="2.6" fill="#6a9c69" fill-opacity="0.85"/>
<circle cx="111.66" cy="1077.62" r="2.6" fill="#6a9c69" fill-opacity="0.85"/>
<circle cx="113.02" cy="1081.95" r="2.6" fill="#6a9c69" fill-opacity="0.85"/>
<circle cx="114.24" cy="1073.26" r="2.6" fill="#6a9c69" fill-opacity="0.85"/>
<circle cx="115.73" cy="1077.66" r="2.6" fill="#6a9c69" fill-opacity="0.85"/>
<circle cx="116.91" cy="1075.57" r="2.6" fill="#6a9c69" fill-opacity="0.85"/>
<circle cx="117.96" cy="1082.45" r="2.6" fill="#6a9c69" fill-opacity="0.85"/>
<circle cx="119.13" cy="1074.34" r="2.6" fill="#6a9c69" fill-opacity="0.85"/>
<circle cx="120.46" cy="1084.04" r="2.6" fill="#6a9c69" fill-opacity="0.85"/>
<circle cx="122.35" cy="1074.67" r="2.6" fill="#6a9c69" fill-opacity="0.85"/>
<circle cx="123.26" cy="1073.69" r="2.6" fill="#6a9c69" fill-opacity="0.85"/>
<circle cx="124.75" cy="1080.57" r="2.6" fill="#6a9c69" fill-opacity="0.85"/>
<circle cx="126.27" cy="1077.72" r="2.6" fill="#6a9c69" fill-opacity="0.85"/>
<circle cx="127.38" cy="1072.2" r="2.6" fill="#6a9c69" fill-opacity="0.85"/>
<circle cx="129.09" cy="1079.68" r="2.6" fill="#6a9c69" fill-opacity="0.85"/>
<circle cx="130.67" cy="1071.79" r="2.6" fill="#6a9c69" fill-opacity="0.85"/>
<circle cx="132.72" cy="1081.83" r="2.6" fill="#6a9c69" fill-opacity="0.85"/>
<circle cx="134.07" cy="1080.54" r="2.6" fill="#6a9c69" fill-opacity="0.85"/>
<circle cx="135.78" cy="1081.81" r="2.6" fill="#6a9c69" fill-opacity="0.85"/>
<circle cx="138.38" cy="1079.56" r="2.6" fill="#6a9c69" fill-opacity="0.85"/>
<circle cx="139.82" cy="1075.69" r="2.6" fill="#6a9c69" fill-opacity="0.85"/>
<circle cx="142.37" cy="1076.34" r="2.6" fill="#6a9c69" fill-opacity="0.85"/>
<circle cx="144.31" cy="1076.24" r="2.6" fill="#6a9c69" fill-opacity="0.85"/>
<circle cx="145.86" cy="1083.28" r="2.6" fill="#6a9c69" fill-opacity="0.85"/>
<circle cx="149.02" cy="1071.87" r="2.6" fill="#6a9c69" fill-opacity="0.85"/>
<circle cx="151.89" cy="1083.25" r="2.6" fill="#6a9c69" fill-opacity="0.85"/>
<circle cx="155.7" cy="1071" r="2.6" fill="#6a9c69" fill-opacity="0.85"/>
<circle cx="158.33" cy="1073.57" r="2.6" fill="#6a9c69" fill-opacity="0.85"/>
<circle cx="163.19" cy="1074.38" r="2.6" fill="#6a9c69" fill-opacity="0.85"/>
<circle cx="167.4" cy="1083.44" r="2.6" fill="#6a9c69" fill-opacity="0.85"/>
<circle cx="171.77" cy="1077.76" r="2.6" fill="#6a9c69" fill-opacity="0.85"/>
<circle cx="181.25" cy="1076.03" r="2.6" fill="#6a9c69" fill-opacity="0.85"/>
<circle cx="185.94" cy="1083.19" r="2.6" fill="#6a9c69" fill-opacity="0.85"/>
<circle cx="204.04" cy="1073.96" r="2.6" fill="#6a9c69" fill-opacity="0.85"/>
<circle cx="242.61" cy="1077.19" r="2.6" fill="#6a9c69" fill-opacity="0.85"/>
<line x1="112.99" y1="1102.81" x2="119.48" y2="1102.81" stroke="#000" stroke-width="1.3"/>
<line x1="112.99" y1="1100.81" x2="112.99" y2="1104.81" stroke="#000" stroke-width="1.3"/>
<line x1="119.48" y1="1100.81" x2="119.48" y2="1104.81" stroke="#000" stroke-width="1.3"/>
<circle cx="91.25" cy="1098.5" r="2.6" fill="#bf5a3c" fill-opacity="0.85"/>
<circle cx="92.91" cy="1104.77" r="2.6" fill="#bf5a3c" fill-opacity="0.85"/>
<circle cx="93.94" cy="1097.23" r="2.6" fill="#bf5a3c" fill-opacity="0.85"/>
<circle cx="94.78" cy="1098.64" r="2.6" fill="#bf5a3c" fill-opacity="0.85"/>
<circle cx="95.47" cy="1101.22" r="2.6" fill="#bf5a3c" fill-opacity="0.85"/>
<circle cx="96.24" cy="1096.19" r="2.6" fill="#bf5a3c" fill-opacity="0.85"/>
<circle cx="96.93" cy="1101.38" r="2.6" fill="#bf5a3c" fill-opacity="0.85"/>
<circle cx="97.98" cy="1106.94" r="2.6" fill="#bf5a3c" fill-opacity="0.85"/>
<circle cx="98.63" cy="1105.56" r="2.6" fill="#bf5a3c" fill-opacity="0.85"/>
<circle cx="99.4" cy="1102.82" r="2.6" fill="#bf5a3c" fill-opacity="0.85"/>
<circle cx="99.89" cy="1104.69" r="2.6" fill="#bf5a3c" fill-opacity="0.85"/>
<circle cx="100.76" cy="1102.29" r="2.6" fill="#bf5a3c" fill-opacity="0.85"/>
<circle cx="101.67" cy="1097.73" r="2.6" fill="#bf5a3c" fill-opacity="0.85"/>
<circle cx="102.36" cy="1104.28" r="2.6" fill="#bf5a3c" fill-opacity="0.85"/>
<circle cx="102.93" cy="1101.46" r="2.6" fill="#bf5a3c" fill-opacity="0.85"/>
<circle cx="103.91" cy="1106.23" r="2.6" fill="#bf5a3c" fill-opacity="0.85"/>
<circle cx="104.97" cy="1108.6" r="2.6" fill="#bf5a3c" fill-opacity="0.85"/>
<circle cx="105.5" cy="1101.82" r="2.6" fill="#bf5a3c" fill-opacity="0.85"/>
<circle cx="106.38" cy="1103.86" r="2.6" fill="#bf5a3c" fill-opacity="0.85"/>
<circle cx="107.38" cy="1106.35" r="2.6" fill="#bf5a3c" fill-opacity="0.85"/>
<circle cx="108.61" cy="1101.69" r="2.6" fill="#bf5a3c" fill-opacity="0.85"/>
<circle cx="109.75" cy="1098.96" r="2.6" fill="#bf5a3c" fill-opacity="0.85"/>
<circle cx="110.39" cy="1105.96" r="2.6" fill="#bf5a3c" fill-opacity="0.85"/>
<circle cx="111.54" cy="1108.21" r="2.6" fill="#bf5a3c" fill-opacity="0.85"/>
<circle cx="112.82" cy="1106.7" r="2.6" fill="#bf5a3c" fill-opacity="0.85"/>
<circle cx="114.19" cy="1105.65" r="2.6" fill="#bf5a3c" fill-opacity="0.85"/>
<circle cx="115.77" cy="1107.81" r="2.6" fill="#bf5a3c" fill-opacity="0.85"/>
<circle cx="116.96" cy="1105.36" r="2.6" fill="#bf5a3c" fill-opacity="0.85"/>
<circle cx="118.77" cy="1104.82" r="2.6" fill="#bf5a3c" fill-opacity="0.85"/>
<circle cx="120.42" cy="1102.16" r="2.6" fill="#bf5a3c" fill-opacity="0.85"/>
<circle cx="123.42" cy="1100.16" r="2.6" fill="#bf5a3c" fill-opacity="0.85"/>
<circle cx="125.39" cy="1104.63" r="2.6" fill="#bf5a3c" fill-opacity="0.85"/>
<circle cx="126.97" cy="1097.1" r="2.6" fill="#bf5a3c" fill-opacity="0.85"/>
<circle cx="131.46" cy="1101.67" r="2.6" fill="#bf5a3c" fill-opacity="0.85"/>
<circle cx="133.13" cy="1106.82" r="2.6" fill="#bf5a3c" fill-opacity="0.85"/>
<circle cx="137.84" cy="1105.84" r="2.6" fill="#bf5a3c" fill-opacity="0.85"/>
<circle cx="145.09" cy="1104.65" r="2.6" fill="#bf5a3c" fill-opacity="0.85"/>
<circle cx="151.55" cy="1099.26" r="2.6" fill="#bf5a3c" fill-opacity="0.85"/>
<circle cx="161.51" cy="1101.73" r="2.6" fill="#bf5a3c" fill-opacity="0.85"/>
<circle cx="189.76" cy="1102.17" r="2.6" fill="#bf5a3c" fill-opacity="0.85"/>
<line x1="104.44" y1="1119.71" x2="110.86" y2="1119.71" stroke="#000" stroke-width="1.3"/>
<line x1="104.44" y1="1117.71" x2="104.44" y2="1121.71" stroke="#000" stroke-width="1.3"/>
<line x1="110.86" y1="1117.71" x2="110.86" y2="1121.71" stroke="#000" stroke-width="1.3"/>
<circle cx="90.3" cy="1117.61" r="2.6" fill="#6a9c69" fill-opacity="0.85"/>
<circle cx="91.22" cy="1116.38" r="2.6" fill="#6a9c69" fill-opacity="0.85"/>
<circle cx="92.09" cy="1115.8" r="2.6" fill="#6a9c69" fill-opacity="0.85"/>
<circle cx="92.82" cy="1123.14" r="2.6" fill="#6a9c69" fill-opacity="0.85"/>
<circle cx="93.14" cy="1125.96" r="2.6" fill="#6a9c69" fill-opacity="0.85"/>
<circle cx="93.86" cy="1120.09" r="2.6" fill="#6a9c69" fill-opacity="0.85"/>
<circle cx="94.43" cy="1115.72" r="2.6" fill="#6a9c69" fill-opacity="0.85"/>
<circle cx="94.84" cy="1123.99" r="2.6" fill="#6a9c69" fill-opacity="0.85"/>
<circle cx="95.39" cy="1118.18" r="2.6" fill="#6a9c69" fill-opacity="0.85"/>
<circle cx="96.07" cy="1115.62" r="2.6" fill="#6a9c69" fill-opacity="0.85"/>
<circle cx="96.3" cy="1114.45" r="2.6" fill="#6a9c69" fill-opacity="0.85"/>
<circle cx="96.99" cy="1123.64" r="2.6" fill="#6a9c69" fill-opacity="0.85"/>
<circle cx="97.41" cy="1124.1" r="2.6" fill="#6a9c69" fill-opacity="0.85"/>
<circle cx="98.17" cy="1121.62" r="2.6" fill="#6a9c69" fill-opacity="0.85"/>
<circle cx="98.8" cy="1119.27" r="2.6" fill="#6a9c69" fill-opacity="0.85"/>
<circle cx="99.24" cy="1120.59" r="2.6" fill="#6a9c69" fill-opacity="0.85"/>
<circle cx="99.69" cy="1115.82" r="2.6" fill="#6a9c69" fill-opacity="0.85"/>
<circle cx="100.49" cy="1126.3" r="2.6" fill="#6a9c69" fill-opacity="0.85"/>
<circle cx="101.14" cy="1117.63" r="2.6" fill="#6a9c69" fill-opacity="0.85"/>
<circle cx="101.9" cy="1121.68" r="2.6" fill="#6a9c69" fill-opacity="0.85"/>
<circle cx="102.53" cy="1124.23" r="2.6" fill="#6a9c69" fill-opacity="0.85"/>
<circle cx="103.34" cy="1124.2" r="2.6" fill="#6a9c69" fill-opacity="0.85"/>
<circle cx="104.24" cy="1119.26" r="2.6" fill="#6a9c69" fill-opacity="0.85"/>
<circle cx="104.93" cy="1116.79" r="2.6" fill="#6a9c69" fill-opacity="0.85"/>
<circle cx="105.78" cy="1120.4" r="2.6" fill="#6a9c69" fill-opacity="0.85"/>
<circle cx="107.07" cy="1114.39" r="2.6" fill="#6a9c69" fill-opacity="0.85"/>
<circle cx="107.66" cy="1124.45" r="2.6" fill="#6a9c69" fill-opacity="0.85"/>
<circle cx="109.12" cy="1117.65" r="2.6" fill="#6a9c69" fill-opacity="0.85"/>
<circle cx="110.14" cy="1124.69" r="2.6" fill="#6a9c69" fill-opacity="0.85"/>
<circle cx="111.83" cy="1116.41" r="2.6" fill="#6a9c69" fill-opacity="0.85"/>
<circle cx="112.77" cy="1117.95" r="2.6" fill="#6a9c69" fill-opacity="0.85"/>
<circle cx="115.41" cy="1116.21" r="2.6" fill="#6a9c69" fill-opacity="0.85"/>
<circle cx="116.66" cy="1118.66" r="2.6" fill="#6a9c69" fill-opacity="0.85"/>
<circle cx="118.49" cy="1115.25" r="2.6" fill="#6a9c69" fill-opacity="0.85"/>
<circle cx="121.5" cy="1112.65" r="2.6" fill="#6a9c69" fill-opacity="0.85"/>
<circle cx="125.08" cy="1122.86" r="2.6" fill="#6a9c69" fill-opacity="0.85"/>
<circle cx="128.3" cy="1116.6" r="2.6" fill="#6a9c69" fill-opacity="0.85"/>
<circle cx="135.5" cy="1116.09" r="2.6" fill="#6a9c69" fill-opacity="0.85"/>
<circle cx="145.01" cy="1116.9" r="2.6" fill="#6a9c69" fill-opacity="0.85"/>
<circle cx="208.44" cy="1119.42" r="2.6" fill="#6a9c69" fill-opacity="0.85"/>
<line x1="104.88" y1="1144.78" x2="110.43" y2="1144.78" stroke="#000" stroke-width="1.3"/>
<line x1="104.88" y1="1142.78" x2="104.88" y2="1146.78" stroke="#000" stroke-width="1.3"/>
<line x1="110.43" y1="1142.78" x2="110.43" y2="1146.78" stroke="#000" stroke-width="1.3"/>
<circle cx="89.5" cy="1145.56" r="2.6" fill="#bf5a3c" fill-opacity="0.85"/>
<circle cx="90.51" cy="1141.44" r="2.6" fill="#bf5a3c" fill-opacity="0.85"/>
<circle cx="91.16" cy="1141.01" r="2.6" fill="#bf5a3c" fill-opacity="0.85"/>
<circle cx="91.63" cy="1139.66" r="2.6" fill="#bf5a3c" fill-opacity="0.85"/>
<circle cx="92.34" cy="1144.68" r="2.6" fill="#bf5a3c" fill-opacity="0.85"/>
<circle cx="92.82" cy="1138.51" r="2.6" fill="#bf5a3c" fill-opacity="0.85"/>
<circle cx="93.08" cy="1144.31" r="2.6" fill="#bf5a3c" fill-opacity="0.85"/>
<circle cx="93.8" cy="1139.73" r="2.6" fill="#bf5a3c" fill-opacity="0.85"/>
<circle cx="94.31" cy="1144.66" r="2.6" fill="#bf5a3c" fill-opacity="0.85"/>
<circle cx="94.77" cy="1144.75" r="2.6" fill="#bf5a3c" fill-opacity="0.85"/>
<circle cx="95.08" cy="1145.34" r="2.6" fill="#bf5a3c" fill-opacity="0.85"/>
<circle cx="95.81" cy="1149.93" r="2.6" fill="#bf5a3c" fill-opacity="0.85"/>
<circle cx="96.27" cy="1137.78" r="2.6" fill="#bf5a3c" fill-opacity="0.85"/>
<circle cx="96.61" cy="1149.62" r="2.6" fill="#bf5a3c" fill-opacity="0.85"/>
<circle cx="97.16" cy="1144.33" r="2.6" fill="#bf5a3c" fill-opacity="0.85"/>
<circle cx="98.06" cy="1145.67" r="2.6" fill="#bf5a3c" fill-opacity="0.85"/>
<circle cx="98.55" cy="1147.13" r="2.6" fill="#bf5a3c" fill-opacity="0.85"/>
<circle cx="99.03" cy="1149.61" r="2.6" fill="#bf5a3c" fill-opacity="0.85"/>
<circle cx="99.62" cy="1143" r="2.6" fill="#bf5a3c" fill-opacity="0.85"/>
<circle cx="100.31" cy="1143.63" r="2.6" fill="#bf5a3c" fill-opacity="0.85"/>
<circle cx="101.07" cy="1151.32" r="2.6" fill="#bf5a3c" fill-opacity="0.85"/>
<circle cx="102.08" cy="1138.75" r="2.6" fill="#bf5a3c" fill-opacity="0.85"/>
<circle cx="102.69" cy="1146.73" r="2.6" fill="#bf5a3c" fill-opacity="0.85"/>
<circle cx="103.44" cy="1146.71" r="2.6" fill="#bf5a3c" fill-opacity="0.85"/>
<circle cx="104.8" cy="1138.09" r="2.6" fill="#bf5a3c" fill-opacity="0.85"/>
<circle cx="105.74" cy="1146.34" r="2.6" fill="#bf5a3c" fill-opacity="0.85"/>
<circle cx="106.42" cy="1147.37" r="2.6" fill="#bf5a3c" fill-opacity="0.85"/>
<circle cx="108.12" cy="1150.91" r="2.6" fill="#bf5a3c" fill-opacity="0.85"/>
<circle cx="109.21" cy="1142.37" r="2.6" fill="#bf5a3c" fill-opacity="0.85"/>
<circle cx="110.82" cy="1151.62" r="2.6" fill="#bf5a3c" fill-opacity="0.85"/>
<circle cx="112.34" cy="1144.93" r="2.6" fill="#bf5a3c" fill-opacity="0.85"/>
<circle cx="114.45" cy="1144.56" r="2.6" fill="#bf5a3c" fill-opacity="0.85"/>
<circle cx="116.46" cy="1150.42" r="2.6" fill="#bf5a3c" fill-opacity="0.85"/>
<circle cx="119.04" cy="1138.16" r="2.6" fill="#bf5a3c" fill-opacity="0.85"/>
<circle cx="120.83" cy="1147.88" r="2.6" fill="#bf5a3c" fill-opacity="0.85"/>
<circle cx="125.42" cy="1146.56" r="2.6" fill="#bf5a3c" fill-opacity="0.85"/>
<circle cx="129.6" cy="1142.49" r="2.6" fill="#bf5a3c" fill-opacity="0.85"/>
<circle cx="136.8" cy="1149.91" r="2.6" fill="#bf5a3c" fill-opacity="0.85"/>
<circle cx="144.59" cy="1142.88" r="2.6" fill="#bf5a3c" fill-opacity="0.85"/>
<circle cx="180.68" cy="1144.42" r="2.6" fill="#bf5a3c" fill-opacity="0.85"/>
<line x1="93.54" y1="1161.68" x2="96.01" y2="1161.68" stroke="#000" stroke-width="1.3"/>
<line x1="93.54" y1="1159.68" x2="93.54" y2="1163.68" stroke="#000" stroke-width="1.3"/>
<line x1="96.01" y1="1159.68" x2="96.01" y2="1163.68" stroke="#000" stroke-width="1.3"/>
<circle cx="88.42" cy="1164.25" r="2.6" fill="#6a9c69" fill-opacity="0.85"/>
<circle cx="88.78" cy="1157.6" r="2.6" fill="#6a9c69" fill-opacity="0.85"/>
<circle cx="88.93" cy="1164.05" r="2.6" fill="#6a9c69" fill-opacity="0.85"/>
<circle cx="89.16" cy="1161.08" r="2.6" fill="#6a9c69" fill-opacity="0.85"/>
<circle cx="89.35" cy="1165.41" r="2.6" fill="#6a9c69" fill-opacity="0.85"/>
<circle cx="89.54" cy="1156.02" r="2.6" fill="#6a9c69" fill-opacity="0.85"/>
<circle cx="89.75" cy="1157.16" r="2.6" fill="#6a9c69" fill-opacity="0.85"/>
<circle cx="89.86" cy="1155.11" r="2.6" fill="#6a9c69" fill-opacity="0.85"/>
<circle cx="90.09" cy="1165.58" r="2.6" fill="#6a9c69" fill-opacity="0.85"/>
<circle cx="90.23" cy="1167.56" r="2.6" fill="#6a9c69" fill-opacity="0.85"/>
<circle cx="90.41" cy="1163.89" r="2.6" fill="#6a9c69" fill-opacity="0.85"/>
<circle cx="90.57" cy="1159.82" r="2.6" fill="#6a9c69" fill-opacity="0.85"/>
<circle cx="90.78" cy="1166.26" r="2.6" fill="#6a9c69" fill-opacity="0.85"/>
<circle cx="91.03" cy="1165.75" r="2.6" fill="#6a9c69" fill-opacity="0.85"/>
<circle cx="91.19" cy="1162.56" r="2.6" fill="#6a9c69" fill-opacity="0.85"/>
<circle cx="91.42" cy="1158.24" r="2.6" fill="#6a9c69" fill-opacity="0.85"/>
<circle cx="91.57" cy="1158.87" r="2.6" fill="#6a9c69" fill-opacity="0.85"/>
<circle cx="91.79" cy="1160.57" r="2.6" fill="#6a9c69" fill-opacity="0.85"/>
<circle cx="92.02" cy="1159.1" r="2.6" fill="#6a9c69" fill-opacity="0.85"/>
<circle cx="92.31" cy="1160.7" r="2.6" fill="#6a9c69" fill-opacity="0.85"/>
<circle cx="92.58" cy="1163.69" r="2.6" fill="#6a9c69" fill-opacity="0.85"/>
<circle cx="92.88" cy="1167.84" r="2.6" fill="#6a9c69" fill-opacity="0.85"/>
<circle cx="93.04" cy="1155.36" r="2.6" fill="#6a9c69" fill-opacity="0.85"/>
<circle cx="93.48" cy="1162.64" r="2.6" fill="#6a9c69" fill-opacity="0.85"/>
<circle cx="93.85" cy="1155.14" r="2.6" fill="#6a9c69" fill-opacity="0.85"/>
<circle cx="94.14" cy="1156.27" r="2.6" fill="#6a9c69" fill-opacity="0.85"/>
<circle cx="94.41" cy="1166.09" r="2.6" fill="#6a9c69" fill-opacity="0.85"/>
<circle cx="94.9" cy="1162.75" r="2.6" fill="#6a9c69" fill-opacity="0.85"/>
<circle cx="95.28" cy="1167.62" r="2.6" fill="#6a9c69" fill-opacity="0.85"/>
<circle cx="95.85" cy="1160.92" r="2.6" fill="#6a9c69" fill-opacity="0.85"/>
<circle cx="96.7" cy="1154.78" r="2.6" fill="#6a9c69" fill-opacity="0.85"/>
<circle cx="97.26" cy="1160.08" r="2.6" fill="#6a9c69" fill-opacity="0.85"/>
<circle cx="98.06" cy="1162.99" r="2.6" fill="#6a9c69" fill-opacity="0.85"/>
<circle cx="99.06" cy="1167.89" r="2.6" fill="#6a9c69" fill-opacity="0.85"/>
<circle cx="100.29" cy="1168.51" r="2.6" fill="#6a9c69" fill-opacity="0.85"/>
<circle cx="101.45" cy="1161.33" r="2.6" fill="#6a9c69" fill-opacity="0.85"/>
<circle cx="103.27" cy="1160.44" r="2.6" fill="#6a9c69" fill-opacity="0.85"/>
<circle cx="105.86" cy="1156.03" r="2.6" fill="#6a9c69" fill-opacity="0.85"/>
<circle cx="110.29" cy="1163.73" r="2.6" fill="#6a9c69" fill-opacity="0.85"/>
<circle cx="133.17" cy="1157.6" r="2.6" fill="#6a9c69" fill-opacity="0.85"/>
<line x1="120.29" y1="1186.75" x2="131.49" y2="1186.75" stroke="#000" stroke-width="1.3"/>
<line x1="120.29" y1="1184.75" x2="120.29" y2="1188.75" stroke="#000" stroke-width="1.3"/>
<line x1="131.49" y1="1184.75" x2="131.49" y2="1188.75" stroke="#000" stroke-width="1.3"/>
<circle cx="90.61" cy="1185.88" r="2.6" fill="#bf5a3c" fill-opacity="0.85"/>
<circle cx="92.47" cy="1189.26" r="2.6" fill="#bf5a3c" fill-opacity="0.85"/>
<circle cx="93.8" cy="1181.71" r="2.6" fill="#bf5a3c" fill-opacity="0.85"/>
<circle cx="95.37" cy="1190.97" r="2.6" fill="#bf5a3c" fill-opacity="0.85"/>
<circle cx="96.05" cy="1184.81" r="2.6" fill="#bf5a3c" fill-opacity="0.85"/>
<circle cx="97.52" cy="1188.81" r="2.6" fill="#bf5a3c" fill-opacity="0.85"/>
<circle cx="97.97" cy="1188.59" r="2.6" fill="#bf5a3c" fill-opacity="0.85"/>
<circle cx="99.36" cy="1185.59" r="2.6" fill="#bf5a3c" fill-opacity="0.85"/>
<circle cx="99.88" cy="1185.13" r="2.6" fill="#bf5a3c" fill-opacity="0.85"/>
<circle cx="100.77" cy="1190.81" r="2.6" fill="#bf5a3c" fill-opacity="0.85"/>
<circle cx="102.14" cy="1193.07" r="2.6" fill="#bf5a3c" fill-opacity="0.85"/>
<circle cx="102.85" cy="1190.79" r="2.6" fill="#bf5a3c" fill-opacity="0.85"/>
<circle cx="104.16" cy="1187.7" r="2.6" fill="#bf5a3c" fill-opacity="0.85"/>
<circle cx="104.85" cy="1183.8" r="2.6" fill="#bf5a3c" fill-opacity="0.85"/>
<circle cx="105.83" cy="1180.51" r="2.6" fill="#bf5a3c" fill-opacity="0.85"/>
<circle cx="107.42" cy="1193.48" r="2.6" fill="#bf5a3c" fill-opacity="0.85"/>
<circle cx="108.54" cy="1189.64" r="2.6" fill="#bf5a3c" fill-opacity="0.85"/>
<circle cx="109.86" cy="1191.4" r="2.6" fill="#bf5a3c" fill-opacity="0.85"/>
<circle cx="111.04" cy="1184.37" r="2.6" fill="#bf5a3c" fill-opacity="0.85"/>
<circle cx="111.85" cy="1188.25" r="2.6" fill="#bf5a3c" fill-opacity="0.85"/>
<circle cx="113.69" cy="1193.53" r="2.6" fill="#bf5a3c" fill-opacity="0.85"/>
<circle cx="115.25" cy="1191.45" r="2.6" fill="#bf5a3c" fill-opacity="0.85"/>
<circle cx="116.59" cy="1188.19" r="2.6" fill="#bf5a3c" fill-opacity="0.85"/>
<circle cx="118.77" cy="1184.03" r="2.6" fill="#bf5a3c" fill-opacity="0.85"/>
<circle cx="119.84" cy="1185.74" r="2.6" fill="#bf5a3c" fill-opacity="0.85"/>
<circle cx="122.62" cy="1192.26" r="2.6" fill="#bf5a3c" fill-opacity="0.85"/>
<circle cx="124.44" cy="1185" r="2.6" fill="#bf5a3c" fill-opacity="0.85"/>
<circle cx="125.75" cy="1189.37" r="2.6" fill="#bf5a3c" fill-opacity="0.85"/>
<circle cx="128.21" cy="1188.19" r="2.6" fill="#bf5a3c" fill-opacity="0.85"/>
<circle cx="132.03" cy="1192.37" r="2.6" fill="#bf5a3c" fill-opacity="0.85"/>
<circle cx="135.53" cy="1191.12" r="2.6" fill="#bf5a3c" fill-opacity="0.85"/>
<circle cx="137.5" cy="1183.67" r="2.6" fill="#bf5a3c" fill-opacity="0.85"/>
<circle cx="142.02" cy="1179.68" r="2.6" fill="#bf5a3c" fill-opacity="0.85"/>
<circle cx="148" cy="1183.39" r="2.6" fill="#bf5a3c" fill-opacity="0.85"/>
<circle cx="151.74" cy="1185.65" r="2.6" fill="#bf5a3c" fill-opacity="0.85"/>
<circle cx="161.76" cy="1187.98" r="2.6" fill="#bf5a3c" fill-opacity="0.85"/>
<circle cx="168.98" cy="1191.24" r="2.6" fill="#bf5a3c" fill-opacity="0.85"/>
<circle cx="177.77" cy="1192.25" r="2.6" fill="#bf5a3c" fill-opacity="0.85"/>
<circle cx="198.73" cy="1180.25" r="2.6" fill="#bf5a3c" fill-opacity="0.85"/>
<circle cx="282.11" cy="1191.48" r="2.6" fill="#bf5a3c" fill-opacity="0.85"/>
<line x1="97.58" y1="1203.65" x2="102.7" y2="1203.65" stroke="#000" stroke-width="1.3"/>
<line x1="97.58" y1="1201.65" x2="97.58" y2="1205.65" stroke="#000" stroke-width="1.3"/>
<line x1="102.7" y1="1201.65" x2="102.7" y2="1205.65" stroke="#000" stroke-width="1.3"/>
<circle cx="89.02" cy="1202.27" r="2.6" fill="#6a9c69" fill-opacity="0.85"/>
<circle cx="89.55" cy="1203.89" r="2.6" fill="#6a9c69" fill-opacity="0.85"/>
<circle cx="89.88" cy="1198.67" r="2.6" fill="#6a9c69" fill-opacity="0.85"/>
<circle cx="90.18" cy="1197.19" r="2.6" fill="#6a9c69" fill-opacity="0.85"/>
<circle cx="90.63" cy="1210.71" r="2.6" fill="#6a9c69" fill-opacity="0.85"/>
<circle cx="90.93" cy="1201.86" r="2.6" fill="#6a9c69" fill-opacity="0.85"/>
<circle cx="91.22" cy="1198.06" r="2.6" fill="#6a9c69" fill-opacity="0.85"/>
<circle cx="91.57" cy="1205.53" r="2.6" fill="#6a9c69" fill-opacity="0.85"/>
<circle cx="91.78" cy="1207.73" r="2.6" fill="#6a9c69" fill-opacity="0.85"/>
<circle cx="92.04" cy="1198.77" r="2.6" fill="#6a9c69" fill-opacity="0.85"/>
<circle cx="92.45" cy="1205.03" r="2.6" fill="#6a9c69" fill-opacity="0.85"/>
<circle cx="92.82" cy="1201.45" r="2.6" fill="#6a9c69" fill-opacity="0.85"/>
<circle cx="93.03" cy="1203.93" r="2.6" fill="#6a9c69" fill-opacity="0.85"/>
<circle cx="93.48" cy="1196.84" r="2.6" fill="#6a9c69" fill-opacity="0.85"/>
<circle cx="93.88" cy="1197.03" r="2.6" fill="#6a9c69" fill-opacity="0.85"/>
<circle cx="94.09" cy="1210.61" r="2.6" fill="#6a9c69" fill-opacity="0.85"/>
<circle cx="94.55" cy="1208.85" r="2.6" fill="#6a9c69" fill-opacity="0.85"/>
<circle cx="94.97" cy="1203.46" r="2.6" fill="#6a9c69" fill-opacity="0.85"/>
<circle cx="95.33" cy="1204.6" r="2.6" fill="#6a9c69" fill-opacity="0.85"/>
<circle cx="95.7" cy="1200.27" r="2.6" fill="#6a9c69" fill-opacity="0.85"/>
<circle cx="96.17" cy="1207.61" r="2.6" fill="#6a9c69" fill-opacity="0.85"/>
<circle cx="96.8" cy="1202.6" r="2.6" fill="#6a9c69" fill-opacity="0.85"/>
<circle cx="97.34" cy="1209.99" r="2.6" fill="#6a9c69" fill-opacity="0.85"/>
<circle cx="97.79" cy="1207.44" r="2.6" fill="#6a9c69" fill-opacity="0.85"/>
<circle cx="98.25" cy="1208.18" r="2.6" fill="#6a9c69" fill-opacity="0.85"/>
<circle cx="99.17" cy="1210.23" r="2.6" fill="#6a9c69" fill-opacity="0.85"/>
<circle cx="99.87" cy="1200.16" r="2.6" fill="#6a9c69" fill-opacity="0.85"/>
<circle cx="100.39" cy="1197.09" r="2.6" fill="#6a9c69" fill-opacity="0.85"/>
<circle cx="101.4" cy="1199.41" r="2.6" fill="#6a9c69" fill-opacity="0.85"/>
<circle cx="102.54" cy="1199.12" r="2.6" fill="#6a9c69" fill-opacity="0.85"/>
<circle cx="103.62" cy="1197.74" r="2.6" fill="#6a9c69" fill-opacity="0.85"/>
<circle cx="104.58" cy="1197.28" r="2.6" fill="#6a9c69" fill-opacity="0.85"/>
<circle cx="105.93" cy="1204.46" r="2.6" fill="#6a9c69" fill-opacity="0.85"/>
<circle cx="107.68" cy="1208.91" r="2.6" fill="#6a9c69" fill-opacity="0.85"/>
<circle cx="109.16" cy="1203.06" r="2.6" fill="#6a9c69" fill-opacity="0.85"/>
<circle cx="111.54" cy="1210" r="2.6" fill="#6a9c69" fill-opacity="0.85"/>
<circle cx="114.59" cy="1209.47" r="2.6" fill="#6a9c69" fill-opacity="0.85"/>
<circle cx="120.62" cy="1197.46" r="2.6" fill="#6a9c69" fill-opacity="0.85"/>
<circle cx="126.67" cy="1205.04" r="2.6" fill="#6a9c69" fill-opacity="0.85"/>
<circle cx="186.56" cy="1202.19" r="2.6" fill="#6a9c69" fill-opacity="0.85"/>
<path d="M215,767.05 L221.5,767.05 L221.5,783.95 L215,783.95" fill="none" stroke="#000" stroke-width="1.7"/>
<text x="220.5" y="775.5" font-size="13" text-anchor="middle" transform="rotate(90 220.5 775.5)">***</text>
<path d="M479.8,809.02 L486.3,809.02 L486.3,825.92 L479.8,825.92" fill="none" stroke="#000" stroke-width="1.7"/>
<text x="485.3" y="817.47" font-size="13" text-anchor="middle" transform="rotate(90 485.3 817.47)">***</text>
<path d="M339,850.99 L345.5,850.99 L345.5,867.89 L339,867.89" fill="none" stroke="#000" stroke-width="1.7"/>
<text x="344.5" y="859.44" font-size="13" text-anchor="middle" transform="rotate(90 344.5 859.44)">***</text>
<path d="M153.8,892.96 L160.3,892.96 L160.3,909.86 L153.8,909.86" fill="none" stroke="#000" stroke-width="1.7"/>
<text x="159.3" y="901.41" font-size="13" text-anchor="middle" transform="rotate(90 159.3 901.41)">*</text>
<path d="M311.5,934.93 L318,934.93 L318,951.83 L311.5,951.83" fill="none" stroke="#000" stroke-width="1.7"/>
<text x="317" y="943.38" font-size="13" text-anchor="middle" transform="rotate(90 317 943.38)">***</text>
<path d="M364.5,976.9 L371,976.9 L371,993.8 L364.5,993.8" fill="none" stroke="#000" stroke-width="1.7"/>
<text x="370" y="985.35" font-size="13" text-anchor="middle" transform="rotate(90 370 985.35)">***</text>
<path d="M432,1018.87 L438.5,1018.87 L438.5,1035.77 L432,1035.77" fill="none" stroke="#000" stroke-width="1.7"/>
<text x="437.5" y="1027.32" font-size="13" text-anchor="middle" transform="rotate(90 437.5 1027.32)">***</text>
<path d="M271,1060.84 L277.5,1060.84 L277.5,1077.74 L271,1077.74" fill="none" stroke="#000" stroke-width="1.7"/>
<text x="276.5" y="1069.29" font-size="13" text-anchor="middle" transform="rotate(90 276.5 1069.29)">*</text>
<path d="M214.1,1102.81 L220.6,1102.81 L220.6,1119.71 L214.1,1119.71" fill="none" stroke="#000" stroke-width="1.7"/>
<text x="219.6" y="1111.26" font-size="13" text-anchor="middle" transform="rotate(90 219.6 1111.26)">*</text>
<path d="M185.8,1144.78 L192.3,1144.78 L192.3,1161.68 L185.8,1161.68" fill="none" stroke="#000" stroke-width="1.7"/>
<text x="191.3" y="1153.23" font-size="13" text-anchor="middle" transform="rotate(90 191.3 1153.23)">***</text>
<path d="M288.2,1186.75 L294.7,1186.75 L294.7,1203.65 L288.2,1203.65" fill="none" stroke="#000" stroke-width="1.7"/>
<text x="293.7" y="1195.2" font-size="13" text-anchor="middle" transform="rotate(90 293.7 1195.2)">***</text>
<rect x="87.6" y="750.2" width="426.8" height="469.8" fill="none" stroke="#000" stroke-width="1.6"/>
<line x1="81.6" y1="775.5" x2="87.6" y2="775.5" stroke="#000" stroke-width="1.5"/>
<text font-size="13.8" text-anchor="end" transform="translate(76.1 780.4) scale(1 1.1)">CD244</text>
<line x1="81.6" y1="817.47" x2="87.6" y2="817.47" stroke="#000" stroke-width="1.5"/>
<text font-size="13.8" text-anchor="end" transform="translate(76.1 822.37) scale(1 1.1)">CSF1R</text>
<line x1="81.6" y1="859.44" x2="87.6" y2="859.44" stroke="#000" stroke-width="1.5"/>
<text font-size="13.8" text-anchor="end" transform="translate(76.1 864.34) scale(1 1.1)">HAVCR2</text>
<line x1="81.6" y1="901.41" x2="87.6" y2="901.41" stroke="#000" stroke-width="1.5"/>
<text font-size="13.8" text-anchor="end" transform="translate(76.1 906.31) scale(1 1.1)">IL10</text>
<line x1="81.6" y1="943.38" x2="87.6" y2="943.38" stroke="#000" stroke-width="1.5"/>
<text font-size="13.8" text-anchor="end" transform="translate(76.1 948.28) scale(1 1.1)">LAG3</text>
<line x1="81.6" y1="985.35" x2="87.6" y2="985.35" stroke="#000" stroke-width="1.5"/>
<text font-size="13.8" text-anchor="end" transform="translate(76.1 990.25) scale(1 1.1)">LGALS9</text>
<line x1="81.6" y1="1027.32" x2="87.6" y2="1027.32" stroke="#000" stroke-width="1.5"/>
<text font-size="13.8" text-anchor="end" transform="translate(76.1 1032.22) scale(1 1.1)">NECTIN2</text>
<line x1="81.6" y1="1069.29" x2="87.6" y2="1069.29" stroke="#000" stroke-width="1.5"/>
<text font-size="13.8" text-anchor="end" transform="translate(76.1 1074.19) scale(1 1.1)">PDCD1LG2</text>
<line x1="81.6" y1="1111.26" x2="87.6" y2="1111.26" stroke="#000" stroke-width="1.5"/>
<text font-size="13.8" text-anchor="end" transform="translate(76.1 1116.16) scale(1 1.1)">CD274</text>
<line x1="81.6" y1="1153.23" x2="87.6" y2="1153.23" stroke="#000" stroke-width="1.5"/>
<text font-size="13.8" text-anchor="end" transform="translate(76.1 1158.13) scale(1 1.1)">CTLA4</text>
<line x1="81.6" y1="1195.2" x2="87.6" y2="1195.2" stroke="#000" stroke-width="1.5"/>
<text font-size="13.8" text-anchor="end" transform="translate(76.1 1200.1) scale(1 1.1)">PDCD1</text>
<line x1="87.8" y1="1220" x2="87.8" y2="1225.5" stroke="#000" stroke-width="1.5"/>
<text font-size="13.6" text-anchor="middle" transform="translate(89.1 1243.4) scale(1 1.1)">0</text>
<line x1="195.1" y1="1220" x2="195.1" y2="1225.5" stroke="#000" stroke-width="1.5"/>
<text font-size="13.6" text-anchor="middle" transform="translate(196.4 1243.4) scale(1 1.1)">2</text>
<line x1="302.4" y1="1220" x2="302.4" y2="1225.5" stroke="#000" stroke-width="1.5"/>
<text font-size="13.6" text-anchor="middle" transform="translate(303.7 1243.4) scale(1 1.1)">4</text>
<line x1="409.7" y1="1220" x2="409.7" y2="1225.5" stroke="#000" stroke-width="1.5"/>
<text font-size="13.6" text-anchor="middle" transform="translate(411 1243.4) scale(1 1.1)">6</text>
<text x="301" y="1262.6" font-size="16.2" text-anchor="middle">Immunosuppressive Checkpoints</text>
<text x="11.5" y="753" font-size="35" text-anchor="start">K</text>
<text font-size="13.6" text-anchor="start" transform="translate(521 971.8) scale(1 1.1)">GRN</text>
<rect x="521.5" y="978" width="14.2" height="14.2" fill="#8fb28c" stroke="#000" stroke-width="1.6"/>
<circle cx="528.6" cy="985.1" r="2.4" fill="#6a9c69"/>
<rect x="521.5" y="993.5" width="14.2" height="14.2" fill="#c2826f" stroke="#000" stroke-width="1.6"/>
<circle cx="528.6" cy="1000.6" r="2.4" fill="#bf5a3c"/>
<text font-size="13.6" text-anchor="start" transform="translate(543.7 990) scale(1 1.1)">Low</text>
<text font-size="13.6" text-anchor="start" transform="translate(543.7 1005.5) scale(1 1.1)">High</text>
<line x1="810.9" y1="750.2" x2="810.9" y2="1220.3" stroke="#f0f0f0" stroke-width="1.5"/>
<line x1="848.7" y1="750.2" x2="848.7" y2="1220.3" stroke="#e6e6e6" stroke-width="2.2"/>
<line x1="886.5" y1="750.2" x2="886.5" y2="1220.3" stroke="#f0f0f0" stroke-width="1.5"/>
<line x1="924.3" y1="750.2" x2="924.3" y2="1220.3" stroke="#e6e6e6" stroke-width="2.2"/>
<line x1="962.1" y1="750.2" x2="962.1" y2="1220.3" stroke="#f0f0f0" stroke-width="1.5"/>
<line x1="999.9" y1="750.2" x2="999.9" y2="1220.3" stroke="#e6e6e6" stroke-width="2.2"/>
<line x1="1037.7" y1="750.2" x2="1037.7" y2="1220.3" stroke="#f0f0f0" stroke-width="1.5"/>
<line x1="1075.5" y1="750.2" x2="1075.5" y2="1220.3" stroke="#e6e6e6" stroke-width="2.2"/>
<line x1="1113.3" y1="750.2" x2="1113.3" y2="1220.3" stroke="#f0f0f0" stroke-width="1.5"/>
<line x1="1151.1" y1="750.2" x2="1151.1" y2="1220.3" stroke="#e6e6e6" stroke-width="2.2"/>
<line x1="773.1" y1="772.2" x2="1189.3" y2="772.2" stroke="#e6e6e6" stroke-width="2.2"/>
<line x1="773.1" y1="807.8" x2="1189.3" y2="807.8" stroke="#e6e6e6" stroke-width="2.2"/>
<line x1="773.1" y1="843.4" x2="1189.3" y2="843.4" stroke="#e6e6e6" stroke-width="2.2"/>
<line x1="773.1" y1="879" x2="1189.3" y2="879" stroke="#e6e6e6" stroke-width="2.2"/>
<line x1="773.1" y1="914.6" x2="1189.3" y2="914.6" stroke="#e6e6e6" stroke-width="2.2"/>
<line x1="773.1" y1="950.2" x2="1189.3" y2="950.2" stroke="#e6e6e6" stroke-width="2.2"/>
<line x1="773.1" y1="985.8" x2="1189.3" y2="985.8" stroke="#e6e6e6" stroke-width="2.2"/>
<line x1="773.1" y1="1021.4" x2="1189.3" y2="1021.4" stroke="#e6e6e6" stroke-width="2.2"/>
<line x1="773.1" y1="1057" x2="1189.3" y2="1057" stroke="#e6e6e6" stroke-width="2.2"/>
<line x1="773.1" y1="1092.6" x2="1189.3" y2="1092.6" stroke="#e6e6e6" stroke-width="2.2"/>
<line x1="773.1" y1="1128.2" x2="1189.3" y2="1128.2" stroke="#e6e6e6" stroke-width="2.2"/>
<line x1="773.1" y1="1163.8" x2="1189.3" y2="1163.8" stroke="#e6e6e6" stroke-width="2.2"/>
<line x1="773.1" y1="1199.4" x2="1189.3" y2="1199.4" stroke="#e6e6e6" stroke-width="2.2"/>
<rect x="773.1" y="758" width="163.3" height="14.2" fill="#c2826f" stroke="#000" stroke-width="1.6" fill-opacity="0.95"/>
<rect x="773.1" y="772.2" width="153.47" height="14.2" fill="#8fb28c" stroke="#000" stroke-width="1.6" fill-opacity="0.95"/>
<rect x="773.1" y="793.6" width="258.93" height="14.2" fill="#c2826f" stroke="#000" stroke-width="1.6" fill-opacity="0.95"/>
<rect x="773.1" y="807.8" width="238.14" height="14.2" fill="#8fb28c" stroke="#000" stroke-width="1.6" fill-opacity="0.95"/>
<rect x="773.1" y="829.2" width="162.16" height="14.2" fill="#c2826f" stroke="#000" stroke-width="1.6" fill-opacity="0.95"/>
<rect x="773.1" y="843.4" width="126.63" height="14.2" fill="#8fb28c" stroke="#000" stroke-width="1.6" fill-opacity="0.95"/>
<rect x="773.1" y="864.8" width="163.3" height="14.2" fill="#c2826f" stroke="#000" stroke-width="1.6" fill-opacity="0.95"/>
<rect x="773.1" y="879" width="117.56" height="14.2" fill="#8fb28c" stroke="#000" stroke-width="1.6" fill-opacity="0.95"/>
<rect x="773.1" y="900.4" width="271.78" height="14.2" fill="#c2826f" stroke="#000" stroke-width="1.6" fill-opacity="0.95"/>
<rect x="773.1" y="914.6" width="252.13" height="14.2" fill="#8fb28c" stroke="#000" stroke-width="1.6" fill-opacity="0.95"/>
<rect x="773.1" y="936" width="365.53" height="14.2" fill="#c2826f" stroke="#000" stroke-width="1.6" fill-opacity="0.95"/>
<rect x="773.1" y="950.2" width="359.1" height="14.2" fill="#8fb28c" stroke="#000" stroke-width="1.6" fill-opacity="0.95"/>
<rect x="773.1" y="971.6" width="190.13" height="14.2" fill="#c2826f" stroke="#000" stroke-width="1.6" fill-opacity="0.95"/>
<rect x="773.1" y="985.8" width="149.69" height="14.2" fill="#8fb28c" stroke="#000" stroke-width="1.6" fill-opacity="0.95"/>
<rect x="773.1" y="1007.2" width="287.66" height="14.2" fill="#c2826f" stroke="#000" stroke-width="1.6" fill-opacity="0.95"/>
<rect x="773.1" y="1021.4" width="266.11" height="14.2" fill="#8fb28c" stroke="#000" stroke-width="1.6" fill-opacity="0.95"/>
<rect x="773.1" y="1042.8" width="255.53" height="14.2" fill="#c2826f" stroke="#000" stroke-width="1.6" fill-opacity="0.95"/>
<rect x="773.1" y="1057" width="185.22" height="14.2" fill="#8fb28c" stroke="#000" stroke-width="1.6" fill-opacity="0.95"/>
<rect x="773.1" y="1078.4" width="175.39" height="14.2" fill="#c2826f" stroke="#000" stroke-width="1.6" fill-opacity="0.95"/>
<rect x="773.1" y="1092.6" width="141.75" height="14.2" fill="#8fb28c" stroke="#000" stroke-width="1.6" fill-opacity="0.95"/>
<rect x="773.1" y="1114" width="169.72" height="14.2" fill="#c2826f" stroke="#000" stroke-width="1.6" fill-opacity="0.95"/>
<rect x="773.1" y="1128.2" width="145.91" height="14.2" fill="#8fb28c" stroke="#000" stroke-width="1.6" fill-opacity="0.95"/>
<rect x="773.1" y="1149.6" width="189.38" height="14.2" fill="#c2826f" stroke="#000" stroke-width="1.6" fill-opacity="0.95"/>
<rect x="773.1" y="1163.8" width="151.2" height="14.2" fill="#8fb28c" stroke="#000" stroke-width="1.6" fill-opacity="0.95"/>
<rect x="773.1" y="1185.2" width="226.04" height="14.2" fill="#c2826f" stroke="#000" stroke-width="1.6" fill-opacity="0.95"/>
<rect x="773.1" y="1199.4" width="175.39" height="14.2" fill="#8fb28c" stroke="#000" stroke-width="1.6" fill-opacity="0.95"/>
<line x1="931.37" y1="765.1" x2="941.42" y2="765.1" stroke="#000" stroke-width="1.3"/>
<line x1="931.37" y1="763.1" x2="931.37" y2="767.1" stroke="#000" stroke-width="1.3"/>
<line x1="941.42" y1="763.1" x2="941.42" y2="767.1" stroke="#000" stroke-width="1.3"/>
<circle cx="856.68" cy="767.22" r="2.6" fill="#bf5a3c" fill-opacity="0.85"/>
<circle cx="881.42" cy="759.29" r="2.6" fill="#bf5a3c" fill-opacity="0.85"/>
<circle cx="885.86" cy="767.69" r="2.6" fill="#bf5a3c" fill-opacity="0.85"/>
<circle cx="892.78" cy="761.46" r="2.6" fill="#bf5a3c" fill-opacity="0.85"/>
<circle cx="897.56" cy="759.57" r="2.6" fill="#bf5a3c" fill-opacity="0.85"/>
<circle cx="902.12" cy="770.2" r="2.6" fill="#bf5a3c" fill-opacity="0.85"/>
<circle cx="904.94" cy="761.77" r="2.6" fill="#bf5a3c" fill-opacity="0.85"/>
<circle cx="907.55" cy="770.28" r="2.6" fill="#bf5a3c" fill-opacity="0.85"/>
<circle cx="910.54" cy="769.47" r="2.6" fill="#bf5a3c" fill-opacity="0.85"/>
<circle cx="912.78" cy="769.74" r="2.6" fill="#bf5a3c" fill-opacity="0.85"/>
<circle cx="916.55" cy="760.8" r="2.6" fill="#bf5a3c" fill-opacity="0.85"/>
<circle cx="918.98" cy="764.47" r="2.6" fill="#bf5a3c" fill-opacity="0.85"/>
<circle cx="920.23" cy="760.29" r="2.6" fill="#bf5a3c" fill-opacity="0.85"/>
<circle cx="922.24" cy="770.21" r="2.6" fill="#bf5a3c" fill-opacity="0.85"/>
<circle cx="924.72" cy="769.18" r="2.6" fill="#bf5a3c" fill-opacity="0.85"/>
<circle cx="926.98" cy="766.63" r="2.6" fill="#bf5a3c" fill-opacity="0.85"/>
<circle cx="929.75" cy="764.53" r="2.6" fill="#bf5a3c" fill-opacity="0.85"/>
<circle cx="931.81" cy="763.19" r="2.6" fill="#bf5a3c" fill-opacity="0.85"/>
<circle cx="933.77" cy="768.95" r="2.6" fill="#bf5a3c" fill-opacity="0.85"/>
<circle cx="934.83" cy="764.83" r="2.6" fill="#bf5a3c" fill-opacity="0.85"/>
<circle cx="937.76" cy="766.63" r="2.6" fill="#bf5a3c" fill-opacity="0.85"/>
<circle cx="939.69" cy="760.84" r="2.6" fill="#bf5a3c" fill-opacity="0.85"/>
<circle cx="941.66" cy="761.78" r="2.6" fill="#bf5a3c" fill-opacity="0.85"/>
<circle cx="944.14" cy="759.81" r="2.6" fill="#bf5a3c" fill-opacity="0.85"/>
<circle cx="945.07" cy="767.65" r="2.6" fill="#bf5a3c" fill-opacity="0.85"/>
<circle cx="947.3" cy="765.74" r="2.6" fill="#bf5a3c" fill-opacity="0.85"/>
<circle cx="950.28" cy="760.86" r="2.6" fill="#bf5a3c" fill-opacity="0.85"/>
<circle cx="952.79" cy="769.52" r="2.6" fill="#bf5a3c" fill-opacity="0.85"/>
<circle cx="954.76" cy="762.31" r="2.6" fill="#bf5a3c" fill-opacity="0.85"/>
<circle cx="956.63" cy="764.05" r="2.6" fill="#bf5a3c" fill-opacity="0.85"/>
<circle cx="959.61" cy="760.99" r="2.6" fill="#bf5a3c" fill-opacity="0.85"/>
<circle cx="962.6" cy="762.37" r="2.6" fill="#bf5a3c" fill-opacity="0.85"/>
<circle cx="964.35" cy="769.15" r="2.6" fill="#bf5a3c" fill-opacity="0.85"/>
<circle cx="967.84" cy="763.13" r="2.6" fill="#bf5a3c" fill-opacity="0.85"/>
<circle cx="971.13" cy="761.14" r="2.6" fill="#bf5a3c" fill-opacity="0.85"/>
<circle cx="974.65" cy="764.99" r="2.6" fill="#bf5a3c" fill-opacity="0.85"/>
<circle cx="980.15" cy="762.93" r="2.6" fill="#bf5a3c" fill-opacity="0.85"/>
<circle cx="984.68" cy="769.91" r="2.6" fill="#bf5a3c" fill-opacity="0.85"/>
<circle cx="992.42" cy="760.5" r="2.6" fill="#bf5a3c" fill-opacity="0.85"/>
<circle cx="1006.29" cy="770.81" r="2.6" fill="#bf5a3c" fill-opacity="0.85"/>
<line x1="921.34" y1="779.3" x2="931.79" y2="779.3" stroke="#000" stroke-width="1.3"/>
<line x1="921.34" y1="777.3" x2="921.34" y2="781.3" stroke="#000" stroke-width="1.3"/>
<line x1="931.79" y1="777.3" x2="931.79" y2="781.3" stroke="#000" stroke-width="1.3"/>
<circle cx="842.54" cy="776.6" r="2.6" fill="#6a9c69" fill-opacity="0.85"/>
<circle cx="869.49" cy="775.79" r="2.6" fill="#6a9c69" fill-opacity="0.85"/>
<circle cx="876.11" cy="780.64" r="2.6" fill="#6a9c69" fill-opacity="0.85"/>
<circle cx="880.43" cy="781.78" r="2.6" fill="#6a9c69" fill-opacity="0.85"/>
<circle cx="886.07" cy="783.02" r="2.6" fill="#6a9c69" fill-opacity="0.85"/>
<circle cx="889.69" cy="780.29" r="2.6" fill="#6a9c69" fill-opacity="0.85"/>
<circle cx="893.26" cy="775.75" r="2.6" fill="#6a9c69" fill-opacity="0.85"/>
<circle cx="896.44" cy="774.12" r="2.6" fill="#6a9c69" fill-opacity="0.85"/>
<circle cx="899.74" cy="782.08" r="2.6" fill="#6a9c69" fill-opacity="0.85"/>
<circle cx="903.54" cy="778.2" r="2.6" fill="#6a9c69" fill-opacity="0.85"/>
<circle cx="906.14" cy="781.94" r="2.6" fill="#6a9c69" fill-opacity="0.85"/>
<circle cx="908.5" cy="774" r="2.6" fill="#6a9c69" fill-opacity="0.85"/>
<circle cx="909.7" cy="783.01" r="2.6" fill="#6a9c69" fill-opacity="0.85"/>
<circle cx="912.3" cy="777.33" r="2.6" fill="#6a9c69" fill-opacity="0.85"/>
<circle cx="915.37" cy="783.38" r="2.6" fill="#6a9c69" fill-opacity="0.85"/>
<circle cx="916.46" cy="783.65" r="2.6" fill="#6a9c69" fill-opacity="0.85"/>
<circle cx="919.49" cy="779.22" r="2.6" fill="#6a9c69" fill-opacity="0.85"/>
<circle cx="921.06" cy="773.52" r="2.6" fill="#6a9c69" fill-opacity="0.85"/>
<circle cx="924.03" cy="784.19" r="2.6" fill="#6a9c69" fill-opacity="0.85"/>
<circle cx="924.92" cy="779.02" r="2.6" fill="#6a9c69" fill-opacity="0.85"/>
<circle cx="928" cy="783.74" r="2.6" fill="#6a9c69" fill-opacity="0.85"/>
<circle cx="929.51" cy="776.51" r="2.6" fill="#6a9c69" fill-opacity="0.85"/>
<circle cx="931.36" cy="775.56" r="2.6" fill="#6a9c69" fill-opacity="0.85"/>
<circle cx="933.3" cy="783.26" r="2.6" fill="#6a9c69" fill-opacity="0.85"/>
<circle cx="936.53" cy="777.71" r="2.6" fill="#6a9c69" fill-opacity="0.85"/>
<circle cx="938.33" cy="775.29" r="2.6" fill="#6a9c69" fill-opacity="0.85"/>
<circle cx="940.12" cy="777.76" r="2.6" fill="#6a9c69" fill-opacity="0.85"/>
<circle cx="942.77" cy="780.43" r="2.6" fill="#6a9c69" fill-opacity="0.85"/>
<circle cx="945.87" cy="773.39" r="2.6" fill="#6a9c69" fill-opacity="0.85"/>
<circle cx="947.33" cy="779.54" r="2.6" fill="#6a9c69" fill-opacity="0.85"/>
<circle cx="950.5" cy="778.65" r="2.6" fill="#6a9c69" fill-opacity="0.85"/>
<circle cx="952.54" cy="779.49" r="2.6" fill="#6a9c69" fill-opacity="0.85"/>
<circle cx="955.55" cy="774.78" r="2.6" fill="#6a9c69" fill-opacity="0.85"/>
<circle cx="959.93" cy="781.86" r="2.6" fill="#6a9c69" fill-opacity="0.85"/>
<circle cx="963.44" cy="783.08" r="2.6" fill="#6a9c69" fill-opacity="0.85"/>
<circle cx="966.23" cy="783.66" r="2.6" fill="#6a9c69" fill-opacity="0.85"/>
<circle cx="970.49" cy="777.16" r="2.6" fill="#6a9c69" fill-opacity="0.85"/>
<circle cx="976.09" cy="781.82" r="2.6" fill="#6a9c69" fill-opacity="0.85"/>
<circle cx="986.59" cy="777.89" r="2.6" fill="#6a9c69" fill-opacity="0.85"/>
<circle cx="998.77" cy="782.3" r="2.6" fill="#6a9c69" fill-opacity="0.85"/>
<line x1="1025.96" y1="800.7" x2="1038.1" y2="800.7" stroke="#000" stroke-width="1.3"/>
<line x1="1025.96" y1="798.7" x2="1025.96" y2="802.7" stroke="#000" stroke-width="1.3"/>
<line x1="1038.1" y1="798.7" x2="1038.1" y2="802.7" stroke="#000" stroke-width="1.3"/>
<circle cx="934.73" cy="804.59" r="2.6" fill="#bf5a3c" fill-opacity="0.85"/>
<circle cx="965.7" cy="805.92" r="2.6" fill="#bf5a3c" fill-opacity="0.85"/>
<circle cx="974.78" cy="799.37" r="2.6" fill="#bf5a3c" fill-opacity="0.85"/>
<circle cx="979.58" cy="799.75" r="2.6" fill="#bf5a3c" fill-opacity="0.85"/>
<circle cx="985.16" cy="804.75" r="2.6" fill="#bf5a3c" fill-opacity="0.85"/>
<circle cx="989.91" cy="801.01" r="2.6" fill="#bf5a3c" fill-opacity="0.85"/>
<circle cx="994.07" cy="799.46" r="2.6" fill="#bf5a3c" fill-opacity="0.85"/>
<circle cx="996.69" cy="805.96" r="2.6" fill="#bf5a3c" fill-opacity="0.85"/>
<circle cx="1002.11" cy="804" r="2.6" fill="#bf5a3c" fill-opacity="0.85"/>
<circle cx="1003.89" cy="798.77" r="2.6" fill="#bf5a3c" fill-opacity="0.85"/>
<circle cx="1006.89" cy="797.6" r="2.6" fill="#bf5a3c" fill-opacity="0.85"/>
<circle cx="1009.67" cy="798.73" r="2.6" fill="#bf5a3c" fill-opacity="0.85"/>
<circle cx="1012.72" cy="799.93" r="2.6" fill="#bf5a3c" fill-opacity="0.85"/>
<circle cx="1016.32" cy="806.44" r="2.6" fill="#bf5a3c" fill-opacity="0.85"/>
<circle cx="1017.7" cy="804.33" r="2.6" fill="#bf5a3c" fill-opacity="0.85"/>
<circle cx="1020.37" cy="805.62" r="2.6" fill="#bf5a3c" fill-opacity="0.85"/>
<circle cx="1023.78" cy="804.46" r="2.6" fill="#bf5a3c" fill-opacity="0.85"/>
<circle cx="1025.5" cy="804.85" r="2.6" fill="#bf5a3c" fill-opacity="0.85"/>
<circle cx="1027.69" cy="795.37" r="2.6" fill="#bf5a3c" fill-opacity="0.85"/>
<circle cx="1030.96" cy="800.91" r="2.6" fill="#bf5a3c" fill-opacity="0.85"/>
<circle cx="1033.35" cy="806.16" r="2.6" fill="#bf5a3c" fill-opacity="0.85"/>
<circle cx="1035.7" cy="805.88" r="2.6" fill="#bf5a3c" fill-opacity="0.85"/>
<circle cx="1038.41" cy="797.71" r="2.6" fill="#bf5a3c" fill-opacity="0.85"/>
<circle cx="1039.99" cy="799.77" r="2.6" fill="#bf5a3c" fill-opacity="0.85"/>
<circle cx="1043.64" cy="802.28" r="2.6" fill="#bf5a3c" fill-opacity="0.85"/>
<circle cx="1045.97" cy="799.08" r="2.6" fill="#bf5a3c" fill-opacity="0.85"/>
<circle cx="1047.52" cy="801.07" r="2.6" fill="#bf5a3c" fill-opacity="0.85"/>
<circle cx="1050.31" cy="795.56" r="2.6" fill="#bf5a3c" fill-opacity="0.85"/>
<circle cx="1053.7" cy="799.9" r="2.6" fill="#bf5a3c" fill-opacity="0.85"/>
<circle cx="1056.61" cy="800.76" r="2.6" fill="#bf5a3c" fill-opacity="0.85"/>
<circle cx="1059.23" cy="794.98" r="2.6" fill="#bf5a3c" fill-opacity="0.85"/>
<circle cx="1062.12" cy="796.4" r="2.6" fill="#bf5a3c" fill-opacity="0.85"/>
<circle cx="1066.12" cy="806.3" r="2.6" fill="#bf5a3c" fill-opacity="0.85"/>
<circle cx="1069.23" cy="804" r="2.6" fill="#bf5a3c" fill-opacity="0.85"/>
<circle cx="1074.47" cy="805.91" r="2.6" fill="#bf5a3c" fill-opacity="0.85"/>
<circle cx="1080.05" cy="802.29" r="2.6" fill="#bf5a3c" fill-opacity="0.85"/>
<circle cx="1083.21" cy="804.39" r="2.6" fill="#bf5a3c" fill-opacity="0.85"/>
<circle cx="1091.68" cy="805.28" r="2.6" fill="#bf5a3c" fill-opacity="0.85"/>
<circle cx="1102.69" cy="805.29" r="2.6" fill="#bf5a3c" fill-opacity="0.85"/>
<circle cx="1115.36" cy="795.15" r="2.6" fill="#bf5a3c" fill-opacity="0.85"/>
<line x1="1004.91" y1="814.9" x2="1017.57" y2="814.9" stroke="#000" stroke-width="1.3"/>
<line x1="1004.91" y1="812.9" x2="1004.91" y2="816.9" stroke="#000" stroke-width="1.3"/>
<line x1="1017.57" y1="812.9" x2="1017.57" y2="816.9" stroke="#000" stroke-width="1.3"/>
<circle cx="922.09" cy="812.64" r="2.6" fill="#6a9c69" fill-opacity="0.85"/>
<circle cx="936.6" cy="811.83" r="2.6" fill="#6a9c69" fill-opacity="0.85"/>
<circle cx="949.38" cy="811.58" r="2.6" fill="#6a9c69" fill-opacity="0.85"/>
<circle cx="954.89" cy="815.05" r="2.6" fill="#6a9c69" fill-opacity="0.85"/>
<circle cx="961.76" cy="813.51" r="2.6" fill="#6a9c69" fill-opacity="0.85"/>
<circle cx="967.77" cy="815.92" r="2.6" fill="#6a9c69" fill-opacity="0.85"/>
<circle cx="971.29" cy="809.08" r="2.6" fill="#6a9c69" fill-opacity="0.85"/>
<circle cx="974.39" cy="813.14" r="2.6" fill="#6a9c69" fill-opacity="0.85"/>
<circle cx="978.66" cy="819.22" r="2.6" fill="#6a9c69" fill-opacity="0.85"/>
<circle cx="981.9" cy="811.78" r="2.6" fill="#6a9c69" fill-opacity="0.85"/>
<circle cx="986.09" cy="815.58" r="2.6" fill="#6a9c69" fill-opacity="0.85"/>
<circle cx="987.93" cy="814.8" r="2.6" fill="#6a9c69" fill-opacity="0.85"/>
<circle cx="990.91" cy="812.33" r="2.6" fill="#6a9c69" fill-opacity="0.85"/>
<circle cx="994.34" cy="820.72" r="2.6" fill="#6a9c69" fill-opacity="0.85"/>
<circle cx="996.23" cy="812.46" r="2.6" fill="#6a9c69" fill-opacity="0.85"/>
<circle cx="999.7" cy="818.15" r="2.6" fill="#6a9c69" fill-opacity="0.85"/>
<circle cx="1002.92" cy="810.83" r="2.6" fill="#6a9c69" fill-opacity="0.85"/>
<circle cx="1004.83" cy="809.73" r="2.6" fill="#6a9c69" fill-opacity="0.85"/>
<circle cx="1007.03" cy="819.33" r="2.6" fill="#6a9c69" fill-opacity="0.85"/>
<circle cx="1009.91" cy="814.18" r="2.6" fill="#6a9c69" fill-opacity="0.85"/>
<circle cx="1012.57" cy="809.68" r="2.6" fill="#6a9c69" fill-opacity="0.85"/>
<circle cx="1014.55" cy="813.56" r="2.6" fill="#6a9c69" fill-opacity="0.85"/>
<circle cx="1017.09" cy="814.18" r="2.6" fill="#6a9c69" fill-opacity="0.85"/>
<circle cx="1019.7" cy="817.71" r="2.6" fill="#6a9c69" fill-opacity="0.85"/>
<circle cx="1022.6" cy="810.24" r="2.6" fill="#6a9c69" fill-opacity="0.85"/>
<circle cx="1025.47" cy="811.62" r="2.6" fill="#6a9c69" fill-opacity="0.85"/>
<circle cx="1028.03" cy="820.38" r="2.6" fill="#6a9c69" fill-opacity="0.85"/>
<circle cx="1030.78" cy="817.75" r="2.6" fill="#6a9c69" fill-opacity="0.85"/>
<circle cx="1033.43" cy="810.78" r="2.6" fill="#6a9c69" fill-opacity="0.85"/>
<circle cx="1037.32" cy="812.96" r="2.6" fill="#6a9c69" fill-opacity="0.85"/>
<circle cx="1041.13" cy="813.14" r="2.6" fill="#6a9c69" fill-opacity="0.85"/>
<circle cx="1044.1" cy="816.99" r="2.6" fill="#6a9c69" fill-opacity="0.85"/>
<circle cx="1047.68" cy="816.29" r="2.6" fill="#6a9c69" fill-opacity="0.85"/>
<circle cx="1051.86" cy="819.07" r="2.6" fill="#6a9c69" fill-opacity="0.85"/>
<circle cx="1055.05" cy="818.73" r="2.6" fill="#6a9c69" fill-opacity="0.85"/>
<circle cx="1061.54" cy="815.11" r="2.6" fill="#6a9c69" fill-opacity="0.85"/>
<circle cx="1066.55" cy="817.75" r="2.6" fill="#6a9c69" fill-opacity="0.85"/>
<circle cx="1074.22" cy="817.8" r="2.6" fill="#6a9c69" fill-opacity="0.85"/>
<circle cx="1084.91" cy="818" r="2.6" fill="#6a9c69" fill-opacity="0.85"/>
<circle cx="1099.56" cy="814.6" r="2.6" fill="#6a9c69" fill-opacity="0.85"/>
<line x1="929.58" y1="836.3" x2="940.94" y2="836.3" stroke="#000" stroke-width="1.3"/>
<line x1="929.58" y1="834.3" x2="929.58" y2="838.3" stroke="#000" stroke-width="1.3"/>
<line x1="940.94" y1="834.3" x2="940.94" y2="838.3" stroke="#000" stroke-width="1.3"/>
<circle cx="857.11" cy="835.42" r="2.6" fill="#bf5a3c" fill-opacity="0.85"/>
<circle cx="871.16" cy="841.2" r="2.6" fill="#bf5a3c" fill-opacity="0.85"/>
<circle cx="880.65" cy="830.46" r="2.6" fill="#bf5a3c" fill-opacity="0.85"/>
<circle cx="884.07" cy="830.9" r="2.6" fill="#bf5a3c" fill-opacity="0.85"/>
<circle cx="891.7" cy="837.07" r="2.6" fill="#bf5a3c" fill-opacity="0.85"/>
<circle cx="893.86" cy="836.27" r="2.6" fill="#bf5a3c" fill-opacity="0.85"/>
<circle cx="899.66" cy="841.31" r="2.6" fill="#bf5a3c" fill-opacity="0.85"/>
<circle cx="902.82" cy="839.56" r="2.6" fill="#bf5a3c" fill-opacity="0.85"/>
<circle cx="905.92" cy="836.76" r="2.6" fill="#bf5a3c" fill-opacity="0.85"/>
<circle cx="909.81" cy="842.24" r="2.6" fill="#bf5a3c" fill-opacity="0.85"/>
<circle cx="912.01" cy="836.51" r="2.6" fill="#bf5a3c" fill-opacity="0.85"/>
<circle cx="914.51" cy="836.51" r="2.6" fill="#bf5a3c" fill-opacity="0.85"/>
<circle cx="917.73" cy="838.51" r="2.6" fill="#bf5a3c" fill-opacity="0.85"/>
<circle cx="920.41" cy="834.98" r="2.6" fill="#bf5a3c" fill-opacity="0.85"/>
<circle cx="922.48" cy="834.6" r="2.6" fill="#bf5a3c" fill-opacity="0.85"/>
<circle cx="924.58" cy="837.43" r="2.6" fill="#bf5a3c" fill-opacity="0.85"/>
<circle cx="927.06" cy="834.52" r="2.6" fill="#bf5a3c" fill-opacity="0.85"/>
<circle cx="929.42" cy="841.64" r="2.6" fill="#bf5a3c" fill-opacity="0.85"/>
<circle cx="932.11" cy="838.41" r="2.6" fill="#bf5a3c" fill-opacity="0.85"/>
<circle cx="933.82" cy="836.6" r="2.6" fill="#bf5a3c" fill-opacity="0.85"/>
<circle cx="936.26" cy="831.52" r="2.6" fill="#bf5a3c" fill-opacity="0.85"/>
<circle cx="938.8" cy="834.8" r="2.6" fill="#bf5a3c" fill-opacity="0.85"/>
<circle cx="940.88" cy="835.12" r="2.6" fill="#bf5a3c" fill-opacity="0.85"/>
<circle cx="943.14" cy="837.03" r="2.6" fill="#bf5a3c" fill-opacity="0.85"/>
<circle cx="946.19" cy="837.18" r="2.6" fill="#bf5a3c" fill-opacity="0.85"/>
<circle cx="948.71" cy="840.83" r="2.6" fill="#bf5a3c" fill-opacity="0.85"/>
<circle cx="950.68" cy="841.84" r="2.6" fill="#bf5a3c" fill-opacity="0.85"/>
<circle cx="953.15" cy="836.14" r="2.6" fill="#bf5a3c" fill-opacity="0.85"/>
<circle cx="955.37" cy="835.59" r="2.6" fill="#bf5a3c" fill-opacity="0.85"/>
<circle cx="958.3" cy="837.79" r="2.6" fill="#bf5a3c" fill-opacity="0.85"/>
<circle cx="960.9" cy="842.22" r="2.6" fill="#bf5a3c" fill-opacity="0.85"/>
<circle cx="964.74" cy="834.43" r="2.6" fill="#bf5a3c" fill-opacity="0.85"/>
<circle cx="968.05" cy="836.66" r="2.6" fill="#bf5a3c" fill-opacity="0.85"/>
<circle cx="970.54" cy="840.07" r="2.6" fill="#bf5a3c" fill-opacity="0.85"/>
<circle cx="976.47" cy="832.37" r="2.6" fill="#bf5a3c" fill-opacity="0.85"/>
<circle cx="979.37" cy="834.13" r="2.6" fill="#bf5a3c" fill-opacity="0.85"/>
<circle cx="986.35" cy="842.01" r="2.6" fill="#bf5a3c" fill-opacity="0.85"/>
<circle cx="993.24" cy="840.19" r="2.6" fill="#bf5a3c" fill-opacity="0.85"/>
<circle cx="1004.09" cy="836.45" r="2.6" fill="#bf5a3c" fill-opacity="0.85"/>
<circle cx="1014.94" cy="831.65" r="2.6" fill="#bf5a3c" fill-opacity="0.85"/>
<line x1="894.34" y1="850.5" x2="905.12" y2="850.5" stroke="#000" stroke-width="1.3"/>
<line x1="894.34" y1="848.5" x2="894.34" y2="852.5" stroke="#000" stroke-width="1.3"/>
<line x1="905.12" y1="848.5" x2="905.12" y2="852.5" stroke="#000" stroke-width="1.3"/>
<circle cx="826.2" cy="845.73" r="2.6" fill="#6a9c69" fill-opacity="0.85"/>
<circle cx="838.21" cy="846.57" r="2.6" fill="#6a9c69" fill-opacity="0.85"/>
<circle cx="847.03" cy="850.77" r="2.6" fill="#6a9c69" fill-opacity="0.85"/>
<circle cx="853.54" cy="854.35" r="2.6" fill="#6a9c69" fill-opacity="0.85"/>
<circle cx="858.05" cy="851.85" r="2.6" fill="#6a9c69" fill-opacity="0.85"/>
<circle cx="861.09" cy="854.16" r="2.6" fill="#6a9c69" fill-opacity="0.85"/>
<circle cx="864.32" cy="845.28" r="2.6" fill="#6a9c69" fill-opacity="0.85"/>
<circle cx="868.07" cy="844.68" r="2.6" fill="#6a9c69" fill-opacity="0.85"/>
<circle cx="871.65" cy="853.73" r="2.6" fill="#6a9c69" fill-opacity="0.85"/>
<circle cx="874.58" cy="848.39" r="2.6" fill="#6a9c69" fill-opacity="0.85"/>
<circle cx="876.83" cy="853.07" r="2.6" fill="#6a9c69" fill-opacity="0.85"/>
<circle cx="879.49" cy="848.76" r="2.6" fill="#6a9c69" fill-opacity="0.85"/>
<circle cx="882.71" cy="846.56" r="2.6" fill="#6a9c69" fill-opacity="0.85"/>
<circle cx="885.11" cy="847.72" r="2.6" fill="#6a9c69" fill-opacity="0.85"/>
<circle cx="887.13" cy="845.72" r="2.6" fill="#6a9c69" fill-opacity="0.85"/>
<circle cx="890.34" cy="855.32" r="2.6" fill="#6a9c69" fill-opacity="0.85"/>
<circle cx="892.13" cy="851.48" r="2.6" fill="#6a9c69" fill-opacity="0.85"/>
<circle cx="893.57" cy="848.7" r="2.6" fill="#6a9c69" fill-opacity="0.85"/>
<circle cx="896.3" cy="849.9" r="2.6" fill="#6a9c69" fill-opacity="0.85"/>
<circle cx="899.01" cy="849.14" r="2.6" fill="#6a9c69" fill-opacity="0.85"/>
<circle cx="900.58" cy="845.19" r="2.6" fill="#6a9c69" fill-opacity="0.85"/>
<circle cx="903.3" cy="855.16" r="2.6" fill="#6a9c69" fill-opacity="0.85"/>
<circle cx="904.61" cy="851.49" r="2.6" fill="#6a9c69" fill-opacity="0.85"/>
<circle cx="907.25" cy="855.98" r="2.6" fill="#6a9c69" fill-opacity="0.85"/>
<circle cx="910.27" cy="849.78" r="2.6" fill="#6a9c69" fill-opacity="0.85"/>
<circle cx="912.24" cy="851.93" r="2.6" fill="#6a9c69" fill-opacity="0.85"/>
<circle cx="914.74" cy="847.51" r="2.6" fill="#6a9c69" fill-opacity="0.85"/>
<circle cx="916.49" cy="845.06" r="2.6" fill="#6a9c69" fill-opacity="0.85"/>
<circle cx="919.48" cy="855.64" r="2.6" fill="#6a9c69" fill-opacity="0.85"/>
<circle cx="922.21" cy="854.73" r="2.6" fill="#6a9c69" fill-opacity="0.85"/>
<circle cx="924.49" cy="848.29" r="2.6" fill="#6a9c69" fill-opacity="0.85"/>
<circle cx="928.1" cy="855.26" r="2.6" fill="#6a9c69" fill-opacity="0.85"/>
<circle cx="931.04" cy="854.27" r="2.6" fill="#6a9c69" fill-opacity="0.85"/>
<circle cx="935.48" cy="848.16" r="2.6" fill="#6a9c69" fill-opacity="0.85"/>
<circle cx="938.36" cy="851.72" r="2.6" fill="#6a9c69" fill-opacity="0.85"/>
<circle cx="942.22" cy="855.99" r="2.6" fill="#6a9c69" fill-opacity="0.85"/>
<circle cx="946.27" cy="850.45" r="2.6" fill="#6a9c69" fill-opacity="0.85"/>
<circle cx="952.34" cy="855.86" r="2.6" fill="#6a9c69" fill-opacity="0.85"/>
<circle cx="964.2" cy="847.43" r="2.6" fill="#6a9c69" fill-opacity="0.85"/>
<circle cx="976.2" cy="849.19" r="2.6" fill="#6a9c69" fill-opacity="0.85"/>
<line x1="929" y1="871.9" x2="943.79" y2="871.9" stroke="#000" stroke-width="1.3"/>
<line x1="929" y1="869.9" x2="929" y2="873.9" stroke="#000" stroke-width="1.3"/>
<line x1="943.79" y1="869.9" x2="943.79" y2="873.9" stroke="#000" stroke-width="1.3"/>
<circle cx="833.33" cy="870.43" r="2.6" fill="#bf5a3c" fill-opacity="0.85"/>
<circle cx="848.48" cy="877.37" r="2.6" fill="#bf5a3c" fill-opacity="0.85"/>
<circle cx="861.72" cy="868.42" r="2.6" fill="#bf5a3c" fill-opacity="0.85"/>
<circle cx="873.04" cy="877.28" r="2.6" fill="#bf5a3c" fill-opacity="0.85"/>
<circle cx="878.17" cy="871.96" r="2.6" fill="#bf5a3c" fill-opacity="0.85"/>
<circle cx="885.01" cy="868.65" r="2.6" fill="#bf5a3c" fill-opacity="0.85"/>
<circle cx="888.46" cy="871.34" r="2.6" fill="#bf5a3c" fill-opacity="0.85"/>
<circle cx="892.99" cy="867.5" r="2.6" fill="#bf5a3c" fill-opacity="0.85"/>
<circle cx="897.8" cy="874.36" r="2.6" fill="#bf5a3c" fill-opacity="0.85"/>
<circle cx="901.42" cy="869.05" r="2.6" fill="#bf5a3c" fill-opacity="0.85"/>
<circle cx="906.96" cy="876.67" r="2.6" fill="#bf5a3c" fill-opacity="0.85"/>
<circle cx="909.07" cy="872.94" r="2.6" fill="#bf5a3c" fill-opacity="0.85"/>
<circle cx="913.09" cy="870.33" r="2.6" fill="#bf5a3c" fill-opacity="0.85"/>
<circle cx="915.54" cy="868.87" r="2.6" fill="#bf5a3c" fill-opacity="0.85"/>
<circle cx="919.6" cy="873.19" r="2.6" fill="#bf5a3c" fill-opacity="0.85"/>
<circle cx="922.48" cy="868.47" r="2.6" fill="#bf5a3c" fill-opacity="0.85"/>
<circle cx="925.62" cy="876.34" r="2.6" fill="#bf5a3c" fill-opacity="0.85"/>
<circle cx="928.06" cy="867.4" r="2.6" fill="#bf5a3c" fill-opacity="0.85"/>
<circle cx="931.2" cy="872.06" r="2.6" fill="#bf5a3c" fill-opacity="0.85"/>
<circle cx="935.48" cy="872.41" r="2.6" fill="#bf5a3c" fill-opacity="0.85"/>
<circle cx="937.63" cy="869.16" r="2.6" fill="#bf5a3c" fill-opacity="0.85"/>
<circle cx="940.45" cy="875.14" r="2.6" fill="#bf5a3c" fill-opacity="0.85"/>
<circle cx="943.37" cy="870.53" r="2.6" fill="#bf5a3c" fill-opacity="0.85"/>
<circle cx="946.6" cy="873.78" r="2.6" fill="#bf5a3c" fill-opacity="0.85"/>
<circle cx="949.61" cy="872.71" r="2.6" fill="#bf5a3c" fill-opacity="0.85"/>
<circle cx="952.37" cy="869.64" r="2.6" fill="#bf5a3c" fill-opacity="0.85"/>
<circle cx="956.82" cy="870.59" r="2.6" fill="#bf5a3c" fill-opacity="0.85"/>
<circle cx="959.51" cy="866.96" r="2.6" fill="#bf5a3c" fill-opacity="0.85"/>
<circle cx="962.55" cy="868.05" r="2.6" fill="#bf5a3c" fill-opacity="0.85"/>
<circle cx="967.32" cy="876.09" r="2.6" fill="#bf5a3c" fill-opacity="0.85"/>
<circle cx="969.7" cy="869.77" r="2.6" fill="#bf5a3c" fill-opacity="0.85"/>
<circle cx="974.07" cy="873.84" r="2.6" fill="#bf5a3c" fill-opacity="0.85"/>
<circle cx="979.83" cy="867.24" r="2.6" fill="#bf5a3c" fill-opacity="0.85"/>
<circle cx="982.5" cy="872.64" r="2.6" fill="#bf5a3c" fill-opacity="0.85"/>
<circle cx="988.54" cy="870.25" r="2.6" fill="#bf5a3c" fill-opacity="0.85"/>
<circle cx="995.85" cy="871.9" r="2.6" fill="#bf5a3c" fill-opacity="0.85"/>
<circle cx="1002.82" cy="869.48" r="2.6" fill="#bf5a3c" fill-opacity="0.85"/>
<circle cx="1008.01" cy="866.72" r="2.6" fill="#bf5a3c" fill-opacity="0.85"/>
<circle cx="1020.48" cy="869.65" r="2.6" fill="#bf5a3c" fill-opacity="0.85"/>
<circle cx="1040.51" cy="868.64" r="2.6" fill="#bf5a3c" fill-opacity="0.85"/>
<line x1="883.4" y1="886.1" x2="897.91" y2="886.1" stroke="#000" stroke-width="1.3"/>
<line x1="883.4" y1="884.1" x2="883.4" y2="888.1" stroke="#000" stroke-width="1.3"/>
<line x1="897.91" y1="884.1" x2="897.91" y2="888.1" stroke="#000" stroke-width="1.3"/>
<circle cx="776.83" cy="885.32" r="2.6" fill="#6a9c69" fill-opacity="0.85"/>
<circle cx="810.14" cy="888.3" r="2.6" fill="#6a9c69" fill-opacity="0.85"/>
<circle cx="818.5" cy="884.3" r="2.6" fill="#6a9c69" fill-opacity="0.85"/>
<circle cx="827.55" cy="880.15" r="2.6" fill="#6a9c69" fill-opacity="0.85"/>
<circle cx="836.03" cy="890.09" r="2.6" fill="#6a9c69" fill-opacity="0.85"/>
<circle cx="841.06" cy="889.4" r="2.6" fill="#6a9c69" fill-opacity="0.85"/>
<circle cx="846.24" cy="883.55" r="2.6" fill="#6a9c69" fill-opacity="0.85"/>
<circle cx="850.58" cy="880.65" r="2.6" fill="#6a9c69" fill-opacity="0.85"/>
<circle cx="852.9" cy="890.32" r="2.6" fill="#6a9c69" fill-opacity="0.85"/>
<circle cx="857.14" cy="887.38" r="2.6" fill="#6a9c69" fill-opacity="0.85"/>
<circle cx="860.27" cy="880.7" r="2.6" fill="#6a9c69" fill-opacity="0.85"/>
<circle cx="865.11" cy="883.05" r="2.6" fill="#6a9c69" fill-opacity="0.85"/>
<circle cx="868.39" cy="881.46" r="2.6" fill="#6a9c69" fill-opacity="0.85"/>
<circle cx="871" cy="889.58" r="2.6" fill="#6a9c69" fill-opacity="0.85"/>
<circle cx="874.24" cy="882.64" r="2.6" fill="#6a9c69" fill-opacity="0.85"/>
<circle cx="877.73" cy="891.04" r="2.6" fill="#6a9c69" fill-opacity="0.85"/>
<circle cx="880.79" cy="889.08" r="2.6" fill="#6a9c69" fill-opacity="0.85"/>
<circle cx="882.94" cy="881.16" r="2.6" fill="#6a9c69" fill-opacity="0.85"/>
<circle cx="886.91" cy="888.42" r="2.6" fill="#6a9c69" fill-opacity="0.85"/>
<circle cx="888.95" cy="884.83" r="2.6" fill="#6a9c69" fill-opacity="0.85"/>
<circle cx="892.33" cy="889.05" r="2.6" fill="#6a9c69" fill-opacity="0.85"/>
<circle cx="894.45" cy="890.02" r="2.6" fill="#6a9c69" fill-opacity="0.85"/>
<circle cx="897.25" cy="883.49" r="2.6" fill="#6a9c69" fill-opacity="0.85"/>
<circle cx="901.61" cy="881.21" r="2.6" fill="#6a9c69" fill-opacity="0.85"/>
<circle cx="904.29" cy="891.42" r="2.6" fill="#6a9c69" fill-opacity="0.85"/>
<circle cx="907.31" cy="885.19" r="2.6" fill="#6a9c69" fill-opacity="0.85"/>
<circle cx="909.17" cy="891.23" r="2.6" fill="#6a9c69" fill-opacity="0.85"/>
<circle cx="912.35" cy="888.39" r="2.6" fill="#6a9c69" fill-opacity="0.85"/>
<circle cx="915.89" cy="888.95" r="2.6" fill="#6a9c69" fill-opacity="0.85"/>
<circle cx="919.4" cy="890.04" r="2.6" fill="#6a9c69" fill-opacity="0.85"/>
<circle cx="923.24" cy="887.63" r="2.6" fill="#6a9c69" fill-opacity="0.85"/>
<circle cx="927.25" cy="885.54" r="2.6" fill="#6a9c69" fill-opacity="0.85"/>
<circle cx="930.49" cy="880.78" r="2.6" fill="#6a9c69" fill-opacity="0.85"/>
<circle cx="935.62" cy="888.46" r="2.6" fill="#6a9c69" fill-opacity="0.85"/>
<circle cx="941.55" cy="885.25" r="2.6" fill="#6a9c69" fill-opacity="0.85"/>
<circle cx="945.59" cy="886.24" r="2.6" fill="#6a9c69" fill-opacity="0.85"/>
<circle cx="954.86" cy="891.21" r="2.6" fill="#6a9c69" fill-opacity="0.85"/>
<circle cx="961.96" cy="881.66" r="2.6" fill="#6a9c69" fill-opacity="0.85"/>
<circle cx="974.86" cy="889.22" r="2.6" fill="#6a9c69" fill-opacity="0.85"/>
<circle cx="991.24" cy="880.66" r="2.6" fill="#6a9c69" fill-opacity="0.85"/>
<line x1="1042.49" y1="907.5" x2="1047.28" y2="907.5" stroke="#000" stroke-width="1.3"/>
<line x1="1042.49" y1="905.5" x2="1042.49" y2="909.5" stroke="#000" stroke-width="1.3"/>
<line x1="1047.28" y1="905.5" x2="1047.28" y2="909.5" stroke="#000" stroke-width="1.3"/>
<circle cx="1011.17" cy="902.26" r="2.6" fill="#bf5a3c" fill-opacity="0.85"/>
<circle cx="1017.88" cy="904.89" r="2.6" fill="#bf5a3c" fill-opacity="0.85"/>
<circle cx="1020.43" cy="903.89" r="2.6" fill="#bf5a3c" fill-opacity="0.85"/>
<circle cx="1023.74" cy="909.9" r="2.6" fill="#bf5a3c" fill-opacity="0.85"/>
<circle cx="1026.47" cy="906.88" r="2.6" fill="#bf5a3c" fill-opacity="0.85"/>
<circle cx="1027.96" cy="902.88" r="2.6" fill="#bf5a3c" fill-opacity="0.85"/>
<circle cx="1029.53" cy="905.41" r="2.6" fill="#bf5a3c" fill-opacity="0.85"/>
<circle cx="1030.79" cy="907.13" r="2.6" fill="#bf5a3c" fill-opacity="0.85"/>
<circle cx="1032.05" cy="905.87" r="2.6" fill="#bf5a3c" fill-opacity="0.85"/>
<circle cx="1033.6" cy="903.54" r="2.6" fill="#bf5a3c" fill-opacity="0.85"/>
<circle cx="1034.88" cy="902.39" r="2.6" fill="#bf5a3c" fill-opacity="0.85"/>
<circle cx="1035.91" cy="901.66" r="2.6" fill="#bf5a3c" fill-opacity="0.85"/>
<circle cx="1037.11" cy="913.37" r="2.6" fill="#bf5a3c" fill-opacity="0.85"/>
<circle cx="1038.09" cy="910.49" r="2.6" fill="#bf5a3c" fill-opacity="0.85"/>
<circle cx="1039.51" cy="902.54" r="2.6" fill="#bf5a3c" fill-opacity="0.85"/>
<circle cx="1040.52" cy="910.09" r="2.6" fill="#bf5a3c" fill-opacity="0.85"/>
<circle cx="1041.27" cy="913.23" r="2.6" fill="#bf5a3c" fill-opacity="0.85"/>
<circle cx="1042.27" cy="908.26" r="2.6" fill="#bf5a3c" fill-opacity="0.85"/>
<circle cx="1043.42" cy="902.83" r="2.6" fill="#bf5a3c" fill-opacity="0.85"/>
<circle cx="1044.36" cy="907.37" r="2.6" fill="#bf5a3c" fill-opacity="0.85"/>
<circle cx="1045.63" cy="906.72" r="2.6" fill="#bf5a3c" fill-opacity="0.85"/>
<circle cx="1046.27" cy="903.8" r="2.6" fill="#bf5a3c" fill-opacity="0.85"/>
<circle cx="1047.22" cy="908.01" r="2.6" fill="#bf5a3c" fill-opacity="0.85"/>
<circle cx="1048.57" cy="901.64" r="2.6" fill="#bf5a3c" fill-opacity="0.85"/>
<circle cx="1049.13" cy="912.5" r="2.6" fill="#bf5a3c" fill-opacity="0.85"/>
<circle cx="1050.42" cy="909.22" r="2.6" fill="#bf5a3c" fill-opacity="0.85"/>
<circle cx="1051.33" cy="909.02" r="2.6" fill="#bf5a3c" fill-opacity="0.85"/>
<circle cx="1052.73" cy="912.69" r="2.6" fill="#bf5a3c" fill-opacity="0.85"/>
<circle cx="1053.68" cy="909.32" r="2.6" fill="#bf5a3c" fill-opacity="0.85"/>
<circle cx="1055.01" cy="904.53" r="2.6" fill="#bf5a3c" fill-opacity="0.85"/>
<circle cx="1055.8" cy="904.47" r="2.6" fill="#bf5a3c" fill-opacity="0.85"/>
<circle cx="1057.49" cy="903.19" r="2.6" fill="#bf5a3c" fill-opacity="0.85"/>
<circle cx="1058.84" cy="901.87" r="2.6" fill="#bf5a3c" fill-opacity="0.85"/>
<circle cx="1060.23" cy="910.77" r="2.6" fill="#bf5a3c" fill-opacity="0.85"/>
<circle cx="1062.24" cy="911.55" r="2.6" fill="#bf5a3c" fill-opacity="0.85"/>
<circle cx="1064.27" cy="905.07" r="2.6" fill="#bf5a3c" fill-opacity="0.85"/>
<circle cx="1065.53" cy="903.75" r="2.6" fill="#bf5a3c" fill-opacity="0.85"/>
<circle cx="1068.47" cy="909.15" r="2.6" fill="#bf5a3c" fill-opacity="0.85"/>
<circle cx="1072.33" cy="911.62" r="2.6" fill="#bf5a3c" fill-opacity="0.85"/>
<circle cx="1077.75" cy="912.59" r="2.6" fill="#bf5a3c" fill-opacity="0.85"/>
<line x1="1022.46" y1="921.7" x2="1027.99" y2="921.7" stroke="#000" stroke-width="1.3"/>
<line x1="1022.46" y1="919.7" x2="1022.46" y2="923.7" stroke="#000" stroke-width="1.3"/>
<line x1="1027.99" y1="919.7" x2="1027.99" y2="923.7" stroke="#000" stroke-width="1.3"/>
<circle cx="982.2" cy="919.11" r="2.6" fill="#6a9c69" fill-opacity="0.85"/>
<circle cx="994.6" cy="923.63" r="2.6" fill="#6a9c69" fill-opacity="0.85"/>
<circle cx="998.77" cy="921.87" r="2.6" fill="#6a9c69" fill-opacity="0.85"/>
<circle cx="1001.62" cy="920.76" r="2.6" fill="#6a9c69" fill-opacity="0.85"/>
<circle cx="1003.51" cy="919.78" r="2.6" fill="#6a9c69" fill-opacity="0.85"/>
<circle cx="1005.52" cy="920.97" r="2.6" fill="#6a9c69" fill-opacity="0.85"/>
<circle cx="1008.16" cy="923.68" r="2.6" fill="#6a9c69" fill-opacity="0.85"/>
<circle cx="1009.35" cy="925.59" r="2.6" fill="#6a9c69" fill-opacity="0.85"/>
<circle cx="1010.99" cy="926.52" r="2.6" fill="#6a9c69" fill-opacity="0.85"/>
<circle cx="1012.63" cy="917.7" r="2.6" fill="#6a9c69" fill-opacity="0.85"/>
<circle cx="1013.87" cy="919.26" r="2.6" fill="#6a9c69" fill-opacity="0.85"/>
<circle cx="1015.56" cy="921.02" r="2.6" fill="#6a9c69" fill-opacity="0.85"/>
<circle cx="1016.38" cy="922.46" r="2.6" fill="#6a9c69" fill-opacity="0.85"/>
<circle cx="1017.47" cy="919.89" r="2.6" fill="#6a9c69" fill-opacity="0.85"/>
<circle cx="1019.05" cy="918.07" r="2.6" fill="#6a9c69" fill-opacity="0.85"/>
<circle cx="1020.26" cy="916.75" r="2.6" fill="#6a9c69" fill-opacity="0.85"/>
<circle cx="1021.53" cy="919.6" r="2.6" fill="#6a9c69" fill-opacity="0.85"/>
<circle cx="1022.58" cy="921.23" r="2.6" fill="#6a9c69" fill-opacity="0.85"/>
<circle cx="1023.83" cy="927.32" r="2.6" fill="#6a9c69" fill-opacity="0.85"/>
<circle cx="1024.97" cy="926.58" r="2.6" fill="#6a9c69" fill-opacity="0.85"/>
<circle cx="1025.78" cy="926.06" r="2.6" fill="#6a9c69" fill-opacity="0.85"/>
<circle cx="1026.89" cy="927.36" r="2.6" fill="#6a9c69" fill-opacity="0.85"/>
<circle cx="1027.78" cy="927.21" r="2.6" fill="#6a9c69" fill-opacity="0.85"/>
<circle cx="1029" cy="923.13" r="2.6" fill="#6a9c69" fill-opacity="0.85"/>
<circle cx="1030.34" cy="925.41" r="2.6" fill="#6a9c69" fill-opacity="0.85"/>
<circle cx="1031.16" cy="916.45" r="2.6" fill="#6a9c69" fill-opacity="0.85"/>
<circle cx="1032.78" cy="923.8" r="2.6" fill="#6a9c69" fill-opacity="0.85"/>
<circle cx="1033.62" cy="923" r="2.6" fill="#6a9c69" fill-opacity="0.85"/>
<circle cx="1035.1" cy="919.28" r="2.6" fill="#6a9c69" fill-opacity="0.85"/>
<circle cx="1036.86" cy="922.55" r="2.6" fill="#6a9c69" fill-opacity="0.85"/>
<circle cx="1037.52" cy="927.1" r="2.6" fill="#6a9c69" fill-opacity="0.85"/>
<circle cx="1038.93" cy="921.47" r="2.6" fill="#6a9c69" fill-opacity="0.85"/>
<circle cx="1040.87" cy="923.46" r="2.6" fill="#6a9c69" fill-opacity="0.85"/>
<circle cx="1042.31" cy="919.31" r="2.6" fill="#6a9c69" fill-opacity="0.85"/>
<circle cx="1044.82" cy="919.83" r="2.6" fill="#6a9c69" fill-opacity="0.85"/>
<circle cx="1046.02" cy="926.29" r="2.6" fill="#6a9c69" fill-opacity="0.85"/>
<circle cx="1049.81" cy="916.07" r="2.6" fill="#6a9c69" fill-opacity="0.85"/>
<circle cx="1053.17" cy="917.99" r="2.6" fill="#6a9c69" fill-opacity="0.85"/>
<circle cx="1057.71" cy="923.83" r="2.6" fill="#6a9c69" fill-opacity="0.85"/>
<circle cx="1062.7" cy="921.07" r="2.6" fill="#6a9c69" fill-opacity="0.85"/>
<line x1="1137.75" y1="943.1" x2="1139.51" y2="943.1" stroke="#000" stroke-width="1.3"/>
<line x1="1137.75" y1="941.1" x2="1137.75" y2="945.1" stroke="#000" stroke-width="1.3"/>
<line x1="1139.51" y1="941.1" x2="1139.51" y2="945.1" stroke="#000" stroke-width="1.3"/>
<circle cx="1124.47" cy="948.59" r="2.6" fill="#bf5a3c" fill-opacity="0.85"/>
<circle cx="1128.69" cy="943.85" r="2.6" fill="#bf5a3c" fill-opacity="0.85"/>
<circle cx="1129.84" cy="946.38" r="2.6" fill="#bf5a3c" fill-opacity="0.85"/>
<circle cx="1130.98" cy="938.77" r="2.6" fill="#bf5a3c" fill-opacity="0.85"/>
<circle cx="1131.71" cy="946.39" r="2.6" fill="#bf5a3c" fill-opacity="0.85"/>
<circle cx="1132.45" cy="937.82" r="2.6" fill="#bf5a3c" fill-opacity="0.85"/>
<circle cx="1133.07" cy="939.96" r="2.6" fill="#bf5a3c" fill-opacity="0.85"/>
<circle cx="1133.56" cy="941.58" r="2.6" fill="#bf5a3c" fill-opacity="0.85"/>
<circle cx="1133.99" cy="937.32" r="2.6" fill="#bf5a3c" fill-opacity="0.85"/>
<circle cx="1134.49" cy="944.22" r="2.6" fill="#bf5a3c" fill-opacity="0.85"/>
<circle cx="1135.12" cy="939.68" r="2.6" fill="#bf5a3c" fill-opacity="0.85"/>
<circle cx="1135.46" cy="940.71" r="2.6" fill="#bf5a3c" fill-opacity="0.85"/>
<circle cx="1135.76" cy="945.57" r="2.6" fill="#bf5a3c" fill-opacity="0.85"/>
<circle cx="1136.33" cy="942.22" r="2.6" fill="#bf5a3c" fill-opacity="0.85"/>
<circle cx="1136.58" cy="947.74" r="2.6" fill="#bf5a3c" fill-opacity="0.85"/>
<circle cx="1136.92" cy="944.55" r="2.6" fill="#bf5a3c" fill-opacity="0.85"/>
<circle cx="1137.38" cy="947.54" r="2.6" fill="#bf5a3c" fill-opacity="0.85"/>
<circle cx="1137.68" cy="943.85" r="2.6" fill="#bf5a3c" fill-opacity="0.85"/>
<circle cx="1138.09" cy="948.08" r="2.6" fill="#bf5a3c" fill-opacity="0.85"/>
<circle cx="1138.46" cy="947.52" r="2.6" fill="#bf5a3c" fill-opacity="0.85"/>
<circle cx="1138.75" cy="939.14" r="2.6" fill="#bf5a3c" fill-opacity="0.85"/>
<circle cx="1139.18" cy="946.03" r="2.6" fill="#bf5a3c" fill-opacity="0.85"/>
<circle cx="1139.43" cy="941.21" r="2.6" fill="#bf5a3c" fill-opacity="0.85"/>
<circle cx="1139.88" cy="946.24" r="2.6" fill="#bf5a3c" fill-opacity="0.85"/>
<circle cx="1140.27" cy="945.25" r="2.6" fill="#bf5a3c" fill-opacity="0.85"/>
<circle cx="1140.53" cy="946.98" r="2.6" fill="#bf5a3c" fill-opacity="0.85"/>
<circle cx="1140.98" cy="938.6" r="2.6" fill="#bf5a3c" fill-opacity="0.85"/>
<circle cx="1141.3" cy="941.59" r="2.6" fill="#bf5a3c" fill-opacity="0.85"/>
<circle cx="1141.79" cy="945.93" r="2.6" fill="#bf5a3c" fill-opacity="0.85"/>
<circle cx="1142.33" cy="948.44" r="2.6" fill="#bf5a3c" fill-opacity="0.85"/>
<circle cx="1142.69" cy="945.75" r="2.6" fill="#bf5a3c" fill-opacity="0.85"/>
<circle cx="1143.21" cy="937.65" r="2.6" fill="#bf5a3c" fill-opacity="0.85"/>
<circle cx="1143.74" cy="944.34" r="2.6" fill="#bf5a3c" fill-opacity="0.85"/>
<circle cx="1144.07" cy="938.32" r="2.6" fill="#bf5a3c" fill-opacity="0.85"/>
<circle cx="1145.01" cy="943.68" r="2.6" fill="#bf5a3c" fill-opacity="0.85"/>
<circle cx="1145.61" cy="946.71" r="2.6" fill="#bf5a3c" fill-opacity="0.85"/>
<circle cx="1146.11" cy="938.48" r="2.6" fill="#bf5a3c" fill-opacity="0.85"/>
<circle cx="1147.56" cy="948.17" r="2.6" fill="#bf5a3c" fill-opacity="0.85"/>
<circle cx="1148.61" cy="945.19" r="2.6" fill="#bf5a3c" fill-opacity="0.85"/>
<circle cx="1149.21" cy="940.17" r="2.6" fill="#bf5a3c" fill-opacity="0.85"/>
<line x1="1131.14" y1="957.3" x2="1133.26" y2="957.3" stroke="#000" stroke-width="1.3"/>
<line x1="1131.14" y1="955.3" x2="1131.14" y2="959.3" stroke="#000" stroke-width="1.3"/>
<line x1="1133.26" y1="955.3" x2="1133.26" y2="959.3" stroke="#000" stroke-width="1.3"/>
<circle cx="1115.61" cy="958.36" r="2.6" fill="#6a9c69" fill-opacity="0.85"/>
<circle cx="1119.9" cy="951.86" r="2.6" fill="#6a9c69" fill-opacity="0.85"/>
<circle cx="1121.93" cy="953.36" r="2.6" fill="#6a9c69" fill-opacity="0.85"/>
<circle cx="1122.93" cy="955.64" r="2.6" fill="#6a9c69" fill-opacity="0.85"/>
<circle cx="1123.65" cy="956.92" r="2.6" fill="#6a9c69" fill-opacity="0.85"/>
<circle cx="1124.47" cy="958.22" r="2.6" fill="#6a9c69" fill-opacity="0.85"/>
<circle cx="1125.27" cy="955.96" r="2.6" fill="#6a9c69" fill-opacity="0.85"/>
<circle cx="1126.22" cy="955.55" r="2.6" fill="#6a9c69" fill-opacity="0.85"/>
<circle cx="1126.6" cy="951.41" r="2.6" fill="#6a9c69" fill-opacity="0.85"/>
<circle cx="1127.31" cy="958.24" r="2.6" fill="#6a9c69" fill-opacity="0.85"/>
<circle cx="1127.76" cy="955.32" r="2.6" fill="#6a9c69" fill-opacity="0.85"/>
<circle cx="1128.4" cy="951.58" r="2.6" fill="#6a9c69" fill-opacity="0.85"/>
<circle cx="1128.81" cy="956.82" r="2.6" fill="#6a9c69" fill-opacity="0.85"/>
<circle cx="1129.22" cy="963.1" r="2.6" fill="#6a9c69" fill-opacity="0.85"/>
<circle cx="1129.89" cy="951.88" r="2.6" fill="#6a9c69" fill-opacity="0.85"/>
<circle cx="1130.25" cy="953.08" r="2.6" fill="#6a9c69" fill-opacity="0.85"/>
<circle cx="1130.73" cy="959.34" r="2.6" fill="#6a9c69" fill-opacity="0.85"/>
<circle cx="1131.2" cy="954.59" r="2.6" fill="#6a9c69" fill-opacity="0.85"/>
<circle cx="1131.67" cy="954.6" r="2.6" fill="#6a9c69" fill-opacity="0.85"/>
<circle cx="1131.86" cy="957.3" r="2.6" fill="#6a9c69" fill-opacity="0.85"/>
<circle cx="1132.37" cy="954.46" r="2.6" fill="#6a9c69" fill-opacity="0.85"/>
<circle cx="1132.76" cy="958.12" r="2.6" fill="#6a9c69" fill-opacity="0.85"/>
<circle cx="1133.28" cy="957.64" r="2.6" fill="#6a9c69" fill-opacity="0.85"/>
<circle cx="1133.82" cy="962.75" r="2.6" fill="#6a9c69" fill-opacity="0.85"/>
<circle cx="1134.25" cy="963.17" r="2.6" fill="#6a9c69" fill-opacity="0.85"/>
<circle cx="1134.49" cy="951.74" r="2.6" fill="#6a9c69" fill-opacity="0.85"/>
<circle cx="1134.99" cy="958.02" r="2.6" fill="#6a9c69" fill-opacity="0.85"/>
<circle cx="1135.65" cy="960.53" r="2.6" fill="#6a9c69" fill-opacity="0.85"/>
<circle cx="1136.11" cy="961.74" r="2.6" fill="#6a9c69" fill-opacity="0.85"/>
<circle cx="1136.53" cy="960.57" r="2.6" fill="#6a9c69" fill-opacity="0.85"/>
<circle cx="1137.1" cy="958.89" r="2.6" fill="#6a9c69" fill-opacity="0.85"/>
<circle cx="1137.56" cy="958.91" r="2.6" fill="#6a9c69" fill-opacity="0.85"/>
<circle cx="1138.43" cy="955.66" r="2.6" fill="#6a9c69" fill-opacity="0.85"/>
<circle cx="1138.92" cy="954.69" r="2.6" fill="#6a9c69" fill-opacity="0.85"/>
<circle cx="1139.88" cy="960.82" r="2.6" fill="#6a9c69" fill-opacity="0.85"/>
<circle cx="1140.6" cy="961.75" r="2.6" fill="#6a9c69" fill-opacity="0.85"/>
<circle cx="1141.25" cy="962.53" r="2.6" fill="#6a9c69" fill-opacity="0.85"/>
<circle cx="1142.6" cy="959.46" r="2.6" fill="#6a9c69" fill-opacity="0.85"/>
<circle cx="1144.09" cy="954.96" r="2.6" fill="#6a9c69" fill-opacity="0.85"/>
<circle cx="1145.45" cy="960.44" r="2.6" fill="#6a9c69" fill-opacity="0.85"/>
<line x1="955.96" y1="978.7" x2="970.51" y2="978.7" stroke="#000" stroke-width="1.3"/>
<line x1="955.96" y1="976.7" x2="955.96" y2="980.7" stroke="#000" stroke-width="1.3"/>
<line x1="970.51" y1="976.7" x2="970.51" y2="980.7" stroke="#000" stroke-width="1.3"/>
<circle cx="862.39" cy="973.54" r="2.6" fill="#bf5a3c" fill-opacity="0.85"/>
<circle cx="879.49" cy="978.52" r="2.6" fill="#bf5a3c" fill-opacity="0.85"/>
<circle cx="891.78" cy="983.46" r="2.6" fill="#bf5a3c" fill-opacity="0.85"/>
<circle cx="898.71" cy="976.03" r="2.6" fill="#bf5a3c" fill-opacity="0.85"/>
<circle cx="906.3" cy="975.81" r="2.6" fill="#bf5a3c" fill-opacity="0.85"/>
<circle cx="911.54" cy="973.01" r="2.6" fill="#bf5a3c" fill-opacity="0.85"/>
<circle cx="915.62" cy="974.7" r="2.6" fill="#bf5a3c" fill-opacity="0.85"/>
<circle cx="921.04" cy="975.93" r="2.6" fill="#bf5a3c" fill-opacity="0.85"/>
<circle cx="925.24" cy="981.14" r="2.6" fill="#bf5a3c" fill-opacity="0.85"/>
<circle cx="930.71" cy="975.34" r="2.6" fill="#bf5a3c" fill-opacity="0.85"/>
<circle cx="933.27" cy="977.5" r="2.6" fill="#bf5a3c" fill-opacity="0.85"/>
<circle cx="936.56" cy="975.13" r="2.6" fill="#bf5a3c" fill-opacity="0.85"/>
<circle cx="939.71" cy="979.93" r="2.6" fill="#bf5a3c" fill-opacity="0.85"/>
<circle cx="942.98" cy="983.04" r="2.6" fill="#bf5a3c" fill-opacity="0.85"/>
<circle cx="946.39" cy="980.47" r="2.6" fill="#bf5a3c" fill-opacity="0.85"/>
<circle cx="949.1" cy="975.08" r="2.6" fill="#bf5a3c" fill-opacity="0.85"/>
<circle cx="951.93" cy="981.49" r="2.6" fill="#bf5a3c" fill-opacity="0.85"/>
<circle cx="956.49" cy="984.22" r="2.6" fill="#bf5a3c" fill-opacity="0.85"/>
<circle cx="958.72" cy="979.9" r="2.6" fill="#bf5a3c" fill-opacity="0.85"/>
<circle cx="961.66" cy="973.68" r="2.6" fill="#bf5a3c" fill-opacity="0.85"/>
<circle cx="964.83" cy="982.39" r="2.6" fill="#bf5a3c" fill-opacity="0.85"/>
<circle cx="967.31" cy="983.18" r="2.6" fill="#bf5a3c" fill-opacity="0.85"/>
<circle cx="970.05" cy="976.81" r="2.6" fill="#bf5a3c" fill-opacity="0.85"/>
<circle cx="972.86" cy="974.37" r="2.6" fill="#bf5a3c" fill-opacity="0.85"/>
<circle cx="976.33" cy="974.98" r="2.6" fill="#bf5a3c" fill-opacity="0.85"/>
<circle cx="979.44" cy="979.14" r="2.6" fill="#bf5a3c" fill-opacity="0.85"/>
<circle cx="983.41" cy="983.18" r="2.6" fill="#bf5a3c" fill-opacity="0.85"/>
<circle cx="986.35" cy="980.37" r="2.6" fill="#bf5a3c" fill-opacity="0.85"/>
<circle cx="990.54" cy="983.74" r="2.6" fill="#bf5a3c" fill-opacity="0.85"/>
<circle cx="992.81" cy="975.27" r="2.6" fill="#bf5a3c" fill-opacity="0.85"/>
<circle cx="997.83" cy="976.63" r="2.6" fill="#bf5a3c" fill-opacity="0.85"/>
<circle cx="1001" cy="981.67" r="2.6" fill="#bf5a3c" fill-opacity="0.85"/>
<circle cx="1003.91" cy="980.48" r="2.6" fill="#bf5a3c" fill-opacity="0.85"/>
<circle cx="1008.66" cy="977.57" r="2.6" fill="#bf5a3c" fill-opacity="0.85"/>
<circle cx="1014.88" cy="980.83" r="2.6" fill="#bf5a3c" fill-opacity="0.85"/>
<circle cx="1022.2" cy="976.76" r="2.6" fill="#bf5a3c" fill-opacity="0.85"/>
<circle cx="1026.46" cy="973.42" r="2.6" fill="#bf5a3c" fill-opacity="0.85"/>
<circle cx="1037.08" cy="977.68" r="2.6" fill="#bf5a3c" fill-opacity="0.85"/>
<circle cx="1046.44" cy="973.28" r="2.6" fill="#bf5a3c" fill-opacity="0.85"/>
<circle cx="1065.34" cy="980.21" r="2.6" fill="#bf5a3c" fill-opacity="0.85"/>
<line x1="917.32" y1="992.9" x2="928.25" y2="992.9" stroke="#000" stroke-width="1.3"/>
<line x1="917.32" y1="990.9" x2="917.32" y2="994.9" stroke="#000" stroke-width="1.3"/>
<line x1="928.25" y1="990.9" x2="928.25" y2="994.9" stroke="#000" stroke-width="1.3"/>
<circle cx="841.27" cy="992.61" r="2.6" fill="#6a9c69" fill-opacity="0.85"/>
<circle cx="860.34" cy="994.75" r="2.6" fill="#6a9c69" fill-opacity="0.85"/>
<circle cx="869.43" cy="996.17" r="2.6" fill="#6a9c69" fill-opacity="0.85"/>
<circle cx="874.43" cy="991.26" r="2.6" fill="#6a9c69" fill-opacity="0.85"/>
<circle cx="880.16" cy="998.74" r="2.6" fill="#6a9c69" fill-opacity="0.85"/>
<circle cx="883.34" cy="989.66" r="2.6" fill="#6a9c69" fill-opacity="0.85"/>
<circle cx="889.19" cy="995.96" r="2.6" fill="#6a9c69" fill-opacity="0.85"/>
<circle cx="891.82" cy="988.01" r="2.6" fill="#6a9c69" fill-opacity="0.85"/>
<circle cx="895.7" cy="987.27" r="2.6" fill="#6a9c69" fill-opacity="0.85"/>
<circle cx="896.99" cy="988.54" r="2.6" fill="#6a9c69" fill-opacity="0.85"/>
<circle cx="900.69" cy="987.65" r="2.6" fill="#6a9c69" fill-opacity="0.85"/>
<circle cx="903.48" cy="992.92" r="2.6" fill="#6a9c69" fill-opacity="0.85"/>
<circle cx="905.4" cy="993.56" r="2.6" fill="#6a9c69" fill-opacity="0.85"/>
<circle cx="907.5" cy="989.1" r="2.6" fill="#6a9c69" fill-opacity="0.85"/>
<circle cx="909.97" cy="998.15" r="2.6" fill="#6a9c69" fill-opacity="0.85"/>
<circle cx="912.28" cy="991.3" r="2.6" fill="#6a9c69" fill-opacity="0.85"/>
<circle cx="915.4" cy="988.72" r="2.6" fill="#6a9c69" fill-opacity="0.85"/>
<circle cx="916.73" cy="989.05" r="2.6" fill="#6a9c69" fill-opacity="0.85"/>
<circle cx="919.9" cy="995.74" r="2.6" fill="#6a9c69" fill-opacity="0.85"/>
<circle cx="921.59" cy="997.93" r="2.6" fill="#6a9c69" fill-opacity="0.85"/>
<circle cx="923.94" cy="988.87" r="2.6" fill="#6a9c69" fill-opacity="0.85"/>
<circle cx="926.2" cy="987.28" r="2.6" fill="#6a9c69" fill-opacity="0.85"/>
<circle cx="928.38" cy="996.22" r="2.6" fill="#6a9c69" fill-opacity="0.85"/>
<circle cx="930.75" cy="989.83" r="2.6" fill="#6a9c69" fill-opacity="0.85"/>
<circle cx="932.95" cy="998.65" r="2.6" fill="#6a9c69" fill-opacity="0.85"/>
<circle cx="934.88" cy="992.89" r="2.6" fill="#6a9c69" fill-opacity="0.85"/>
<circle cx="937.83" cy="994.52" r="2.6" fill="#6a9c69" fill-opacity="0.85"/>
<circle cx="939.56" cy="991.04" r="2.6" fill="#6a9c69" fill-opacity="0.85"/>
<circle cx="942.77" cy="996.48" r="2.6" fill="#6a9c69" fill-opacity="0.85"/>
<circle cx="945.49" cy="992.42" r="2.6" fill="#6a9c69" fill-opacity="0.85"/>
<circle cx="948.3" cy="990.8" r="2.6" fill="#6a9c69" fill-opacity="0.85"/>
<circle cx="950.41" cy="997.71" r="2.6" fill="#6a9c69" fill-opacity="0.85"/>
<circle cx="954.42" cy="988.22" r="2.6" fill="#6a9c69" fill-opacity="0.85"/>
<circle cx="958.32" cy="995.68" r="2.6" fill="#6a9c69" fill-opacity="0.85"/>
<circle cx="960.94" cy="987.72" r="2.6" fill="#6a9c69" fill-opacity="0.85"/>
<circle cx="964.71" cy="994.64" r="2.6" fill="#6a9c69" fill-opacity="0.85"/>
<circle cx="970.41" cy="991.73" r="2.6" fill="#6a9c69" fill-opacity="0.85"/>
<circle cx="978.53" cy="997.24" r="2.6" fill="#6a9c69" fill-opacity="0.85"/>
<circle cx="982.96" cy="987.65" r="2.6" fill="#6a9c69" fill-opacity="0.85"/>
<circle cx="998.77" cy="993.67" r="2.6" fill="#6a9c69" fill-opacity="0.85"/>
<line x1="1057.59" y1="1014.3" x2="1063.93" y2="1014.3" stroke="#000" stroke-width="1.3"/>
<line x1="1057.59" y1="1012.3" x2="1057.59" y2="1016.3" stroke="#000" stroke-width="1.3"/>
<line x1="1063.93" y1="1012.3" x2="1063.93" y2="1016.3" stroke="#000" stroke-width="1.3"/>
<circle cx="1014.03" cy="1011.89" r="2.6" fill="#bf5a3c" fill-opacity="0.85"/>
<circle cx="1025.83" cy="1008.63" r="2.6" fill="#bf5a3c" fill-opacity="0.85"/>
<circle cx="1030.46" cy="1009.67" r="2.6" fill="#bf5a3c" fill-opacity="0.85"/>
<circle cx="1033.27" cy="1019.96" r="2.6" fill="#bf5a3c" fill-opacity="0.85"/>
<circle cx="1035.5" cy="1008.45" r="2.6" fill="#bf5a3c" fill-opacity="0.85"/>
<circle cx="1038.09" cy="1019.21" r="2.6" fill="#bf5a3c" fill-opacity="0.85"/>
<circle cx="1040.34" cy="1010.13" r="2.6" fill="#bf5a3c" fill-opacity="0.85"/>
<circle cx="1042.54" cy="1017.12" r="2.6" fill="#bf5a3c" fill-opacity="0.85"/>
<circle cx="1044.16" cy="1009.5" r="2.6" fill="#bf5a3c" fill-opacity="0.85"/>
<circle cx="1045.86" cy="1010.35" r="2.6" fill="#bf5a3c" fill-opacity="0.85"/>
<circle cx="1048" cy="1016.48" r="2.6" fill="#bf5a3c" fill-opacity="0.85"/>
<circle cx="1049.42" cy="1009.41" r="2.6" fill="#bf5a3c" fill-opacity="0.85"/>
<circle cx="1050.59" cy="1012.39" r="2.6" fill="#bf5a3c" fill-opacity="0.85"/>
<circle cx="1052.6" cy="1019.29" r="2.6" fill="#bf5a3c" fill-opacity="0.85"/>
<circle cx="1053.33" cy="1016.88" r="2.6" fill="#bf5a3c" fill-opacity="0.85"/>
<circle cx="1054.97" cy="1018.86" r="2.6" fill="#bf5a3c" fill-opacity="0.85"/>
<circle cx="1055.97" cy="1020.02" r="2.6" fill="#bf5a3c" fill-opacity="0.85"/>
<circle cx="1057.82" cy="1008.73" r="2.6" fill="#bf5a3c" fill-opacity="0.85"/>
<circle cx="1059.12" cy="1011.13" r="2.6" fill="#bf5a3c" fill-opacity="0.85"/>
<circle cx="1059.94" cy="1017.78" r="2.6" fill="#bf5a3c" fill-opacity="0.85"/>
<circle cx="1061.59" cy="1016.56" r="2.6" fill="#bf5a3c" fill-opacity="0.85"/>
<circle cx="1062.93" cy="1008.79" r="2.6" fill="#bf5a3c" fill-opacity="0.85"/>
<circle cx="1063.81" cy="1014.36" r="2.6" fill="#bf5a3c" fill-opacity="0.85"/>
<circle cx="1065.15" cy="1011.1" r="2.6" fill="#bf5a3c" fill-opacity="0.85"/>
<circle cx="1066.59" cy="1013.47" r="2.6" fill="#bf5a3c" fill-opacity="0.85"/>
<circle cx="1068.27" cy="1009.59" r="2.6" fill="#bf5a3c" fill-opacity="0.85"/>
<circle cx="1069.05" cy="1008.57" r="2.6" fill="#bf5a3c" fill-opacity="0.85"/>
<circle cx="1070.91" cy="1020.15" r="2.6" fill="#bf5a3c" fill-opacity="0.85"/>
<circle cx="1072.31" cy="1012.11" r="2.6" fill="#bf5a3c" fill-opacity="0.85"/>
<circle cx="1073.71" cy="1018.82" r="2.6" fill="#bf5a3c" fill-opacity="0.85"/>
<circle cx="1075.44" cy="1009.77" r="2.6" fill="#bf5a3c" fill-opacity="0.85"/>
<circle cx="1077.48" cy="1014.15" r="2.6" fill="#bf5a3c" fill-opacity="0.85"/>
<circle cx="1078.57" cy="1009.96" r="2.6" fill="#bf5a3c" fill-opacity="0.85"/>
<circle cx="1081.37" cy="1013.45" r="2.6" fill="#bf5a3c" fill-opacity="0.85"/>
<circle cx="1082.88" cy="1010.47" r="2.6" fill="#bf5a3c" fill-opacity="0.85"/>
<circle cx="1086.02" cy="1016.51" r="2.6" fill="#bf5a3c" fill-opacity="0.85"/>
<circle cx="1089.21" cy="1010.1" r="2.6" fill="#bf5a3c" fill-opacity="0.85"/>
<circle cx="1091.36" cy="1017.14" r="2.6" fill="#bf5a3c" fill-opacity="0.85"/>
<circle cx="1098.62" cy="1014.31" r="2.6" fill="#bf5a3c" fill-opacity="0.85"/>
<circle cx="1104.08" cy="1009.68" r="2.6" fill="#bf5a3c" fill-opacity="0.85"/>
<line x1="1035.59" y1="1028.5" x2="1042.84" y2="1028.5" stroke="#000" stroke-width="1.3"/>
<line x1="1035.59" y1="1026.5" x2="1035.59" y2="1030.5" stroke="#000" stroke-width="1.3"/>
<line x1="1042.84" y1="1026.5" x2="1042.84" y2="1030.5" stroke="#000" stroke-width="1.3"/>
<circle cx="985.11" cy="1027.03" r="2.6" fill="#6a9c69" fill-opacity="0.85"/>
<circle cx="997.59" cy="1025.41" r="2.6" fill="#6a9c69" fill-opacity="0.85"/>
<circle cx="1004.51" cy="1024.9" r="2.6" fill="#6a9c69" fill-opacity="0.85"/>
<circle cx="1007.18" cy="1023.92" r="2.6" fill="#6a9c69" fill-opacity="0.85"/>
<circle cx="1010.33" cy="1032.59" r="2.6" fill="#6a9c69" fill-opacity="0.85"/>
<circle cx="1014.44" cy="1031.89" r="2.6" fill="#6a9c69" fill-opacity="0.85"/>
<circle cx="1016.75" cy="1033.37" r="2.6" fill="#6a9c69" fill-opacity="0.85"/>
<circle cx="1018.78" cy="1023.13" r="2.6" fill="#6a9c69" fill-opacity="0.85"/>
<circle cx="1020.29" cy="1030.82" r="2.6" fill="#6a9c69" fill-opacity="0.85"/>
<circle cx="1022.15" cy="1026.41" r="2.6" fill="#6a9c69" fill-opacity="0.85"/>
<circle cx="1024.1" cy="1030.24" r="2.6" fill="#6a9c69" fill-opacity="0.85"/>
<circle cx="1025.66" cy="1029.08" r="2.6" fill="#6a9c69" fill-opacity="0.85"/>
<circle cx="1027.34" cy="1026.3" r="2.6" fill="#6a9c69" fill-opacity="0.85"/>
<circle cx="1029.42" cy="1034.13" r="2.6" fill="#6a9c69" fill-opacity="0.85"/>
<circle cx="1030.91" cy="1022.55" r="2.6" fill="#6a9c69" fill-opacity="0.85"/>
<circle cx="1032.58" cy="1031.44" r="2.6" fill="#6a9c69" fill-opacity="0.85"/>
<circle cx="1033.92" cy="1032.72" r="2.6" fill="#6a9c69" fill-opacity="0.85"/>
<circle cx="1035.1" cy="1028.62" r="2.6" fill="#6a9c69" fill-opacity="0.85"/>
<circle cx="1037.18" cy="1029.6" r="2.6" fill="#6a9c69" fill-opacity="0.85"/>
<circle cx="1038.61" cy="1034.4" r="2.6" fill="#6a9c69" fill-opacity="0.85"/>
<circle cx="1039.98" cy="1025.33" r="2.6" fill="#6a9c69" fill-opacity="0.85"/>
<circle cx="1041.45" cy="1030.04" r="2.6" fill="#6a9c69" fill-opacity="0.85"/>
<circle cx="1043.06" cy="1031.4" r="2.6" fill="#6a9c69" fill-opacity="0.85"/>
<circle cx="1044.81" cy="1027.05" r="2.6" fill="#6a9c69" fill-opacity="0.85"/>
<circle cx="1046.23" cy="1031.03" r="2.6" fill="#6a9c69" fill-opacity="0.85"/>
<circle cx="1047.64" cy="1027.23" r="2.6" fill="#6a9c69" fill-opacity="0.85"/>
<circle cx="1048.91" cy="1028.81" r="2.6" fill="#6a9c69" fill-opacity="0.85"/>
<circle cx="1050.45" cy="1029.85" r="2.6" fill="#6a9c69" fill-opacity="0.85"/>
<circle cx="1052.23" cy="1030.61" r="2.6" fill="#6a9c69" fill-opacity="0.85"/>
<circle cx="1054.58" cy="1026.38" r="2.6" fill="#6a9c69" fill-opacity="0.85"/>
<circle cx="1055.78" cy="1030.04" r="2.6" fill="#6a9c69" fill-opacity="0.85"/>
<circle cx="1057.72" cy="1029.01" r="2.6" fill="#6a9c69" fill-opacity="0.85"/>
<circle cx="1059.83" cy="1025.2" r="2.6" fill="#6a9c69" fill-opacity="0.85"/>
<circle cx="1061.71" cy="1029.84" r="2.6" fill="#6a9c69" fill-opacity="0.85"/>
<circle cx="1065.53" cy="1025.7" r="2.6" fill="#6a9c69" fill-opacity="0.85"/>
<circle cx="1066.68" cy="1033.38" r="2.6" fill="#6a9c69" fill-opacity="0.85"/>
<circle cx="1071.14" cy="1028.18" r="2.6" fill="#6a9c69" fill-opacity="0.85"/>
<circle cx="1076.33" cy="1031.14" r="2.6" fill="#6a9c69" fill-opacity="0.85"/>
<circle cx="1079.8" cy="1028.76" r="2.6" fill="#6a9c69" fill-opacity="0.85"/>
<circle cx="1089.03" cy="1028.22" r="2.6" fill="#6a9c69" fill-opacity="0.85"/>
<line x1="1021.48" y1="1049.9" x2="1035.78" y2="1049.9" stroke="#000" stroke-width="1.3"/>
<line x1="1021.48" y1="1047.9" x2="1021.48" y2="1051.9" stroke="#000" stroke-width="1.3"/>
<line x1="1035.78" y1="1047.9" x2="1035.78" y2="1051.9" stroke="#000" stroke-width="1.3"/>
<circle cx="919.18" cy="1048.36" r="2.6" fill="#bf5a3c" fill-opacity="0.85"/>
<circle cx="944.06" cy="1047.99" r="2.6" fill="#bf5a3c" fill-opacity="0.85"/>
<circle cx="960.81" cy="1048.48" r="2.6" fill="#bf5a3c" fill-opacity="0.85"/>
<circle cx="966.76" cy="1044.15" r="2.6" fill="#bf5a3c" fill-opacity="0.85"/>
<circle cx="973.26" cy="1046.33" r="2.6" fill="#bf5a3c" fill-opacity="0.85"/>
<circle cx="978.82" cy="1050.74" r="2.6" fill="#bf5a3c" fill-opacity="0.85"/>
<circle cx="984.51" cy="1044.62" r="2.6" fill="#bf5a3c" fill-opacity="0.85"/>
<circle cx="987.41" cy="1046.06" r="2.6" fill="#bf5a3c" fill-opacity="0.85"/>
<circle cx="991.39" cy="1052.5" r="2.6" fill="#bf5a3c" fill-opacity="0.85"/>
<circle cx="996.69" cy="1047.21" r="2.6" fill="#bf5a3c" fill-opacity="0.85"/>
<circle cx="999.49" cy="1047.8" r="2.6" fill="#bf5a3c" fill-opacity="0.85"/>
<circle cx="1003.28" cy="1046.82" r="2.6" fill="#bf5a3c" fill-opacity="0.85"/>
<circle cx="1006.92" cy="1053.89" r="2.6" fill="#bf5a3c" fill-opacity="0.85"/>
<circle cx="1010.2" cy="1045.03" r="2.6" fill="#bf5a3c" fill-opacity="0.85"/>
<circle cx="1013.22" cy="1051.52" r="2.6" fill="#bf5a3c" fill-opacity="0.85"/>
<circle cx="1014.74" cy="1054.18" r="2.6" fill="#bf5a3c" fill-opacity="0.85"/>
<circle cx="1018.31" cy="1046.34" r="2.6" fill="#bf5a3c" fill-opacity="0.85"/>
<circle cx="1022.02" cy="1048.98" r="2.6" fill="#bf5a3c" fill-opacity="0.85"/>
<circle cx="1024.87" cy="1053.39" r="2.6" fill="#bf5a3c" fill-opacity="0.85"/>
<circle cx="1026.55" cy="1051.31" r="2.6" fill="#bf5a3c" fill-opacity="0.85"/>
<circle cx="1029.47" cy="1048.37" r="2.6" fill="#bf5a3c" fill-opacity="0.85"/>
<circle cx="1032.5" cy="1044.46" r="2.6" fill="#bf5a3c" fill-opacity="0.85"/>
<circle cx="1035.13" cy="1049.21" r="2.6" fill="#bf5a3c" fill-opacity="0.85"/>
<circle cx="1038.48" cy="1048.32" r="2.6" fill="#bf5a3c" fill-opacity="0.85"/>
<circle cx="1042.24" cy="1052.44" r="2.6" fill="#bf5a3c" fill-opacity="0.85"/>
<circle cx="1044.74" cy="1047.46" r="2.6" fill="#bf5a3c" fill-opacity="0.85"/>
<circle cx="1047.7" cy="1048.8" r="2.6" fill="#bf5a3c" fill-opacity="0.85"/>
<circle cx="1050.17" cy="1051.67" r="2.6" fill="#bf5a3c" fill-opacity="0.85"/>
<circle cx="1054.04" cy="1053.61" r="2.6" fill="#bf5a3c" fill-opacity="0.85"/>
<circle cx="1058.73" cy="1048.14" r="2.6" fill="#bf5a3c" fill-opacity="0.85"/>
<circle cx="1061.71" cy="1048.53" r="2.6" fill="#bf5a3c" fill-opacity="0.85"/>
<circle cx="1064.97" cy="1050.84" r="2.6" fill="#bf5a3c" fill-opacity="0.85"/>
<circle cx="1069.12" cy="1054.97" r="2.6" fill="#bf5a3c" fill-opacity="0.85"/>
<circle cx="1074.45" cy="1046.22" r="2.6" fill="#bf5a3c" fill-opacity="0.85"/>
<circle cx="1079.33" cy="1055.52" r="2.6" fill="#bf5a3c" fill-opacity="0.85"/>
<circle cx="1082.85" cy="1052.43" r="2.6" fill="#bf5a3c" fill-opacity="0.85"/>
<circle cx="1091.4" cy="1048.38" r="2.6" fill="#bf5a3c" fill-opacity="0.85"/>
<circle cx="1098.01" cy="1051.88" r="2.6" fill="#bf5a3c" fill-opacity="0.85"/>
<circle cx="1110.18" cy="1047.87" r="2.6" fill="#bf5a3c" fill-opacity="0.85"/>
<circle cx="1127.4" cy="1044.78" r="2.6" fill="#bf5a3c" fill-opacity="0.85"/>
<line x1="949.35" y1="1064.1" x2="967.29" y2="1064.1" stroke="#000" stroke-width="1.3"/>
<line x1="949.35" y1="1062.1" x2="949.35" y2="1066.1" stroke="#000" stroke-width="1.3"/>
<line x1="967.29" y1="1062.1" x2="967.29" y2="1066.1" stroke="#000" stroke-width="1.3"/>
<circle cx="833.54" cy="1063.12" r="2.6" fill="#6a9c69" fill-opacity="0.85"/>
<circle cx="852.99" cy="1065.1" r="2.6" fill="#6a9c69" fill-opacity="0.85"/>
<circle cx="868.88" cy="1070.04" r="2.6" fill="#6a9c69" fill-opacity="0.85"/>
<circle cx="879.07" cy="1067.88" r="2.6" fill="#6a9c69" fill-opacity="0.85"/>
<circle cx="889.25" cy="1068.54" r="2.6" fill="#6a9c69" fill-opacity="0.85"/>
<circle cx="895.56" cy="1059.87" r="2.6" fill="#6a9c69" fill-opacity="0.85"/>
<circle cx="899.11" cy="1062.12" r="2.6" fill="#6a9c69" fill-opacity="0.85"/>
<circle cx="906.8" cy="1064.32" r="2.6" fill="#6a9c69" fill-opacity="0.85"/>
<circle cx="911.6" cy="1058.21" r="2.6" fill="#6a9c69" fill-opacity="0.85"/>
<circle cx="916.48" cy="1069.93" r="2.6" fill="#6a9c69" fill-opacity="0.85"/>
<circle cx="922.09" cy="1061.41" r="2.6" fill="#6a9c69" fill-opacity="0.85"/>
<circle cx="925.35" cy="1061.27" r="2.6" fill="#6a9c69" fill-opacity="0.85"/>
<circle cx="929.7" cy="1061.87" r="2.6" fill="#6a9c69" fill-opacity="0.85"/>
<circle cx="934.76" cy="1061.18" r="2.6" fill="#6a9c69" fill-opacity="0.85"/>
<circle cx="937.63" cy="1068.38" r="2.6" fill="#6a9c69" fill-opacity="0.85"/>
<circle cx="941.6" cy="1064.76" r="2.6" fill="#6a9c69" fill-opacity="0.85"/>
<circle cx="945.43" cy="1064.23" r="2.6" fill="#6a9c69" fill-opacity="0.85"/>
<circle cx="949.85" cy="1063.15" r="2.6" fill="#6a9c69" fill-opacity="0.85"/>
<circle cx="953.2" cy="1058.75" r="2.6" fill="#6a9c69" fill-opacity="0.85"/>
<circle cx="957.02" cy="1061.77" r="2.6" fill="#6a9c69" fill-opacity="0.85"/>
<circle cx="959.93" cy="1068.47" r="2.6" fill="#6a9c69" fill-opacity="0.85"/>
<circle cx="962.81" cy="1067.7" r="2.6" fill="#6a9c69" fill-opacity="0.85"/>
<circle cx="967.91" cy="1068.35" r="2.6" fill="#6a9c69" fill-opacity="0.85"/>
<circle cx="971.36" cy="1061.2" r="2.6" fill="#6a9c69" fill-opacity="0.85"/>
<circle cx="975.64" cy="1060.55" r="2.6" fill="#6a9c69" fill-opacity="0.85"/>
<circle cx="979.5" cy="1058.76" r="2.6" fill="#6a9c69" fill-opacity="0.85"/>
<circle cx="981.9" cy="1064.54" r="2.6" fill="#6a9c69" fill-opacity="0.85"/>
<circle cx="986.18" cy="1062.59" r="2.6" fill="#6a9c69" fill-opacity="0.85"/>
<circle cx="989.99" cy="1063.67" r="2.6" fill="#6a9c69" fill-opacity="0.85"/>
<circle cx="996.31" cy="1063.97" r="2.6" fill="#6a9c69" fill-opacity="0.85"/>
<circle cx="998.93" cy="1065.1" r="2.6" fill="#6a9c69" fill-opacity="0.85"/>
<circle cx="1003.69" cy="1062.5" r="2.6" fill="#6a9c69" fill-opacity="0.85"/>
<circle cx="1010.98" cy="1067.7" r="2.6" fill="#6a9c69" fill-opacity="0.85"/>
<circle cx="1016.05" cy="1060.52" r="2.6" fill="#6a9c69" fill-opacity="0.85"/>
<circle cx="1020.35" cy="1069.1" r="2.6" fill="#6a9c69" fill-opacity="0.85"/>
<circle cx="1030.04" cy="1064.77" r="2.6" fill="#6a9c69" fill-opacity="0.85"/>
<circle cx="1038.73" cy="1058.75" r="2.6" fill="#6a9c69" fill-opacity="0.85"/>
<circle cx="1047.82" cy="1061.88" r="2.6" fill="#6a9c69" fill-opacity="0.85"/>
<circle cx="1057.87" cy="1064.49" r="2.6" fill="#6a9c69" fill-opacity="0.85"/>
<circle cx="1085.27" cy="1063.01" r="2.6" fill="#6a9c69" fill-opacity="0.85"/>
<line x1="944.35" y1="1085.5" x2="952.64" y2="1085.5" stroke="#000" stroke-width="1.3"/>
<line x1="944.35" y1="1083.5" x2="944.35" y2="1087.5" stroke="#000" stroke-width="1.3"/>
<line x1="952.64" y1="1083.5" x2="952.64" y2="1087.5" stroke="#000" stroke-width="1.3"/>
<circle cx="889.2" cy="1087.72" r="2.6" fill="#bf5a3c" fill-opacity="0.85"/>
<circle cx="899.88" cy="1081.38" r="2.6" fill="#bf5a3c" fill-opacity="0.85"/>
<circle cx="906.62" cy="1080.21" r="2.6" fill="#bf5a3c" fill-opacity="0.85"/>
<circle cx="912.87" cy="1087.83" r="2.6" fill="#bf5a3c" fill-opacity="0.85"/>
<circle cx="915.53" cy="1080.03" r="2.6" fill="#bf5a3c" fill-opacity="0.85"/>
<circle cx="919.61" cy="1089.51" r="2.6" fill="#bf5a3c" fill-opacity="0.85"/>
<circle cx="922.6" cy="1083.04" r="2.6" fill="#bf5a3c" fill-opacity="0.85"/>
<circle cx="924.85" cy="1082.31" r="2.6" fill="#bf5a3c" fill-opacity="0.85"/>
<circle cx="927.05" cy="1086.48" r="2.6" fill="#bf5a3c" fill-opacity="0.85"/>
<circle cx="929.91" cy="1083.34" r="2.6" fill="#bf5a3c" fill-opacity="0.85"/>
<circle cx="931.39" cy="1086.22" r="2.6" fill="#bf5a3c" fill-opacity="0.85"/>
<circle cx="933.91" cy="1081.37" r="2.6" fill="#bf5a3c" fill-opacity="0.85"/>
<circle cx="934.89" cy="1090.41" r="2.6" fill="#bf5a3c" fill-opacity="0.85"/>
<circle cx="937.18" cy="1083.41" r="2.6" fill="#bf5a3c" fill-opacity="0.85"/>
<circle cx="939.21" cy="1089.57" r="2.6" fill="#bf5a3c" fill-opacity="0.85"/>
<circle cx="940.36" cy="1081.35" r="2.6" fill="#bf5a3c" fill-opacity="0.85"/>
<circle cx="942.94" cy="1089.07" r="2.6" fill="#bf5a3c" fill-opacity="0.85"/>
<circle cx="943.84" cy="1091.23" r="2.6" fill="#bf5a3c" fill-opacity="0.85"/>
<circle cx="946.07" cy="1084.21" r="2.6" fill="#bf5a3c" fill-opacity="0.85"/>
<circle cx="947.33" cy="1079.93" r="2.6" fill="#bf5a3c" fill-opacity="0.85"/>
<circle cx="949.76" cy="1084.07" r="2.6" fill="#bf5a3c" fill-opacity="0.85"/>
<circle cx="951.08" cy="1087.18" r="2.6" fill="#bf5a3c" fill-opacity="0.85"/>
<circle cx="953.02" cy="1082.2" r="2.6" fill="#bf5a3c" fill-opacity="0.85"/>
<circle cx="954.42" cy="1086.05" r="2.6" fill="#bf5a3c" fill-opacity="0.85"/>
<circle cx="956.34" cy="1080.65" r="2.6" fill="#bf5a3c" fill-opacity="0.85"/>
<circle cx="958.11" cy="1085.08" r="2.6" fill="#bf5a3c" fill-opacity="0.85"/>
<circle cx="959.51" cy="1088.22" r="2.6" fill="#bf5a3c" fill-opacity="0.85"/>
<circle cx="961.27" cy="1084.66" r="2.6" fill="#bf5a3c" fill-opacity="0.85"/>
<circle cx="963.92" cy="1087.63" r="2.6" fill="#bf5a3c" fill-opacity="0.85"/>
<circle cx="965.1" cy="1080.9" r="2.6" fill="#bf5a3c" fill-opacity="0.85"/>
<circle cx="968.19" cy="1089.42" r="2.6" fill="#bf5a3c" fill-opacity="0.85"/>
<circle cx="969.47" cy="1080.99" r="2.6" fill="#bf5a3c" fill-opacity="0.85"/>
<circle cx="971.68" cy="1090.55" r="2.6" fill="#bf5a3c" fill-opacity="0.85"/>
<circle cx="974.22" cy="1091.42" r="2.6" fill="#bf5a3c" fill-opacity="0.85"/>
<circle cx="978.28" cy="1090.74" r="2.6" fill="#bf5a3c" fill-opacity="0.85"/>
<circle cx="981.98" cy="1085.81" r="2.6" fill="#bf5a3c" fill-opacity="0.85"/>
<circle cx="984.63" cy="1083" r="2.6" fill="#bf5a3c" fill-opacity="0.85"/>
<circle cx="990.14" cy="1083.69" r="2.6" fill="#bf5a3c" fill-opacity="0.85"/>
<circle cx="995.07" cy="1088.49" r="2.6" fill="#bf5a3c" fill-opacity="0.85"/>
<circle cx="1006.29" cy="1085.46" r="2.6" fill="#bf5a3c" fill-opacity="0.85"/>
<line x1="911.03" y1="1099.7" x2="918.67" y2="1099.7" stroke="#000" stroke-width="1.3"/>
<line x1="911.03" y1="1097.7" x2="911.03" y2="1101.7" stroke="#000" stroke-width="1.3"/>
<line x1="918.67" y1="1097.7" x2="918.67" y2="1101.7" stroke="#000" stroke-width="1.3"/>
<circle cx="863.13" cy="1097.95" r="2.6" fill="#6a9c69" fill-opacity="0.85"/>
<circle cx="868.49" cy="1098.21" r="2.6" fill="#6a9c69" fill-opacity="0.85"/>
<circle cx="876.58" cy="1101.65" r="2.6" fill="#6a9c69" fill-opacity="0.85"/>
<circle cx="881.9" cy="1095.69" r="2.6" fill="#6a9c69" fill-opacity="0.85"/>
<circle cx="884.81" cy="1095.76" r="2.6" fill="#6a9c69" fill-opacity="0.85"/>
<circle cx="887.72" cy="1104.97" r="2.6" fill="#6a9c69" fill-opacity="0.85"/>
<circle cx="889.7" cy="1097.69" r="2.6" fill="#6a9c69" fill-opacity="0.85"/>
<circle cx="892.24" cy="1103.78" r="2.6" fill="#6a9c69" fill-opacity="0.85"/>
<circle cx="894.68" cy="1104.15" r="2.6" fill="#6a9c69" fill-opacity="0.85"/>
<circle cx="897.52" cy="1099.46" r="2.6" fill="#6a9c69" fill-opacity="0.85"/>
<circle cx="899.41" cy="1095.51" r="2.6" fill="#6a9c69" fill-opacity="0.85"/>
<circle cx="900.58" cy="1094.86" r="2.6" fill="#6a9c69" fill-opacity="0.85"/>
<circle cx="903.12" cy="1104.22" r="2.6" fill="#6a9c69" fill-opacity="0.85"/>
<circle cx="903.92" cy="1095.13" r="2.6" fill="#6a9c69" fill-opacity="0.85"/>
<circle cx="906.18" cy="1099.65" r="2.6" fill="#6a9c69" fill-opacity="0.85"/>
<circle cx="908.18" cy="1100.13" r="2.6" fill="#6a9c69" fill-opacity="0.85"/>
<circle cx="909.19" cy="1095.14" r="2.6" fill="#6a9c69" fill-opacity="0.85"/>
<circle cx="911.35" cy="1099.32" r="2.6" fill="#6a9c69" fill-opacity="0.85"/>
<circle cx="912.65" cy="1095.69" r="2.6" fill="#6a9c69" fill-opacity="0.85"/>
<circle cx="913.65" cy="1100.12" r="2.6" fill="#6a9c69" fill-opacity="0.85"/>
<circle cx="915.47" cy="1099.78" r="2.6" fill="#6a9c69" fill-opacity="0.85"/>
<circle cx="917.15" cy="1098.11" r="2.6" fill="#6a9c69" fill-opacity="0.85"/>
<circle cx="918.53" cy="1096.09" r="2.6" fill="#6a9c69" fill-opacity="0.85"/>
<circle cx="920.59" cy="1098.55" r="2.6" fill="#6a9c69" fill-opacity="0.85"/>
<circle cx="921.66" cy="1096.16" r="2.6" fill="#6a9c69" fill-opacity="0.85"/>
<circle cx="923.9" cy="1095.25" r="2.6" fill="#6a9c69" fill-opacity="0.85"/>
<circle cx="925.09" cy="1096.6" r="2.6" fill="#6a9c69" fill-opacity="0.85"/>
<circle cx="926.57" cy="1104.13" r="2.6" fill="#6a9c69" fill-opacity="0.85"/>
<circle cx="928.88" cy="1099.72" r="2.6" fill="#6a9c69" fill-opacity="0.85"/>
<circle cx="930.23" cy="1104.36" r="2.6" fill="#6a9c69" fill-opacity="0.85"/>
<circle cx="932.71" cy="1093.92" r="2.6" fill="#6a9c69" fill-opacity="0.85"/>
<circle cx="935.1" cy="1104.99" r="2.6" fill="#6a9c69" fill-opacity="0.85"/>
<circle cx="937.09" cy="1099.56" r="2.6" fill="#6a9c69" fill-opacity="0.85"/>
<circle cx="939.31" cy="1103.17" r="2.6" fill="#6a9c69" fill-opacity="0.85"/>
<circle cx="941.27" cy="1100.54" r="2.6" fill="#6a9c69" fill-opacity="0.85"/>
<circle cx="945.1" cy="1101.95" r="2.6" fill="#6a9c69" fill-opacity="0.85"/>
<circle cx="947.72" cy="1096.47" r="2.6" fill="#6a9c69" fill-opacity="0.85"/>
<circle cx="953.52" cy="1102.68" r="2.6" fill="#6a9c69" fill-opacity="0.85"/>
<circle cx="957.62" cy="1095.57" r="2.6" fill="#6a9c69" fill-opacity="0.85"/>
<circle cx="968.68" cy="1096.89" r="2.6" fill="#6a9c69" fill-opacity="0.85"/>
<line x1="940.34" y1="1121.1" x2="945.3" y2="1121.1" stroke="#000" stroke-width="1.3"/>
<line x1="940.34" y1="1119.1" x2="940.34" y2="1123.1" stroke="#000" stroke-width="1.3"/>
<line x1="945.3" y1="1119.1" x2="945.3" y2="1123.1" stroke="#000" stroke-width="1.3"/>
<circle cx="903.03" cy="1120.86" r="2.6" fill="#bf5a3c" fill-opacity="0.85"/>
<circle cx="914.67" cy="1121.07" r="2.6" fill="#bf5a3c" fill-opacity="0.85"/>
<circle cx="918.87" cy="1124.43" r="2.6" fill="#bf5a3c" fill-opacity="0.85"/>
<circle cx="921.3" cy="1125.97" r="2.6" fill="#bf5a3c" fill-opacity="0.85"/>
<circle cx="924.32" cy="1124.1" r="2.6" fill="#bf5a3c" fill-opacity="0.85"/>
<circle cx="925.3" cy="1122.73" r="2.6" fill="#bf5a3c" fill-opacity="0.85"/>
<circle cx="927.51" cy="1117.51" r="2.6" fill="#bf5a3c" fill-opacity="0.85"/>
<circle cx="928.72" cy="1122.59" r="2.6" fill="#bf5a3c" fill-opacity="0.85"/>
<circle cx="930.43" cy="1125.22" r="2.6" fill="#bf5a3c" fill-opacity="0.85"/>
<circle cx="931.87" cy="1124.52" r="2.6" fill="#bf5a3c" fill-opacity="0.85"/>
<circle cx="933.03" cy="1116.24" r="2.6" fill="#bf5a3c" fill-opacity="0.85"/>
<circle cx="933.75" cy="1123.69" r="2.6" fill="#bf5a3c" fill-opacity="0.85"/>
<circle cx="935.01" cy="1119.3" r="2.6" fill="#bf5a3c" fill-opacity="0.85"/>
<circle cx="936.33" cy="1117.07" r="2.6" fill="#bf5a3c" fill-opacity="0.85"/>
<circle cx="937.62" cy="1126.66" r="2.6" fill="#bf5a3c" fill-opacity="0.85"/>
<circle cx="938.07" cy="1123.16" r="2.6" fill="#bf5a3c" fill-opacity="0.85"/>
<circle cx="939.44" cy="1124.03" r="2.6" fill="#bf5a3c" fill-opacity="0.85"/>
<circle cx="940.48" cy="1116.75" r="2.6" fill="#bf5a3c" fill-opacity="0.85"/>
<circle cx="941.54" cy="1125.02" r="2.6" fill="#bf5a3c" fill-opacity="0.85"/>
<circle cx="942.24" cy="1126.31" r="2.6" fill="#bf5a3c" fill-opacity="0.85"/>
<circle cx="943.49" cy="1125.93" r="2.6" fill="#bf5a3c" fill-opacity="0.85"/>
<circle cx="944.27" cy="1124.02" r="2.6" fill="#bf5a3c" fill-opacity="0.85"/>
<circle cx="945.53" cy="1125.07" r="2.6" fill="#bf5a3c" fill-opacity="0.85"/>
<circle cx="945.99" cy="1124.7" r="2.6" fill="#bf5a3c" fill-opacity="0.85"/>
<circle cx="947.56" cy="1122.18" r="2.6" fill="#bf5a3c" fill-opacity="0.85"/>
<circle cx="948.27" cy="1120.33" r="2.6" fill="#bf5a3c" fill-opacity="0.85"/>
<circle cx="949.32" cy="1124.98" r="2.6" fill="#bf5a3c" fill-opacity="0.85"/>
<circle cx="950.19" cy="1124.49" r="2.6" fill="#bf5a3c" fill-opacity="0.85"/>
<circle cx="951.41" cy="1125.52" r="2.6" fill="#bf5a3c" fill-opacity="0.85"/>
<circle cx="952.93" cy="1118.7" r="2.6" fill="#bf5a3c" fill-opacity="0.85"/>
<circle cx="954.13" cy="1126.6" r="2.6" fill="#bf5a3c" fill-opacity="0.85"/>
<circle cx="955.02" cy="1121.48" r="2.6" fill="#bf5a3c" fill-opacity="0.85"/>
<circle cx="956.56" cy="1126.42" r="2.6" fill="#bf5a3c" fill-opacity="0.85"/>
<circle cx="957.87" cy="1116.52" r="2.6" fill="#bf5a3c" fill-opacity="0.85"/>
<circle cx="959.57" cy="1126.69" r="2.6" fill="#bf5a3c" fill-opacity="0.85"/>
<circle cx="961.45" cy="1124.53" r="2.6" fill="#bf5a3c" fill-opacity="0.85"/>
<circle cx="963.78" cy="1118.14" r="2.6" fill="#bf5a3c" fill-opacity="0.85"/>
<circle cx="967.76" cy="1125.14" r="2.6" fill="#bf5a3c" fill-opacity="0.85"/>
<circle cx="972.22" cy="1117.9" r="2.6" fill="#bf5a3c" fill-opacity="0.85"/>
<circle cx="976.2" cy="1117.5" r="2.6" fill="#bf5a3c" fill-opacity="0.85"/>
<line x1="915.44" y1="1135.3" x2="922.58" y2="1135.3" stroke="#000" stroke-width="1.3"/>
<line x1="915.44" y1="1133.3" x2="915.44" y2="1137.3" stroke="#000" stroke-width="1.3"/>
<line x1="922.58" y1="1133.3" x2="922.58" y2="1137.3" stroke="#000" stroke-width="1.3"/>
<circle cx="866.94" cy="1130.78" r="2.6" fill="#6a9c69" fill-opacity="0.85"/>
<circle cx="876.85" cy="1137.48" r="2.6" fill="#6a9c69" fill-opacity="0.85"/>
<circle cx="883.67" cy="1129.83" r="2.6" fill="#6a9c69" fill-opacity="0.85"/>
<circle cx="888.64" cy="1139.15" r="2.6" fill="#6a9c69" fill-opacity="0.85"/>
<circle cx="891.4" cy="1131.53" r="2.6" fill="#6a9c69" fill-opacity="0.85"/>
<circle cx="894.2" cy="1132.57" r="2.6" fill="#6a9c69" fill-opacity="0.85"/>
<circle cx="896.2" cy="1140.76" r="2.6" fill="#6a9c69" fill-opacity="0.85"/>
<circle cx="898.94" cy="1133.66" r="2.6" fill="#6a9c69" fill-opacity="0.85"/>
<circle cx="900.99" cy="1132.01" r="2.6" fill="#6a9c69" fill-opacity="0.85"/>
<circle cx="902.76" cy="1139.95" r="2.6" fill="#6a9c69" fill-opacity="0.85"/>
<circle cx="904.84" cy="1136.61" r="2.6" fill="#6a9c69" fill-opacity="0.85"/>
<circle cx="906.43" cy="1140" r="2.6" fill="#6a9c69" fill-opacity="0.85"/>
<circle cx="907.66" cy="1134.04" r="2.6" fill="#6a9c69" fill-opacity="0.85"/>
<circle cx="908.96" cy="1135.3" r="2.6" fill="#6a9c69" fill-opacity="0.85"/>
<circle cx="911.05" cy="1140.74" r="2.6" fill="#6a9c69" fill-opacity="0.85"/>
<circle cx="912.73" cy="1135.38" r="2.6" fill="#6a9c69" fill-opacity="0.85"/>
<circle cx="913.77" cy="1141.13" r="2.6" fill="#6a9c69" fill-opacity="0.85"/>
<circle cx="915.47" cy="1131.6" r="2.6" fill="#6a9c69" fill-opacity="0.85"/>
<circle cx="917.13" cy="1139.24" r="2.6" fill="#6a9c69" fill-opacity="0.85"/>
<circle cx="918.54" cy="1131.27" r="2.6" fill="#6a9c69" fill-opacity="0.85"/>
<circle cx="919.3" cy="1135.62" r="2.6" fill="#6a9c69" fill-opacity="0.85"/>
<circle cx="921.17" cy="1129.34" r="2.6" fill="#6a9c69" fill-opacity="0.85"/>
<circle cx="922.21" cy="1131.43" r="2.6" fill="#6a9c69" fill-opacity="0.85"/>
<circle cx="923.75" cy="1140.61" r="2.6" fill="#6a9c69" fill-opacity="0.85"/>
<circle cx="925.87" cy="1134.76" r="2.6" fill="#6a9c69" fill-opacity="0.85"/>
<circle cx="927.03" cy="1138.99" r="2.6" fill="#6a9c69" fill-opacity="0.85"/>
<circle cx="928.76" cy="1132.33" r="2.6" fill="#6a9c69" fill-opacity="0.85"/>
<circle cx="930.22" cy="1133.54" r="2.6" fill="#6a9c69" fill-opacity="0.85"/>
<circle cx="931.75" cy="1130.54" r="2.6" fill="#6a9c69" fill-opacity="0.85"/>
<circle cx="933.34" cy="1135.93" r="2.6" fill="#6a9c69" fill-opacity="0.85"/>
<circle cx="935.29" cy="1139.62" r="2.6" fill="#6a9c69" fill-opacity="0.85"/>
<circle cx="937.79" cy="1135.47" r="2.6" fill="#6a9c69" fill-opacity="0.85"/>
<circle cx="939.59" cy="1133.83" r="2.6" fill="#6a9c69" fill-opacity="0.85"/>
<circle cx="941.38" cy="1140.41" r="2.6" fill="#6a9c69" fill-opacity="0.85"/>
<circle cx="943.5" cy="1140" r="2.6" fill="#6a9c69" fill-opacity="0.85"/>
<circle cx="946.53" cy="1137.28" r="2.6" fill="#6a9c69" fill-opacity="0.85"/>
<circle cx="950.68" cy="1130.24" r="2.6" fill="#6a9c69" fill-opacity="0.85"/>
<circle cx="954.17" cy="1136.78" r="2.6" fill="#6a9c69" fill-opacity="0.85"/>
<circle cx="960.7" cy="1134.63" r="2.6" fill="#6a9c69" fill-opacity="0.85"/>
<circle cx="968.68" cy="1140.76" r="2.6" fill="#6a9c69" fill-opacity="0.85"/>
<line x1="959.29" y1="1156.7" x2="965.66" y2="1156.7" stroke="#000" stroke-width="1.3"/>
<line x1="959.29" y1="1154.7" x2="959.29" y2="1158.7" stroke="#000" stroke-width="1.3"/>
<line x1="965.66" y1="1154.7" x2="965.66" y2="1158.7" stroke="#000" stroke-width="1.3"/>
<circle cx="915.23" cy="1155.27" r="2.6" fill="#bf5a3c" fill-opacity="0.85"/>
<circle cx="926.66" cy="1162.22" r="2.6" fill="#bf5a3c" fill-opacity="0.85"/>
<circle cx="931.44" cy="1159.2" r="2.6" fill="#bf5a3c" fill-opacity="0.85"/>
<circle cx="934.51" cy="1158.98" r="2.6" fill="#bf5a3c" fill-opacity="0.85"/>
<circle cx="937.71" cy="1154.05" r="2.6" fill="#bf5a3c" fill-opacity="0.85"/>
<circle cx="940.4" cy="1152.67" r="2.6" fill="#bf5a3c" fill-opacity="0.85"/>
<circle cx="942.86" cy="1157.6" r="2.6" fill="#bf5a3c" fill-opacity="0.85"/>
<circle cx="944.34" cy="1160.59" r="2.6" fill="#bf5a3c" fill-opacity="0.85"/>
<circle cx="946.02" cy="1160.2" r="2.6" fill="#bf5a3c" fill-opacity="0.85"/>
<circle cx="948.34" cy="1154.88" r="2.6" fill="#bf5a3c" fill-opacity="0.85"/>
<circle cx="949.06" cy="1152.4" r="2.6" fill="#bf5a3c" fill-opacity="0.85"/>
<circle cx="951.31" cy="1156.89" r="2.6" fill="#bf5a3c" fill-opacity="0.85"/>
<circle cx="952.64" cy="1161.2" r="2.6" fill="#bf5a3c" fill-opacity="0.85"/>
<circle cx="953.95" cy="1152.67" r="2.6" fill="#bf5a3c" fill-opacity="0.85"/>
<circle cx="955.24" cy="1159.54" r="2.6" fill="#bf5a3c" fill-opacity="0.85"/>
<circle cx="956.83" cy="1152.77" r="2.6" fill="#bf5a3c" fill-opacity="0.85"/>
<circle cx="958.26" cy="1154.46" r="2.6" fill="#bf5a3c" fill-opacity="0.85"/>
<circle cx="959.44" cy="1151.37" r="2.6" fill="#bf5a3c" fill-opacity="0.85"/>
<circle cx="960.75" cy="1154.29" r="2.6" fill="#bf5a3c" fill-opacity="0.85"/>
<circle cx="961.48" cy="1155.3" r="2.6" fill="#bf5a3c" fill-opacity="0.85"/>
<circle cx="962.98" cy="1162.27" r="2.6" fill="#bf5a3c" fill-opacity="0.85"/>
<circle cx="964.12" cy="1162.21" r="2.6" fill="#bf5a3c" fill-opacity="0.85"/>
<circle cx="966.05" cy="1152.97" r="2.6" fill="#bf5a3c" fill-opacity="0.85"/>
<circle cx="967.31" cy="1154.43" r="2.6" fill="#bf5a3c" fill-opacity="0.85"/>
<circle cx="968.04" cy="1161.99" r="2.6" fill="#bf5a3c" fill-opacity="0.85"/>
<circle cx="969.74" cy="1153.09" r="2.6" fill="#bf5a3c" fill-opacity="0.85"/>
<circle cx="971.12" cy="1154.56" r="2.6" fill="#bf5a3c" fill-opacity="0.85"/>
<circle cx="972.08" cy="1155.96" r="2.6" fill="#bf5a3c" fill-opacity="0.85"/>
<circle cx="973.85" cy="1152.03" r="2.6" fill="#bf5a3c" fill-opacity="0.85"/>
<circle cx="975.71" cy="1153.84" r="2.6" fill="#bf5a3c" fill-opacity="0.85"/>
<circle cx="977.22" cy="1155.44" r="2.6" fill="#bf5a3c" fill-opacity="0.85"/>
<circle cx="978.56" cy="1155.33" r="2.6" fill="#bf5a3c" fill-opacity="0.85"/>
<circle cx="980.92" cy="1162.23" r="2.6" fill="#bf5a3c" fill-opacity="0.85"/>
<circle cx="982.34" cy="1153.92" r="2.6" fill="#bf5a3c" fill-opacity="0.85"/>
<circle cx="984.86" cy="1153.17" r="2.6" fill="#bf5a3c" fill-opacity="0.85"/>
<circle cx="987.16" cy="1161.58" r="2.6" fill="#bf5a3c" fill-opacity="0.85"/>
<circle cx="991.16" cy="1156.11" r="2.6" fill="#bf5a3c" fill-opacity="0.85"/>
<circle cx="994.22" cy="1160.72" r="2.6" fill="#bf5a3c" fill-opacity="0.85"/>
<circle cx="1000.09" cy="1158.34" r="2.6" fill="#bf5a3c" fill-opacity="0.85"/>
<circle cx="1006.29" cy="1160.02" r="2.6" fill="#bf5a3c" fill-opacity="0.85"/>
<line x1="920.27" y1="1170.9" x2="928.33" y2="1170.9" stroke="#000" stroke-width="1.3"/>
<line x1="920.27" y1="1168.9" x2="920.27" y2="1172.9" stroke="#000" stroke-width="1.3"/>
<line x1="928.33" y1="1168.9" x2="928.33" y2="1172.9" stroke="#000" stroke-width="1.3"/>
<circle cx="864.07" cy="1174.55" r="2.6" fill="#6a9c69" fill-opacity="0.85"/>
<circle cx="876.66" cy="1169.11" r="2.6" fill="#6a9c69" fill-opacity="0.85"/>
<circle cx="885.55" cy="1167.15" r="2.6" fill="#6a9c69" fill-opacity="0.85"/>
<circle cx="889.27" cy="1175.33" r="2.6" fill="#6a9c69" fill-opacity="0.85"/>
<circle cx="893.15" cy="1171.28" r="2.6" fill="#6a9c69" fill-opacity="0.85"/>
<circle cx="896.46" cy="1171.15" r="2.6" fill="#6a9c69" fill-opacity="0.85"/>
<circle cx="899.33" cy="1172.92" r="2.6" fill="#6a9c69" fill-opacity="0.85"/>
<circle cx="901.11" cy="1175.69" r="2.6" fill="#6a9c69" fill-opacity="0.85"/>
<circle cx="903.56" cy="1166.53" r="2.6" fill="#6a9c69" fill-opacity="0.85"/>
<circle cx="906.41" cy="1168.98" r="2.6" fill="#6a9c69" fill-opacity="0.85"/>
<circle cx="907.95" cy="1165.72" r="2.6" fill="#6a9c69" fill-opacity="0.85"/>
<circle cx="909.61" cy="1169.86" r="2.6" fill="#6a9c69" fill-opacity="0.85"/>
<circle cx="911.84" cy="1170.93" r="2.6" fill="#6a9c69" fill-opacity="0.85"/>
<circle cx="913.24" cy="1175.1" r="2.6" fill="#6a9c69" fill-opacity="0.85"/>
<circle cx="915.51" cy="1172.9" r="2.6" fill="#6a9c69" fill-opacity="0.85"/>
<circle cx="916.47" cy="1171.83" r="2.6" fill="#6a9c69" fill-opacity="0.85"/>
<circle cx="918.93" cy="1169.75" r="2.6" fill="#6a9c69" fill-opacity="0.85"/>
<circle cx="920.31" cy="1171.78" r="2.6" fill="#6a9c69" fill-opacity="0.85"/>
<circle cx="921.73" cy="1168.2" r="2.6" fill="#6a9c69" fill-opacity="0.85"/>
<circle cx="923.92" cy="1175.01" r="2.6" fill="#6a9c69" fill-opacity="0.85"/>
<circle cx="924.88" cy="1174.34" r="2.6" fill="#6a9c69" fill-opacity="0.85"/>
<circle cx="926.48" cy="1174.94" r="2.6" fill="#6a9c69" fill-opacity="0.85"/>
<circle cx="927.93" cy="1166.74" r="2.6" fill="#6a9c69" fill-opacity="0.85"/>
<circle cx="930.05" cy="1172.95" r="2.6" fill="#6a9c69" fill-opacity="0.85"/>
<circle cx="931.92" cy="1173.93" r="2.6" fill="#6a9c69" fill-opacity="0.85"/>
<circle cx="933.55" cy="1170.91" r="2.6" fill="#6a9c69" fill-opacity="0.85"/>
<circle cx="935.01" cy="1175.65" r="2.6" fill="#6a9c69" fill-opacity="0.85"/>
<circle cx="937.23" cy="1175.66" r="2.6" fill="#6a9c69" fill-opacity="0.85"/>
<circle cx="938.31" cy="1173.8" r="2.6" fill="#6a9c69" fill-opacity="0.85"/>
<circle cx="940.45" cy="1174.73" r="2.6" fill="#6a9c69" fill-opacity="0.85"/>
<circle cx="942.89" cy="1172.68" r="2.6" fill="#6a9c69" fill-opacity="0.85"/>
<circle cx="945.49" cy="1175.42" r="2.6" fill="#6a9c69" fill-opacity="0.85"/>
<circle cx="947.36" cy="1166.5" r="2.6" fill="#6a9c69" fill-opacity="0.85"/>
<circle cx="949.97" cy="1173.33" r="2.6" fill="#6a9c69" fill-opacity="0.85"/>
<circle cx="952.92" cy="1173.33" r="2.6" fill="#6a9c69" fill-opacity="0.85"/>
<circle cx="955.36" cy="1172.24" r="2.6" fill="#6a9c69" fill-opacity="0.85"/>
<circle cx="960.36" cy="1168.22" r="2.6" fill="#6a9c69" fill-opacity="0.85"/>
<circle cx="964.62" cy="1165.74" r="2.6" fill="#6a9c69" fill-opacity="0.85"/>
<circle cx="969.46" cy="1172.13" r="2.6" fill="#6a9c69" fill-opacity="0.85"/>
<circle cx="979.96" cy="1174.77" r="2.6" fill="#6a9c69" fill-opacity="0.85"/>
<line x1="993.37" y1="1192.3" x2="1004.92" y2="1192.3" stroke="#000" stroke-width="1.3"/>
<line x1="993.37" y1="1190.3" x2="993.37" y2="1194.3" stroke="#000" stroke-width="1.3"/>
<line x1="1004.92" y1="1190.3" x2="1004.92" y2="1194.3" stroke="#000" stroke-width="1.3"/>
<circle cx="911.9" cy="1193.85" r="2.6" fill="#bf5a3c" fill-opacity="0.85"/>
<circle cx="931.33" cy="1194.98" r="2.6" fill="#bf5a3c" fill-opacity="0.85"/>
<circle cx="941.19" cy="1193.31" r="2.6" fill="#bf5a3c" fill-opacity="0.85"/>
<circle cx="947.59" cy="1191.11" r="2.6" fill="#bf5a3c" fill-opacity="0.85"/>
<circle cx="954.83" cy="1192.44" r="2.6" fill="#bf5a3c" fill-opacity="0.85"/>
<circle cx="959.99" cy="1193.36" r="2.6" fill="#bf5a3c" fill-opacity="0.85"/>
<circle cx="963.46" cy="1189.04" r="2.6" fill="#bf5a3c" fill-opacity="0.85"/>
<circle cx="966.08" cy="1196.69" r="2.6" fill="#bf5a3c" fill-opacity="0.85"/>
<circle cx="970.05" cy="1198.21" r="2.6" fill="#bf5a3c" fill-opacity="0.85"/>
<circle cx="971.98" cy="1195.93" r="2.6" fill="#bf5a3c" fill-opacity="0.85"/>
<circle cx="976.24" cy="1197.8" r="2.6" fill="#bf5a3c" fill-opacity="0.85"/>
<circle cx="978.15" cy="1190.27" r="2.6" fill="#bf5a3c" fill-opacity="0.85"/>
<circle cx="980.31" cy="1198.1" r="2.6" fill="#bf5a3c" fill-opacity="0.85"/>
<circle cx="983.85" cy="1187.19" r="2.6" fill="#bf5a3c" fill-opacity="0.85"/>
<circle cx="985.61" cy="1192.04" r="2.6" fill="#bf5a3c" fill-opacity="0.85"/>
<circle cx="988.26" cy="1187.93" r="2.6" fill="#bf5a3c" fill-opacity="0.85"/>
<circle cx="990.35" cy="1191.75" r="2.6" fill="#bf5a3c" fill-opacity="0.85"/>
<circle cx="993.26" cy="1194.48" r="2.6" fill="#bf5a3c" fill-opacity="0.85"/>
<circle cx="995.74" cy="1194.79" r="2.6" fill="#bf5a3c" fill-opacity="0.85"/>
<circle cx="998.41" cy="1191.76" r="2.6" fill="#bf5a3c" fill-opacity="0.85"/>
<circle cx="999.66" cy="1190.41" r="2.6" fill="#bf5a3c" fill-opacity="0.85"/>
<circle cx="1003.08" cy="1188.6" r="2.6" fill="#bf5a3c" fill-opacity="0.85"/>
<circle cx="1004.41" cy="1191.14" r="2.6" fill="#bf5a3c" fill-opacity="0.85"/>
<circle cx="1006.92" cy="1189.71" r="2.6" fill="#bf5a3c" fill-opacity="0.85"/>
<circle cx="1009.89" cy="1188.65" r="2.6" fill="#bf5a3c" fill-opacity="0.85"/>
<circle cx="1011.9" cy="1195.11" r="2.6" fill="#bf5a3c" fill-opacity="0.85"/>
<circle cx="1014.38" cy="1192.49" r="2.6" fill="#bf5a3c" fill-opacity="0.85"/>
<circle cx="1017.31" cy="1191.57" r="2.6" fill="#bf5a3c" fill-opacity="0.85"/>
<circle cx="1019.4" cy="1188.69" r="2.6" fill="#bf5a3c" fill-opacity="0.85"/>
<circle cx="1023.13" cy="1194.73" r="2.6" fill="#bf5a3c" fill-opacity="0.85"/>
<circle cx="1025.01" cy="1188.68" r="2.6" fill="#bf5a3c" fill-opacity="0.85"/>
<circle cx="1029.27" cy="1189.5" r="2.6" fill="#bf5a3c" fill-opacity="0.85"/>
<circle cx="1032.56" cy="1193.02" r="2.6" fill="#bf5a3c" fill-opacity="0.85"/>
<circle cx="1035.59" cy="1194.7" r="2.6" fill="#bf5a3c" fill-opacity="0.85"/>
<circle cx="1038.31" cy="1197.94" r="2.6" fill="#bf5a3c" fill-opacity="0.85"/>
<circle cx="1044.78" cy="1195.25" r="2.6" fill="#bf5a3c" fill-opacity="0.85"/>
<circle cx="1047.65" cy="1197.65" r="2.6" fill="#bf5a3c" fill-opacity="0.85"/>
<circle cx="1055.84" cy="1197.31" r="2.6" fill="#bf5a3c" fill-opacity="0.85"/>
<circle cx="1064.41" cy="1194.95" r="2.6" fill="#bf5a3c" fill-opacity="0.85"/>
<circle cx="1078.88" cy="1194.92" r="2.6" fill="#bf5a3c" fill-opacity="0.85"/>
<line x1="940.39" y1="1206.5" x2="956.59" y2="1206.5" stroke="#000" stroke-width="1.3"/>
<line x1="940.39" y1="1204.5" x2="940.39" y2="1208.5" stroke="#000" stroke-width="1.3"/>
<line x1="956.59" y1="1204.5" x2="956.59" y2="1208.5" stroke="#000" stroke-width="1.3"/>
<circle cx="820.55" cy="1209.27" r="2.6" fill="#6a9c69" fill-opacity="0.85"/>
<circle cx="855.05" cy="1205.12" r="2.6" fill="#6a9c69" fill-opacity="0.85"/>
<circle cx="867.3" cy="1210.22" r="2.6" fill="#6a9c69" fill-opacity="0.85"/>
<circle cx="881.22" cy="1210.57" r="2.6" fill="#6a9c69" fill-opacity="0.85"/>
<circle cx="887.66" cy="1202.13" r="2.6" fill="#6a9c69" fill-opacity="0.85"/>
<circle cx="893.42" cy="1200.69" r="2.6" fill="#6a9c69" fill-opacity="0.85"/>
<circle cx="897.7" cy="1203.09" r="2.6" fill="#6a9c69" fill-opacity="0.85"/>
<circle cx="902.96" cy="1207.52" r="2.6" fill="#6a9c69" fill-opacity="0.85"/>
<circle cx="907.03" cy="1205.06" r="2.6" fill="#6a9c69" fill-opacity="0.85"/>
<circle cx="912.49" cy="1200.64" r="2.6" fill="#6a9c69" fill-opacity="0.85"/>
<circle cx="917.31" cy="1210.44" r="2.6" fill="#6a9c69" fill-opacity="0.85"/>
<circle cx="919.54" cy="1209.91" r="2.6" fill="#6a9c69" fill-opacity="0.85"/>
<circle cx="922.65" cy="1206.07" r="2.6" fill="#6a9c69" fill-opacity="0.85"/>
<circle cx="926.49" cy="1201.05" r="2.6" fill="#6a9c69" fill-opacity="0.85"/>
<circle cx="930.31" cy="1211.14" r="2.6" fill="#6a9c69" fill-opacity="0.85"/>
<circle cx="934.75" cy="1206.91" r="2.6" fill="#6a9c69" fill-opacity="0.85"/>
<circle cx="937.84" cy="1201.38" r="2.6" fill="#6a9c69" fill-opacity="0.85"/>
<circle cx="940.4" cy="1204.39" r="2.6" fill="#6a9c69" fill-opacity="0.85"/>
<circle cx="942.94" cy="1207.99" r="2.6" fill="#6a9c69" fill-opacity="0.85"/>
<circle cx="946.15" cy="1211.1" r="2.6" fill="#6a9c69" fill-opacity="0.85"/>
<circle cx="949.42" cy="1206.32" r="2.6" fill="#6a9c69" fill-opacity="0.85"/>
<circle cx="953.81" cy="1208.16" r="2.6" fill="#6a9c69" fill-opacity="0.85"/>
<circle cx="956.44" cy="1202.99" r="2.6" fill="#6a9c69" fill-opacity="0.85"/>
<circle cx="960.7" cy="1203.44" r="2.6" fill="#6a9c69" fill-opacity="0.85"/>
<circle cx="963.85" cy="1211.34" r="2.6" fill="#6a9c69" fill-opacity="0.85"/>
<circle cx="966.98" cy="1205.1" r="2.6" fill="#6a9c69" fill-opacity="0.85"/>
<circle cx="969.77" cy="1201.78" r="2.6" fill="#6a9c69" fill-opacity="0.85"/>
<circle cx="974.05" cy="1207.59" r="2.6" fill="#6a9c69" fill-opacity="0.85"/>
<circle cx="976.18" cy="1202.04" r="2.6" fill="#6a9c69" fill-opacity="0.85"/>
<circle cx="979.91" cy="1202.92" r="2.6" fill="#6a9c69" fill-opacity="0.85"/>
<circle cx="984.98" cy="1205.98" r="2.6" fill="#6a9c69" fill-opacity="0.85"/>
<circle cx="989.09" cy="1207.52" r="2.6" fill="#6a9c69" fill-opacity="0.85"/>
<circle cx="992.79" cy="1208.13" r="2.6" fill="#6a9c69" fill-opacity="0.85"/>
<circle cx="997.78" cy="1208.97" r="2.6" fill="#6a9c69" fill-opacity="0.85"/>
<circle cx="1002.38" cy="1205.78" r="2.6" fill="#6a9c69" fill-opacity="0.85"/>
<circle cx="1011.87" cy="1201.34" r="2.6" fill="#6a9c69" fill-opacity="0.85"/>
<circle cx="1018.49" cy="1209.18" r="2.6" fill="#6a9c69" fill-opacity="0.85"/>
<circle cx="1029.4" cy="1201.18" r="2.6" fill="#6a9c69" fill-opacity="0.85"/>
<circle cx="1043.93" cy="1206.15" r="2.6" fill="#6a9c69" fill-opacity="0.85"/>
<circle cx="1058.94" cy="1205.31" r="2.6" fill="#6a9c69" fill-opacity="0.85"/>
<path d="M1120.7,800.7 L1127.2,800.7 L1127.2,814.9 L1120.7,814.9" fill="none" stroke="#000" stroke-width="1.7"/>
<text x="1126.2" y="807.8" font-size="13" text-anchor="middle" transform="rotate(90 1126.2 807.8)">*</text>
<path d="M1021.4,836.3 L1027.9,836.3 L1027.9,850.5 L1021.4,850.5" fill="none" stroke="#000" stroke-width="1.7"/>
<text x="1026.9" y="843.4" font-size="13" text-anchor="middle" transform="rotate(90 1026.9 843.4)">***</text>
<path d="M1046.9,871.9 L1053.4,871.9 L1053.4,886.1 L1046.9,886.1" fill="none" stroke="#000" stroke-width="1.7"/>
<text x="1052.4" y="879" font-size="13" text-anchor="middle" transform="rotate(90 1052.4 879)">***</text>
<path d="M1084.3,907.5 L1090.8,907.5 L1090.8,921.7 L1084.3,921.7" fill="none" stroke="#000" stroke-width="1.7"/>
<text x="1089.8" y="914.6" font-size="13" text-anchor="middle" transform="rotate(90 1089.8 914.6)">***</text>
<path d="M1155.7,943.1 L1162.2,943.1 L1162.2,957.3 L1155.7,957.3" fill="none" stroke="#000" stroke-width="1.7"/>
<text x="1161.2" y="950.2" font-size="13" text-anchor="middle" transform="rotate(90 1161.2 950.2)">**</text>
<path d="M1072.2,978.7 L1078.7,978.7 L1078.7,992.9 L1072.2,992.9" fill="none" stroke="#000" stroke-width="1.7"/>
<text x="1077.7" y="985.8" font-size="13" text-anchor="middle" transform="rotate(90 1077.7 985.8)">***</text>
<path d="M1112.8,1014.3 L1119.3,1014.3 L1119.3,1028.5 L1112.8,1028.5" fill="none" stroke="#000" stroke-width="1.7"/>
<text x="1118.3" y="1021.4" font-size="13" text-anchor="middle" transform="rotate(90 1118.3 1021.4)">***</text>
<path d="M1134.5,1049.9 L1141,1049.9 L1141,1064.1 L1134.5,1064.1" fill="none" stroke="#000" stroke-width="1.7"/>
<text x="1140" y="1057" font-size="13" text-anchor="middle" transform="rotate(90 1140 1057)">***</text>
<path d="M1013.1,1085.5 L1019.6,1085.5 L1019.6,1099.7 L1013.1,1099.7" fill="none" stroke="#000" stroke-width="1.7"/>
<text x="1018.6" y="1092.6" font-size="13" text-anchor="middle" transform="rotate(90 1018.6 1092.6)">***</text>
<path d="M980.8,1121.1 L987.3,1121.1 L987.3,1135.3 L980.8,1135.3" fill="none" stroke="#000" stroke-width="1.7"/>
<text x="986.3" y="1128.2" font-size="13" text-anchor="middle" transform="rotate(90 986.3 1128.2)">***</text>
<path d="M1011.5,1156.7 L1018,1156.7 L1018,1170.9 L1011.5,1170.9" fill="none" stroke="#000" stroke-width="1.7"/>
<text x="1017" y="1163.8" font-size="13" text-anchor="middle" transform="rotate(90 1017 1163.8)">***</text>
<path d="M1085.8,1192.3 L1092.3,1192.3 L1092.3,1206.5 L1085.8,1206.5" fill="none" stroke="#000" stroke-width="1.7"/>
<text x="1091.3" y="1199.4" font-size="13" text-anchor="middle" transform="rotate(90 1091.3 1199.4)">***</text>
<rect x="773.1" y="750.2" width="416.2" height="470.1" fill="none" stroke="#000" stroke-width="1.6"/>
<line x1="767.1" y1="772.2" x2="773.1" y2="772.2" stroke="#000" stroke-width="1.5"/>
<text font-size="13.85" text-anchor="end" transform="translate(761.2 777.2) scale(1 1.1)">Type_II_IFN_Reponse</text>
<line x1="767.1" y1="807.8" x2="773.1" y2="807.8" stroke="#000" stroke-width="1.5"/>
<text font-size="13.85" text-anchor="end" transform="translate(761.2 812.8) scale(1 1.1)">Type_I_IFN_Reponse</text>
<line x1="767.1" y1="843.4" x2="773.1" y2="843.4" stroke="#000" stroke-width="1.5"/>
<text font-size="13.85" text-anchor="end" transform="translate(761.2 848.4) scale(1 1.1)">T_cell_co&#8722;stimulation</text>
<line x1="767.1" y1="879" x2="773.1" y2="879" stroke="#000" stroke-width="1.5"/>
<text font-size="13.85" text-anchor="end" transform="translate(761.2 884) scale(1 1.1)">T_cell_co&#8722;inhibition</text>
<line x1="767.1" y1="914.6" x2="773.1" y2="914.6" stroke="#000" stroke-width="1.5"/>
<text font-size="13.85" text-anchor="end" transform="translate(761.2 919.6) scale(1 1.1)">Parainflammation</text>
<line x1="767.1" y1="950.2" x2="773.1" y2="950.2" stroke="#000" stroke-width="1.5"/>
<text font-size="13.85" text-anchor="end" transform="translate(761.2 955.2) scale(1 1.1)">MHC_class_I</text>
<line x1="767.1" y1="985.8" x2="773.1" y2="985.8" stroke="#000" stroke-width="1.5"/>
<text font-size="13.85" text-anchor="end" transform="translate(761.2 990.8) scale(1 1.1)">Inflammation&#8722;promoting</text>
<line x1="767.1" y1="1021.4" x2="773.1" y2="1021.4" stroke="#000" stroke-width="1.5"/>
<text font-size="13.85" text-anchor="end" transform="translate(761.2 1026.4) scale(1 1.1)">HLA</text>
<line x1="767.1" y1="1057" x2="773.1" y2="1057" stroke="#000" stroke-width="1.5"/>
<text font-size="13.85" text-anchor="end" transform="translate(761.2 1062) scale(1 1.1)">Cytolytic_activity</text>
<line x1="767.1" y1="1092.6" x2="773.1" y2="1092.6" stroke="#000" stroke-width="1.5"/>
<text font-size="13.85" text-anchor="end" transform="translate(761.2 1097.6) scale(1 1.1)">Check&#8722;point</text>
<line x1="767.1" y1="1128.2" x2="773.1" y2="1128.2" stroke="#000" stroke-width="1.5"/>
<text font-size="13.85" text-anchor="end" transform="translate(761.2 1133.2) scale(1 1.1)">CCR</text>
<line x1="767.1" y1="1163.8" x2="773.1" y2="1163.8" stroke="#000" stroke-width="1.5"/>
<text font-size="13.85" text-anchor="end" transform="translate(761.2 1168.8) scale(1 1.1)">APC_co_stimulation</text>
<line x1="767.1" y1="1199.4" x2="773.1" y2="1199.4" stroke="#000" stroke-width="1.5"/>
<text font-size="13.85" text-anchor="end" transform="translate(761.2 1204.4) scale(1 1.1)">APC_co_inhibition</text>
<line x1="773.1" y1="1220.3" x2="773.1" y2="1225.8" stroke="#000" stroke-width="1.5"/>
<text font-size="13.6" text-anchor="middle" transform="translate(774.4 1243.4) scale(1 1.1)">0.0</text>
<line x1="848.7" y1="1220.3" x2="848.7" y2="1225.8" stroke="#000" stroke-width="1.5"/>
<text font-size="13.6" text-anchor="middle" transform="translate(850 1243.4) scale(1 1.1)">0.2</text>
<line x1="924.3" y1="1220.3" x2="924.3" y2="1225.8" stroke="#000" stroke-width="1.5"/>
<text font-size="13.6" text-anchor="middle" transform="translate(925.6 1243.4) scale(1 1.1)">0.4</text>
<line x1="999.9" y1="1220.3" x2="999.9" y2="1225.8" stroke="#000" stroke-width="1.5"/>
<text font-size="13.6" text-anchor="middle" transform="translate(1001.2 1243.4) scale(1 1.1)">0.6</text>
<line x1="1075.5" y1="1220.3" x2="1075.5" y2="1225.8" stroke="#000" stroke-width="1.5"/>
<text font-size="13.6" text-anchor="middle" transform="translate(1076.8 1243.4) scale(1 1.1)">0.8</text>
<line x1="1151.1" y1="1220.3" x2="1151.1" y2="1225.8" stroke="#000" stroke-width="1.5"/>
<text font-size="13.6" text-anchor="middle" transform="translate(1152.4 1243.4) scale(1 1.1)">1.0</text>
<text x="981" y="1262.6" font-size="16.2" text-anchor="middle">Immune Function Score</text>
<text x="607.5" y="753" font-size="35" text-anchor="start">L</text>
<text font-size="13.6" text-anchor="start" transform="translate(1196 971.9) scale(1 1.1)">GRN</text>
<rect x="1196.5" y="978" width="15.3" height="14.2" fill="#8fb28c" stroke="#000" stroke-width="1.6"/>
<circle cx="1204.15" cy="985.1" r="2.4" fill="#6a9c69"/>
<rect x="1196.5" y="994.5" width="15.3" height="14.2" fill="#c2826f" stroke="#000" stroke-width="1.6"/>
<circle cx="1204.15" cy="1001.6" r="2.4" fill="#bf5a3c"/>
<text font-size="13.6" text-anchor="start" transform="translate(1219.8 990) scale(1 1.1)">Low</text>
<text font-size="13.6" text-anchor="start" transform="translate(1219.8 1006.5) scale(1 1.1)">High</text>
<line x1="1353" y1="758" x2="1712.2" y2="758" stroke="#f0f0f0" stroke-width="1.5"/>
<line x1="1353" y1="810.6" x2="1712.2" y2="810.6" stroke="#f0f0f0" stroke-width="1.5"/>
<line x1="1353" y1="863.2" x2="1712.2" y2="863.2" stroke="#f0f0f0" stroke-width="1.5"/>
<line x1="1353" y1="915.8" x2="1712.2" y2="915.8" stroke="#f0f0f0" stroke-width="1.5"/>
<line x1="1353" y1="968.4" x2="1712.2" y2="968.4" stroke="#f0f0f0" stroke-width="1.5"/>
<line x1="1353" y1="731.7" x2="1712.2" y2="731.7" stroke="#e6e6e6" stroke-width="2.2"/>
<line x1="1353" y1="784.3" x2="1712.2" y2="784.3" stroke="#e6e6e6" stroke-width="2.2"/>
<line x1="1353" y1="836.9" x2="1712.2" y2="836.9" stroke="#e6e6e6" stroke-width="2.2"/>
<line x1="1353" y1="889.5" x2="1712.2" y2="889.5" stroke="#e6e6e6" stroke-width="2.2"/>
<line x1="1353" y1="942.1" x2="1712.2" y2="942.1" stroke="#e6e6e6" stroke-width="2.2"/>
<line x1="1420.4" y1="728.6" x2="1420.4" y2="970.1" stroke="#e6e6e6" stroke-width="2.2"/>
<line x1="1533" y1="728.6" x2="1533" y2="970.1" stroke="#e6e6e6" stroke-width="2.2"/>
<line x1="1645.7" y1="728.6" x2="1645.7" y2="970.1" stroke="#e6e6e6" stroke-width="2.2"/>
<path d="M1420.36,847.62 C1419.97,848.44 1419.25,850.7 1418.05,852.53 C1416.84,854.36 1415.25,856.53 1413.13,858.6 C1411.02,860.67 1408.46,862.84 1405.33,864.96 C1402.2,867.08 1398.01,869.19 1394.35,871.31 C1390.69,873.43 1386.5,875.7 1383.37,877.67 C1380.24,879.64 1376.1,881.33 1375.57,883.16 C1375.04,884.99 1377.6,886.96 1380.2,888.65 C1382.8,890.33 1387.76,891.44 1391.18,893.27 C1394.6,895.1 1398.21,897.27 1400.71,899.63 C1403.21,901.99 1404.9,905.07 1406.2,907.43 C1407.5,909.79 1407.6,911.96 1408.51,913.79 C1409.43,915.62 1410.39,916.58 1411.69,918.41 C1412.99,920.24 1415.06,922.65 1416.31,924.77 C1417.57,926.88 1418.53,927.99 1419.2,931.12 C1419.88,934.25 1420.17,941.48 1420.36,943.55 L1420.36,943.55 L1420.36,847.62 Z" fill="#689667" fill-opacity="0.85" stroke="#000" stroke-width="1.3" stroke-linejoin="round"/>
<path d="M1420.36,803.7 C1420.6,805 1421.27,808.9 1421.8,811.5 C1422.33,814.1 1423.25,816.42 1423.54,819.31 C1423.83,822.19 1423.15,826.19 1423.54,828.84 C1423.92,831.49 1424.16,833.37 1425.85,835.2 C1427.53,837.03 1430.52,838.28 1433.65,839.82 C1436.78,841.36 1441.21,842.85 1444.63,844.44 C1448.05,846.03 1451.51,847.52 1454.16,849.35 C1456.81,851.18 1458.93,853.06 1460.52,855.42 C1462.11,857.78 1463.07,861.01 1463.7,863.51 C1464.32,866.02 1464.81,868.38 1464.28,870.45 C1463.75,872.52 1462.49,874.2 1460.52,875.94 C1458.55,877.67 1455.61,879.26 1452.43,880.85 C1449.25,882.44 1444.82,883.93 1441.45,885.47 C1438.08,887.01 1434.8,888.5 1432.2,890.09 C1429.6,891.68 1427.58,893.18 1425.85,895.01 C1424.11,896.84 1422.72,899 1421.8,901.07 C1420.89,903.14 1420.6,905.84 1420.36,907.43 C1420.12,909.02 1420.36,910.08 1420.36,910.61 L1420.36,910.61 L1420.36,803.7 Z" fill="#b15a42" fill-opacity="0.85" stroke="#000" stroke-width="1.3" stroke-linejoin="round"/>
<line x1="1409.38" y1="856.58" x2="1409.38" y2="876.8" stroke="#000" stroke-width="1.4"/>
<line x1="1409.38" y1="895.01" x2="1409.38" y2="917.25" stroke="#000" stroke-width="1.4"/>
<rect x="1403.6" y="876.8" width="11.56" height="18.2" fill="#5f915e" stroke="#000" stroke-width="1.4"/>
<line x1="1403.6" y1="884.03" x2="1415.16" y2="884.03" stroke="#000" stroke-width="2.6"/>
<line x1="1431.48" y1="839.82" x2="1431.48" y2="855.13" stroke="#000" stroke-width="1.4"/>
<line x1="1431.48" y1="874.78" x2="1431.48" y2="896.16" stroke="#000" stroke-width="1.4"/>
<rect x="1425.85" y="855.13" width="11.27" height="19.65" fill="#b5553d" stroke="#000" stroke-width="1.4"/>
<line x1="1425.85" y1="864.38" x2="1437.12" y2="864.38" stroke="#000" stroke-width="2.6"/>
<circle cx="1409.38" cy="925.34" r="1.3" fill="#8a8a8a"/>
<circle cx="1432.2" cy="821.91" r="1.3" fill="#8a8a8a"/>
<path d="M1533.04,840.4 C1532.42,841.22 1530.97,843.82 1529.29,845.31 C1527.6,846.8 1525.67,847.86 1522.93,849.35 C1520.18,850.85 1516.19,852.63 1512.82,854.27 C1509.45,855.9 1505.64,857.73 1502.7,859.18 C1499.77,860.62 1496.64,861.63 1495.19,862.93 C1493.75,864.23 1493.84,865.49 1494.04,866.98 C1494.23,868.47 1495.43,870.25 1496.35,871.89 C1497.26,873.53 1499.72,874.92 1499.53,876.8 C1499.33,878.68 1496.97,881.47 1495.19,883.16 C1493.41,884.84 1490.09,885.76 1488.84,886.92 C1487.58,888.07 1487.25,889.03 1487.68,890.09 C1488.11,891.15 1489.12,892.12 1491.44,893.27 C1493.75,894.43 1497.79,895.78 1501.55,897.03 C1505.3,898.28 1510.41,899.53 1513.97,900.78 C1517.54,902.04 1520.38,903.29 1522.93,904.54 C1525.48,905.79 1527.6,906.8 1529.29,908.3 C1530.97,909.79 1532.42,912.63 1533.04,913.5 L1533.04,913.5 L1533.04,840.4 Z" fill="#689667" fill-opacity="0.85" stroke="#000" stroke-width="1.3" stroke-linejoin="round"/>
<path d="M1533.04,820.17 C1533.14,821.66 1532.99,826.58 1533.62,829.13 C1534.25,831.68 1535.64,833.17 1536.8,835.49 C1537.95,837.8 1539.11,840.69 1540.55,843 C1542,845.31 1543.4,847.48 1545.47,849.35 C1547.54,851.23 1550.04,852.63 1552.98,854.27 C1555.92,855.9 1559.72,857.49 1563.09,859.18 C1566.46,860.86 1570.7,862.6 1573.2,864.38 C1575.71,866.16 1577.92,867.99 1578.12,869.87 C1578.31,871.75 1576.43,873.87 1574.36,875.65 C1572.29,877.43 1568.82,879.11 1565.69,880.56 C1562.56,882 1558.71,883.26 1555.58,884.32 C1552.45,885.37 1549.13,885.86 1546.91,886.92 C1544.7,887.98 1543.35,888.99 1542.29,890.67 C1541.23,892.36 1541.47,894.48 1540.55,897.03 C1539.64,899.58 1537.95,903.48 1536.8,905.99 C1535.64,908.49 1534.25,909.55 1533.62,912.05 C1532.99,914.56 1533.14,919.52 1533.04,921.01 L1533.04,921.01 L1533.04,820.17 Z" fill="#b15a42" fill-opacity="0.85" stroke="#000" stroke-width="1.3" stroke-linejoin="round"/>
<line x1="1521.63" y1="853.11" x2="1521.63" y2="865.82" stroke="#000" stroke-width="1.4"/>
<line x1="1521.63" y1="889.23" x2="1521.63" y2="902.23" stroke="#000" stroke-width="1.4"/>
<rect x="1516" y="865.82" width="11.27" height="23.4" fill="#5f915e" stroke="#000" stroke-width="1.4"/>
<line x1="1516" y1="876.8" x2="1527.26" y2="876.8" stroke="#000" stroke-width="2.6"/>
<line x1="1544.46" y1="836.35" x2="1544.46" y2="861.2" stroke="#000" stroke-width="1.4"/>
<line x1="1544.46" y1="878.25" x2="1544.46" y2="894.14" stroke="#000" stroke-width="1.4"/>
<rect x="1538.82" y="861.2" width="11.27" height="17.05" fill="#b5553d" stroke="#000" stroke-width="1.4"/>
<line x1="1538.82" y1="868.13" x2="1550.09" y2="868.13" stroke="#000" stroke-width="2.6"/>
<circle cx="1544.31" cy="904.25" r="1.3" fill="#8a8a8a"/>
<path d="M1645.73,816.13 C1644.52,817.48 1641.78,821.47 1638.5,824.22 C1635.23,826.96 1630.17,829.85 1626.08,832.6 C1621.99,835.34 1617.65,837.99 1613.94,840.69 C1610.24,843.38 1606.05,846.03 1603.83,848.78 C1601.62,851.52 1600.85,854.75 1600.65,857.16 C1600.46,859.56 1601.47,860.86 1602.68,863.22 C1603.88,865.58 1606,868.23 1607.88,871.31 C1609.75,874.4 1612.07,878.3 1613.94,881.71 C1615.82,885.13 1617.8,888.79 1619.14,891.83 C1620.49,894.86 1621.02,896.84 1622.03,899.92 C1623.05,903 1623.82,906.9 1625.21,910.32 C1626.61,913.74 1628.54,917.35 1630.41,920.43 C1632.29,923.51 1634.46,926.07 1636.48,928.81 C1638.5,931.56 1641.15,934.54 1642.55,936.9 C1643.94,939.26 1644.35,940.95 1644.86,942.97 C1645.37,944.99 1645.44,945.52 1645.58,949.04 C1645.73,952.55 1645.7,961.56 1645.73,964.06 L1645.73,964.06 L1645.73,816.13 Z" fill="#689667" fill-opacity="0.85" stroke="#000" stroke-width="1.3" stroke-linejoin="round"/>
<path d="M1645.73,740.43 C1645.87,742.5 1646.26,747.75 1646.59,752.85 C1646.93,757.95 1647.56,765.27 1647.75,771.05 C1647.94,776.83 1647.41,782.37 1647.75,787.52 C1648.09,792.68 1648.57,798.55 1649.77,801.97 C1650.98,805.39 1652.42,805.82 1654.97,808.04 C1657.52,810.25 1661.38,812.56 1665.09,815.26 C1668.79,817.96 1673.66,821.33 1677.22,824.22 C1680.78,827.11 1684.2,829.85 1686.47,832.6 C1688.73,835.34 1690.46,837.65 1690.8,840.69 C1691.14,843.72 1690.03,847.38 1688.49,850.8 C1686.95,854.22 1684.44,857.44 1681.55,861.2 C1678.67,864.96 1674.57,869.24 1671.15,873.34 C1667.73,877.43 1664.27,882 1661.04,885.76 C1657.81,889.52 1654.01,892.12 1651.79,895.87 C1649.58,899.63 1648.66,904.2 1647.75,908.3 C1646.83,912.39 1646.64,916.34 1646.3,920.43 C1645.97,924.53 1645.82,930.79 1645.73,932.86 L1645.73,932.86 L1645.73,740.43 Z" fill="#b15a42" fill-opacity="0.85" stroke="#000" stroke-width="1.3" stroke-linejoin="round"/>
<line x1="1634.17" y1="836.93" x2="1634.17" y2="854.56" stroke="#000" stroke-width="1.4"/>
<line x1="1634.17" y1="892.12" x2="1634.17" y2="930.26" stroke="#000" stroke-width="1.4"/>
<rect x="1628.39" y="854.56" width="11.56" height="37.56" fill="#5f915e" stroke="#000" stroke-width="1.4"/>
<line x1="1628.39" y1="866.11" x2="1639.95" y2="866.11" stroke="#000" stroke-width="2.6"/>
<line x1="1657" y1="799.37" x2="1657" y2="829.71" stroke="#000" stroke-width="1.4"/>
<line x1="1657" y1="859.47" x2="1657" y2="888.36" stroke="#000" stroke-width="1.4"/>
<rect x="1651.51" y="829.71" width="10.98" height="29.76" fill="#b5553d" stroke="#000" stroke-width="1.4"/>
<line x1="1651.51" y1="845.02" x2="1662.48" y2="845.02" stroke="#000" stroke-width="2.6"/>
<circle cx="1657" cy="768.45" r="1.3" fill="#8a8a8a"/>
<circle cx="1657" cy="912.05" r="1.3" fill="#8a8a8a"/>
<path d="M1409.38,744 L1409.38,740.4 L1432.2,740.4 L1432.2,744" fill="none" stroke="#000" stroke-width="1.5"/>
<text x="1420.79" y="741.6" font-size="16.3" text-anchor="middle">***</text>
<path d="M1521.49,744 L1521.49,740.4 L1544.31,740.4 L1544.31,744" fill="none" stroke="#000" stroke-width="1.5"/>
<text x="1532.9" y="741.6" font-size="16.3" text-anchor="middle">*</text>
<path d="M1634.17,744 L1634.17,740.4 L1657,740.4 L1657,744" fill="none" stroke="#000" stroke-width="1.5"/>
<text x="1645.58" y="741.6" font-size="16.3" text-anchor="middle">***</text>
<rect x="1353" y="728.6" width="359.2" height="241.5" fill="none" stroke="#000" stroke-width="1.6"/>
<line x1="1348" y1="731.7" x2="1353" y2="731.7" stroke="#000" stroke-width="1.4"/>
<text font-size="11.3" text-anchor="end" transform="translate(1344.5 735.7) scale(1 1.1)">6000</text>
<line x1="1348" y1="784.3" x2="1353" y2="784.3" stroke="#000" stroke-width="1.4"/>
<text font-size="11.3" text-anchor="end" transform="translate(1344.5 788.3) scale(1 1.1)">4000</text>
<line x1="1348" y1="836.9" x2="1353" y2="836.9" stroke="#000" stroke-width="1.4"/>
<text font-size="11.3" text-anchor="end" transform="translate(1344.5 840.9) scale(1 1.1)">2000</text>
<line x1="1348" y1="889.5" x2="1353" y2="889.5" stroke="#000" stroke-width="1.4"/>
<text font-size="11.3" text-anchor="end" transform="translate(1344.5 893.5) scale(1 1.1)">0</text>
<line x1="1348" y1="942.1" x2="1353" y2="942.1" stroke="#000" stroke-width="1.4"/>
<text font-size="11.3" text-anchor="end" transform="translate(1344.5 946.1) scale(1 1.1)">&#8722;2000</text>
<line x1="1420.4" y1="970.1" x2="1420.4" y2="975.1" stroke="#000" stroke-width="1.4"/>
<text font-size="11.2" text-anchor="middle" transform="translate(1420.4 989.5) scale(1 1.1)">ImmuneScore</text>
<line x1="1533" y1="970.1" x2="1533" y2="975.1" stroke="#000" stroke-width="1.4"/>
<text font-size="11.2" text-anchor="middle" transform="translate(1533 989.5) scale(1 1.1)">StromalScore</text>
<line x1="1645.7" y1="970.1" x2="1645.7" y2="975.1" stroke="#000" stroke-width="1.4"/>
<text font-size="11.2" text-anchor="middle" transform="translate(1645.7 989.5) scale(1 1.1)">ESTIMATEScore</text>
<text x="1303.6" y="849.35" font-size="13" text-anchor="middle" transform="rotate(-90 1303.6 849.35)">TME Score</text>
<text x="1273.5" y="752.6" font-size="35" text-anchor="start">M</text>
<text font-size="11.2" text-anchor="start" transform="translate(1718.6 838.9) scale(1 1.1)">GRN</text>
<rect x="1719.1" y="843.9" width="12" height="12" fill="#82a582" stroke="#000" stroke-width="1.5"/>
<rect x="1719.1" y="857.5" width="12" height="12" fill="#be7869" stroke="#000" stroke-width="1.5"/>
<text font-size="11.2" text-anchor="start" transform="translate(1737.6 854) scale(1 1.1)">Low</text>
<text font-size="11.2" text-anchor="start" transform="translate(1737.6 867.3) scale(1 1.1)">High</text>
<line x1="1346.1" y1="1052.2" x2="1707.3" y2="1052.2" stroke="#f0f0f0" stroke-width="1.5"/>
<line x1="1346.1" y1="1093.2" x2="1707.3" y2="1093.2" stroke="#f0f0f0" stroke-width="1.5"/>
<line x1="1346.1" y1="1134.2" x2="1707.3" y2="1134.2" stroke="#f0f0f0" stroke-width="1.5"/>
<line x1="1346.1" y1="1175.2" x2="1707.3" y2="1175.2" stroke="#f0f0f0" stroke-width="1.5"/>
<line x1="1346.1" y1="1216.2" x2="1707.3" y2="1216.2" stroke="#f0f0f0" stroke-width="1.5"/>
<line x1="1346.1" y1="1031.7" x2="1707.3" y2="1031.7" stroke="#e6e6e6" stroke-width="2.2"/>
<line x1="1346.1" y1="1072.7" x2="1707.3" y2="1072.7" stroke="#e6e6e6" stroke-width="2.2"/>
<line x1="1346.1" y1="1113.7" x2="1707.3" y2="1113.7" stroke="#e6e6e6" stroke-width="2.2"/>
<line x1="1346.1" y1="1154.7" x2="1707.3" y2="1154.7" stroke="#e6e6e6" stroke-width="2.2"/>
<line x1="1346.1" y1="1195.7" x2="1707.3" y2="1195.7" stroke="#e6e6e6" stroke-width="2.2"/>
<line x1="1346.1" y1="1236.7" x2="1707.3" y2="1236.7" stroke="#e6e6e6" stroke-width="2.2"/>
<line x1="1414" y1="1010.2" x2="1414" y2="1244.3" stroke="#e6e6e6" stroke-width="2.2"/>
<line x1="1526.7" y1="1010.2" x2="1526.7" y2="1244.3" stroke="#e6e6e6" stroke-width="2.2"/>
<line x1="1639.4" y1="1010.2" x2="1639.4" y2="1244.3" stroke="#e6e6e6" stroke-width="2.2"/>
<path d="M1414,1064.83 C1413.66,1066.18 1412.46,1069.94 1411.98,1072.92 C1411.5,1075.91 1411.21,1079.14 1411.11,1082.75 C1411.02,1086.36 1411.16,1090.69 1411.4,1094.59 C1411.64,1098.49 1412.27,1102.88 1412.56,1106.15 C1412.85,1109.43 1413.71,1111.59 1413.13,1114.24 C1412.56,1116.89 1410.73,1119.78 1409.09,1122.04 C1407.45,1124.31 1405.09,1125.85 1403.31,1127.82 C1401.53,1129.8 1399.56,1131.58 1398.4,1133.89 C1397.24,1136.2 1397.87,1139.43 1396.38,1141.69 C1394.88,1143.95 1392.24,1145.49 1389.44,1147.47 C1386.65,1149.44 1382.56,1151.23 1379.62,1153.54 C1376.68,1155.85 1373.6,1158.88 1371.82,1161.34 C1370.04,1163.79 1368.59,1165.62 1368.93,1168.27 C1369.27,1170.92 1371.05,1174.1 1373.84,1177.23 C1376.63,1180.36 1381.79,1183.78 1385.69,1187.05 C1389.59,1190.33 1393.97,1193.94 1397.24,1196.88 C1400.52,1199.81 1403.02,1202.08 1405.33,1204.68 C1407.65,1207.28 1409.76,1209.54 1411.11,1212.48 C1412.46,1215.42 1412.94,1218.21 1413.42,1222.3 C1413.91,1226.4 1413.91,1234.58 1414,1237.04 L1414,1237.04 L1414,1064.83 Z" fill="#50884f" fill-opacity="0.85" stroke="#000" stroke-width="1.3" stroke-linejoin="round"/>
<path d="M1414,1021.78 C1414.1,1024.05 1414.1,1031.46 1414.58,1035.36 C1415.06,1039.26 1416.17,1041.91 1416.89,1045.19 C1417.61,1048.46 1418.38,1051.06 1418.91,1055.01 C1419.44,1058.96 1419.73,1064.26 1420.07,1068.88 C1420.41,1073.5 1420.45,1078.46 1420.94,1082.75 C1421.42,1087.03 1421.95,1090.98 1422.96,1094.59 C1423.97,1098.21 1424.4,1101.14 1427,1104.42 C1429.6,1107.69 1435.29,1110.97 1438.56,1114.24 C1441.84,1117.52 1444.34,1120.16 1446.65,1124.07 C1448.96,1127.97 1450.5,1133.41 1452.43,1137.65 C1454.36,1141.88 1457.05,1146.22 1458.21,1149.49 C1459.36,1152.77 1459.65,1154.02 1459.36,1157.29 C1459.08,1160.57 1458.59,1165.53 1456.48,1169.14 C1454.36,1172.75 1450.26,1175.69 1446.65,1178.96 C1443.04,1182.24 1438.75,1185.51 1434.8,1188.79 C1430.86,1192.06 1425.94,1195.29 1422.96,1198.61 C1419.97,1201.93 1418.29,1205.4 1416.89,1208.72 C1415.49,1212.05 1415.06,1215.61 1414.58,1218.55 C1414.1,1221.48 1414.1,1225.05 1414,1226.35 L1414,1226.35 L1414,1021.78 Z" fill="#b15a42" fill-opacity="0.85" stroke="#000" stroke-width="1.3" stroke-linejoin="round"/>
<line x1="1402.3" y1="1128.69" x2="1402.3" y2="1155.27" stroke="#000" stroke-width="1.4"/>
<line x1="1402.3" y1="1180.41" x2="1402.3" y2="1213.35" stroke="#000" stroke-width="1.4"/>
<rect x="1396.38" y="1155.27" width="11.85" height="25.14" fill="#5f915e" stroke="#000" stroke-width="1.4"/>
<line x1="1396.38" y1="1167.98" x2="1408.22" y2="1167.98" stroke="#000" stroke-width="2.6"/>
<line x1="1425.27" y1="1085.93" x2="1425.27" y2="1124.35" stroke="#000" stroke-width="1.4"/>
<line x1="1425.27" y1="1164.52" x2="1425.27" y2="1199.48" stroke="#000" stroke-width="1.4"/>
<rect x="1419.49" y="1124.35" width="11.56" height="40.16" fill="#b5553d" stroke="#000" stroke-width="1.4"/>
<line x1="1419.49" y1="1149.78" x2="1431.05" y2="1149.78" stroke="#000" stroke-width="2.6"/>
<circle cx="1402.44" cy="1080.15" r="1.3" fill="#8a8a8a"/>
<circle cx="1402.44" cy="1100.37" r="1.3" fill="#8a8a8a"/>
<circle cx="1425.27" cy="1059.34" r="1.3" fill="#8a8a8a"/>
<circle cx="1425.27" cy="1063.68" r="1.3" fill="#8a8a8a"/>
<path d="M1526.69,1086.5 C1526.45,1087.18 1525.82,1088.91 1525.24,1090.55 C1524.66,1092.19 1523.36,1094.02 1523.22,1096.33 C1523.07,1098.64 1523.89,1102.11 1524.37,1104.42 C1524.86,1106.73 1525.96,1107.93 1526.11,1110.2 C1526.25,1112.46 1525.87,1115.06 1525.24,1118 C1524.62,1120.94 1523.65,1124.55 1522.35,1127.82 C1521.05,1131.1 1519.27,1134.85 1517.44,1137.65 C1515.61,1140.44 1513.68,1142.27 1511.37,1144.58 C1509.06,1146.89 1506.51,1149.06 1503.57,1151.51 C1500.63,1153.97 1496.68,1157 1493.75,1159.32 C1490.81,1161.63 1487.92,1163.41 1485.95,1165.38 C1483.97,1167.36 1482.09,1169.38 1481.9,1171.16 C1481.71,1172.94 1482.82,1174.44 1484.79,1176.07 C1486.76,1177.71 1489.94,1179.01 1493.75,1180.99 C1497.55,1182.96 1503.33,1185.61 1507.62,1187.92 C1511.9,1190.23 1516.53,1192.88 1519.46,1194.85 C1522.4,1196.83 1524.04,1197.45 1525.24,1199.77 C1526.45,1202.08 1526.45,1207.23 1526.69,1208.72 L1526.69,1208.72 L1526.69,1086.5 Z" fill="#689667" fill-opacity="0.85" stroke="#000" stroke-width="1.3" stroke-linejoin="round"/>
<path d="M1526.69,1021.78 C1526.93,1023.42 1527.65,1028.04 1528.13,1031.61 C1528.61,1035.17 1529.58,1039.26 1529.58,1043.16 C1529.58,1047.06 1528.52,1051.4 1528.13,1055.01 C1527.75,1058.62 1527.26,1061.56 1527.26,1064.83 C1527.26,1068.11 1527.65,1071.38 1528.13,1074.66 C1528.61,1077.93 1529.48,1081.5 1530.15,1084.48 C1530.83,1087.47 1531.36,1089.92 1532.18,1092.57 C1532.99,1095.22 1534.1,1097.44 1535.07,1100.37 C1536.03,1103.31 1537.47,1107.26 1537.95,1110.2 C1538.44,1113.13 1537.76,1115.4 1537.95,1118 C1538.15,1120.6 1537.95,1123.49 1539.11,1125.8 C1540.27,1128.11 1542.63,1129.89 1544.89,1131.87 C1547.15,1133.84 1550.14,1135.67 1552.69,1137.65 C1555.24,1139.62 1557.7,1141.59 1560.2,1143.71 C1562.71,1145.83 1565.84,1148.05 1567.71,1150.36 C1569.59,1152.67 1570.99,1154.93 1571.47,1157.58 C1571.95,1160.23 1572.43,1163.36 1570.6,1166.25 C1568.77,1169.14 1564.58,1172.03 1560.49,1174.92 C1556.4,1177.81 1550.38,1180.7 1546.04,1183.59 C1541.71,1186.48 1537.38,1189.36 1534.49,1192.25 C1531.6,1195.14 1530.01,1198.51 1528.71,1200.92 C1527.41,1203.33 1527.02,1205.74 1526.69,1206.7 L1526.69,1206.7 L1526.69,1021.78 Z" fill="#b15a42" fill-opacity="0.85" stroke="#000" stroke-width="1.3" stroke-linejoin="round"/>
<line x1="1515.71" y1="1127.24" x2="1515.71" y2="1152.67" stroke="#000" stroke-width="1.4"/>
<line x1="1515.71" y1="1174.34" x2="1515.71" y2="1187.34" stroke="#000" stroke-width="1.4"/>
<rect x="1509.93" y="1152.67" width="11.56" height="21.67" fill="#5f915e" stroke="#000" stroke-width="1.4"/>
<line x1="1509.93" y1="1166.83" x2="1521.49" y2="1166.83" stroke="#000" stroke-width="2.6"/>
<line x1="1538.39" y1="1101.24" x2="1538.39" y2="1139.38" stroke="#000" stroke-width="1.4"/>
<line x1="1538.39" y1="1167.12" x2="1538.39" y2="1181.27" stroke="#000" stroke-width="1.4"/>
<rect x="1533.04" y="1139.38" width="10.69" height="27.74" fill="#b5553d" stroke="#000" stroke-width="1.4"/>
<line x1="1533.04" y1="1156.71" x2="1543.73" y2="1156.71" stroke="#000" stroke-width="2.6"/>
<circle cx="1515.71" cy="1093.15" r="1.3" fill="#8a8a8a"/>
<circle cx="1515.71" cy="1099.79" r="1.3" fill="#8a8a8a"/>
<circle cx="1538.24" cy="1047.79" r="1.3" fill="#8a8a8a"/>
<circle cx="1538.24" cy="1078.99" r="1.3" fill="#8a8a8a"/>
<circle cx="1538.24" cy="1083.9" r="1.3" fill="#8a8a8a"/>
<path d="M1639.37,1092.86 C1639.27,1094.5 1639.18,1099.99 1638.79,1102.68 C1638.41,1105.38 1638.07,1106.92 1637.06,1109.04 C1636.05,1111.16 1634.7,1113.28 1632.72,1115.4 C1630.75,1117.52 1627.96,1119.68 1625.21,1121.75 C1622.47,1123.82 1619.19,1125.51 1616.26,1127.82 C1613.32,1130.13 1610.52,1133.07 1607.59,1135.62 C1604.65,1138.17 1600.85,1140.82 1598.63,1143.13 C1596.42,1145.45 1594.49,1147.61 1594.3,1149.49 C1594.1,1151.37 1595.69,1152.53 1597.47,1154.4 C1599.26,1156.28 1603.11,1158.64 1604.99,1160.76 C1606.87,1162.88 1607.92,1165.05 1608.74,1167.12 C1609.56,1169.19 1608.65,1171.31 1609.9,1173.18 C1611.15,1175.06 1613.7,1176.7 1616.26,1178.38 C1618.81,1180.07 1622.47,1181.61 1625.21,1183.3 C1627.96,1184.98 1630.65,1186.81 1632.72,1188.5 C1634.8,1190.18 1636.53,1190.28 1637.64,1193.41 C1638.74,1196.54 1639.08,1204.97 1639.37,1207.28 L1639.37,1207.28 L1639.37,1092.86 Z" fill="#689667" fill-opacity="0.85" stroke="#000" stroke-width="1.3" stroke-linejoin="round"/>
<path d="M1639.37,1120.31 C1639.95,1121.18 1641.01,1123.82 1642.84,1125.51 C1644.67,1127.2 1647.85,1128.98 1650.35,1130.42 C1652.85,1131.87 1655.98,1132.49 1657.86,1134.18 C1659.74,1135.86 1660.37,1138.42 1661.62,1140.53 C1662.87,1142.65 1664.31,1144.77 1665.37,1146.89 C1666.43,1149.01 1666.92,1151.18 1667.97,1153.25 C1669.03,1155.32 1669.85,1157.68 1671.73,1159.32 C1673.61,1160.95 1677.17,1161.77 1679.24,1163.07 C1681.31,1164.37 1683.96,1165.82 1684.15,1167.12 C1684.35,1168.42 1682.71,1169.62 1680.4,1170.87 C1678.09,1172.12 1674.04,1173.38 1670.29,1174.63 C1666.53,1175.88 1661.62,1177.13 1657.86,1178.38 C1654.11,1179.64 1650.4,1180.89 1647.75,1182.14 C1645.1,1183.39 1643.32,1184.45 1641.97,1185.9 C1640.62,1187.34 1640.09,1189.12 1639.66,1190.81 C1639.23,1192.49 1639.42,1195.14 1639.37,1196.01 L1639.37,1196.01 L1639.37,1120.31 Z" fill="#b15a42" fill-opacity="0.85" stroke="#000" stroke-width="1.3" stroke-linejoin="round"/>
<line x1="1628.39" y1="1114.24" x2="1628.39" y2="1140.25" stroke="#000" stroke-width="1.4"/>
<line x1="1628.39" y1="1166.25" x2="1628.39" y2="1185.03" stroke="#000" stroke-width="1.4"/>
<rect x="1622.32" y="1140.25" width="12.14" height="26" fill="#5f915e" stroke="#000" stroke-width="1.4"/>
<line x1="1622.32" y1="1152.38" x2="1634.46" y2="1152.38" stroke="#000" stroke-width="2.6"/>
<line x1="1651.07" y1="1133.02" x2="1651.07" y2="1147.47" stroke="#000" stroke-width="1.4"/>
<line x1="1651.07" y1="1168.56" x2="1651.07" y2="1177.23" stroke="#000" stroke-width="1.4"/>
<rect x="1645.44" y="1147.47" width="11.27" height="21.09" fill="#b5553d" stroke="#000" stroke-width="1.4"/>
<line x1="1645.44" y1="1162.78" x2="1656.71" y2="1162.78" stroke="#000" stroke-width="2.6"/>
<path d="M1402.44,1025.2 L1402.44,1021.6 L1425.27,1021.6 L1425.27,1025.2" fill="none" stroke="#000" stroke-width="1.5"/>
<text x="1413.86" y="1025" font-size="16" text-anchor="middle">***</text>
<path d="M1515.13,1025.2 L1515.13,1021.6 L1538.24,1021.6 L1538.24,1025.2" fill="none" stroke="#000" stroke-width="1.5"/>
<text x="1526.69" y="1025" font-size="16" text-anchor="middle">**</text>
<path d="M1628.1,1025.2 L1628.1,1021.6 L1651.22,1021.6 L1651.22,1025.2" fill="none" stroke="#000" stroke-width="1.5"/>
<text x="1639.66" y="1025" font-size="16" text-anchor="middle">*</text>
<rect x="1346.1" y="1010.2" width="361.2" height="234.1" fill="none" stroke="#000" stroke-width="1.6"/>
<line x1="1341.1" y1="1031.7" x2="1346.1" y2="1031.7" stroke="#000" stroke-width="1.4"/>
<text font-size="11.3" text-anchor="end" transform="translate(1337.6 1035.7) scale(1 1.1)">15</text>
<line x1="1341.1" y1="1072.7" x2="1346.1" y2="1072.7" stroke="#000" stroke-width="1.4"/>
<text font-size="11.3" text-anchor="end" transform="translate(1337.6 1076.7) scale(1 1.1)">10</text>
<line x1="1341.1" y1="1113.7" x2="1346.1" y2="1113.7" stroke="#000" stroke-width="1.4"/>
<text font-size="11.3" text-anchor="end" transform="translate(1337.6 1117.7) scale(1 1.1)">5</text>
<line x1="1341.1" y1="1154.7" x2="1346.1" y2="1154.7" stroke="#000" stroke-width="1.4"/>
<text font-size="11.3" text-anchor="end" transform="translate(1337.6 1158.7) scale(1 1.1)">0</text>
<line x1="1341.1" y1="1195.7" x2="1346.1" y2="1195.7" stroke="#000" stroke-width="1.4"/>
<text font-size="11.3" text-anchor="end" transform="translate(1337.6 1199.7) scale(1 1.1)">&#8722;5</text>
<line x1="1341.1" y1="1236.7" x2="1346.1" y2="1236.7" stroke="#000" stroke-width="1.4"/>
<text font-size="11.3" text-anchor="end" transform="translate(1337.6 1240.7) scale(1 1.1)">&#8722;10</text>
<line x1="1414" y1="1244.3" x2="1414" y2="1249.3" stroke="#000" stroke-width="1.4"/>
<text font-size="11.2" text-anchor="middle" transform="translate(1414 1262.2) scale(1 1.1)">TMEscore</text>
<line x1="1526.7" y1="1244.3" x2="1526.7" y2="1249.3" stroke="#000" stroke-width="1.4"/>
<text font-size="11.2" text-anchor="middle" transform="translate(1526.7 1262.2) scale(1 1.1)">TMEscoreA</text>
<line x1="1639.4" y1="1244.3" x2="1639.4" y2="1249.3" stroke="#000" stroke-width="1.4"/>
<text font-size="11.2" text-anchor="middle" transform="translate(1639.4 1262.2) scale(1 1.1)">TMEscoreB</text>
<text x="1310.8" y="1127.25" font-size="13" text-anchor="middle" transform="rotate(-90 1310.8 1127.25)">Tumor Microenvironment</text>
<text x="1273.7" y="1031" font-size="35" text-anchor="start">N</text>
<text font-size="11.2" text-anchor="start" transform="translate(1712.7 1116.8) scale(1 1.1)">GRN</text>
<rect x="1713.2" y="1121.8" width="12" height="12" fill="#659165" stroke="#000" stroke-width="1.5"/>
<rect x="1713.2" y="1135.4" width="12" height="12" fill="#a85540" stroke="#000" stroke-width="1.5"/>
<text font-size="11.2" text-anchor="start" transform="translate(1731.7 1131.9) scale(1 1.1)">Low</text>
<text font-size="11.2" text-anchor="start" transform="translate(1731.7 1145.2) scale(1 1.1)">High</text>
</svg></body></html>
